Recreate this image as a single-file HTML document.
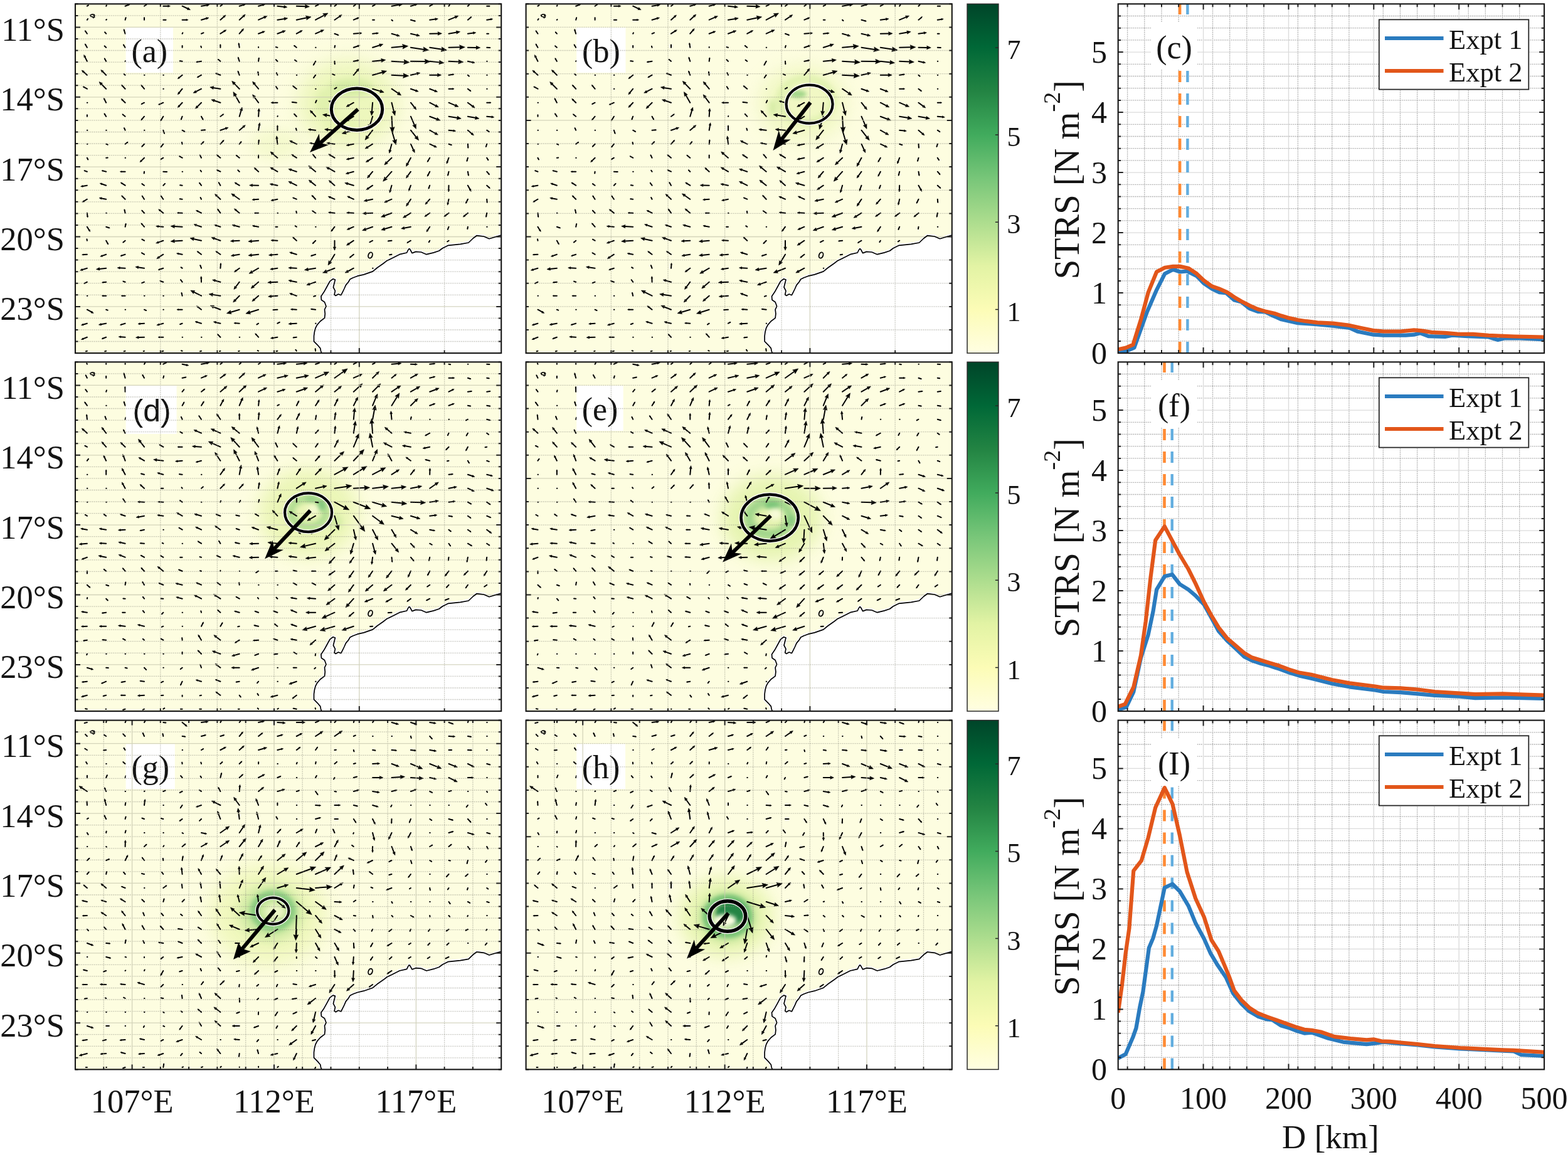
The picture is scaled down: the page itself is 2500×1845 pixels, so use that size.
<!DOCTYPE html><html><head><meta charset="utf-8"><title>STRS maps</title><style>html,body{margin:0;padding:0;background:#fff;}svg{display:block;}text{font-family:"Liberation Serif","Times New Roman",serif;fill:#141414;}</style></head><body><svg xmlns="http://www.w3.org/2000/svg" width="2500" height="1845" viewBox="0 0 2500 1845" font-family="Liberation Serif, Times New Roman, serif" fill="#000"><defs><clipPath id="clip_a"><rect x="120" y="6.3" width="679.2" height="556.8"/></clipPath><clipPath id="clip_b"><rect x="838.6" y="6.3" width="679.2" height="556.8"/></clipPath><clipPath id="clip_d"><rect x="120" y="577.3" width="679.2" height="556.8"/></clipPath><clipPath id="clip_e"><rect x="838.6" y="577.3" width="679.2" height="556.8"/></clipPath><clipPath id="clip_g"><rect x="120" y="1148.6" width="679.2" height="556.8"/></clipPath><clipPath id="clip_h"><rect x="838.6" y="1148.6" width="679.2" height="556.8"/></clipPath><linearGradient id="cbg" x1="0" y1="0" x2="0" y2="1"><stop offset="0.000" stop-color="#004529"/><stop offset="0.125" stop-color="#006837"/><stop offset="0.250" stop-color="#238443"/><stop offset="0.375" stop-color="#41ab5d"/><stop offset="0.500" stop-color="#78c679"/><stop offset="0.625" stop-color="#addd8e"/><stop offset="0.750" stop-color="#e2f3a4"/><stop offset="0.875" stop-color="#fcfcb6"/><stop offset="1.000" stop-color="#fffee2"/></linearGradient><clipPath id="pclip0"><rect x="1782.7" y="6.3" width="679.4" height="556.8"/></clipPath><clipPath id="pclip1"><rect x="1782.7" y="577.3" width="679.4" height="556.8"/></clipPath><clipPath id="pclip2"><rect x="1782.7" y="1148.6" width="679.4" height="556.8"/></clipPath><filter id="bl3" x="-60%" y="-60%" width="220%" height="220%"><feGaussianBlur stdDeviation="3"/></filter><filter id="bl4" x="-60%" y="-60%" width="220%" height="220%"><feGaussianBlur stdDeviation="4"/></filter><filter id="bl5" x="-60%" y="-60%" width="220%" height="220%"><feGaussianBlur stdDeviation="5"/></filter><filter id="bl6" x="-60%" y="-60%" width="220%" height="220%"><feGaussianBlur stdDeviation="6"/></filter><filter id="bl7" x="-60%" y="-60%" width="220%" height="220%"><feGaussianBlur stdDeviation="7"/></filter><filter id="bl9" x="-60%" y="-60%" width="220%" height="220%"><feGaussianBlur stdDeviation="9"/></filter><filter id="bl10" x="-60%" y="-60%" width="220%" height="220%"><feGaussianBlur stdDeviation="10"/></filter><filter id="bl13" x="-60%" y="-60%" width="220%" height="220%"><feGaussianBlur stdDeviation="13"/></filter><filter id="bl14" x="-60%" y="-60%" width="220%" height="220%"><feGaussianBlur stdDeviation="14"/></filter><filter id="bl15" x="-60%" y="-60%" width="220%" height="220%"><feGaussianBlur stdDeviation="15"/></filter><filter id="bl16" x="-60%" y="-60%" width="220%" height="220%"><feGaussianBlur stdDeviation="16"/></filter></defs><rect width="2500" height="1845" fill="#fff"/><g clip-path="url(#clip_a)"><rect x="120" y="6.3" width="679.2" height="556.8" fill="#fdfde0"/><ellipse cx="555" cy="165" rx="80" ry="70" fill="#e9f5b4" opacity="0.8" filter="url(#bl15)"/><ellipse cx="560" cy="140" rx="35" ry="14" fill="#cfe99e" opacity="0.8" filter="url(#bl6)"/><ellipse cx="520" cy="165" rx="18" ry="25" fill="#dcefa8" opacity="0.7" filter="url(#bl6)"/><ellipse cx="545" cy="200" rx="30" ry="10" fill="#e0f1ab" opacity="0.6" filter="url(#bl6)"/><ellipse cx="440" cy="230" rx="40" ry="25" fill="#f0f8c2" opacity="0.6" filter="url(#bl10)"/><path d="M799.2 375 L780 380.7 L771.4 377 L760 375.7 L754.3 380 L747 387 L734 389.3 L714.3 391.4 L705.7 395.7 L700 400 L691.4 402.9 L680 405.7 L671.4 402 L662.9 401.4 L657 403.6 L654 398 L652.5 396.5 L650.5 399 L648.6 403 L637 405.7 L625.7 411.4 L617 415.7 L611.4 420 L601.4 427 L594.3 432.9 L580 437.9 L570 440.2 L563.2 442.7 L558.1 445.3 L555.6 449.5 L551.4 454.6 L548.8 460.5 L546.3 465.6 L543.7 470.7 L539.5 469 L535.3 471.5 L533.1 469.8 L534.4 463.9 L531.4 458 L534.4 446.1 L531 444.8 L525.9 448.6 L520.8 458 L516.6 465.6 L511.9 472.4 L512.4 478.3 L517.5 481.7 L520 488.5 L517.5 493.6 L518.3 500.3 L517.5 507.1 L510.7 512.2 L505.6 518.1 L503 523.2 L501.4 529.2 L500.5 535.9 L500.5 544.4 L506.4 550.3 L510.7 555.4 L511.5 559.7 L512.8 563.1 L799.2 565.1 L801.2 375 Z" fill="#fff" stroke="#fff" stroke-width="5" stroke-linejoin="round"/><path d="M144 24.3 l3 -1.5 l3 0.5 l1 1.5 l-1.5 0.3 l1.2 2.2 l-1.8 1.2 l-1.5 -1.8 l-2.5 -0.4 z" fill="none" stroke="#000" stroke-width="1.6"/><path d="M138.9 9.7L140.8 8.4M169.2 9.7L169.9 8.4M199.6 9.7L205.4 7.5M230 9.7L233.2 7.5M260.3 9.7L268.2 9.7M290.6 9.7L299.8 14M321 9.7L330.2 8.2M351.4 9.7L353.9 7.8M381.7 9.7L388.4 7.9M412.1 9.7L419.4 7.9M442.4 9.7L453.4 10.9M472.8 9.7L487.4 10.3M503.1 9.7L506.9 7.8M533.5 9.7L536 7.8M563.8 9.7L566.4 7.8M594.1 9.7L597.4 7.8M624.5 9.7L636.7 7.6M654.9 9.7L662.2 7.6M685.2 9.7L689 7.5M715.5 9.7L716.8 7.8M745.9 9.7L747.8 7.8M776.2 9.7L780.1 9.7M138.9 31.7L139.9 30.2M169.2 31.7L169.9 31.1M199.6 31.7L200.5 28.5M230 31.7L230 28.5M260.3 31.7L264.1 31.7M290.6 31.7L297.4 31.7M321 31.7L329.6 29.3M351.4 31.7L357.5 26.2M381.7 31.7L388.4 25.6M412.1 31.7L421.8 27.4M442.4 31.7L454 29.9M472.8 31.7L489.2 28.3M503.1 31.7L517.2 24.1M533.5 31.7L541.8 26M563.8 31.7L570.2 29M594.1 31.7L596.7 31.7M624.5 31.7L625.8 33M654.9 31.7L660.9 33.4M685.2 31.7L694.6 30.5M715.5 31.7L726.5 27.1M745.9 31.7L750.4 27.9M776.2 31.7L783 30.7M138.9 53.7L136.3 49.9M169.2 53.7L167.3 51.5M199.6 53.7L197.9 48.2M290.6 53.7L291.3 52.4M321 53.7L324.2 52.4M351.4 53.7L358.1 49.4M381.7 53.7L386.6 48M412.1 53.7L419.4 51M442.4 53.7L451.6 50.3M472.8 53.7L479.5 50M503.1 53.7L512.6 49.4M533.5 53.7L538.6 55.6M563.8 53.7L573.2 53.1M594.1 53.7L600.9 53.1M624.5 53.7L633.7 56.4M654.9 53.7L665.1 56.1M685.2 53.7L698.9 53.5M715.5 53.7L728.4 51.5M745.9 53.7L755.1 52.5M776.2 53.7L778.8 53.7M138.9 75.7L136.3 71.2M169.2 75.7L166.8 73.5M199.6 75.7L197.3 71.9M290.6 75.7L290.6 73.1M321 75.7L320.4 73.8M351.4 75.7L351.4 71.9M381.7 75.7L380.8 70.2M412.1 75.7L412.1 75.1M442.4 75.7L440.1 75.1M472.8 75.7L469.5 73.1M503.1 75.7l0.5 0M533.5 75.7L534.1 72.9M563.8 75.7L571.1 73.3M594.1 75.7L606 72M624.5 75.7L643.1 74.1M654.9 75.7L676 78.9M685.2 75.7L705 78.8M715.5 75.7L733.9 75.3M745.9 75.7L760 75.9M776.2 75.7L780.7 76M138.9 97.7L135.2 90.4M169.2 97.7L167.1 93.9M199.6 97.7L200.2 97.1M290.6 97.7L287.1 97.3M321 97.7L314.6 98.7M351.4 97.7L348.3 95.1M381.7 97.7L380 92.6M412.1 97.7L412.7 93.2M442.4 97.7L440.1 95.4M472.8 97.7L470.2 95.8M503.1 97.7L500.3 102.8M533.5 97.7L533.7 101.8M563.8 97.7L570.2 96.5M594.1 97.7L608.8 96.2M624.5 97.7L645.2 99M654.9 97.7L678.5 98.1M685.2 97.7L701.3 99.5M715.5 97.7L732 98.6M745.9 97.7L753.8 99.4M776.2 97.7l0.5 0M138.9 119.7L132.8 114.2M169.2 119.7L163.3 113.8M199.6 119.7L197.9 118.2M230 119.7l0.5 0M260.3 119.7l0.5 0M290.6 119.7L285.4 124M321 119.7L315.9 122.6M351.4 119.7L345.5 117.5M381.7 119.7L379.8 114.6M412.1 119.7L411.4 115.2M442.4 119.7L441 116.5M472.8 119.7l0.5 0M503.1 119.7L500.4 123.5M533.5 119.7L530.5 118.4M563.8 119.7L570.2 112.1M594.1 119.7L610 115.2M624.5 119.7L644 120.7M654.9 119.7L665.5 117.3M685.2 119.7L698.3 119.7M715.5 119.7L722 118.8M745.9 119.7L747.8 121.4M776.2 119.7l0.5 0M138.9 141.7L133.8 138.9M169.2 141.7L161.3 133.8M199.6 141.7L195.1 136.8M230 141.7L226.1 136.8M260.3 141.7l0.5 0M290.6 141.7L285.4 148.2M321 141.7L311.8 146.3M351.4 141.7L339.6 139.9M381.7 141.7L373.1 132.9M412.1 141.7L405.3 133.4M442.4 141.7L440.4 138.5M472.8 141.7L468 137.9M503.1 141.7l0.5 0M533.5 141.7L536.3 139.8M594.1 141.7L607 145.6M624.5 141.7L635.3 149M654.9 141.7L663.6 144.8M685.2 141.7L694 145.1M715.5 141.7L722 141.7M745.9 141.7L749.7 144.6M776.2 141.7l0.5 0M138.9 163.7l0.5 0M169.2 163.7L166.4 158.2M199.6 163.7L195 159.2M230 163.7L226.1 165.6M260.3 163.7L254.4 166.3M290.6 163.7L285.4 169.2M321 163.7L314.3 170.4M351.4 163.7L341.1 160.3M381.7 163.7L374.7 151.5M412.1 163.7L405.3 154.5M442.4 163.7L434.9 163.7M472.8 163.7L466.7 163.1M503.1 163.7L504.5 160.5M533.5 163.7L526.4 161.9M563.8 163.7L555.5 168.3M594.1 163.7L592.9 178.4M624.5 163.7L628.2 178.4M654.9 163.7L661.2 171.6M685.2 163.7L695.2 168.8M715.5 163.7L726.5 168.3M745.9 163.7L753.8 169.6M776.2 163.7L781.4 163.7M138.9 185.7L138.9 183.4M169.2 185.7L166.8 181.9M199.6 185.7L196 182.8M230 185.7L226.1 190.4M260.3 185.7L257 191.2M290.6 185.7L289 189.9M321 185.7L323.3 189.9M351.4 185.7L355.4 182.8M381.7 185.7L384.8 175.3M412.1 185.7L412.7 176.5M442.4 185.7L442.7 185.1M472.8 185.7L469.5 182.2M503.1 185.7L496.9 178.7M533.5 185.7L520 183.6M563.8 185.7L555.2 191.2M594.1 185.7L589.6 200.4M624.5 185.7L625.5 204M654.9 185.7L661 199.8M685.2 185.7L697.1 190.2M715.5 185.7L729.6 188.1M745.9 185.7L758.7 188.1M776.2 185.7L784.4 186.6M138.9 207.7l0.5 0M169.2 207.7l0.5 0M199.6 207.7L198.2 204.5M230 207.7l0.5 0M260.3 207.7L261.8 212.2M290.6 207.7L294.1 209.6M321 207.7L326.4 207.3M351.4 207.7L360.4 204.6M381.7 207.7L388.4 202M412.1 207.7L413.5 199.1M442.4 207.7L442.4 201.7M472.8 207.7L471.9 204.9M503.1 207.7L494.7 206.7M533.5 207.7L522.1 206.7M563.8 207.7L550.6 211.4M594.1 207.7L585.6 218.7M624.5 207.7L629.4 224.2M654.9 207.7L663.9 219.1M685.2 207.7L694.6 213M715.5 207.7L723.5 208.6M745.9 207.7L752.6 213.4M776.2 207.7L779.5 209.9M138.9 229.7l0.5 0M169.2 229.7L171.6 230.7M199.6 229.7L203.1 227.1M230 229.7L226.7 233.3M260.3 229.7L257 233.8M290.6 229.7L290 227.1M321 229.7L324.2 226.5M351.4 229.7L355.7 224.8M381.7 229.7L384.3 226.5M412.1 229.7L412.7 224.3M442.4 229.7L441.4 220.5M472.8 229.7L464.8 225.8M503.1 229.7L496.3 228.5M533.5 229.7L524.5 228.5M563.8 229.7L555.5 231.3M594.1 229.7L585.6 235M624.5 229.7L621.8 240.1M654.9 229.7L659.4 239.5M685.2 229.7L693.1 233.4M715.5 229.7L719.4 231M745.9 229.7L746.3 234.8M776.2 229.7L775 233.5M138.9 251.7L140.2 254.3M169.2 251.7L171.6 251.4M199.6 251.7l0.5 0M230 251.7L225.1 256.6M260.3 251.7L257 253.6M290.6 251.7L286.7 249.5M321 251.7L319.1 247.9M351.4 251.7L346.7 247.9M381.7 251.7L377.5 248.2M412.1 251.7L412.1 247.9M442.4 251.7L434.3 244.7M472.8 251.7L467 247.8M503.1 251.7L499.4 247.2M533.5 251.7L526.6 247.4M563.8 251.7L555.5 253.5M594.1 251.7L586.5 256.6M624.5 251.7L616.2 259.6M654.9 251.7L649.6 261.5M685.2 251.7L682.3 256.8M715.5 251.7L713.1 258.4M745.9 251.7L744.6 256.2M776.2 251.7L778.2 254.9M138.9 273.7L135.1 272.4M169.2 273.7L163.9 272.4M199.6 273.7L193.5 273.7M230 273.7L229.7 276.3M260.3 273.7L265.4 274M290.6 273.7l0.5 0M321 273.7L319.7 271.8M351.4 273.7L346.7 271.5M381.7 273.7L379.5 271.5M412.1 273.7L407.2 269.2M442.4 273.7L434.1 268.8M472.8 273.7L463.6 270.6M503.1 273.7L495 267M533.5 273.7L523.7 268.2M563.8 273.7L554.9 276.1M594.1 273.7L588 281M624.5 273.7L614.7 284.7M654.9 273.7L649.6 281M685.2 273.7L682.3 279.5M715.5 273.7L714.3 278.8M745.9 273.7L746.8 278.8M776.2 273.7L779.5 277.5M138.9 295.7L131.6 296.9M169.2 295.7L162 293.3M199.6 295.7L194.1 292.1M230 295.7L226.7 293.4M260.3 295.7L262.7 293.1M290.6 295.7L287.4 295.3M321 295.7L318.4 292.1M351.4 295.7L349 291.6M381.7 295.7L376.2 292.3M412.1 295.7L401.8 295.5M442.4 295.7L433.7 294M472.8 295.7L463.6 291.2M503.1 295.7L495.4 289.6M533.5 295.7L527 290M563.8 295.7L553.8 292.8M594.1 295.7L586.9 300.6M624.5 295.7L622.2 304M654.9 295.7L652.5 302.2M685.2 295.7L683.7 299.9M715.5 295.7L715.3 303M745.9 295.7L749.7 302.5M776.2 295.7L780.1 299.3M138.9 317.7L133.4 321M169.2 317.7L161.3 316.2M199.6 317.7L195.1 313.2M230 317.7L227.1 313.2M260.3 317.7L257.2 313.2M290.6 317.7L287.1 317.3M321 317.7L319.7 315.1M351.4 317.7L345.1 311.8M381.7 317.7L372.5 311.3M412.1 317.7L404.8 318.3M442.4 317.7L434.9 319.2M472.8 317.7L468 315.7M503.1 317.7L498.5 312.8M533.5 317.7L526.1 314.5M563.8 317.7L556.6 314.3M594.1 317.7L584.3 319.8M624.5 317.7L616.1 321.4M654.9 317.7L649.7 325.6M685.2 317.7L680.1 323.6M715.5 317.7L714.1 324.4M745.9 317.7L743.5 322.8M776.2 317.7L776.6 322.2M138.9 339.7L139.5 345.1M169.2 339.7l0.5 0M199.6 339.7L198.6 335.1M230 339.7L226.7 336.1M260.3 339.7L254.9 335.4M290.6 339.7L284.5 339.4M321 339.7L314.9 336.6M351.4 339.7L347.8 334.6M381.7 339.7L375.8 334.8M412.1 339.7L407.1 339.7M442.4 339.7l0.5 0M472.8 339.7L472.4 337.1M503.1 339.7L498.9 336.8M533.5 339.7L526.4 339M563.8 339.7L555.7 339.3M594.1 339.7L582.8 340.2M624.5 339.7L612.4 344.2M654.9 339.7L646.1 345.1M685.2 339.7L679.3 343.9M715.5 339.7L710.1 343.9M745.9 339.7L740.5 344.2M776.2 339.7L775.2 344.8M138.9 361.7L142.3 367.2M169.2 361.7L173.7 363.2M199.6 361.7L200.5 357.5M230 361.7L226.1 357.2M260.3 361.7L252 361M290.6 361.7L277.5 361M321 361.7L312.4 358.9M351.4 361.7L344.5 359.5M381.7 361.7L373.4 359.5M412.1 361.7L405.1 360.4M442.4 361.7L439.7 361.7M472.8 361.7L470.8 360.4M503.1 361.7l0.5 0M533.5 361.7L529.4 367.1M563.8 361.7L556.2 365M594.1 361.7L582.4 365.9M624.5 361.7L612.6 365.2M654.9 361.7L644 363.8M685.2 361.7L681.5 367.4M715.5 361.7L714 365.5M745.9 361.7L745.4 364.8M776.2 361.7l0.5 0M138.9 383.7L138.5 381.5M169.2 383.7L171.8 388.4M199.6 383.7L196.7 386.3M230 383.7L226.7 381.8M260.3 383.7L252 386.6M290.6 383.7L277.5 384.6M321 383.7L308.2 380.9M351.4 383.7L341.1 380M381.7 383.7L371.6 384.3M412.1 383.7L400.6 384.7M442.4 383.7L434.9 383.3M472.8 383.7L468 379.2M503.1 383.7L499.4 387.5M533.5 383.7L533.5 394.7M563.8 383.7L555.7 389.1M594.1 383.7L589.9 385.9M624.5 383.7L619.5 384.3M654.9 383.7L650.2 386.5M685.2 383.7L683.9 386M715.5 383.7L713.4 385.2M138.9 405.7L132.8 406.1M169.2 405.7L162.5 408.1M199.6 405.7L193.8 407.6M230 405.7L226.4 403.5M260.3 405.7L252.8 410.6M290.6 405.7L284.2 404.5M321 405.7L315.9 401.9M351.4 405.7L346 402M381.7 405.7L372.2 407.3M412.1 405.7L400.6 406.9M442.4 405.7L432.5 406.6M472.8 405.7L464.8 403.3M503.1 405.7L497.2 407.6M533.5 405.7L526.1 417.9M563.8 405.7L558.8 409.8M624.5 405.7L621.3 406.3M138.9 427.7L131 430.1M169.2 427.7L158 428.9M199.6 427.7L190.7 427.2M230 427.7L219.9 426.2M260.3 427.7L254.2 429.7M290.6 427.7L288.7 426.4M321 427.7L319.5 423.6M351.4 427.7L351.9 421.6M381.7 427.7L375.8 432.1M412.1 427.7L401.4 433.8M442.4 427.7L434.1 428.9M472.8 427.7L463.6 427.2M503.1 427.7L490.5 429.7M533.5 427.7L520 433M563.8 427.7L554.1 433M594.1 427.7l0.5 0M138.9 449.7L135.1 451.6M169.2 449.7L164.3 450.3M199.6 449.7L196.7 448.7M230 449.7L226.4 451.2M260.3 449.7L255.9 448.2M290.6 449.7L288.3 446.5M321 449.7L320.8 443.2M351.4 449.7L342.3 447.3M381.7 449.7L375.5 458M412.1 449.7L403.6 457M442.4 449.7L431.3 450.3M472.8 449.7L463.6 447.9M503.1 449.7L493 453.1M138.9 471.7l0.5 0M169.2 471.7L164.1 471.7M199.6 471.7L194.9 471.7M230 471.7l0.5 0M260.3 471.7l0.5 0M290.6 471.7L289.6 467.5M321 471.7L308.8 465.6M351.4 471.7L338.4 469.7M381.7 471.7L374.6 479M412.1 471.7L404.8 478.1M442.4 471.7L431.9 472.6M472.8 471.7L464.8 468.9M503.1 471.7L500.4 472.6M138.9 493.7L146.2 497.7M169.2 493.7L171.6 494.6M199.6 493.7l0.5 0M230 493.7L232.8 495M260.3 493.7l0.5 0M290.6 493.7L284.1 493.7M321 493.7L315.5 489.4M351.4 493.7L339.9 489.2M381.7 493.7L367.3 498M412.1 493.7L397.8 498.2M442.4 493.7L436.5 494.1M472.8 493.7L466 493.3M503.1 493.7L497.2 493.1M138.9 515.7L132.2 517.8M169.2 515.7L160.8 517.3M199.6 515.7L193.5 517.6M230 515.7L222.9 516.3M260.3 515.7L252.8 517.8M290.6 515.7L287.4 517M321 515.7L313.9 513.6M351.4 515.7L343.5 513.9M381.7 515.7L375.2 515.3M412.1 515.7L409.6 517.4M442.4 515.7L445.5 514M472.8 515.7L463.6 516.3M503.1 515.7l0.5 0M138.9 537.7L132.2 540.4M169.2 537.7L163.9 539.7M199.6 537.7L192.1 537.2M230 537.7L220.4 538.1M260.3 537.7L254.2 537.7M290.6 537.7l0.5 0M321 537.7l0.5 0M351.4 537.7L347.8 533.9M381.7 537.7l0.5 0M412.1 537.7L408.1 533.2M442.4 537.7L434.6 538.9M472.8 537.7L468.3 538.3M138.9 559.7L137 560.3M169.2 559.7L167.3 560.3M199.6 559.7L197.7 560.3M230 559.7L228.7 560.1M260.3 559.7L258.4 560.3M290.6 559.7L289.1 559.3M321 559.7L319.1 560.3M351.4 559.7L350.1 560.1M381.7 559.7L380.2 560.1M412.1 559.7L410.8 559.1M442.4 559.7L440.5 560.1M472.8 559.7L471.5 557.8M503.1 559.7L502.7 556.5" stroke="#000" stroke-width="2" fill="none" stroke-linecap="round"/><path d="M141.5 8L140.9 8.8L140.8 8.4L140.5 8.2ZM170.1 8L170.1 8.6L169.9 8.4L169.6 8.4ZM207.3 6.8L205.4 8.6L205.4 7.5L204.6 6.7ZM234.2 6.8L233.3 8.2L233.2 7.5L232.6 7.1ZM271.5 9.7L267.7 11.3L268.2 9.7L267.7 8.1ZM303.5 15.7L298.3 15.5L299.8 14L300 11.8ZM333.9 7.6L329.8 10.2L330.2 8.2L329.2 6.5ZM354.8 7.1L354.1 8.3L353.9 7.8L353.4 7.5ZM391.2 7.1L388.3 9.3L388.4 7.9L387.6 6.6ZM422.4 7.1L419.2 9.5L419.4 7.9L418.5 6.5ZM457.9 11.4L452.4 13L453.4 10.9L452.9 8.6ZM493.4 10.6L486.2 13.2L487.4 10.3L486.5 7.3ZM508.3 7.1L507 8.5L506.9 7.8L506.4 7.2ZM536.9 7.1L536.2 8.3L536 7.8L535.5 7.5ZM567.2 7.1L566.5 8.3L566.4 7.8L565.9 7.5ZM598.4 7.1L597.5 8.4L597.4 7.8L596.8 7.4ZM641.7 6.8L636.3 10.2L636.7 7.6L635.4 5.3ZM665.2 6.8L662.1 9.2L662.2 7.6L661.2 6.3ZM690.4 6.8L689.2 8.3L689 7.5L688.4 7ZM717.3 7.1L717.1 8.1L716.8 7.8L716.4 7.7ZM748.5 7.1L748 8.2L747.8 7.8L747.4 7.6ZM781.4 9.7L779.9 10.3L780.1 9.7L779.9 9.1ZM140.3 29.6L140.1 30.4L139.9 30.2L139.6 30.1ZM170.1 30.8L170 31.2L169.9 31.1L169.7 31ZM200.8 27.4L201 28.8L200.5 28.5L199.9 28.5ZM230 27.4L230.5 28.7L230 28.5L229.4 28.7ZM265.5 31.7L263.9 32.3L264.1 31.7L263.9 31.1ZM300.1 31.7L296.9 33L297.4 31.7L296.9 30.4ZM333 28.3L329.4 31.1L329.6 29.3L328.4 27.7ZM359.9 24L358.1 27.8L357.5 26.2L355.9 25.4ZM391.2 23.1L389.2 27.4L388.4 25.6L386.7 24.7ZM425.8 25.7L422 29.7L421.8 27.4L420.3 25.8ZM458.7 29.1L453.5 32.3L454 29.9L452.8 27.7ZM496 26.9L488.8 31.8L489.2 28.3L487.4 25.2ZM522.9 21L517.7 27.5L517.2 24.1L514.6 21.8ZM545.1 23.6L542.3 28L541.8 26L540 24.7ZM572.7 27.9L570.2 30.5L570.2 29L569.2 27.9ZM597.6 31.7L596.6 32.1L596.7 31.7L596.6 31.3ZM626.2 33.4L625.5 33.1L625.8 33L625.9 32.7ZM662.9 33.9L660.2 34.3L660.9 33.4L660.8 32.2ZM698.4 30L694.2 32.5L694.6 30.5L693.7 28.7ZM731 25.2L726.7 29.6L726.5 27.1L724.8 25.2ZM751.9 26.5L750.8 28.8L750.4 27.9L749.5 27.3ZM785.7 30.3L782.7 32.1L783 30.7L782.3 29.4ZM135.5 48.5L137.1 49.7L136.3 49.9L135.8 50.5ZM166.7 50.8L167.8 51.3L167.3 51.5L167.1 52ZM197.4 46.3L199 48.2L197.9 48.2L197.1 48.8ZM291.5 52L291.5 52.6L291.3 52.4L291 52.4ZM325.3 52L324.2 53L324.2 52.4L323.8 52ZM360.8 47.7L358.4 51.1L358.1 49.4L356.7 48.4ZM388.6 45.6L387.4 49.4L386.6 48L385.1 47.4ZM422.4 49.9L419.4 52.7L419.4 51L418.3 49.7ZM455.3 48.9L451.6 52.4L451.6 50.3L450.2 48.7ZM482.2 48.5L479.7 51.6L479.5 50L478.3 48.9ZM516.5 47.7L512.8 51.6L512.6 49.4L511.1 47.8ZM540.3 56.3L537.9 56.4L538.6 55.6L538.6 54.6ZM577 52.8L572.7 55L573.2 53.1L572.4 51.2ZM603.6 52.8L600.5 54.5L600.9 53.1L600.3 51.8ZM637.4 57.5L632.5 58L633.7 56.4L633.5 54.4ZM669.3 57.1L663.9 58L665.1 56.1L664.9 53.9ZM704.5 53.4L698 56.2L698.9 53.5L697.9 50.7ZM733.6 50.6L727.9 54.2L728.4 51.5L727 49.1ZM758.8 52L754.7 54.4L755.1 52.5L754.2 50.7ZM779.7 53.7L778.7 54.1L778.8 53.7L778.7 53.3ZM135.5 69.7L137.3 71.1L136.3 71.2L135.7 71.9ZM166 72.8L167.3 73.2L166.8 73.5L166.6 74.1ZM196.5 70.5L198.1 71.7L197.3 71.9L196.8 72.5ZM290.6 72.3L291.1 73.3L290.6 73.1L290.2 73.3ZM320.1 73.1L320.7 73.8L320.4 73.8L320.1 74ZM351.4 70.5L352 72.1L351.4 71.9L350.7 72.1ZM380.5 68.3L381.8 70.4L380.8 70.2L379.9 70.7ZM412.1 74.8L412.2 75.1L412.1 75.1L411.9 75.1ZM439.3 74.8L440.3 74.7L440.1 75.1L440.1 75.5ZM468.5 72.3L470.2 72.8L469.5 73.1L469.3 73.8ZM534.3 71.9L534.5 73.2L534.1 72.9L533.6 72.9ZM574.1 72.3L571.1 74.9L571.1 73.3L570.1 72ZM610.8 70.5L605.9 74.7L606 72L604.4 69.9ZM650.6 73.5L642.1 78L643.1 74.1L641.4 70.5ZM683.6 80L674.1 82.4L676 78.9L675.2 74.9ZM712.5 80L703.1 82.3L705 78.8L704.2 74.9ZM741.3 75.2L732.6 79L733.9 75.3L732.5 71.7ZM765.7 76L758.9 78.7L760 75.9L759 73.1ZM782.3 76L780.4 76.7L780.7 76L780.5 75.2ZM133.7 87.4L137 90.2L135.2 90.4L134 91.6ZM166.3 92.5L167.9 93.7L167.1 93.9L166.6 94.5ZM200.5 96.8L200.3 97.2L200.2 97.1L200.1 97ZM285.8 97.2L287.3 96.7L287.1 97.3L287.2 97.9ZM312.4 99.1L314.8 97.6L314.6 98.7L315.2 99.7ZM347.2 94.3L348.9 94.8L348.3 95.1L348 95.8ZM379.5 90.8L381 92.6L380 92.6L379.3 93.2ZM412.9 91.7L413.4 93.6L412.7 93.2L411.9 93.4ZM439.3 94.6L440.6 95.1L440.1 95.4L439.8 95.9ZM469.3 95.1L470.7 95.5L470.2 95.8L470 96.3ZM499.3 104.6L499.6 102L500.3 102.8L501.3 103ZM533.8 103.2L533 101.6L533.7 101.8L534.4 101.5ZM572.7 96L569.9 97.8L570.2 96.5L569.5 95.3ZM614.8 95.6L608.1 99.3L608.8 96.2L607.5 93.4ZM652.9 99.4L643.6 102.6L645.2 99L644.1 95.1ZM686.1 98.2L677.1 101.8L678.5 98.1L677.2 94.3ZM707.9 100.3L699.8 102.6L701.3 99.5L700.5 96.2ZM738.8 98.9L730.7 101.8L732 98.6L731 95.2ZM757.1 100.1L752.9 100.9L753.8 99.4L753.6 97.7ZM130.3 112L134.3 113.4L132.8 114.2L132.1 115.8ZM160.8 111.4L164.9 113.1L163.3 113.8L162.5 115.5ZM197.4 117.6L198.3 118L197.9 118.2L197.8 118.5ZM283.3 125.7L284.9 122.6L285.4 124L286.6 124.7ZM314.1 123.7L315.7 121.6L315.9 122.6L316.7 123.3ZM343.4 116.8L346.2 116.7L345.5 117.5L345.4 118.7ZM379.1 112.8L380.8 114.6L379.8 114.6L379 115.2ZM411.2 113.7L412.2 115.4L411.4 115.2L410.7 115.6ZM440.5 115.4L441.6 116.5L441 116.5L440.5 116.9ZM499.5 124.9L499.9 122.9L500.4 123.5L501.2 123.8ZM529.5 118L530.9 118L530.5 118.4L530.5 119ZM572.7 109L571.2 113.9L570.2 112.1L568.2 111.4ZM616.5 113.3L609.8 118.7L610 115.2L608 112.3ZM651.7 121.1L642.5 124.4L644 120.7L642.9 116.8ZM669.8 116.3L665.2 119.6L665.5 117.3L664.2 115.3ZM703.6 119.7L697.3 122.3L698.3 119.7L697.3 117.1ZM724.1 118.5L721.7 119.9L722 118.8L721.4 117.8ZM748.5 121.9L747.4 121.6L747.8 121.4L748 120.9ZM132 137.9L134.6 138.2L133.8 138.9L133.6 139.9ZM158.1 130.5L163.5 132.7L161.3 133.8L160.3 135.9ZM193.6 135.2L196.2 136.4L195.1 136.8L194.6 137.9ZM224.8 135.2L227.2 136.5L226.1 136.8L225.5 137.8ZM283.3 150.8L284.5 146.7L285.4 148.2L287.1 148.8ZM308.1 148.2L311.6 144.2L311.8 146.3L313.4 147.9ZM334.8 139.1L340.8 137.6L339.6 139.9L340.1 142.4ZM369.7 129.3L375.5 131.8L373.1 132.9L372 135.3ZM402.6 130L407.5 132.6L405.3 133.4L404.1 135.3ZM439.6 137.4L441 138.3L440.4 138.5L439.9 139ZM466.4 136.5L468.9 137.3L468 137.9L467.6 138.9ZM537.2 139.1L536.4 140.4L536.3 139.8L535.8 139.4ZM612.2 147.2L605.3 147.9L607 145.6L606.8 142.8ZM639.6 152L633 150.7L635.3 149L636 146.3ZM667.2 146L662.4 146.3L663.6 144.8L663.6 142.8ZM697.6 146.5L692.7 146.6L694 145.1L694.1 143.1ZM724.1 141.7L721.6 142.8L722 141.7L721.6 140.6ZM751.1 145.7L749 145.1L749.7 144.6L750 143.8ZM165.5 156.3L167.5 158L166.4 158.2L165.7 159ZM193.1 157.3L196.2 158.6L195 159.2L194.4 160.4ZM224.8 166.3L226 164.9L226.1 165.6L226.7 166.2ZM252.4 167.1L254.3 165.1L254.4 166.3L255.2 167.1ZM283.3 171.4L284.7 167.7L285.4 169.2L286.9 169.9ZM311.5 173.2L313.4 168.6L314.3 170.4L316.1 171.3ZM336.9 158.9L342.5 158.5L341.1 160.3L341.1 162.6ZM371.9 146.5L377.7 151L374.7 151.5L372.8 153.8ZM402.6 150.8L407.7 153.8L405.3 154.5L404 156.5ZM431.9 163.7L435.5 162.2L434.9 163.7L435.5 165.2ZM464.7 162.8L467.2 162.1L466.7 163.1L467 164.1ZM505 159.4L505 160.9L504.5 160.5L503.9 160.5ZM523.5 161.1L527.2 160.6L526.4 161.9L526.5 163.4ZM552.1 170.2L555.2 166.3L555.5 168.3L557 169.7ZM592.4 184.3L590.1 177.1L592.9 178.4L596 177.6ZM629.7 184.3L625 178L628.2 178.4L630.8 176.6ZM663.8 174.9L659.2 172.3L661.2 171.6L662.3 169.8ZM699.3 170.9L693.5 170.5L695.2 168.8L695.5 166.5ZM731 170.2L724.8 170.2L726.5 168.3L726.7 165.8ZM757.1 172L752.1 170.7L753.8 169.6L754.5 167.5ZM783.1 163.7L781.1 164.6L781.4 163.7L781.1 162.8ZM138.9 182.6L139.3 183.5L138.9 183.4L138.5 183.5ZM166 180.5L167.6 181.7L166.8 181.9L166.3 182.5ZM194.8 181.7L196.7 182.3L196 182.8L195.7 183.5ZM224.8 192.1L225.5 189.5L226.1 190.4L227.1 190.8ZM255.8 193.1L256.2 190.3L257 191.2L258.1 191.4ZM288.4 191.4L288.4 189.4L289 189.9L289.8 190ZM324.1 191.4L322.5 190.1L323.3 189.9L323.9 189.3ZM356.9 181.7L355.7 183.6L355.4 182.8L354.7 182.2ZM386 171.1L386.6 176.7L384.8 175.3L382.4 175.4ZM412.9 172.8L414.5 177.3L412.7 176.5L410.8 177.1ZM442.7 184.8L442.7 185.1L442.7 185.1L442.5 185.1ZM468.5 181.1L470.3 181.9L469.5 182.2L469.2 183ZM494.3 175.9L498.7 178L496.9 178.7L495.9 180.5ZM514.5 182.8L521.4 181.1L520 183.6L520.6 186.5ZM551.8 193.4L554.8 189.1L555.2 191.2L557 192.5ZM587.8 206.3L587 198.4L589.6 200.4L592.9 200.2ZM625.9 211.5L621.7 202.9L625.5 204L629.1 202.5ZM663.4 205.5L657.7 200L661 199.8L663.3 197.5ZM701.9 192.1L695.3 192.3L697.1 190.2L697.1 187.5ZM735.3 189.1L728.1 190.8L729.6 188.1L729.1 185.1ZM763.9 189.1L757.3 190.5L758.7 188.1L758.3 185.4ZM787.8 186.9L783.7 188.1L784.4 186.6L784 184.8ZM197.7 203.4L198.8 204.5L198.2 204.5L197.7 204.9ZM262.4 213.7L261 212.2L261.8 212.2L262.5 211.7ZM295.3 210.3L293.6 210.1L294.1 209.6L294.2 208.9ZM328.2 207.2L326.1 208.2L326.4 207.3L326 206.4ZM364.1 203.4L360.4 206.7L360.4 204.6L359.1 203ZM391.2 199.6L389.1 203.7L388.4 202L386.8 201ZM414.1 195.7L415.1 200.1L413.5 199.1L411.7 199.5ZM442.4 199.6L443.4 202L442.4 201.7L441.4 202ZM471.5 203.9L472.4 204.9L471.9 204.9L471.4 205.2ZM491.2 206.3L495.5 205.1L494.7 206.7L495.1 208.5ZM517.5 206.3L523.1 204.5L522.1 206.7L522.7 209.1ZM545.2 212.9L550.8 208.5L550.6 211.4L552.3 213.8ZM582.1 223.2L584 216.2L585.6 218.7L588.4 219.6ZM631.4 230.9L625.7 224L629.4 224.2L632.4 222ZM667.6 223.7L661 220.1L663.9 219.1L665.5 216.4ZM698.4 215.1L692.9 214.5L694.6 213L695 210.7ZM726.7 208.9L722.8 210.1L723.5 208.6L723.1 206.9ZM755.4 215.8L751 214.4L752.6 213.4L753.3 211.7ZM780.5 210.6L778.9 210.3L779.5 209.9L779.6 209.2ZM172.3 231.1L171.2 231.1L171.6 230.7L171.6 230.3ZM204.2 226.3L203.3 227.9L203.1 227.1L202.4 226.7ZM225.7 234.5L226.3 232.5L226.7 233.3L227.5 233.6ZM255.8 235.2L256.5 233L257 233.8L257.9 234.1ZM289.8 226.3L290.5 227.2L290 227.1L289.6 227.4ZM325.3 225.4L324.5 227.2L324.2 226.5L323.5 226.2ZM357.2 223.2L356.3 225.9L355.7 224.8L354.6 224.4ZM385.1 225.4L384.6 227.1L384.3 226.5L383.6 226.3ZM412.9 222.5L413.6 224.8L412.7 224.3L411.7 224.5ZM441 216.8L443.3 221L441.4 220.5L439.7 221.4ZM461.6 224.2L466.2 224.5L464.8 225.8L464.6 227.7ZM493.5 228L497 227.2L496.3 228.5L496.5 229.9ZM520.9 228L525.4 226.8L524.5 228.5L524.9 230.4ZM552.1 231.9L555.8 229.5L555.5 231.3L556.4 232.8ZM582.1 237.1L585.2 232.9L585.6 235L587.3 236.3ZM620.7 244.3L619.9 238.8L621.8 240.1L624.1 239.9ZM661.2 243.5L657.1 239.7L659.4 239.5L661 237.9ZM696.4 234.9L691.8 234.7L693.1 233.4L693.3 231.5ZM720.7 231.4L718.9 231.6L719.4 231L719.4 230.3ZM746.4 236.6L745.4 234.6L746.3 234.8L747.1 234.4ZM774.5 234.9L774.4 233.1L775 233.5L775.7 233.5ZM140.6 255.1L139.7 254.3L140.2 254.3L140.5 253.9ZM172.3 251.4L171.5 251.8L171.6 251.4L171.4 251.1ZM223.1 258.6L224.4 255.3L225.1 256.6L226.4 257.2ZM255.8 254.3L256.8 252.9L257 253.6L257.5 254.1ZM285.3 248.8L287.3 249L286.7 249.5L286.6 250.3ZM318.4 246.5L319.8 247.8L319.1 247.9L318.5 248.4ZM345.2 246.5L347.7 247.3L346.7 247.9L346.4 248.9ZM376 247.1L378.3 247.7L377.5 248.2L377.1 249.2ZM412.1 246.5L412.7 248.1L412.1 247.9L411.4 248.1ZM431.1 241.9L436.3 243.6L434.3 244.7L433.5 246.9ZM464.7 246.2L468.2 246.9L467 247.8L466.6 249.2ZM498.1 245.7L500.4 246.9L499.4 247.2L498.9 248.1ZM523.8 245.7L528 246.4L526.6 247.4L526.2 249.1ZM552.1 254.3L555.7 251.7L555.5 253.5L556.5 255.1ZM583.3 258.6L586 254.7L586.5 256.6L588 257.8ZM612.8 262.9L615.2 257.4L616.2 259.6L618.4 260.7ZM647.5 265.5L648 259.7L649.6 261.5L651.9 261.8ZM681.2 258.6L681.6 256L682.3 256.8L683.3 257ZM712.1 261.2L711.9 257.4L713.1 258.4L714.6 258.4ZM744.2 257.7L743.9 255.7L744.6 256.2L745.5 256.1ZM778.8 256L777.5 255L778.2 254.9L778.6 254.4ZM133.7 272L135.5 271.8L135.1 272.4L135.1 273.1ZM162 272L164.4 271.6L163.9 272.4L164 273.4ZM191.3 273.7L193.8 272.7L193.5 273.7L193.8 274.7ZM229.6 277.1L229.3 276.1L229.7 276.3L230.1 276.1ZM267.2 274L265.1 274.8L265.4 274L265.2 273.1ZM319.3 271.1L320.1 271.7L319.7 271.8L319.5 272.1ZM345.2 270.8L347.4 270.9L346.7 271.5L346.7 272.4ZM378.8 270.8L380 271.3L379.5 271.5L379.3 272ZM405.2 267.3L408.4 268.5L407.2 269.2L406.6 270.5ZM430.7 266.8L435.7 267.5L434.1 268.8L433.7 270.8ZM459.9 269.4L464.9 269L463.6 270.6L463.6 272.7ZM491.8 264.2L497 265.8L495 267L494.3 269.1ZM519.7 266L525.5 266.6L523.7 268.2L523.3 270.6ZM551.3 277.1L555 274.2L554.9 276.1L556 277.8ZM585.6 284L587 279.3L588 281L590 281.7ZM610.7 289.2L613.2 281.9L614.7 284.7L617.6 285.9ZM647.5 284L648.5 279.5L649.6 281L651.4 281.6ZM681.2 281.4L681.5 278.6L682.3 279.5L683.4 279.6ZM713.8 280.6L713.5 278.3L714.3 278.8L715.2 278.7ZM747.1 280.6L745.9 278.7L746.8 278.8L747.6 278.4ZM780.5 278.9L778.6 277.9L779.5 277.5L779.9 276.8ZM128.6 297.4L131.8 295.4L131.6 296.9L132.3 298.3ZM159.1 292.3L163 292L162 293.3L162.1 294.9ZM192.2 290.9L195 291.4L194.1 292.1L193.8 293.3ZM225.7 292.6L227.3 293L226.7 293.4L226.6 294.1ZM263.6 292.3L263 293.7L262.7 293.1L262.2 292.9ZM286.4 295.2L287.7 294.8L287.4 295.3L287.6 295.9ZM317.6 290.9L319.2 291.9L318.4 292.1L318 292.8ZM348.3 290.2L349.9 291.5L349 291.6L348.5 292.2ZM374 290.9L377.3 291.4L376.2 292.3L375.9 293.6ZM397.6 295.4L402.6 293.4L401.8 295.5L402.5 297.5ZM430.2 293.3L434.7 292.4L433.7 294L434 295.9ZM459.9 289.3L465.2 289.7L463.6 291.2L463.3 293.3ZM492.3 287.1L497.2 288.5L495.4 289.6L494.7 291.6ZM524.3 287.6L528.6 289.1L527 290L526.3 291.7ZM549.7 291.6L555.1 291L553.8 292.8L553.9 295ZM584 302.6L586.5 298.8L586.9 300.6L588.4 301.7ZM621.2 307.4L620.7 302.9L622.2 304L624 303.9ZM651.6 304.8L651.4 301.2L652.5 302.2L654 302.2ZM683.1 301.4L683 299.4L683.7 299.9L684.5 299.9ZM715.2 306L713.9 302.5L715.3 303L716.8 302.6ZM751.2 305.3L748 302.8L749.7 302.5L750.8 301.3ZM781.4 300.5L779.3 299.7L780.1 299.3L780.5 298.4ZM131.2 322.3L133.1 319.7L133.4 321L134.5 321.9ZM158.1 315.6L162.2 314.7L161.3 316.2L161.6 317.9ZM193.6 311.7L196.1 312.7L195.1 313.2L194.6 314.2ZM226.2 311.7L228.1 313L227.1 313.2L226.5 314ZM256.2 311.7L258.2 313L257.2 313.2L256.7 314ZM285.8 317.2L287.3 316.7L287.1 317.3L287.2 317.9ZM319.3 314.3L320.2 315.1L319.7 315.1L319.4 315.5ZM342.6 309.4L346.7 311L345.1 311.8L344.4 313.5ZM368.8 308.8L374.5 310L372.5 311.3L371.9 313.6ZM401.9 318.6L405.2 316.8L404.8 318.3L405.5 319.7ZM431.9 319.8L435.2 317.6L434.9 319.2L435.8 320.6ZM466.4 314.9L468.6 315L468 315.7L468 316.6ZM496.9 311.2L499.6 312.3L498.5 312.8L497.9 313.9ZM523.1 313.2L527.3 313.3L526.1 314.5L526 316.2ZM553.7 312.9L557.8 313.1L556.6 314.3L556.4 316ZM580.2 320.6L584.5 317.6L584.3 319.8L585.4 321.6ZM612.6 322.9L615.9 319.4L616.1 321.4L617.4 322.8ZM647.6 328.9L648.5 324L649.7 325.6L651.7 326.1ZM678 326L679.3 322.1L680.1 323.6L681.6 324.2ZM713.5 327.2L712.8 323.6L714.1 324.4L715.5 324.2ZM742.6 324.6L742.7 322.1L743.5 322.8L744.5 322.9ZM776.8 323.7L775.9 322L776.6 322.2L777.4 321.8ZM139.8 346.9L138.6 344.9L139.5 345.1L140.4 344.6ZM198.2 333.5L199.4 335.2L198.6 335.1L197.9 335.5ZM225.7 334.9L227.5 335.8L226.7 336.1L226.3 336.9ZM252.7 333.7L256.2 334.6L254.9 335.4L254.4 336.8ZM282.4 339.4L284.9 338.4L284.5 339.4L284.8 340.5ZM312.4 335.4L315.9 335.6L314.9 336.6L314.7 338.1ZM346.5 332.8L348.8 334.3L347.8 334.6L347.1 335.5ZM373.4 332.8L377.2 334L375.8 334.8L375.3 336.3ZM405.3 339.7L407.4 338.9L407.1 339.7L407.4 340.5ZM472.2 336.3L472.8 337.2L472.4 337.1L472 337.4ZM497.4 335.7L499.6 336.2L498.9 336.8L498.6 337.6ZM523.5 338.7L527 337.6L526.4 339L526.7 340.4ZM552.5 339.2L556.4 337.7L555.7 339.3L556.2 341ZM578.2 340.4L583.5 337.9L582.8 340.2L583.7 342.4ZM607.5 346.1L612.4 341.5L612.4 344.2L614.2 346.3ZM642.5 347.3L645.6 342.9L646.1 345.1L647.8 346.5ZM676.9 345.5L678.9 342.4L679.3 343.9L680.6 344.7ZM707.8 345.5L709.6 342.5L710.1 343.9L711.3 344.7ZM738.3 346.1L740 342.8L740.5 344.2L741.8 345ZM774.9 346.6L774.4 344.3L775.2 344.8L776.2 344.7ZM143.7 369.4L141 367.5L142.3 367.2L143.2 366.1ZM175.3 363.8L173.2 363.9L173.7 363.2L173.7 362.4ZM200.8 356L201.2 357.9L200.5 357.5L199.7 357.6ZM224.8 355.7L227.1 356.8L226.1 357.2L225.6 358.1ZM248.6 360.7L252.7 359.4L252 361L252.4 362.7ZM272.1 360.7L278.5 358.4L277.5 361L278.3 363.7ZM309 357.7L313.6 357.4L312.4 358.9L312.5 360.8ZM341.7 358.6L345.4 358.3L344.5 359.5L344.6 361ZM370 358.6L374.4 358L373.4 359.5L373.5 361.3ZM402.3 359.8L405.9 359.1L405.1 360.4L405.3 361.9ZM438.8 361.7L439.9 361.2L439.7 361.7L439.9 362.2ZM470.2 360L471.2 360.2L470.8 360.4L470.7 360.8ZM527.8 369.3L528.6 365.9L529.4 367.1L530.8 367.5ZM553.1 366.3L556.1 363.2L556.2 365L557.4 366.3ZM577.6 367.5L582.4 363.2L582.4 365.9L584.1 367.9ZM607.8 366.7L612.8 362.6L612.6 365.2L614.2 367.4ZM639.6 364.6L644.3 361.4L644 363.8L645.2 365.8ZM680 369.8L680.6 366.3L681.5 367.4L683 367.8ZM713.5 366.9L713.5 365L714 365.5L714.8 365.6ZM745.2 365.8L744.9 364.5L745.4 364.8L745.9 364.7ZM138.4 380.8L138.9 381.6L138.5 381.5L138.2 381.7ZM172.7 390.1L170.9 388.6L171.8 388.4L172.5 387.7ZM195.6 387.1L196.4 385.6L196.7 386.3L197.3 386.6ZM225.7 381.1L227.3 381.4L226.7 381.8L226.6 382.4ZM248.6 387.8L252 384.8L252 386.6L253.2 388.1ZM272.1 384.9L278.2 381.8L277.5 384.6L278.6 387.1ZM303 379.7L309.7 378.5L308.2 380.9L308.5 383.7ZM336.9 378.5L342.6 378.2L341.1 380L341.1 382.4ZM367.4 384.6L372.2 382.2L371.6 384.3L372.4 386.3ZM395.9 385.1L401.2 382.3L400.6 384.7L401.6 386.9ZM431.9 383.2L435.6 381.9L434.9 383.3L435.4 384.9ZM466.4 377.7L469.1 378.7L468 379.2L467.5 380.3ZM498.1 388.9L499 386.7L499.4 387.5L500.3 387.9ZM533.5 399.2L531.2 393.9L533.5 394.7L535.7 393.9ZM552.5 391.3L555.2 387.1L555.7 389.1L557.4 390.3ZM588.5 386.6L589.8 385L589.9 385.9L590.5 386.5ZM617.8 384.6L619.7 383.5L619.5 384.3L619.9 385.1ZM648.7 387.5L650 385.6L650.2 386.5L651 387.1ZM683.5 386.8L683.6 385.6L683.9 386L684.4 386.1ZM712.6 385.8L713.2 384.8L713.4 385.2L713.8 385.5ZM130.6 406.2L133.1 405L132.8 406.1L133.2 407.1ZM159.8 409.1L162.5 406.6L162.5 408.1L163.5 409.3ZM191.9 408.3L193.9 406.5L193.8 407.6L194.5 408.5ZM225.1 402.8L226.9 403L226.4 403.5L226.2 404.3ZM249.8 412.6L252.4 408.7L252.8 410.6L254.4 411.7ZM281.5 404L284.9 403.3L284.2 404.5L284.4 405.9ZM314.1 400.5L316.8 401.2L315.9 401.9L315.5 403ZM343.8 400.5L347.1 401.2L346 402L345.6 403.4ZM368.3 407.9L372.5 405.3L372.2 407.3L373.2 409.1ZM395.9 407.4L401.1 404.5L400.6 406.9L401.6 409.1ZM428.5 406.9L433 404.5L432.5 406.6L433.4 408.5ZM461.6 402.3L465.9 401.8L464.8 403.3L464.9 405ZM495.2 408.3L497.2 406.5L497.2 407.6L497.9 408.5ZM523.1 422.9L524.2 415.6L526.1 417.9L529.1 418.5ZM557.1 411.2L558.4 408.7L558.8 409.8L559.8 410.4ZM620.2 406.6L621.4 405.8L621.3 406.3L621.6 406.8ZM127.7 431.1L131 428.4L131 430.1L132 431.6ZM153.4 429.4L158.6 426.6L158 428.9L159.1 431.1ZM187.1 427L191.4 425.5L190.7 427.2L191.2 429ZM215.9 425.6L220.9 424.3L219.9 426.2L220.4 428.4ZM252 430.5L254.2 428.6L254.2 429.7L254.9 430.7ZM288.1 426L289.1 426.2L288.7 426.4L288.6 426.8ZM318.9 422.2L320.2 423.6L319.5 423.6L318.9 424.1ZM352 419.4L352.9 422L351.9 421.6L350.8 421.8ZM373.4 433.9L375.4 430.6L375.8 432.1L377.1 433ZM397.1 436.3L401 431.2L401.4 433.8L403.4 435.5ZM430.7 429.4L434.4 427.2L434.1 428.9L434.9 430.5ZM459.9 427L464.3 425.4L463.6 427.2L464.1 429.1ZM485.4 430.5L491 427L490.5 429.7L491.8 432ZM514.5 435.1L519.9 429.9L520 433L522 435.3ZM550.2 435.1L553.8 430.6L554.1 433L555.9 434.5ZM133.7 452.3L135 450.9L135.1 451.6L135.6 452.2ZM162.5 450.6L164.4 449.5L164.3 450.3L164.7 451.1ZM195.6 448.3L197 448.2L196.7 448.7L196.7 449.2ZM225.1 451.8L226.3 450.5L226.4 451.2L226.8 451.8ZM254.5 447.6L256.5 447.5L255.9 448.2L255.9 449ZM287.6 445.4L289 446.3L288.3 446.5L287.9 447.1ZM320.7 440.6L322.1 443.6L320.8 443.2L319.5 443.7ZM338.6 446.3L343.4 445.6L342.3 447.3L342.5 449.2ZM372.9 461.4L374.2 456.2L375.5 458L377.6 458.7ZM400.2 460L402.7 454.8L403.6 457L405.7 458.2ZM426.8 450.6L432 448L431.3 450.3L432.2 452.5ZM459.9 447.1L464.6 446.2L463.6 447.9L463.9 449.8ZM488.8 454.5L493 450.8L493 453.1L494.4 454.9ZM162.4 471.7L164.4 470.8L164.1 471.7L164.4 472.6ZM193.2 471.7L195.1 470.9L194.9 471.7L195.1 472.5ZM289.3 466L290.4 467.6L289.6 467.5L289 467.9ZM303.8 463.1L310.9 463.6L308.8 465.6L308.4 468.5ZM333.1 468.9L339.7 467.3L338.4 469.7L338.9 472.5ZM371.7 482L373.6 477.1L374.6 479L376.6 479.9ZM401.9 480.6L404.1 476.2L404.8 478.1L406.6 479ZM427.6 472.9L432.5 470.4L431.9 472.6L432.8 474.6ZM461.6 467.7L465.9 467.5L464.8 468.9L464.8 470.7ZM499.5 472.9L500.4 472.1L500.4 472.6L500.7 473ZM149.2 499.4L144.9 498.9L146.2 497.7L146.5 496ZM172.3 494.9L171.3 494.9L171.6 494.6L171.6 494.2ZM233.7 495.4L232.4 495.4L232.8 495L232.8 494.4ZM281.9 493.7L284.5 492.6L284.1 493.7L284.5 494.8ZM313.3 487.7L316.8 488.6L315.5 489.4L315 490.8ZM335.2 487.3L341.6 487.2L339.9 489.2L339.8 491.8ZM361.4 499.7L367.5 494.8L367.3 498L369.2 500.6ZM391.9 500.1L397.9 495L397.8 498.2L399.7 500.8ZM434.5 494.2L436.8 493.1L436.5 494.1L436.9 495.1ZM463.3 493.2L466.6 492L466 493.3L466.4 494.7ZM495.2 492.8L497.7 492.1L497.2 493.1L497.5 494.1ZM129.4 518.6L132.2 516.3L132.2 517.8L133.1 519ZM157.4 517.9L161.1 515.5L160.8 517.3L161.7 518.9ZM191.3 518.3L193.5 516.5L193.5 517.6L194.1 518.5ZM220 516.6L223.2 514.8L222.9 516.3L223.5 517.7ZM249.8 518.6L253 516.1L252.8 517.8L253.8 519.1ZM286.4 517.4L287.4 516.4L287.4 517L287.9 517.4ZM311 512.8L314.8 512.3L313.9 513.6L314 515.2ZM340.3 513.1L344.5 512.4L343.5 513.9L343.7 515.6ZM372.9 515.2L375.6 514.2L375.2 515.3L375.5 516.4ZM408.8 517.9L409.5 516.9L409.6 517.4L410 517.7ZM446.5 513.5L445.6 514.7L445.5 514L445 513.6ZM459.9 516.6L464.1 514.4L463.6 516.3L464.4 518.1ZM129.4 541.5L132.1 538.8L132.2 540.4L133.2 541.5ZM162 540.5L163.9 538.7L163.9 539.7L164.5 540.5ZM189.1 537L192.8 535.7L192.1 537.2L192.6 538.7ZM216.5 538.2L221 536.1L220.4 538.1L221.2 540ZM252 537.7L254.5 536.7L254.2 537.7L254.5 538.7ZM346.5 532.5L348.6 533.5L347.8 533.9L347.3 534.7ZM406.7 531.7L409.1 532.8L408.1 533.2L407.6 534.2ZM431.4 539.4L434.9 537.3L434.6 538.9L435.4 540.4ZM466.7 538.6L468.4 537.5L468.3 538.3L468.6 539.1ZM136.3 560.6L137 560L137 560.3L137.2 560.6ZM166.7 560.6L167.3 560L167.3 560.3L167.6 560.6ZM197 560.6L197.7 560L197.7 560.3L197.9 560.6ZM228.2 560.2L228.7 559.8L228.7 560.1L228.8 560.3ZM257.7 560.6L258.4 560L258.4 560.3L258.6 560.6ZM288.6 559.2L289.3 559.1L289.1 559.3L289.1 559.6ZM318.4 560.6L319.1 560L319.1 560.3L319.3 560.6ZM349.6 560.2L350.1 559.8L350.1 560.1L350.2 560.3ZM379.6 560.2L380.2 559.8L380.2 560.1L380.3 560.3ZM410.3 558.8L411 558.9L410.8 559.1L410.7 559.3ZM439.8 560.2L440.5 559.7L440.5 560.1L440.7 560.4ZM471 557.1L471.9 557.7L471.5 557.8L471.2 558.1ZM502.6 555.4L503.3 556.6L502.7 556.5L502.2 556.8Z" fill="#000" stroke="#000" stroke-width="0.6" stroke-linejoin="round"/><rect x="200.6" y="44" width="75.4" height="71.9" fill="#fff"/><text x="238.3" y="98.7" font-size="52" text-anchor="middle">(a)</text><path d="M120 24.9H799.2M120 62H799.2M120 80.5H799.2M120 99.1H799.2M120 117.7H799.2M120 136.2H799.2M120 173.3H799.2M120 191.9H799.2M120 210.5H799.2M120 229H799.2M120 247.6H799.2M120 284.7H799.2M120 303.3H799.2M120 321.8H799.2M120 340.4H799.2M120 358.9H799.2M120 396.1H799.2M120 414.6H799.2M120 433.2H799.2M120 451.7H799.2M120 470.3H799.2M120 507.4H799.2M120 526H799.2M120 544.5H799.2" stroke="#8c8c80" stroke-width="1.3" stroke-dasharray="1.5 1.5" fill="none" opacity="0.55"/><path d="M255.8 6.3V563.1M346.4 6.3V563.1M437 6.3V563.1M527.5 6.3V563.1M708.6 6.3V563.1" stroke="#8c8c80" stroke-width="1.3" stroke-dasharray="1.5 1.5" fill="none" opacity="0.55"/><path d="M120 43.4H799.2M120 154.8H799.2M120 266.1H799.2M120 377.5H799.2M120 488.9H799.2M572.8 6.3V563.1" stroke="#c9c9b0" stroke-width="1.3" fill="none" opacity="0.8"/><path d="M799.2 375 L780 380.7 L771.4 377 L760 375.7 L754.3 380 L747 387 L734 389.3 L714.3 391.4 L705.7 395.7 L700 400 L691.4 402.9 L680 405.7 L671.4 402 L662.9 401.4 L657 403.6 L654 398 L652.5 396.5 L650.5 399 L648.6 403 L637 405.7 L625.7 411.4 L617 415.7 L611.4 420 L601.4 427 L594.3 432.9 L580 437.9 L570 440.2 L563.2 442.7 L558.1 445.3 L555.6 449.5 L551.4 454.6 L548.8 460.5 L546.3 465.6 L543.7 470.7 L539.5 469 L535.3 471.5 L533.1 469.8 L534.4 463.9 L531.4 458 L534.4 446.1 L531 444.8 L525.9 448.6 L520.8 458 L516.6 465.6 L511.9 472.4 L512.4 478.3 L517.5 481.7 L520 488.5 L517.5 493.6 L518.3 500.3 L517.5 507.1 L510.7 512.2 L505.6 518.1 L503 523.2 L501.4 529.2 L500.5 535.9 L500.5 544.4 L506.4 550.3 L510.7 555.4 L511.5 559.7 L512.8 563.1" fill="none" stroke="#000" stroke-width="1.7" stroke-linejoin="round"/><ellipse cx="590.5" cy="407" rx="3.2" ry="4.8" transform="rotate(20 590.5 407)" fill="none" stroke="#000" stroke-width="1.8"/><ellipse cx="569" cy="174.2" rx="40.7" ry="33.2" fill="none" stroke="#fff" stroke-width="7.4"/><ellipse cx="569" cy="174.2" rx="40.7" ry="33.2" fill="none" stroke="#000" stroke-width="5"/><path d="M570.7 174.2 L510.4 228.3" stroke="#000" stroke-width="6" fill="none"/><path d="M494 243 L508.8 213.2 L510.4 228.3 L524 231 Z" fill="#000"/></g><path d="M120 6.3h4.5M799.2 6.3h-4.5M120 24.9h4.5M799.2 24.9h-4.5M120 43.4h8M799.2 43.4h-8M120 62h4.5M799.2 62h-4.5M120 80.5h4.5M799.2 80.5h-4.5M120 99.1h4.5M799.2 99.1h-4.5M120 117.7h4.5M799.2 117.7h-4.5M120 136.2h4.5M799.2 136.2h-4.5M120 154.8h8M799.2 154.8h-8M120 173.3h4.5M799.2 173.3h-4.5M120 191.9h4.5M799.2 191.9h-4.5M120 210.5h4.5M799.2 210.5h-4.5M120 229h4.5M799.2 229h-4.5M120 247.6h4.5M799.2 247.6h-4.5M120 266.1h8M799.2 266.1h-8M120 284.7h4.5M799.2 284.7h-4.5M120 303.3h4.5M799.2 303.3h-4.5M120 321.8h4.5M799.2 321.8h-4.5M120 340.4h4.5M799.2 340.4h-4.5M120 358.9h4.5M799.2 358.9h-4.5M120 377.5h8M799.2 377.5h-8M120 396.1h4.5M799.2 396.1h-4.5M120 414.6h4.5M799.2 414.6h-4.5M120 433.2h4.5M799.2 433.2h-4.5M120 451.7h4.5M799.2 451.7h-4.5M120 470.3h4.5M799.2 470.3h-4.5M120 488.9h8M799.2 488.9h-8M120 507.4h4.5M799.2 507.4h-4.5M120 526h4.5M799.2 526h-4.5M120 544.5h4.5M799.2 544.5h-4.5M120 563.1h4.5M799.2 563.1h-4.5M255.8 563.1v-4.5M255.8 6.3v4.5M346.4 563.1v-4.5M346.4 6.3v4.5M437 563.1v-4.5M437 6.3v4.5M527.5 563.1v-4.5M527.5 6.3v4.5M708.6 563.1v-4.5M708.6 6.3v4.5M572.8 563.1v-8M572.8 6.3v8" stroke="#222" stroke-width="2" fill="none"/><rect x="120" y="6.3" width="679.2" height="556.8" fill="none" stroke="#161616" stroke-width="2.1"/><g clip-path="url(#clip_b)"><rect x="838.6" y="6.3" width="679.2" height="556.8" fill="#fdfde0"/><ellipse cx="1280" cy="165" rx="70" ry="60" fill="#eef7bd" opacity="0.8" filter="url(#bl14)"/><ellipse cx="1285" cy="160" rx="42" ry="35" fill="none" stroke="#d8eea5" stroke-width="10" opacity="0.8" filter="url(#bl5)"/><ellipse cx="1272" cy="150" rx="14" ry="6" fill="#98d182" opacity="0.9" filter="url(#bl3)"/><ellipse cx="1232" cy="172" rx="6" ry="14" fill="#cde89c" opacity="0.8" filter="url(#bl4)"/><path d="M1517.8 375 L1498.6 380.7 L1490 377 L1478.6 375.7 L1472.9 380 L1465.6 387 L1452.6 389.3 L1432.9 391.4 L1424.3 395.7 L1418.6 400 L1410 402.9 L1398.6 405.7 L1390 402 L1381.5 401.4 L1375.6 403.6 L1372.6 398 L1371.1 396.5 L1369.1 399 L1367.2 403 L1355.6 405.7 L1344.3 411.4 L1335.6 415.7 L1330 420 L1320 427 L1312.9 432.9 L1298.6 437.9 L1288.6 440.2 L1281.8 442.7 L1276.7 445.3 L1274.2 449.5 L1270 454.6 L1267.4 460.5 L1264.9 465.6 L1262.3 470.7 L1258.1 469 L1253.9 471.5 L1251.7 469.8 L1253 463.9 L1250 458 L1253 446.1 L1249.6 444.8 L1244.5 448.6 L1239.4 458 L1235.2 465.6 L1230.5 472.4 L1231 478.3 L1236.1 481.7 L1238.6 488.5 L1236.1 493.6 L1236.9 500.3 L1236.1 507.1 L1229.3 512.2 L1224.2 518.1 L1221.6 523.2 L1220 529.2 L1219.1 535.9 L1219.1 544.4 L1225 550.3 L1229.3 555.4 L1230.1 559.7 L1231.4 563.1 L1517.8 565.1 L1519.8 375 Z" fill="#fff" stroke="#fff" stroke-width="5" stroke-linejoin="round"/><path d="M862.6 24.3 l3 -1.5 l3 0.5 l1 1.5 l-1.5 0.3 l1.2 2.2 l-1.8 1.2 l-1.5 -1.8 l-2.5 -0.4 z" fill="none" stroke="#000" stroke-width="1.6"/><path d="M857.5 9.7L859.4 8.4M887.9 9.7L888.5 8.4M918.2 9.7L924 7.5M948.6 9.7L951.8 7.5M978.9 9.7L986.8 9.7M1009.2 9.7L1018.4 14M1039.6 9.7L1048.8 8.2M1070 9.7L1072.5 7.8M1100.3 9.7L1107 7.9M1130.7 9.7L1138 7.9M1161 9.7L1172 10.9M1191.3 9.7L1206 10.3M1221.7 9.7L1225.5 7.8M1252 9.7L1254.6 7.8M1282.4 9.7L1285 7.8M1312.8 9.7L1316 7.8M1343.1 9.7L1355.3 7.6M1373.5 9.7L1380.8 7.6M1403.8 9.7L1407.6 7.5M1434.2 9.7L1435.4 7.8M1464.5 9.7L1466.4 7.8M1494.8 9.7L1498.7 9.7M857.5 31.7L858.5 30.2M887.9 31.7L888.5 31.1M918.2 31.7L919.1 28.5M948.6 31.7L948.6 28.5M978.9 31.7L982.7 31.7M1009.2 31.7L1016 31.7M1039.6 31.7L1048.2 29.3M1070 31.7L1076.1 26.2M1100.3 31.7L1107 25.6M1130.7 31.7L1140.4 27.4M1161 31.7L1172.6 29.9M1191.3 31.7L1207.8 28.3M1221.7 31.7L1235.8 24.1M1252 31.7L1260.4 26M1282.4 31.7L1288.8 29M1312.8 31.7L1315.3 31.7M1343.1 31.7L1344.4 33M1373.5 31.7L1379.5 33.4M1403.8 31.7L1413.2 30.5M1434.2 31.7L1445.1 27.1M1464.5 31.7L1469 27.9M1494.8 31.7L1501.6 30.7M857.5 53.7L854.9 49.9M887.9 53.7L885.9 51.5M918.2 53.7L916.5 48.2M1009.2 53.7L1009.9 52.4M1039.6 53.7L1042.8 52.4M1070 53.7L1076.7 49.4M1100.3 53.7L1105.2 48M1130.7 53.7L1138 51M1161 53.7L1170.2 50.3M1191.3 53.7L1198.1 50M1221.7 53.7L1231.2 49.4M1252 53.7L1257.2 55.6M1282.4 53.7L1291.8 53.1M1312.8 53.7L1319.5 53.1M1343.1 53.7L1352.3 56.4M1373.5 53.7L1383.7 56.1M1403.8 53.7L1417.5 53.5M1434.2 53.7L1447 51.5M1464.5 53.7L1473.7 52.5M1494.8 53.7L1497.4 53.7M857.5 75.7L854.9 71.2M887.9 75.7L885.4 73.5M918.2 75.7L915.9 71.9M1009.2 75.7L1009.2 73.1M1039.6 75.7L1039 73.8M1070 75.7L1070 71.9M1100.3 75.7L1099.4 70.2M1130.7 75.7L1130.7 75.1M1161 75.7L1158.7 75.1M1191.3 75.7L1188.1 73.1M1221.7 75.7l0.5 0M1252 75.7L1252.7 72.9M1282.4 75.7L1289.7 73.3M1312.8 75.7L1324.6 72M1343.1 75.7L1361.7 74.1M1373.5 75.7L1394.6 78.9M1403.8 75.7L1423.6 78.8M1434.2 75.7L1452.5 75.3M1464.5 75.7L1478.6 75.9M1494.8 75.7L1499.3 76M857.5 97.7L853.8 90.4M887.9 97.7L885.7 93.9M918.2 97.7L918.8 97.1M1009.2 97.7L1005.7 97.3M1039.6 97.7L1033.2 98.7M1070 97.7L1066.9 95.1M1100.3 97.7L1098.6 92.6M1130.7 97.7L1131.3 93.2M1161 97.7L1158.7 95.4M1191.3 97.7L1188.8 95.8M1221.7 97.7L1218.9 102.8M1252 97.7L1252.3 101.8M1282.4 97.7L1288.8 96.5M1312.8 97.7L1327.4 96.2M1343.1 97.7L1363.8 99M1373.5 97.7L1397.1 98.1M1403.8 97.7L1419.9 99.5M1434.2 97.7L1450.6 98.6M1464.5 97.7L1472.4 99.4M1494.8 97.7l0.5 0M857.5 119.7L851.4 114.2M887.9 119.7L881.9 113.8M918.2 119.7L916.5 118.2M948.6 119.7l0.5 0M978.9 119.7l0.5 0M1009.2 119.7L1004 124M1039.6 119.7L1034.5 122.6M1070 119.7L1064.1 117.5M1100.3 119.7L1098.4 114.6M1130.7 119.7L1130 115.2M1161 119.7L1159.6 116.5M1191.3 119.7l0.5 0M1221.7 119.7L1219 123.5M1252 119.7L1249.1 118.4M1282.4 119.7L1288.8 112.1M1312.8 119.7L1328.6 115.2M1343.1 119.7L1362.6 120.7M1373.5 119.7L1384.1 117.3M1403.8 119.7L1416.9 119.7M1434.2 119.7L1440.6 118.8M1464.5 119.7L1466.4 121.4M1494.8 119.7l0.5 0M857.5 141.7L852.4 138.9M887.9 141.7L879.9 133.8M918.2 141.7L913.7 136.8M948.6 141.7L944.7 136.8M978.9 141.7l0.5 0M1009.2 141.7L1004 148.2M1039.6 141.7L1030.4 146.3M1070 141.7L1058.2 139.9M1100.3 141.7L1091.7 132.9M1130.7 141.7L1123.9 133.4M1161 141.7L1159 138.5M1191.3 141.7L1186.6 137.9M1221.7 141.7l0.5 0M1252 141.7L1254.9 139.8M1312.8 141.7L1325.6 145.6M1343.1 141.7L1353.9 149M1373.5 141.7L1382.2 144.8M1403.8 141.7L1412.6 145.1M1434.2 141.7L1440.6 141.7M1464.5 141.7L1468.3 144.6M1494.8 141.7l0.5 0M857.5 163.7l0.5 0M887.9 163.7L885 158.2M918.2 163.7L913.6 159.2M948.6 163.7L944.7 165.6M978.9 163.7L973 166.3M1009.2 163.7L1004 169.2M1039.6 163.7L1032.9 170.4M1070 163.7L1059.7 160.3M1100.3 163.7L1093.3 151.5M1130.7 163.7L1123.9 154.5M1161 163.7L1153.5 163.7M1191.3 163.7L1185.3 163.1M1221.7 163.7L1223.1 160.5M1252 163.7L1245 161.9M1282.4 163.7L1274.1 168.3M1312.8 163.7L1311.5 178.4M1343.1 163.7L1346.8 178.4M1373.5 163.7L1379.8 171.6M1403.8 163.7L1413.8 168.8M1434.2 163.7L1445.1 168.3M1464.5 163.7L1472.4 169.6M1494.8 163.7L1500 163.7M857.5 185.7L857.5 183.4M887.9 185.7L885.4 181.9M918.2 185.7L914.6 182.8M948.6 185.7L944.7 190.4M978.9 185.7L975.6 191.2M1009.2 185.7L1007.6 189.9M1039.6 185.7L1041.9 189.9M1070 185.7L1074 182.8M1100.3 185.7L1103.4 175.3M1130.7 185.7L1131.3 176.5M1161 185.7L1161.3 185.1M1191.3 185.7L1188.1 182.2M1221.7 185.7L1215.5 178.7M1252 185.7L1238.6 183.6M1282.4 185.7L1273.8 191.2M1312.8 185.7L1308.2 200.4M1343.1 185.7L1344.1 204M1373.5 185.7L1379.6 199.8M1403.8 185.7L1415.7 190.2M1434.2 185.7L1448.2 188.1M1464.5 185.7L1477.3 188.1M1494.8 185.7L1503 186.6M857.5 207.7l0.5 0M887.9 207.7l0.5 0M918.2 207.7L916.8 204.5M948.6 207.7l0.5 0M978.9 207.7L980.4 212.2M1009.2 207.7L1012.7 209.6M1039.6 207.7L1045 207.3M1070 207.7L1079 204.6M1100.3 207.7L1107 202M1130.7 207.7L1132.1 199.1M1161 207.7L1161 201.7M1191.3 207.7L1190.5 204.9M1221.7 207.7L1213.3 206.7M1252 207.7L1240.7 206.7M1282.4 207.7L1269.2 211.4M1312.8 207.7L1304.2 218.7M1343.1 207.7L1348 224.2M1373.5 207.7L1382.5 219.1M1403.8 207.7L1413.2 213M1434.2 207.7L1442.1 208.6M1464.5 207.7L1471.2 213.4M1494.8 207.7L1498.1 209.9M857.5 229.7l0.5 0M887.9 229.7L890.2 230.7M918.2 229.7L921.7 227.1M948.6 229.7L945.3 233.3M978.9 229.7L975.6 233.8M1009.2 229.7L1008.6 227.1M1039.6 229.7L1042.8 226.5M1070 229.7L1074.3 224.8M1100.3 229.7L1102.9 226.5M1130.7 229.7L1131.3 224.3M1161 229.7L1160 220.5M1191.3 229.7L1183.4 225.8M1221.7 229.7L1214.9 228.5M1252 229.7L1243.1 228.5M1282.4 229.7L1274.1 231.3M1312.8 229.7L1304.2 235M1343.1 229.7L1340.4 240.1M1373.5 229.7L1378 239.5M1403.8 229.7L1411.7 233.4M1434.2 229.7L1438 231M1464.5 229.7L1464.9 234.8M1494.8 229.7L1493.6 233.5M857.5 251.7L858.8 254.3M887.9 251.7L890.2 251.4M918.2 251.7l0.5 0M948.6 251.7L943.7 256.6M978.9 251.7L975.6 253.6M1009.2 251.7L1005.3 249.5M1039.6 251.7L1037.7 247.9M1070 251.7L1065.3 247.9M1100.3 251.7L1096.1 248.2M1130.7 251.7L1130.7 247.9M1161 251.7L1152.9 244.7M1191.3 251.7L1185.6 247.8M1221.7 251.7L1218 247.2M1252 251.7L1245.2 247.4M1282.4 251.7L1274.1 253.5M1312.8 251.7L1305.1 256.6M1343.1 251.7L1334.8 259.6M1373.5 251.7L1368.2 261.5M1403.8 251.7L1400.9 256.8M1434.2 251.7L1431.7 258.4M1464.5 251.7L1463.2 256.2M1494.8 251.7L1496.8 254.9M857.5 273.7L853.7 272.4M887.9 273.7L882.5 272.4M918.2 273.7L912.1 273.7M948.6 273.7L948.3 276.3M978.9 273.7L984 274M1009.2 273.7l0.5 0M1039.6 273.7L1038.3 271.8M1070 273.7L1065.3 271.5M1100.3 273.7L1098.1 271.5M1130.7 273.7L1125.8 269.2M1161 273.7L1152.7 268.8M1191.3 273.7L1182.2 270.6M1221.7 273.7L1213.6 267M1252 273.7L1242.3 268.2M1282.4 273.7L1273.5 276.1M1312.8 273.7L1306.6 281M1343.1 273.7L1333.3 284.7M1373.5 273.7L1368.2 281M1403.8 273.7L1400.9 279.5M1434.2 273.7L1432.9 278.8M1464.5 273.7L1465.4 278.8M1494.8 273.7L1498.1 277.5M857.5 295.7L850.2 296.9M887.9 295.7L880.6 293.3M918.2 295.7L912.7 292.1M948.6 295.7L945.3 293.4M978.9 295.7L981.3 293.1M1009.2 295.7L1006 295.3M1039.6 295.7L1037 292.1M1070 295.7L1067.6 291.6M1100.3 295.7L1094.8 292.3M1130.7 295.7L1120.4 295.5M1161 295.7L1152.3 294M1191.3 295.7L1182.2 291.2M1221.7 295.7L1214 289.6M1252 295.7L1245.6 290M1282.4 295.7L1272.4 292.8M1312.8 295.7L1305.5 300.6M1343.1 295.7L1340.8 304M1373.5 295.7L1371.1 302.2M1403.8 295.7L1402.3 299.9M1434.2 295.7L1433.9 303M1464.5 295.7L1468.3 302.5M1494.8 295.7L1498.7 299.3M857.5 317.7L852 321M887.9 317.7L879.9 316.2M918.2 317.7L913.7 313.2M948.6 317.7L945.7 313.2M978.9 317.7L975.8 313.2M1009.2 317.7L1005.7 317.3M1039.6 317.7L1038.3 315.1M1070 317.7L1063.7 311.8M1100.3 317.7L1091.1 311.3M1130.7 317.7L1123.4 318.3M1161 317.7L1153.5 319.2M1191.3 317.7L1186.6 315.7M1221.7 317.7L1217.1 312.8M1252 317.7L1244.7 314.5M1282.4 317.7L1275.2 314.3M1312.8 317.7L1302.9 319.8M1343.1 317.7L1334.7 321.4M1373.5 317.7L1368.3 325.6M1403.8 317.7L1398.7 323.6M1434.2 317.7L1432.7 324.4M1464.5 317.7L1462.1 322.8M1494.8 317.7L1495.2 322.2M857.5 339.7L858.1 345.1M887.9 339.7l0.5 0M918.2 339.7L917.2 335.1M948.6 339.7L945.3 336.1M978.9 339.7L973.5 335.4M1009.2 339.7L1003.1 339.4M1039.6 339.7L1033.5 336.6M1070 339.7L1066.4 334.6M1100.3 339.7L1094.4 334.8M1130.7 339.7L1125.7 339.7M1161 339.7l0.5 0M1191.3 339.7L1191 337.1M1221.7 339.7L1217.5 336.8M1252 339.7L1245 339M1282.4 339.7L1274.3 339.3M1312.8 339.7L1301.4 340.2M1343.1 339.7L1331 344.2M1373.5 339.7L1364.7 345.1M1403.8 339.7L1397.9 343.9M1434.2 339.7L1428.7 343.9M1464.5 339.7L1459.1 344.2M1494.8 339.7L1493.8 344.8M857.5 361.7L860.9 367.2M887.9 361.7L892.3 363.2M918.2 361.7L919.1 357.5M948.6 361.7L944.7 357.2M978.9 361.7L970.6 361M1009.2 361.7L996.1 361M1039.6 361.7L1031 358.9M1070 361.7L1063.1 359.5M1100.3 361.7L1092 359.5M1130.7 361.7L1123.7 360.4M1161 361.7L1158.3 361.7M1191.3 361.7L1189.4 360.4M1221.7 361.7l0.5 0M1252 361.7L1248 367.1M1282.4 361.7L1274.8 365M1312.8 361.7L1301 365.9M1343.1 361.7L1331.2 365.2M1373.5 361.7L1362.6 363.8M1403.8 361.7L1400.1 367.4M1434.2 361.7L1432.6 365.5M1464.5 361.7L1464 364.8M1494.8 361.7l0.5 0M857.5 383.7L857.1 381.5M887.9 383.7L890.4 388.4M918.2 383.7L915.3 386.3M948.6 383.7L945.3 381.8M978.9 383.7L970.6 386.6M1009.2 383.7L996.1 384.6M1039.6 383.7L1026.8 380.9M1070 383.7L1059.7 380M1100.3 383.7L1090.2 384.3M1130.7 383.7L1119.2 384.7M1161 383.7L1153.5 383.3M1191.3 383.7L1186.6 379.2M1221.7 383.7L1218 387.5M1252 383.7L1252 394.7M1282.4 383.7L1274.3 389.1M1312.8 383.7L1308.5 385.9M1343.1 383.7L1338.1 384.3M1373.5 383.7L1368.8 386.5M1403.8 383.7L1402.5 386M1434.2 383.7L1432 385.2M857.5 405.7L851.4 406.1M887.9 405.7L881.1 408.1M918.2 405.7L912.4 407.6M948.6 405.7L945 403.5M978.9 405.7L971.4 410.6M1009.2 405.7L1002.8 404.5M1039.6 405.7L1034.5 401.9M1070 405.7L1064.6 402M1100.3 405.7L1090.8 407.3M1130.7 405.7L1119.2 406.9M1161 405.7L1151.1 406.6M1191.3 405.7L1183.4 403.3M1221.7 405.7L1215.8 407.6M1252 405.7L1244.7 417.9M1282.4 405.7L1277.4 409.8M1343.1 405.7L1339.9 406.3M857.5 427.7L849.6 430.1M887.9 427.7L876.6 428.9M918.2 427.7L909.3 427.2M948.6 427.7L938.5 426.2M978.9 427.7L972.8 429.7M1009.2 427.7L1007.3 426.4M1039.6 427.7L1038.1 423.6M1070 427.7L1070.5 421.6M1100.3 427.7L1094.4 432.1M1130.7 427.7L1120 433.8M1161 427.7L1152.7 428.9M1191.3 427.7L1182.2 427.2M1221.7 427.7L1209.1 429.7M1252 427.7L1238.6 433M1282.4 427.7L1272.7 433M1312.8 427.7l0.5 0M857.5 449.7L853.7 451.6M887.9 449.7L882.9 450.3M918.2 449.7L915.3 448.7M948.6 449.7L945 451.2M978.9 449.7L974.5 448.2M1009.2 449.7L1006.9 446.5M1039.6 449.7L1039.4 443.2M1070 449.7L1060.9 447.3M1100.3 449.7L1094.1 458M1130.7 449.7L1122.2 457M1161 449.7L1149.9 450.3M1191.3 449.7L1182.2 447.9M1221.7 449.7L1211.6 453.1M857.5 471.7l0.5 0M887.9 471.7L882.7 471.7M918.2 471.7L913.5 471.7M948.6 471.7l0.5 0M978.9 471.7l0.5 0M1009.2 471.7L1008.2 467.5M1039.6 471.7L1027.4 465.6M1070 471.7L1057 469.7M1100.3 471.7L1093.2 479M1130.7 471.7L1123.4 478.1M1161 471.7L1150.5 472.6M1191.3 471.7L1183.4 468.9M1221.7 471.7L1219 472.6M857.5 493.7L864.8 497.7M887.9 493.7L890.2 494.6M918.2 493.7l0.5 0M948.6 493.7L951.4 495M978.9 493.7l0.5 0M1009.2 493.7L1002.7 493.7M1039.6 493.7L1034.1 489.4M1070 493.7L1058.5 489.2M1100.3 493.7L1085.9 498M1130.7 493.7L1116.4 498.2M1161 493.7L1155.1 494.1M1191.3 493.7L1184.6 493.3M1221.7 493.7L1215.8 493.1M857.5 515.7L850.8 517.8M887.9 515.7L879.4 517.3M918.2 515.7L912.1 517.6M948.6 515.7L941.5 516.3M978.9 515.7L971.4 517.8M1009.2 515.7L1006 517M1039.6 515.7L1032.5 513.6M1070 515.7L1062.1 513.9M1100.3 515.7L1093.8 515.3M1130.7 515.7L1128.2 517.4M1161 515.7L1164.1 514M1191.3 515.7L1182.2 516.3M1221.7 515.7l0.5 0M857.5 537.7L850.8 540.4M887.9 537.7L882.5 539.7M918.2 537.7L910.7 537.2M948.6 537.7L939 538.1M978.9 537.7L972.8 537.7M1009.2 537.7l0.5 0M1039.6 537.7l0.5 0M1070 537.7L1066.4 533.9M1100.3 537.7l0.5 0M1130.7 537.7L1126.7 533.2M1161 537.7L1153.2 538.9M1191.3 537.7L1186.9 538.3M857.5 559.7L855.6 560.3M887.9 559.7L885.9 560.3M918.2 559.7L916.3 560.3M948.6 559.7L947.3 560.1M978.9 559.7L977 560.3M1009.2 559.7L1007.7 559.3M1039.6 559.7L1037.7 560.3M1070 559.7L1068.7 560.1M1100.3 559.7L1098.8 560.1M1130.7 559.7L1129.4 559.1M1161 559.7L1159.1 560.1M1191.3 559.7L1190.1 557.8M1221.7 559.7L1221.3 556.5" stroke="#000" stroke-width="2" fill="none" stroke-linecap="round"/><path d="M860.1 8L859.5 8.8L859.4 8.4L859.1 8.2ZM888.7 8L888.7 8.6L888.5 8.4L888.2 8.4ZM925.9 6.8L924 8.6L924 7.5L923.2 6.7ZM952.8 6.8L951.9 8.2L951.8 7.5L951.2 7.1ZM990.1 9.7L986.3 11.3L986.8 9.7L986.3 8.1ZM1022.1 15.7L1016.9 15.5L1018.4 14L1018.6 11.8ZM1052.5 7.6L1048.4 10.2L1048.8 8.2L1047.8 6.5ZM1073.4 7.1L1072.7 8.3L1072.5 7.8L1072 7.5ZM1109.8 7.1L1106.9 9.3L1107 7.9L1106.2 6.6ZM1141 7.1L1137.8 9.5L1138 7.9L1137.1 6.5ZM1176.5 11.4L1171 13L1172 10.9L1171.5 8.6ZM1212 10.6L1204.8 13.2L1206 10.3L1205.1 7.3ZM1226.9 7.1L1225.6 8.5L1225.5 7.8L1225 7.2ZM1255.5 7.1L1254.8 8.3L1254.6 7.8L1254.1 7.5ZM1285.8 7.1L1285.1 8.3L1285 7.8L1284.5 7.5ZM1317 7.1L1316.1 8.4L1316 7.8L1315.4 7.4ZM1360.3 6.8L1354.9 10.2L1355.3 7.6L1354 5.3ZM1383.8 6.8L1380.7 9.2L1380.8 7.6L1379.8 6.3ZM1409 6.8L1407.8 8.3L1407.6 7.5L1407 7ZM1435.9 7.1L1435.7 8.1L1435.4 7.8L1435 7.7ZM1467.1 7.1L1466.6 8.2L1466.4 7.8L1466 7.6ZM1500 9.7L1498.5 10.3L1498.7 9.7L1498.5 9.1ZM858.9 29.6L858.7 30.4L858.5 30.2L858.2 30.1ZM888.7 30.8L888.6 31.2L888.5 31.1L888.3 31ZM919.4 27.4L919.6 28.8L919.1 28.5L918.5 28.5ZM948.6 27.4L949.1 28.7L948.6 28.5L948 28.7ZM984.1 31.7L982.5 32.3L982.7 31.7L982.5 31.1ZM1018.7 31.7L1015.5 33L1016 31.7L1015.5 30.4ZM1051.6 28.3L1048 31.1L1048.2 29.3L1047 27.7ZM1078.5 24L1076.7 27.8L1076.1 26.2L1074.5 25.4ZM1109.8 23.1L1107.8 27.4L1107 25.6L1105.3 24.7ZM1144.4 25.7L1140.6 29.7L1140.4 27.4L1138.9 25.8ZM1177.3 29.1L1172.1 32.3L1172.6 29.9L1171.4 27.7ZM1214.6 26.9L1207.4 31.8L1207.8 28.3L1206 25.2ZM1241.5 21L1236.3 27.5L1235.8 24.1L1233.2 21.8ZM1263.7 23.6L1260.9 28L1260.4 26L1258.6 24.7ZM1291.3 27.9L1288.8 30.5L1288.8 29L1287.8 27.9ZM1316.2 31.7L1315.2 32.1L1315.3 31.7L1315.2 31.3ZM1344.8 33.4L1344.1 33.1L1344.4 33L1344.5 32.7ZM1381.5 33.9L1378.8 34.3L1379.5 33.4L1379.4 32.2ZM1417 30L1412.8 32.5L1413.2 30.5L1412.3 28.7ZM1449.6 25.2L1445.3 29.6L1445.1 27.1L1443.4 25.2ZM1470.5 26.5L1469.4 28.8L1469 27.9L1468.1 27.3ZM1504.3 30.3L1501.3 32.1L1501.6 30.7L1500.9 29.4ZM854.1 48.5L855.7 49.7L854.9 49.9L854.4 50.5ZM885.3 50.8L886.4 51.3L885.9 51.5L885.7 52ZM916 46.3L917.6 48.2L916.5 48.2L915.7 48.8ZM1010.1 52L1010.1 52.6L1009.9 52.4L1009.6 52.4ZM1043.9 52L1042.8 53L1042.8 52.4L1042.4 52ZM1079.4 47.7L1077 51.1L1076.7 49.4L1075.3 48.4ZM1107.2 45.6L1106 49.4L1105.2 48L1103.7 47.4ZM1141 49.9L1138 52.7L1138 51L1136.9 49.7ZM1173.9 48.9L1170.2 52.4L1170.2 50.3L1168.8 48.7ZM1200.8 48.5L1198.3 51.6L1198.1 50L1196.9 48.9ZM1235.1 47.7L1231.4 51.6L1231.2 49.4L1229.7 47.8ZM1258.9 56.3L1256.5 56.4L1257.2 55.6L1257.2 54.6ZM1295.6 52.8L1291.3 55L1291.8 53.1L1291 51.2ZM1322.2 52.8L1319.1 54.5L1319.5 53.1L1318.9 51.8ZM1356 57.5L1351.1 58L1352.3 56.4L1352.1 54.4ZM1387.9 57.1L1382.5 58L1383.7 56.1L1383.5 53.9ZM1423.1 53.4L1416.6 56.2L1417.5 53.5L1416.5 50.7ZM1452.2 50.6L1446.5 54.2L1447 51.5L1445.6 49.1ZM1477.4 52L1473.3 54.4L1473.7 52.5L1472.8 50.7ZM1498.3 53.7L1497.3 54.1L1497.4 53.7L1497.3 53.3ZM854.1 69.7L855.9 71.1L854.9 71.2L854.3 71.9ZM884.6 72.8L885.9 73.2L885.4 73.5L885.2 74.1ZM915.1 70.5L916.7 71.7L915.9 71.9L915.4 72.5ZM1009.2 72.3L1009.7 73.3L1009.2 73.1L1008.8 73.3ZM1038.7 73.1L1039.3 73.8L1039 73.8L1038.7 74ZM1070 70.5L1070.6 72.1L1070 71.9L1069.3 72.1ZM1099.1 68.3L1100.4 70.4L1099.4 70.2L1098.5 70.7ZM1130.7 74.8L1130.8 75.1L1130.7 75.1L1130.5 75.1ZM1157.9 74.8L1158.9 74.7L1158.7 75.1L1158.7 75.5ZM1187.1 72.3L1188.8 72.8L1188.1 73.1L1187.9 73.8ZM1252.9 71.9L1253.1 73.2L1252.7 72.9L1252.2 72.9ZM1292.7 72.3L1289.7 74.9L1289.7 73.3L1288.7 72ZM1329.4 70.5L1324.5 74.7L1324.6 72L1323 69.9ZM1369.2 73.5L1360.7 78L1361.7 74.1L1360 70.5ZM1402.2 80L1392.7 82.4L1394.6 78.9L1393.8 74.9ZM1431.1 80L1421.7 82.3L1423.6 78.8L1422.8 74.9ZM1459.9 75.2L1451.2 79L1452.5 75.3L1451.1 71.7ZM1484.3 76L1477.5 78.7L1478.6 75.9L1477.6 73.1ZM1500.9 76L1499 76.7L1499.3 76L1499.1 75.2ZM852.3 87.4L855.6 90.2L853.8 90.4L852.6 91.6ZM884.9 92.5L886.5 93.7L885.7 93.9L885.2 94.5ZM919.1 96.8L918.9 97.2L918.8 97.1L918.7 97ZM1004.4 97.2L1005.9 96.7L1005.7 97.3L1005.8 97.9ZM1031 99.1L1033.4 97.6L1033.2 98.7L1033.8 99.7ZM1065.8 94.3L1067.5 94.8L1066.9 95.1L1066.6 95.8ZM1098.1 90.8L1099.6 92.6L1098.6 92.6L1097.9 93.2ZM1131.5 91.7L1132 93.6L1131.3 93.2L1130.5 93.4ZM1157.9 94.6L1159.2 95.1L1158.7 95.4L1158.4 95.9ZM1187.9 95.1L1189.3 95.5L1188.8 95.8L1188.6 96.3ZM1217.9 104.6L1218.2 102L1218.9 102.8L1219.9 103ZM1252.4 103.2L1251.6 101.6L1252.3 101.8L1253 101.5ZM1291.3 96L1288.5 97.8L1288.8 96.5L1288.1 95.3ZM1333.4 95.6L1326.7 99.3L1327.4 96.2L1326.1 93.4ZM1371.5 99.4L1362.2 102.6L1363.8 99L1362.7 95.1ZM1404.7 98.2L1395.7 101.8L1397.1 98.1L1395.8 94.3ZM1426.5 100.3L1418.4 102.6L1419.9 99.5L1419.1 96.2ZM1457.4 98.9L1449.3 101.8L1450.6 98.6L1449.6 95.2ZM1475.7 100.1L1471.5 100.9L1472.4 99.4L1472.2 97.7ZM848.9 112L852.9 113.4L851.4 114.2L850.7 115.8ZM879.4 111.4L883.5 113.1L881.9 113.8L881.1 115.5ZM916 117.6L916.9 118L916.5 118.2L916.4 118.5ZM1001.9 125.7L1003.5 122.6L1004 124L1005.2 124.7ZM1032.7 123.7L1034.3 121.6L1034.5 122.6L1035.3 123.3ZM1062 116.8L1064.8 116.7L1064.1 117.5L1064 118.7ZM1097.7 112.8L1099.4 114.6L1098.4 114.6L1097.6 115.2ZM1129.8 113.7L1130.8 115.4L1130 115.2L1129.3 115.6ZM1159.1 115.4L1160.2 116.5L1159.6 116.5L1159.1 116.9ZM1218.1 124.9L1218.5 122.9L1219 123.5L1219.8 123.8ZM1248.1 118L1249.5 118L1249.1 118.4L1249.1 119ZM1291.3 109L1289.8 113.9L1288.8 112.1L1286.8 111.4ZM1335.1 113.3L1328.4 118.7L1328.6 115.2L1326.6 112.3ZM1370.3 121.1L1361.1 124.4L1362.6 120.7L1361.5 116.8ZM1388.4 116.3L1383.8 119.6L1384.1 117.3L1382.8 115.3ZM1422.2 119.7L1415.9 122.3L1416.9 119.7L1415.9 117.1ZM1442.7 118.5L1440.3 119.9L1440.6 118.8L1440 117.8ZM1467.1 121.9L1466 121.6L1466.4 121.4L1466.6 120.9ZM850.6 137.9L853.2 138.2L852.4 138.9L852.2 139.9ZM876.7 130.5L882.1 132.7L879.9 133.8L878.9 135.9ZM912.2 135.2L914.8 136.4L913.7 136.8L913.2 137.9ZM943.4 135.2L945.8 136.5L944.7 136.8L944.1 137.8ZM1001.9 150.8L1003.1 146.7L1004 148.2L1005.7 148.8ZM1026.7 148.2L1030.2 144.2L1030.4 146.3L1032 147.9ZM1053.4 139.1L1059.4 137.6L1058.2 139.9L1058.7 142.4ZM1088.3 129.3L1094.1 131.8L1091.7 132.9L1090.6 135.3ZM1121.2 130L1126.1 132.6L1123.9 133.4L1122.7 135.3ZM1158.2 137.4L1159.6 138.3L1159 138.5L1158.5 139ZM1185 136.5L1187.5 137.3L1186.6 137.9L1186.2 138.9ZM1255.8 139.1L1255 140.4L1254.9 139.8L1254.4 139.4ZM1330.8 147.2L1323.9 147.9L1325.6 145.6L1325.4 142.8ZM1358.2 152L1351.6 150.7L1353.9 149L1354.6 146.3ZM1385.8 146L1381 146.3L1382.2 144.8L1382.2 142.8ZM1416.2 146.5L1411.3 146.6L1412.6 145.1L1412.7 143.1ZM1442.7 141.7L1440.2 142.8L1440.6 141.7L1440.2 140.6ZM1469.7 145.7L1467.6 145.1L1468.3 144.6L1468.6 143.8ZM884.1 156.3L886.1 158L885 158.2L884.3 159ZM911.7 157.3L914.8 158.6L913.6 159.2L913 160.4ZM943.4 166.3L944.6 164.9L944.7 165.6L945.3 166.2ZM971 167.1L972.9 165.1L973 166.3L973.8 167.1ZM1001.9 171.4L1003.3 167.7L1004 169.2L1005.5 169.9ZM1030.1 173.2L1032 168.6L1032.9 170.4L1034.7 171.3ZM1055.5 158.9L1061.1 158.5L1059.7 160.3L1059.7 162.6ZM1090.5 146.5L1096.3 151L1093.3 151.5L1091.4 153.8ZM1121.2 150.8L1126.3 153.8L1123.9 154.5L1122.6 156.5ZM1150.5 163.7L1154.1 162.2L1153.5 163.7L1154.1 165.2ZM1183.3 162.8L1185.8 162.1L1185.3 163.1L1185.6 164.1ZM1223.6 159.4L1223.6 160.9L1223.1 160.5L1222.5 160.5ZM1242.1 161.1L1245.8 160.6L1245 161.9L1245.1 163.4ZM1270.7 170.2L1273.8 166.3L1274.1 168.3L1275.6 169.7ZM1311 184.3L1308.7 177.1L1311.5 178.4L1314.6 177.6ZM1348.3 184.3L1343.6 178L1346.8 178.4L1349.4 176.6ZM1382.4 174.9L1377.8 172.3L1379.8 171.6L1380.9 169.8ZM1417.9 170.9L1412.1 170.5L1413.8 168.8L1414.1 166.5ZM1449.6 170.2L1443.4 170.2L1445.1 168.3L1445.3 165.8ZM1475.7 172L1470.7 170.7L1472.4 169.6L1473.1 167.5ZM1501.7 163.7L1499.7 164.6L1500 163.7L1499.7 162.8ZM857.5 182.6L857.9 183.5L857.5 183.4L857.1 183.5ZM884.6 180.5L886.2 181.7L885.4 181.9L884.9 182.5ZM913.4 181.7L915.3 182.3L914.6 182.8L914.3 183.5ZM943.4 192.1L944.1 189.5L944.7 190.4L945.7 190.8ZM974.4 193.1L974.8 190.3L975.6 191.2L976.7 191.4ZM1007 191.4L1007 189.4L1007.6 189.9L1008.4 190ZM1042.7 191.4L1041.1 190.1L1041.9 189.9L1042.5 189.3ZM1075.5 181.7L1074.3 183.6L1074 182.8L1073.3 182.2ZM1104.6 171.1L1105.2 176.7L1103.4 175.3L1101 175.4ZM1131.5 172.8L1133.1 177.3L1131.3 176.5L1129.4 177.1ZM1161.3 184.8L1161.3 185.1L1161.3 185.1L1161.1 185.1ZM1187.1 181.1L1188.9 181.9L1188.1 182.2L1187.8 183ZM1212.9 175.9L1217.3 178L1215.5 178.7L1214.5 180.5ZM1233.1 182.8L1240 181.1L1238.6 183.6L1239.2 186.5ZM1270.4 193.4L1273.4 189.1L1273.8 191.2L1275.6 192.5ZM1306.4 206.3L1305.6 198.4L1308.2 200.4L1311.5 200.2ZM1344.5 211.5L1340.3 202.9L1344.1 204L1347.7 202.5ZM1382 205.5L1376.3 200L1379.6 199.8L1381.9 197.5ZM1420.5 192.1L1413.9 192.3L1415.7 190.2L1415.7 187.5ZM1453.9 189.1L1446.7 190.8L1448.2 188.1L1447.7 185.1ZM1482.5 189.1L1475.9 190.5L1477.3 188.1L1476.9 185.4ZM1506.4 186.9L1502.3 188.1L1503 186.6L1502.6 184.8ZM916.3 203.4L917.4 204.5L916.8 204.5L916.3 204.9ZM981 213.7L979.6 212.2L980.4 212.2L981.1 211.7ZM1013.9 210.3L1012.2 210.1L1012.7 209.6L1012.8 208.9ZM1046.8 207.2L1044.7 208.2L1045 207.3L1044.6 206.4ZM1082.7 203.4L1079 206.7L1079 204.6L1077.7 203ZM1109.8 199.6L1107.7 203.7L1107 202L1105.4 201ZM1132.7 195.7L1133.7 200.1L1132.1 199.1L1130.3 199.5ZM1161 199.6L1162 202L1161 201.7L1160 202ZM1190.1 203.9L1191 204.9L1190.5 204.9L1190 205.2ZM1209.8 206.3L1214.1 205.1L1213.3 206.7L1213.7 208.5ZM1236.1 206.3L1241.7 204.5L1240.7 206.7L1241.3 209.1ZM1263.8 212.9L1269.4 208.5L1269.2 211.4L1270.9 213.8ZM1300.7 223.2L1302.6 216.2L1304.2 218.7L1307 219.6ZM1350 230.9L1344.3 224L1348 224.2L1351 222ZM1386.2 223.7L1379.6 220.1L1382.5 219.1L1384.1 216.4ZM1417 215.1L1411.5 214.5L1413.2 213L1413.6 210.7ZM1445.3 208.9L1441.4 210.1L1442.1 208.6L1441.7 206.9ZM1474 215.8L1469.6 214.4L1471.2 213.4L1471.9 211.7ZM1499.1 210.6L1497.5 210.3L1498.1 209.9L1498.2 209.2ZM890.9 231.1L889.8 231.1L890.2 230.7L890.2 230.3ZM922.8 226.3L921.9 227.9L921.7 227.1L921 226.7ZM944.3 234.5L944.9 232.5L945.3 233.3L946.1 233.6ZM974.4 235.2L975.1 233L975.6 233.8L976.5 234.1ZM1008.4 226.3L1009.1 227.2L1008.6 227.1L1008.2 227.4ZM1043.9 225.4L1043.1 227.2L1042.8 226.5L1042.1 226.2ZM1075.8 223.2L1074.9 225.9L1074.3 224.8L1073.2 224.4ZM1103.7 225.4L1103.2 227.1L1102.9 226.5L1102.2 226.3ZM1131.5 222.5L1132.2 224.8L1131.3 224.3L1130.3 224.5ZM1159.6 216.8L1161.9 221L1160 220.5L1158.3 221.4ZM1180.2 224.2L1184.8 224.5L1183.4 225.8L1183.2 227.7ZM1212.1 228L1215.6 227.2L1214.9 228.5L1215.1 229.9ZM1239.5 228L1244 226.8L1243.1 228.5L1243.5 230.4ZM1270.7 231.9L1274.4 229.5L1274.1 231.3L1275 232.8ZM1300.7 237.1L1303.8 232.9L1304.2 235L1305.9 236.3ZM1339.3 244.3L1338.5 238.8L1340.4 240.1L1342.7 239.9ZM1379.8 243.5L1375.7 239.7L1378 239.5L1379.6 237.9ZM1415 234.9L1410.4 234.7L1411.7 233.4L1411.9 231.5ZM1439.3 231.4L1437.5 231.6L1438 231L1438 230.3ZM1465 236.6L1464 234.6L1464.9 234.8L1465.7 234.4ZM1493.1 234.9L1493 233.1L1493.6 233.5L1494.3 233.5ZM859.2 255.1L858.3 254.3L858.8 254.3L859.1 253.9ZM890.9 251.4L890.1 251.8L890.2 251.4L890 251.1ZM941.7 258.6L943 255.3L943.7 256.6L945 257.2ZM974.4 254.3L975.4 252.9L975.6 253.6L976.1 254.1ZM1003.9 248.8L1005.9 249L1005.3 249.5L1005.2 250.3ZM1037 246.5L1038.4 247.8L1037.7 247.9L1037.1 248.4ZM1063.8 246.5L1066.3 247.3L1065.3 247.9L1065 248.9ZM1094.6 247.1L1096.9 247.7L1096.1 248.2L1095.7 249.2ZM1130.7 246.5L1131.3 248.1L1130.7 247.9L1130 248.1ZM1149.7 241.9L1154.9 243.6L1152.9 244.7L1152.1 246.9ZM1183.3 246.2L1186.8 246.9L1185.6 247.8L1185.2 249.2ZM1216.7 245.7L1219 246.9L1218 247.2L1217.5 248.1ZM1242.4 245.7L1246.6 246.4L1245.2 247.4L1244.8 249.1ZM1270.7 254.3L1274.3 251.7L1274.1 253.5L1275.1 255.1ZM1301.9 258.6L1304.6 254.7L1305.1 256.6L1306.6 257.8ZM1331.4 262.9L1333.8 257.4L1334.8 259.6L1337 260.7ZM1366.1 265.5L1366.6 259.7L1368.2 261.5L1370.5 261.8ZM1399.8 258.6L1400.2 256L1400.9 256.8L1401.9 257ZM1430.7 261.2L1430.5 257.4L1431.7 258.4L1433.2 258.4ZM1462.8 257.7L1462.5 255.7L1463.2 256.2L1464.1 256.1ZM1497.4 256L1496.1 255L1496.8 254.9L1497.2 254.4ZM852.3 272L854.1 271.8L853.7 272.4L853.7 273.1ZM880.6 272L883 271.6L882.5 272.4L882.6 273.4ZM909.9 273.7L912.4 272.7L912.1 273.7L912.4 274.7ZM948.2 277.1L947.9 276.1L948.3 276.3L948.7 276.1ZM985.8 274L983.7 274.8L984 274L983.8 273.1ZM1037.9 271.1L1038.7 271.7L1038.3 271.8L1038.1 272.1ZM1063.8 270.8L1066 270.9L1065.3 271.5L1065.3 272.4ZM1097.4 270.8L1098.6 271.3L1098.1 271.5L1097.9 272ZM1123.8 267.3L1127 268.5L1125.8 269.2L1125.2 270.5ZM1149.3 266.8L1154.3 267.5L1152.7 268.8L1152.3 270.8ZM1178.5 269.4L1183.5 269L1182.2 270.6L1182.2 272.7ZM1210.4 264.2L1215.6 265.8L1213.6 267L1212.9 269.1ZM1238.3 266L1244.1 266.6L1242.3 268.2L1241.9 270.6ZM1269.9 277.1L1273.6 274.2L1273.5 276.1L1274.6 277.8ZM1304.2 284L1305.6 279.3L1306.6 281L1308.6 281.7ZM1329.3 289.2L1331.8 281.9L1333.3 284.7L1336.2 285.9ZM1366.1 284L1367.1 279.5L1368.2 281L1370 281.6ZM1399.8 281.4L1400.1 278.6L1400.9 279.5L1402 279.6ZM1432.4 280.6L1432.1 278.3L1432.9 278.8L1433.8 278.7ZM1465.7 280.6L1464.5 278.7L1465.4 278.8L1466.2 278.4ZM1499.1 278.9L1497.2 277.9L1498.1 277.5L1498.5 276.8ZM847.2 297.4L850.4 295.4L850.2 296.9L850.9 298.3ZM877.7 292.3L881.6 292L880.6 293.3L880.7 294.9ZM910.8 290.9L913.6 291.4L912.7 292.1L912.4 293.3ZM944.3 292.6L945.9 293L945.3 293.4L945.2 294.1ZM982.2 292.3L981.6 293.7L981.3 293.1L980.8 292.9ZM1005 295.2L1006.3 294.8L1006 295.3L1006.2 295.9ZM1036.2 290.9L1037.8 291.9L1037 292.1L1036.6 292.8ZM1066.9 290.2L1068.5 291.5L1067.6 291.6L1067.1 292.2ZM1092.6 290.9L1095.9 291.4L1094.8 292.3L1094.5 293.6ZM1116.2 295.4L1121.2 293.4L1120.4 295.5L1121.1 297.5ZM1148.8 293.3L1153.3 292.4L1152.3 294L1152.6 295.9ZM1178.5 289.3L1183.8 289.7L1182.2 291.2L1181.9 293.3ZM1210.9 287.1L1215.8 288.5L1214 289.6L1213.3 291.6ZM1242.9 287.6L1247.2 289.1L1245.6 290L1244.9 291.7ZM1268.3 291.6L1273.7 291L1272.4 292.8L1272.5 295ZM1302.6 302.6L1305.1 298.8L1305.5 300.6L1307 301.7ZM1339.8 307.4L1339.3 302.9L1340.8 304L1342.6 303.9ZM1370.2 304.8L1370 301.2L1371.1 302.2L1372.6 302.2ZM1401.7 301.4L1401.6 299.4L1402.3 299.9L1403.1 299.9ZM1433.8 306L1432.5 302.5L1433.9 303L1435.4 302.6ZM1469.8 305.3L1466.6 302.8L1468.3 302.5L1469.4 301.3ZM1500 300.5L1497.9 299.7L1498.7 299.3L1499.1 298.4ZM849.8 322.3L851.7 319.7L852 321L853.1 321.9ZM876.7 315.6L880.8 314.7L879.9 316.2L880.2 317.9ZM912.2 311.7L914.7 312.7L913.7 313.2L913.2 314.2ZM944.8 311.7L946.7 313L945.7 313.2L945.1 314ZM974.8 311.7L976.8 313L975.8 313.2L975.3 314ZM1004.4 317.2L1005.9 316.7L1005.7 317.3L1005.8 317.9ZM1037.9 314.3L1038.8 315.1L1038.3 315.1L1038 315.5ZM1061.2 309.4L1065.3 311L1063.7 311.8L1063 313.5ZM1087.4 308.8L1093.1 310L1091.1 311.3L1090.5 313.6ZM1120.5 318.6L1123.8 316.8L1123.4 318.3L1124.1 319.7ZM1150.5 319.8L1153.8 317.6L1153.5 319.2L1154.4 320.6ZM1185 314.9L1187.2 315L1186.6 315.7L1186.6 316.6ZM1215.5 311.2L1218.2 312.3L1217.1 312.8L1216.5 313.9ZM1241.7 313.2L1245.9 313.3L1244.7 314.5L1244.6 316.2ZM1272.3 312.9L1276.4 313.1L1275.2 314.3L1275 316ZM1298.8 320.6L1303.1 317.6L1302.9 319.8L1304 321.6ZM1331.2 322.9L1334.5 319.4L1334.7 321.4L1336 322.8ZM1366.2 328.9L1367.1 324L1368.3 325.6L1370.3 326.1ZM1396.6 326L1397.9 322.1L1398.7 323.6L1400.2 324.2ZM1432.1 327.2L1431.4 323.6L1432.7 324.4L1434.1 324.2ZM1461.2 324.6L1461.3 322.1L1462.1 322.8L1463.1 322.9ZM1495.4 323.7L1494.5 322L1495.2 322.2L1496 321.8ZM858.4 346.9L857.2 344.9L858.1 345.1L859 344.6ZM916.8 333.5L918 335.2L917.2 335.1L916.5 335.5ZM944.3 334.9L946.1 335.8L945.3 336.1L944.9 336.9ZM971.3 333.7L974.8 334.6L973.5 335.4L973 336.8ZM1001 339.4L1003.5 338.4L1003.1 339.4L1003.4 340.5ZM1031 335.4L1034.5 335.6L1033.5 336.6L1033.3 338.1ZM1065.1 332.8L1067.4 334.3L1066.4 334.6L1065.7 335.5ZM1092 332.8L1095.8 334L1094.4 334.8L1093.9 336.3ZM1123.9 339.7L1126 338.9L1125.7 339.7L1126 340.5ZM1190.8 336.3L1191.4 337.2L1191 337.1L1190.6 337.4ZM1216 335.7L1218.2 336.2L1217.5 336.8L1217.2 337.6ZM1242.1 338.7L1245.6 337.6L1245 339L1245.3 340.4ZM1271.1 339.2L1275 337.7L1274.3 339.3L1274.8 341ZM1296.8 340.4L1302.1 337.9L1301.4 340.2L1302.3 342.4ZM1326.1 346.1L1331 341.5L1331 344.2L1332.8 346.3ZM1361.1 347.3L1364.2 342.9L1364.7 345.1L1366.4 346.5ZM1395.5 345.5L1397.5 342.4L1397.9 343.9L1399.2 344.7ZM1426.4 345.5L1428.2 342.5L1428.7 343.9L1429.9 344.7ZM1456.9 346.1L1458.6 342.8L1459.1 344.2L1460.4 345ZM1493.5 346.6L1493 344.3L1493.8 344.8L1494.8 344.7ZM862.3 369.4L859.6 367.5L860.9 367.2L861.8 366.1ZM893.9 363.8L891.8 363.9L892.3 363.2L892.3 362.4ZM919.4 356L919.8 357.9L919.1 357.5L918.3 357.6ZM943.4 355.7L945.7 356.8L944.7 357.2L944.2 358.1ZM967.2 360.7L971.3 359.4L970.6 361L971 362.7ZM990.7 360.7L997.1 358.4L996.1 361L996.9 363.7ZM1027.6 357.7L1032.2 357.4L1031 358.9L1031.1 360.8ZM1060.3 358.6L1064 358.3L1063.1 359.5L1063.2 361ZM1088.6 358.6L1093 358L1092 359.5L1092.1 361.3ZM1120.9 359.8L1124.5 359.1L1123.7 360.4L1123.9 361.9ZM1157.4 361.7L1158.5 361.2L1158.3 361.7L1158.5 362.2ZM1188.8 360L1189.8 360.2L1189.4 360.4L1189.3 360.8ZM1246.4 369.3L1247.2 365.9L1248 367.1L1249.4 367.5ZM1271.7 366.3L1274.7 363.2L1274.8 365L1276 366.3ZM1296.2 367.5L1301 363.2L1301 365.9L1302.7 367.9ZM1326.4 366.7L1331.4 362.6L1331.2 365.2L1332.8 367.4ZM1358.2 364.6L1362.9 361.4L1362.6 363.8L1363.8 365.8ZM1398.6 369.8L1399.2 366.3L1400.1 367.4L1401.6 367.8ZM1432.1 366.9L1432.1 365L1432.6 365.5L1433.4 365.6ZM1463.8 365.8L1463.5 364.5L1464 364.8L1464.5 364.7ZM857 380.8L857.5 381.6L857.1 381.5L856.8 381.7ZM891.3 390.1L889.5 388.6L890.4 388.4L891.1 387.7ZM914.2 387.1L915 385.6L915.3 386.3L915.9 386.6ZM944.3 381.1L945.9 381.4L945.3 381.8L945.2 382.4ZM967.2 387.8L970.6 384.8L970.6 386.6L971.8 388.1ZM990.7 384.9L996.8 381.8L996.1 384.6L997.2 387.1ZM1021.6 379.7L1028.3 378.5L1026.8 380.9L1027.1 383.7ZM1055.5 378.5L1061.2 378.2L1059.7 380L1059.7 382.4ZM1086 384.6L1090.8 382.2L1090.2 384.3L1091 386.3ZM1114.5 385.1L1119.8 382.3L1119.2 384.7L1120.2 386.9ZM1150.5 383.2L1154.2 381.9L1153.5 383.3L1154 384.9ZM1185 377.7L1187.7 378.7L1186.6 379.2L1186.1 380.3ZM1216.7 388.9L1217.6 386.7L1218 387.5L1218.9 387.9ZM1252 399.2L1249.8 393.9L1252 394.7L1254.3 393.9ZM1271.1 391.3L1273.8 387.1L1274.3 389.1L1276 390.3ZM1307.1 386.6L1308.4 385L1308.5 385.9L1309.1 386.5ZM1336.4 384.6L1338.3 383.5L1338.1 384.3L1338.5 385.1ZM1367.3 387.5L1368.6 385.6L1368.8 386.5L1369.6 387.1ZM1402.1 386.8L1402.2 385.6L1402.5 386L1403 386.1ZM1431.2 385.8L1431.8 384.8L1432 385.2L1432.4 385.5ZM849.2 406.2L851.7 405L851.4 406.1L851.8 407.1ZM878.4 409.1L881.1 406.6L881.1 408.1L882.1 409.3ZM910.5 408.3L912.5 406.5L912.4 407.6L913.1 408.5ZM943.7 402.8L945.5 403L945 403.5L944.8 404.3ZM968.4 412.6L971 408.7L971.4 410.6L973 411.7ZM1000.1 404L1003.5 403.3L1002.8 404.5L1003 405.9ZM1032.7 400.5L1035.4 401.2L1034.5 401.9L1034.1 403ZM1062.4 400.5L1065.7 401.2L1064.6 402L1064.2 403.4ZM1086.9 407.9L1091.1 405.3L1090.8 407.3L1091.8 409.1ZM1114.5 407.4L1119.7 404.5L1119.2 406.9L1120.2 409.1ZM1147.1 406.9L1151.6 404.5L1151.1 406.6L1152 408.5ZM1180.2 402.3L1184.5 401.8L1183.4 403.3L1183.5 405ZM1213.8 408.3L1215.8 406.5L1215.8 407.6L1216.5 408.5ZM1241.7 422.9L1242.8 415.6L1244.7 417.9L1247.7 418.5ZM1275.7 411.2L1277 408.7L1277.4 409.8L1278.4 410.4ZM1338.8 406.6L1340 405.8L1339.9 406.3L1340.2 406.8ZM846.3 431.1L849.6 428.4L849.6 430.1L850.6 431.6ZM872 429.4L877.2 426.6L876.6 428.9L877.7 431.1ZM905.7 427L910 425.5L909.3 427.2L909.8 429ZM934.5 425.6L939.5 424.3L938.5 426.2L939 428.4ZM970.6 430.5L972.8 428.6L972.8 429.7L973.5 430.7ZM1006.7 426L1007.7 426.2L1007.3 426.4L1007.2 426.8ZM1037.5 422.2L1038.8 423.6L1038.1 423.6L1037.5 424.1ZM1070.6 419.4L1071.5 422L1070.5 421.6L1069.4 421.8ZM1092 433.9L1094 430.6L1094.4 432.1L1095.7 433ZM1115.7 436.3L1119.6 431.2L1120 433.8L1122 435.5ZM1149.3 429.4L1153 427.2L1152.7 428.9L1153.5 430.5ZM1178.5 427L1182.9 425.4L1182.2 427.2L1182.7 429.1ZM1204 430.5L1209.6 427L1209.1 429.7L1210.4 432ZM1233.1 435.1L1238.5 429.9L1238.6 433L1240.6 435.3ZM1268.8 435.1L1272.4 430.6L1272.7 433L1274.5 434.5ZM852.3 452.3L853.6 450.9L853.7 451.6L854.2 452.2ZM881.1 450.6L883 449.5L882.9 450.3L883.3 451.1ZM914.2 448.3L915.6 448.2L915.3 448.7L915.3 449.2ZM943.7 451.8L944.9 450.5L945 451.2L945.4 451.8ZM973.1 447.6L975.1 447.5L974.5 448.2L974.5 449ZM1006.2 445.4L1007.6 446.3L1006.9 446.5L1006.5 447.1ZM1039.3 440.6L1040.7 443.6L1039.4 443.2L1038.1 443.7ZM1057.2 446.3L1062 445.6L1060.9 447.3L1061.1 449.2ZM1091.5 461.4L1092.8 456.2L1094.1 458L1096.2 458.7ZM1118.8 460L1121.3 454.8L1122.2 457L1124.3 458.2ZM1145.4 450.6L1150.6 448L1149.9 450.3L1150.8 452.5ZM1178.5 447.1L1183.2 446.2L1182.2 447.9L1182.5 449.8ZM1207.4 454.5L1211.6 450.8L1211.6 453.1L1213 454.9ZM881 471.7L883 470.8L882.7 471.7L883 472.6ZM911.8 471.7L913.7 470.9L913.5 471.7L913.7 472.5ZM1007.9 466L1009 467.6L1008.2 467.5L1007.6 467.9ZM1022.4 463.1L1029.5 463.6L1027.4 465.6L1027 468.5ZM1051.7 468.9L1058.3 467.3L1057 469.7L1057.5 472.5ZM1090.3 482L1092.2 477.1L1093.2 479L1095.2 479.9ZM1120.5 480.6L1122.7 476.2L1123.4 478.1L1125.2 479ZM1146.2 472.9L1151.1 470.4L1150.5 472.6L1151.4 474.6ZM1180.2 467.7L1184.5 467.5L1183.4 468.9L1183.4 470.7ZM1218.1 472.9L1219 472.1L1219 472.6L1219.3 473ZM867.8 499.4L863.5 498.9L864.8 497.7L865.1 496ZM890.9 494.9L889.9 494.9L890.2 494.6L890.2 494.2ZM952.3 495.4L951 495.4L951.4 495L951.4 494.4ZM1000.5 493.7L1003.1 492.6L1002.7 493.7L1003.1 494.8ZM1031.9 487.7L1035.4 488.6L1034.1 489.4L1033.6 490.8ZM1053.8 487.3L1060.2 487.2L1058.5 489.2L1058.4 491.8ZM1080 499.7L1086.1 494.8L1085.9 498L1087.8 500.6ZM1110.5 500.1L1116.5 495L1116.4 498.2L1118.3 500.8ZM1153.1 494.2L1155.4 493.1L1155.1 494.1L1155.5 495.1ZM1181.9 493.2L1185.2 492L1184.6 493.3L1185 494.7ZM1213.8 492.8L1216.3 492.1L1215.8 493.1L1216.1 494.1ZM848 518.6L850.8 516.3L850.8 517.8L851.7 519ZM876 517.9L879.7 515.5L879.4 517.3L880.3 518.9ZM909.9 518.3L912.1 516.5L912.1 517.6L912.7 518.5ZM938.6 516.6L941.8 514.8L941.5 516.3L942.1 517.7ZM968.4 518.6L971.6 516.1L971.4 517.8L972.4 519.1ZM1005 517.4L1006 516.4L1006 517L1006.5 517.4ZM1029.6 512.8L1033.4 512.3L1032.5 513.6L1032.6 515.2ZM1058.9 513.1L1063.1 512.4L1062.1 513.9L1062.3 515.6ZM1091.5 515.2L1094.2 514.2L1093.8 515.3L1094.1 516.4ZM1127.4 517.9L1128.1 516.9L1128.2 517.4L1128.6 517.7ZM1165.1 513.5L1164.2 514.7L1164.1 514L1163.6 513.6ZM1178.5 516.6L1182.7 514.4L1182.2 516.3L1183 518.1ZM848 541.5L850.7 538.8L850.8 540.4L851.8 541.5ZM880.6 540.5L882.5 538.7L882.5 539.7L883.1 540.5ZM907.7 537L911.4 535.7L910.7 537.2L911.2 538.7ZM935.1 538.2L939.6 536.1L939 538.1L939.8 540ZM970.6 537.7L973.1 536.7L972.8 537.7L973.1 538.7ZM1065.1 532.5L1067.2 533.5L1066.4 533.9L1065.9 534.7ZM1125.3 531.7L1127.7 532.8L1126.7 533.2L1126.2 534.2ZM1150 539.4L1153.5 537.3L1153.2 538.9L1154 540.4ZM1185.3 538.6L1187 537.5L1186.9 538.3L1187.2 539.1ZM854.9 560.6L855.6 560L855.6 560.3L855.8 560.6ZM885.3 560.6L885.9 560L885.9 560.3L886.2 560.6ZM915.6 560.6L916.3 560L916.3 560.3L916.5 560.6ZM946.8 560.2L947.3 559.8L947.3 560.1L947.4 560.3ZM976.3 560.6L977 560L977 560.3L977.2 560.6ZM1007.2 559.2L1007.9 559.1L1007.7 559.3L1007.7 559.6ZM1037 560.6L1037.7 560L1037.7 560.3L1037.9 560.6ZM1068.2 560.2L1068.7 559.8L1068.7 560.1L1068.8 560.3ZM1098.2 560.2L1098.8 559.8L1098.8 560.1L1098.9 560.3ZM1128.9 558.8L1129.6 558.9L1129.4 559.1L1129.3 559.3ZM1158.4 560.2L1159.1 559.7L1159.1 560.1L1159.3 560.4ZM1189.6 557.1L1190.5 557.7L1190.1 557.8L1189.8 558.1ZM1221.2 555.4L1221.9 556.6L1221.3 556.5L1220.8 556.8Z" fill="#000" stroke="#000" stroke-width="0.6" stroke-linejoin="round"/><rect x="919.2" y="44" width="78.3" height="71.9" fill="#fff"/><text x="958.4" y="98.7" font-size="52" text-anchor="middle">(b)</text><path d="M838.6 43.4H1517.8M838.6 80.5H1517.8M838.6 117.7H1517.8M838.6 154.8H1517.8M838.6 229H1517.8M838.6 266.1H1517.8M838.6 303.3H1517.8M838.6 340.4H1517.8M838.6 414.6H1517.8M838.6 451.7H1517.8M838.6 488.9H1517.8M838.6 526H1517.8" stroke="#8c8c80" stroke-width="1.3" stroke-dasharray="1.5 1.5" fill="none" opacity="0.55"/><path d="M974.4 6.3V563.1M1065 6.3V563.1M1155.6 6.3V563.1M1246.1 6.3V563.1M1427.2 6.3V563.1" stroke="#8c8c80" stroke-width="1.3" stroke-dasharray="1.5 1.5" fill="none" opacity="0.55"/><path d="M838.6 191.9H1517.8M838.6 377.5H1517.8M1291.4 6.3V563.1" stroke="#c9c9b0" stroke-width="1.3" fill="none" opacity="0.8"/><path d="M1517.8 375 L1498.6 380.7 L1490 377 L1478.6 375.7 L1472.9 380 L1465.6 387 L1452.6 389.3 L1432.9 391.4 L1424.3 395.7 L1418.6 400 L1410 402.9 L1398.6 405.7 L1390 402 L1381.5 401.4 L1375.6 403.6 L1372.6 398 L1371.1 396.5 L1369.1 399 L1367.2 403 L1355.6 405.7 L1344.3 411.4 L1335.6 415.7 L1330 420 L1320 427 L1312.9 432.9 L1298.6 437.9 L1288.6 440.2 L1281.8 442.7 L1276.7 445.3 L1274.2 449.5 L1270 454.6 L1267.4 460.5 L1264.9 465.6 L1262.3 470.7 L1258.1 469 L1253.9 471.5 L1251.7 469.8 L1253 463.9 L1250 458 L1253 446.1 L1249.6 444.8 L1244.5 448.6 L1239.4 458 L1235.2 465.6 L1230.5 472.4 L1231 478.3 L1236.1 481.7 L1238.6 488.5 L1236.1 493.6 L1236.9 500.3 L1236.1 507.1 L1229.3 512.2 L1224.2 518.1 L1221.6 523.2 L1220 529.2 L1219.1 535.9 L1219.1 544.4 L1225 550.3 L1229.3 555.4 L1230.1 559.7 L1231.4 563.1" fill="none" stroke="#000" stroke-width="1.7" stroke-linejoin="round"/><ellipse cx="1309.1" cy="407" rx="3.2" ry="4.8" transform="rotate(20 1309.1 407)" fill="none" stroke="#000" stroke-width="1.8"/><ellipse cx="1290.6" cy="166.1" rx="37" ry="30.6" fill="none" stroke="#fff" stroke-width="6.6"/><ellipse cx="1290.6" cy="166.1" rx="37" ry="30.6" fill="none" stroke="#000" stroke-width="4.2"/><path d="M1292.1 163.3 L1246 222.5" stroke="#000" stroke-width="6" fill="none"/><path d="M1232.5 239.9 L1241.7 208 L1246 222.5 L1260.8 222.4 Z" fill="#000"/></g><path d="M838.6 6.3h4.5M1517.8 6.3h-4.5M838.6 43.4h4.5M1517.8 43.4h-4.5M838.6 80.5h4.5M1517.8 80.5h-4.5M838.6 117.7h4.5M1517.8 117.7h-4.5M838.6 154.8h4.5M1517.8 154.8h-4.5M838.6 191.9h8M1517.8 191.9h-8M838.6 229h4.5M1517.8 229h-4.5M838.6 266.1h4.5M1517.8 266.1h-4.5M838.6 303.3h4.5M1517.8 303.3h-4.5M838.6 340.4h4.5M1517.8 340.4h-4.5M838.6 377.5h8M1517.8 377.5h-8M838.6 414.6h4.5M1517.8 414.6h-4.5M838.6 451.7h4.5M1517.8 451.7h-4.5M838.6 488.9h4.5M1517.8 488.9h-4.5M838.6 526h4.5M1517.8 526h-4.5M838.6 563.1h4.5M1517.8 563.1h-4.5M974.4 563.1v-4.5M974.4 6.3v4.5M1065 563.1v-4.5M1065 6.3v4.5M1155.6 563.1v-4.5M1155.6 6.3v4.5M1246.1 563.1v-4.5M1246.1 6.3v4.5M1427.2 563.1v-4.5M1427.2 6.3v4.5M1291.4 563.1v-8M1291.4 6.3v8" stroke="#222" stroke-width="2" fill="none"/><rect x="838.6" y="6.3" width="679.2" height="556.8" fill="none" stroke="#161616" stroke-width="2.1"/><g clip-path="url(#clip_d)"><rect x="120" y="577.3" width="679.2" height="556.8" fill="#fdfde0"/><ellipse cx="492" cy="818" rx="80" ry="70" fill="#e9f5b2" opacity="0.9" filter="url(#bl14)"/><ellipse cx="491.6" cy="817.2" rx="28" ry="23" fill="none" stroke="#a7d98b" stroke-width="12" opacity="0.9" filter="url(#bl4)"/><ellipse cx="512" cy="806" rx="7" ry="9" fill="#74c076" opacity="0.8" filter="url(#bl3)"/><ellipse cx="496" cy="796" rx="10" ry="5" fill="#8ccc80" opacity="0.7" filter="url(#bl3)"/><ellipse cx="499" cy="813" rx="9" ry="8" fill="#f6fbd6" opacity="0.9" filter="url(#bl4)"/><ellipse cx="534" cy="832" rx="12" ry="12" fill="#c9e79c" opacity="0.7" filter="url(#bl5)"/><path d="M799.2 946 L780 951.7 L771.4 948 L760 946.7 L754.3 951 L747 958 L734 960.3 L714.3 962.4 L705.7 966.7 L700 971 L691.4 973.9 L680 976.7 L671.4 973 L662.9 972.4 L657 974.6 L654 969 L652.5 967.5 L650.5 970 L648.6 974 L637 976.7 L625.7 982.4 L617 986.7 L611.4 991 L601.4 998 L594.3 1003.9 L580 1008.9 L570 1011.2 L563.2 1013.7 L558.1 1016.3 L555.6 1020.5 L551.4 1025.6 L548.8 1031.5 L546.3 1036.6 L543.7 1041.7 L539.5 1040 L535.3 1042.5 L533.1 1040.8 L534.4 1034.9 L531.4 1029 L534.4 1017.1 L531 1015.8 L525.9 1019.6 L520.8 1029 L516.6 1036.6 L511.9 1043.4 L512.4 1049.3 L517.5 1052.7 L520 1059.5 L517.5 1064.6 L518.3 1071.3 L517.5 1078.1 L510.7 1083.2 L505.6 1089.1 L503 1094.2 L501.4 1100.2 L500.5 1106.9 L500.5 1115.4 L506.4 1121.3 L510.7 1126.4 L511.5 1130.7 L512.8 1134.1 L799.2 1136.1 L801.2 946 Z" fill="#fff" stroke="#fff" stroke-width="5" stroke-linejoin="round"/><path d="M144 595.3 l3 -1.5 l3 0.5 l1 1.5 l-1.5 0.3 l1.2 2.2 l-1.8 1.2 l-1.5 -1.8 l-2.5 -0.4 z" fill="none" stroke="#000" stroke-width="1.6"/><path d="M138.9 580.7L138.3 579.4M169.2 580.7L169.2 579.4M199.6 580.7L199.6 579.4M230 580.7L231.2 578.8M260.3 580.7L264.7 578.4M290.6 580.7L297.9 582.2M321 580.7L330.2 578.9M351.4 580.7L353.8 578.8M381.7 580.7L383.9 578.8M412.1 580.7L414.7 578.8M442.4 580.7L452.7 579.5M472.8 580.7L485 579.5M503.1 580.7L508.2 579M533.5 580.7L536 579M563.8 580.7L567.9 578.4M594.1 580.7L597.4 579M624.5 580.7L635.5 579.7M654.9 580.7L662.4 580.9M685.2 580.7L691.9 579.9M715.5 580.7L718.1 581.2M745.9 580.7l0.5 0M776.2 580.7L780.1 581M138.9 602.7L137 598.9M169.2 602.7L169.2 600.1M199.6 602.7L197.9 596.6M230 602.7L227.6 598.5M260.3 602.7L261.1 599.8M290.6 602.7L295.6 601.7M321 602.7L327.7 599.9M351.4 602.7L357.7 598.1M381.7 602.7L388.1 596.8M412.1 602.7L420.7 598.7M442.4 602.7L454.5 599.9M472.8 602.7L486.7 599.9M503.1 602.7L518.4 595.9M533.5 602.7L548.1 592.2M563.8 602.7L573.6 598.3M594.1 602.7L601.5 595.4M624.5 602.7L630 598.3M654.9 602.7L663 598.1M685.2 602.7L691.6 601.1M715.5 602.7L722.3 602.7M745.9 602.7L749.7 604M776.2 602.7L779.5 603.3M138.9 624.7L136.6 621.5M169.2 624.7L169.9 622.5M199.6 624.7L199.5 618.3M290.6 624.7L293.1 621.5M321 624.7L325.5 621.1M351.4 624.7L358.9 618.2M381.7 624.7L389.9 617M412.1 624.7L421.7 620.1M442.4 624.7L451.4 621.9M472.8 624.7L485.5 620.2M503.1 624.7L512.5 616.8M533.5 624.7L541.4 618.2M563.8 624.7L573.8 615.5M594.1 624.7L603.3 615.5M624.5 624.7L634.9 617.7M654.9 624.7L665.5 618.6M685.2 624.7L695.8 620.7M715.5 624.7L721.7 621.6M745.9 624.7L751 624.1M776.2 624.7L780.7 624.1M138.9 646.7L135.7 642.2M169.2 646.7l0.5 0M199.6 646.7L197.9 641.6M290.6 646.7L293.1 642.2M321 646.7L324.2 641.6M351.4 646.7L355.3 639.4M381.7 646.7L385.6 637.5M412.1 646.7L412.8 640M442.4 646.7L444.8 645.4M472.8 646.7L475.8 640.8M503.1 646.7L507.4 640.1M533.5 646.7L537.4 638.6M563.8 646.7L568.7 637M594.1 646.7L599.6 633.4M624.5 646.7L633.3 632.5M654.9 646.7L663 638.6M685.2 646.7L691.6 644.4M715.5 646.7L721.9 644.4M745.9 646.7L749.7 647.5M776.2 646.7L780.7 647.5M138.9 668.7L138.3 662.7M169.2 668.7L167.7 664.6M199.6 668.7L200.5 665.9M290.6 668.7L289 665.2M321 668.7L317.8 664M351.4 668.7L347 662.3M381.7 668.7L381.7 661.7M412.1 668.7L412.8 660.5M442.4 668.7L446.8 663M472.8 668.7L476.4 661.4M503.1 668.7L504 663.3M533.5 668.7L534.7 660.5M563.8 668.7L565 655.6M594.1 668.7L597.1 652.6M624.5 668.7L623.6 659.3M654.9 668.7L655.6 665.2M685.2 668.7l0.5 0M715.5 668.7l0.5 0M745.9 668.7L743.3 670.2M776.2 668.7L780.7 670M138.9 690.7L132.8 685.2M169.2 690.7L164.1 684M199.6 690.7L197.3 686.2M290.6 690.7L287.7 688.8M321 690.7L312.4 687M351.4 690.7L340.6 685.8M381.7 690.7L372.8 683.4M412.1 690.7L410.3 683.4M442.4 690.7L444.7 682.1M472.8 690.7L474.5 683.1M503.1 690.7L506.9 686.6M533.5 690.7L534.4 682.4M563.8 690.7L565.9 677M594.1 690.7L592.8 674.2M624.5 690.7L616.6 684M654.9 690.7L647 689.2M685.2 690.7L679.4 693.9M715.5 690.7L714 693.9M745.9 690.7L743.9 694.3M776.2 690.7L778.8 692.6M138.9 712.7L135.7 711M169.2 712.7L164.1 706.8M199.6 712.7L194.1 707.4M230 712.7L223.2 703.8M260.3 712.7L255.4 709.8M290.6 712.7L284.9 712.7M321 712.7L310.6 712M351.4 712.7L337.8 706.6M381.7 712.7L371.8 701.9M412.1 712.7L404.2 701.9M442.4 712.7L439.7 707.2M472.8 712.7L468.1 708.1M503.1 712.7L506.3 708.1M533.5 712.7L537.7 704.4M563.8 712.7L570.2 697.3M594.1 712.7L591 697.1M624.5 712.7L615.1 707.8M654.9 712.7L645.2 711.1M685.2 712.7L677.3 714.4M715.5 712.7L711.8 716.5M745.9 712.7L743.5 717.4M776.2 712.7L773.7 713.2M138.9 734.7L140.8 732M169.2 734.7L166.2 728.5M199.6 734.7L196.8 727.2M230 734.7L223.6 730.9M260.3 734.7L249.2 733.4M290.6 734.7L282.7 735.4M321 734.7L314.6 736.4M351.4 734.7L345.1 725.2M381.7 734.7L375.2 722M412.1 734.7L407.9 723.9M442.4 734.7L438.2 728.1M472.8 734.7L468.1 730.7M503.1 734.7L508.4 728.5M533.5 734.7L544.2 724.2M563.8 734.7L575.7 722M594.1 734.7L599.5 721.7M624.5 734.7L620 726.6M654.9 734.7L649.2 730.5M685.2 734.7L679.4 733.3M715.5 734.7L713.1 735.2M745.9 734.7L747.7 738M776.2 734.7L779.5 735.9M138.9 756.7l0.5 0M169.2 756.7L169.2 750.8M199.6 756.7L195.8 749.5M230 756.7L225.5 755.5M260.3 756.7L253.5 754.7M290.6 756.7L286.4 756.2M321 756.7l0.5 0M351.4 756.7L356.5 749.5M381.7 756.7L383.8 745.8M412.1 756.7L410.7 747.7M442.4 756.7L445.1 749.5M472.8 756.7L477.6 749.5M503.1 756.7L510.1 749.5M533.5 756.7L548.7 748.3M563.8 756.7L578.7 747.4M594.1 756.7L608.9 748.9M624.5 756.7L633.2 751.1M654.9 756.7L659.5 750.7M685.2 756.7L685.4 749.5M715.5 756.7L720.8 756.2M745.9 756.7L753.7 759.3M776.2 756.7L783 758.4M138.9 778.7l0.5 0M169.2 778.7l0.5 0M199.6 778.7L195.8 771.7M230 778.7L225.1 774.2M260.3 778.7L257 778.7M290.6 778.7L289.6 777.4M321 778.7L323.6 776.5M351.4 778.7L356.5 773.6M381.7 778.7L386.5 773.6M412.1 778.7L413.1 771.7M442.4 778.7L444.1 771.1M472.8 778.7L483.7 771.7M503.1 778.7L515.9 776M533.5 778.7L553.4 775.7M563.8 778.7L582.1 777.8M594.1 778.7L612.1 776.6M624.5 778.7L641 777M654.9 778.7L667.6 776.3M685.2 778.7L695.2 771.7M715.5 778.7L724.7 777M745.9 778.7L753.4 782.1M776.2 778.7L784.2 781.5M138.9 800.7l0.5 0M169.2 800.7l0.5 0M199.6 800.7L196.7 796.2M230 800.7L222.4 800.3M260.3 800.7L253.8 800.3M290.6 800.7L287.4 798.4M321 800.7l0.5 0M351.4 800.7L352.1 798.8M381.7 800.7L383.2 798.4M412.1 800.7L413.2 797.1M442.4 800.7L446.6 791.2M472.8 800.7L473 794.9M503.1 800.7L506.9 801.3M533.5 800.7L549.9 809.5M563.8 800.7L583.7 808.5M594.1 800.7L610.2 805.6M624.5 800.7L641.7 802.5M654.9 800.7L671.7 801.3M685.2 800.7L695.2 799.2M715.5 800.7L723 799.7M745.9 800.7L750.5 803.3M776.2 800.7L780.7 803.9M138.9 822.7L136.1 821M169.2 822.7L166 820.4M199.6 822.7L193.5 820.7M230 822.7L220.8 824.4M260.3 822.7L253.5 821.7M290.6 822.7L284.2 819M321 822.7L313.1 820.5M351.4 822.7L345.7 820.7M381.7 822.7L376.8 821.7M412.1 822.7L407.7 820.1M442.4 822.7L436.5 816.2M472.8 822.7L464.4 817.4M503.1 822.7L493.7 828.1M533.5 822.7L538.1 838.8M563.8 822.7L577.2 841.2M594.1 822.7L607.2 832.5M624.5 822.7L637.7 826M654.9 822.7L665.6 826M685.2 822.7L693.5 821.7M715.5 822.7L720.4 823.6M745.9 822.7L749.9 825.5M776.2 822.7L781.4 824.9M138.9 844.7L131.6 843.4M169.2 844.7L161.3 843.4M199.6 844.7L191.7 845.2M230 844.7L224.6 845.9M260.3 844.7l0.5 0M290.6 844.7L286.2 842M321 844.7L314.3 841.5M351.4 844.7L345.1 840.3M381.7 844.7L377.2 843.3M412.1 844.7L404.2 841.8M442.4 844.7L430.1 841.5M472.8 844.7L477.6 849.6M503.1 844.7L498.2 849.6M533.5 844.7L521.8 856.4M563.8 844.7L566.5 856.4M594.1 844.7L600.1 856.4M624.5 844.7L629.8 853.7M654.9 844.7L662.9 849.5M685.2 844.7L691.6 845.9M715.5 844.7L718.5 847.1M745.9 844.7L749.9 847.5M776.2 844.7L781.7 848.9M138.9 866.7L129.7 867.6M169.2 866.7L161.3 866.3M199.6 866.7L191.9 865.1M230 866.7L224.6 866.3M260.3 866.7L258.9 865.9M290.6 866.7l0.5 0M321 866.7L316.5 863.8M351.4 866.7L349.3 863.1M381.7 866.7L375.9 865.4M412.1 866.7L401.8 866.9M442.4 866.7L431.4 865.5M472.8 866.7L463.6 866M503.1 866.7L485.6 870.9M533.5 866.7L522.5 875.3M563.8 866.7L560.3 878.9M594.1 866.7L597.4 879.2M624.5 866.7L632.4 876.7M654.9 866.7L659.5 871.6M685.2 866.7L688.4 868.5M715.5 866.7L717.9 870.2M745.9 866.7L751.2 869.8M776.2 866.7L779.8 869.3M138.9 888.7L132.5 891.1M169.2 888.7L160.5 886.9M199.6 888.7L192.1 885.6M230 888.7L225.5 886.1M260.3 888.7L256.7 886.5M290.6 888.7L287.4 888.7M321 888.7L318.7 888.1M351.4 888.7L346.5 886.5M381.7 888.7L374 886.9M412.1 888.7L401.4 889.1M442.4 888.7L433.1 888.1M472.8 888.7L463.6 887.5M503.1 888.7L491.7 889.9M533.5 888.7L527 896M563.8 888.7L559 895.7M594.1 888.7L593.1 896.9M624.5 888.7L625.1 894.7M654.9 888.7L658.8 893.4M685.2 888.7L684.2 893.2M715.5 888.7L714.9 892.9M745.9 888.7L744.7 894.7M776.2 888.7L775.6 893.2M138.9 910.7L138.9 914.2M169.2 910.7L166 908.1M199.6 910.7L196.4 906.9M230 910.7L226.1 906.5M260.3 910.7L253.7 905.4M290.6 910.7L285.8 908.8M321 910.7L319.1 910.2M351.4 910.7L351.4 909.7M381.7 910.7l0.5 0M412.1 910.7L408.6 912.9M442.4 910.7L439.3 910.7M472.8 910.7L468.3 909.7M503.1 910.7L497.8 910.7M533.5 910.7L526.6 915.6M563.8 910.7L558.2 918.8M594.1 910.7L589.1 918M624.5 910.7L618.1 918.8M654.9 910.7L651.7 917.8M685.2 910.7L682.4 916.2M715.5 910.7L711 916.6M745.9 910.7L741.1 915.6M776.2 910.7L772.8 916.3M138.9 932.7L142.7 936.2M169.2 932.7L172.8 934M199.6 932.7L200.2 928.9M230 932.7L227.6 928.6M260.3 932.7L254.7 930.4M290.6 932.7L283 930.9M321 932.7L314.9 930M351.4 932.7L347 929.5M381.7 932.7L381.3 929.5M412.1 932.7l0.5 0M442.4 932.7l0.5 0M472.8 932.7L468.5 930.1M503.1 932.7L498.5 930.1M533.5 932.7L525.8 939.4M563.8 932.7L557.8 941M594.1 932.7L585.7 940M624.5 932.7L615.1 939.8M654.9 932.7L648.9 938.8M685.2 932.7L681.6 935.3M715.5 932.7L712.3 936.3M745.9 932.7L743.1 936.8M776.2 932.7L772.7 935.3M138.9 954.7L139.2 953.2M169.2 954.7L171.6 957.3M199.6 954.7L196.7 954.4M230 954.7L228 952.1M260.3 954.7L257 954.4M290.6 954.7L283.6 952.9M321 954.7L312.7 950.4M351.4 954.7L343.5 949.6M381.7 954.7L377.2 952.1M412.1 954.7L410.9 953.2M442.4 954.7L440.6 952.8M472.8 954.7L465.8 953.5M503.1 954.7L493.4 954.1M533.5 954.7L523.9 961.8M563.8 954.7L554.8 964.7M594.1 954.7L584.9 958.4M624.5 954.7L617.5 958.6M654.9 954.7L650.2 958.3M685.2 954.7L680.7 957M715.5 954.7L710.6 956.6M138.9 976.7L132.2 975.7M169.2 976.7L163.9 977.5M199.6 976.7L195.6 976.7M230 976.7L228 974.1M260.3 976.7L258.3 979M290.6 976.7l0.5 0M321 976.7L320.4 974.5M351.4 976.7L347.8 973.5M381.7 976.7L375.6 975M412.1 976.7L407.3 975M442.4 976.7L437.1 974.7M472.8 976.7L465.8 973.6M503.1 976.7L492 976.7M533.5 976.7L518.8 983.4M563.8 976.7L558.2 981.6M624.5 976.7L619.5 977.1M138.9 998.7L132.2 998.9M169.2 998.7L161.3 998.7M199.6 998.7L191.7 997.8M230 998.7L222.4 996.9M260.3 998.7L258 999.7M290.6 998.7l0.5 0M321 998.7L323.6 993.6M351.4 998.7L354.2 994M381.7 998.7L379.4 999.3M412.1 998.7L406.4 997.4M442.4 998.7L438.4 995.5M472.8 998.7L466 996.3M503.1 998.7L488.1 1003M533.5 998.7L516.8 1003.6M563.8 998.7L550.5 1003.2M594.1 998.7L590.4 999M138.9 1020.7L134 1021.6M169.2 1020.7L164.3 1020.3M199.6 1020.7L196.4 1018.8M230 1020.7L228 1019M260.3 1020.7L257 1018.8M290.6 1020.7L290.3 1017.5M321 1020.7L317.3 1014.6M351.4 1020.7L343.9 1015M381.7 1020.7L376.2 1024.2M412.1 1020.7L405.5 1021.2M442.4 1020.7L437.1 1019M472.8 1020.7L465.8 1019.5M503.1 1020.7L496.6 1026.4M138.9 1042.7L138.3 1044.2M169.2 1042.7l0.5 0M199.6 1042.7l0.5 0M230 1042.7l0.5 0M260.3 1042.7l0.5 0M290.6 1042.7L290.6 1040.1M321 1042.7L316.5 1038.2M351.4 1042.7L342.1 1039.4M381.7 1042.7L373 1045.1M412.1 1042.7L407.1 1044.6M442.4 1042.7L437.5 1043.3M472.8 1042.7L468.9 1040.5M503.1 1042.7L502.7 1045.3M138.9 1064.7L146 1066.9M169.2 1064.7L172.5 1065.1M199.6 1064.7L202.4 1065.5M230 1064.7L232.8 1067.6M260.3 1064.7l0.5 0M290.6 1064.7L288 1066.7M321 1064.7L319.5 1060.3M351.4 1064.7L345.5 1060.2M381.7 1064.7L372.5 1064.7M412.1 1064.7L403.9 1067.5M442.4 1064.7l0.5 0M472.8 1064.7L468.3 1064.7M503.1 1064.7L501.4 1066.4M138.9 1086.7L132.5 1087.5M169.2 1086.7L163.2 1089.3M199.6 1086.7L194.3 1087.7M230 1086.7L224.6 1086.1M260.3 1086.7L257.2 1088.2M290.6 1086.7L288.3 1091.6M321 1086.7L314.6 1084.9M351.4 1086.7L345.2 1084.4M381.7 1086.7L377.2 1087.5M412.1 1086.7L410.3 1089M442.4 1086.7l0.5 0M472.8 1086.7L464.2 1089.8M503.1 1086.7l0.5 0M138.9 1108.7L132.2 1110.5M169.2 1108.7L165.2 1109.7M199.6 1108.7L193.8 1108.7M230 1108.7L222.4 1109.2M260.3 1108.7L257.2 1109M290.6 1108.7L290.6 1110.6M321 1108.7L318.7 1109.3M351.4 1108.7L346 1104.7M381.7 1108.7L383.6 1111.3M412.1 1108.7L410.6 1106.4M442.4 1108.7L434.3 1110.8M472.8 1108.7L467.6 1112.8M138.9 1130.7L136.3 1130.3M169.2 1130.7L168.6 1130.7M199.6 1130.7L196.4 1131.7M230 1130.7L228 1131.7M260.3 1130.7L262.2 1129.4M290.6 1130.7L288.1 1130.7M321 1130.7L318.4 1130.7M351.4 1130.7L352 1130.7M381.7 1130.7L379.8 1130.7M412.1 1130.7L410.8 1129.4M442.4 1130.7L443.7 1129.7M472.8 1130.7L468.3 1129.8M503.1 1130.7L502.7 1129.2" stroke="#000" stroke-width="2" fill="none" stroke-linecap="round"/><path d="M138 579L138.5 579.4L138.3 579.4L138.1 579.6ZM169.2 579L169.5 579.5L169.2 579.4L169 579.5ZM199.6 579L199.8 579.5L199.6 579.4L199.4 579.5ZM231.7 578.1L231.5 579.1L231.2 578.8L230.8 578.7ZM266.1 577.6L264.8 579.3L264.7 578.4L264 577.8ZM300.8 582.8L297 583.5L297.9 582.2L297.6 580.6ZM333.9 578.1L329.9 580.8L330.2 578.9L329.1 577.2ZM354.6 578.1L354 579.3L353.8 578.8L353.3 578.5ZM384.6 578.1L384.1 579.3L383.9 578.8L383.4 578.5ZM415.7 578.1L414.9 579.4L414.7 578.8L414.3 578.4ZM456.8 579L452.2 581.6L452.7 579.5L451.7 577.5ZM489.9 579L484.3 582L485 579.5L483.8 577.1ZM510 578.5L508.2 580L508.2 579L507.6 578.3ZM536.9 578.5L536.1 579.6L536 579L535.6 578.7ZM569.3 577.6L568 579.2L567.9 578.4L567.3 577.8ZM598.4 578.5L597.4 579.7L597.4 579L596.9 578.6ZM640 579.3L634.9 582L635.5 579.7L634.5 577.6ZM665.5 581L661.8 582.4L662.4 580.9L661.9 579.4ZM694.1 579.7L691.6 581.1L691.9 579.9L691.3 578.9ZM719 581.4L717.9 581.6L718.1 581.2L718 580.7ZM781.4 581L779.8 581.6L780.1 581L779.9 580.3ZM136.3 597.5L137.7 598.8L137 598.9L136.4 599.4ZM169.2 599.3L169.7 600.3L169.2 600.1L168.8 600.3ZM197.4 594.4L199.1 596.6L197.9 596.6L197 597.2ZM226.9 597L228.5 598.3L227.6 598.5L227.1 599.1ZM261.3 598.7L261.5 600.1L261.1 599.8L260.5 599.8ZM297.4 601.3L295.5 602.6L295.6 601.7L295.2 600.9ZM330.5 598.7L327.8 601.4L327.7 599.9L326.7 598.7ZM360.3 596.2L358.2 599.7L357.7 598.1L356.3 597.1ZM390.6 594.4L388.8 598.5L388.1 596.8L386.4 596ZM424.3 597L420.9 600.7L420.7 598.7L419.3 597.2ZM459.4 598.7L454.2 602.5L454.5 599.9L453.1 597.7ZM492.3 598.7L486.2 602.9L486.7 599.9L485.1 597.3ZM524.6 593.1L518.7 599.4L518.4 595.9L515.9 593.3ZM554.1 587.9L549.2 595.9L548.1 592.2L545 590ZM577.6 596.5L573.8 600.6L573.6 598.3L572 596.7ZM604.5 592.4L602.4 597.4L601.5 595.4L599.5 594.4ZM632.2 596.5L630.5 599.7L630 598.3L628.7 597.5ZM666.4 596.2L663.4 600L663 598.1L661.5 596.7ZM694.1 600.5L691.4 602.5L691.6 601.1L690.8 599.9ZM725 602.7L721.8 604L722.3 602.7L721.8 601.4ZM751.1 604.4L749.3 604.6L749.7 604L749.7 603.3ZM780.5 603.6L779.1 603.8L779.5 603.3L779.4 602.8ZM135.8 620.4L137.3 621.3L136.6 621.5L136.2 622.1ZM170.1 621.8L170.2 622.8L169.9 622.5L169.5 622.5ZM199.4 616.1L200.6 618.7L199.5 618.3L198.4 618.7ZM293.9 620.4L293.5 622.1L293.1 621.5L292.4 621.3ZM327 619.9L325.8 622.1L325.5 621.1L324.6 620.6ZM362 615.6L359.7 620.2L358.9 618.2L357.1 617.2ZM393.2 613.9L390.8 619.2L389.9 617L387.8 615.9ZM425.6 618.2L421.9 622.3L421.7 620.1L420.1 618.5ZM455.1 620.7L451.4 623.9L451.4 621.9L450.2 620.3ZM490.6 618.3L485.5 623.1L485.5 620.2L483.6 618ZM516.3 613.5L513.4 619.2L512.5 616.8L510.2 615.4ZM544.6 615.6L542.1 620.3L541.4 618.2L539.5 617.1ZM577.9 611.8L574.9 618.2L573.8 615.5L571.3 614.2ZM607 611.8L604.5 618L603.3 615.5L600.8 614.4ZM639.1 614.9L635.5 620.3L634.9 617.7L632.7 616.1ZM669.8 616.1L665.9 621.2L665.5 618.6L663.5 616.9ZM700.2 619L695.9 623.1L695.8 620.7L694.3 618.8ZM724.1 620.4L721.8 623.1L721.7 621.6L720.6 620.6ZM752.8 623.8L750.8 625L751 624.1L750.6 623.2ZM782.3 623.8L780.6 624.9L780.7 624.1L780.4 623.3ZM134.6 640.7L136.7 641.9L135.7 642.2L135.1 643ZM197.4 639.8L198.9 641.6L197.9 641.6L197.2 642.2ZM293.9 640.7L293.7 642.9L293.1 642.2L292.2 642.1ZM325.3 639.8L324.9 642.4L324.2 641.6L323.1 641.3ZM356.9 636.4L356.5 640.7L355.3 639.4L353.5 639.1ZM387.2 633.8L387.2 639L385.6 637.5L383.5 637.4ZM413.1 637.2L414.1 640.6L412.8 640L411.4 640.3ZM445.7 645L444.9 645.9L444.8 645.4L444.5 645.1ZM476.9 638.8L476.6 641.7L475.8 640.8L474.6 640.6ZM509.1 637.4L508.4 641.4L507.4 640.1L505.7 639.7ZM539 635.4L538.7 640L537.4 638.6L535.5 638.4ZM570.7 633.1L570.3 638.7L568.7 637L566.4 636.8ZM601.9 628L601.9 635.4L599.6 633.4L596.6 633.2ZM636.9 626.8L635.5 635.3L633.3 632.5L629.8 631.8ZM666.4 635.4L664.1 640.9L663 638.6L660.8 637.6ZM694.1 643.4L691.6 645.8L691.6 644.4L690.6 643.3ZM724.5 643.4L721.9 645.8L721.9 644.4L721 643.3ZM751.1 647.7L749.4 648.1L749.7 647.5L749.6 646.8ZM782.3 647.7L780.3 648.2L780.7 647.5L780.6 646.7ZM138 660.6L139.3 662.9L138.3 662.7L137.3 663.2ZM167.2 663.2L168.5 664.6L167.7 664.6L167.1 665.1ZM200.8 664.9L200.9 666.2L200.5 665.9L200 665.9ZM288.4 664.1L289.7 665.2L289 665.2L288.5 665.7ZM316.7 662.3L318.8 663.7L317.8 664L317.2 664.8ZM345.2 659.8L348.5 661.9L347 662.3L346 663.7ZM381.7 658.9L383.1 662.2L381.7 661.7L380.3 662.2ZM413.1 657.2L414.4 661.2L412.8 660.5L411.1 661ZM448.6 660.6L447.6 664.3L446.8 663L445.3 662.5ZM477.9 658.4L477.6 662.6L476.4 661.4L474.7 661.2ZM504.3 661.5L504.9 663.8L504 663.3L503 663.5ZM535.2 657.2L536.2 661.3L534.7 660.5L532.9 660.9ZM565.5 650.3L567.6 656.8L565 655.6L562.3 656.3ZM598.3 646L600.1 654.3L597.1 652.6L593.6 653.1ZM623.3 655.5L625.6 659.8L623.6 659.3L621.8 660.1ZM655.9 664.1L656.2 665.6L655.6 665.2L655 665.3ZM742.5 670.8L743.2 669.7L743.3 670.2L743.8 670.6ZM782.3 670.4L780.2 670.7L780.7 670L780.7 669.1ZM130.3 683L134.3 684.4L132.8 685.2L132.1 686.8ZM162 681.2L165.8 683.4L164.1 684L163.1 685.5ZM196.5 684.7L198.2 686.1L197.3 686.2L196.7 686.9ZM286.7 688.1L288.2 688.4L287.7 688.8L287.6 689.4ZM309 685.5L313.8 685.6L312.4 687L312.3 689ZM336.2 683.8L342.3 684L340.6 685.8L340.4 688.3ZM369.2 680.4L374.9 682.1L372.8 683.4L371.9 685.7ZM409.6 680.4L411.9 683.5L410.3 683.4L409 684.2ZM445.7 678.7L446.3 683.2L444.7 682.1L442.8 682.3ZM475.2 680L475.9 684L474.5 683.1L472.8 683.3ZM508.3 685.2L507.4 687.5L506.9 686.6L506 686.2ZM534.8 679L536 683.2L534.4 682.4L532.7 682.8ZM566.7 671.4L568.5 678.4L565.9 677L563 677.6ZM592.3 667.5L596.2 675.1L592.8 674.2L589.6 675.7ZM613.3 681.2L618.5 682.9L616.6 684L615.8 686.1ZM643.8 688.6L647.9 687.8L647 689.2L647.3 690.9ZM677.5 695L679.2 692.7L679.4 693.9L680.3 694.7ZM713.5 695L713.6 693.4L714 693.9L714.6 694ZM743.1 695.5L743.4 693.7L743.9 694.3L744.6 694.4ZM779.7 693.3L778.3 692.9L778.8 692.6L779 692.1ZM134.6 710.5L136.2 710.6L135.7 711L135.6 711.7ZM162 704.4L165.7 706.2L164.1 706.8L163.3 708.3ZM191.9 705.3L195.6 706.7L194.1 707.4L193.4 708.9ZM220.5 700.2L225.5 703.1L223.2 703.8L221.9 705.8ZM253.8 708.7L256.2 709.1L255.4 709.8L255.2 710.8ZM282.9 712.7L285.2 711.7L284.9 712.7L285.2 713.7ZM306.4 711.7L311.5 709.9L310.6 712L311.2 714.1ZM332.3 704.1L340 704.3L337.8 706.6L337.5 709.8ZM367.8 697.6L374.7 700.7L371.8 701.9L370.4 704.7ZM401 697.6L406.9 701.1L404.2 701.9L402.6 704.3ZM438.8 705.3L440.8 707.1L439.7 707.2L438.9 708ZM466.6 706.5L469.2 707.6L468.1 708.1L467.6 709.1ZM507.4 706.5L506.9 708.9L506.3 708.1L505.3 707.8ZM539.5 701L539.1 705.8L537.7 704.4L535.8 704.1ZM572.7 691L572.8 699.7L570.2 697.3L566.6 697.1ZM589.7 690.7L594.3 697.5L591 697.1L588.1 698.8ZM611.3 705.8L616.7 706.3L615.1 707.8L614.8 710.1ZM641.3 710.5L646.2 709.3L645.2 711.1L645.6 713.2ZM674 715.1L677.5 712.7L677.3 714.4L678.2 715.9ZM710.6 717.9L711.4 715.7L711.8 716.5L712.7 716.9ZM742.6 719.1L742.8 716.7L743.5 717.4L744.4 717.6ZM772.8 713.4L773.8 712.7L773.7 713.2L773.9 713.6ZM141.5 731.1L141.2 732.5L140.8 732L140.2 731.8ZM165 725.9L167.7 728.3L166.2 728.5L165.2 729.5ZM195.6 724.2L198.5 727.2L196.8 727.2L195.5 728.3ZM221 729.4L224.8 729.9L223.6 730.9L223.3 732.5ZM244.7 732.8L250.2 731.2L249.2 733.4L249.7 735.7ZM279.5 735.7L283.1 733.8L282.7 735.4L283.4 737ZM312.1 737.1L314.8 735L314.6 736.4L315.4 737.6ZM342.6 721.3L347.5 724.6L345.1 725.2L343.7 727.1ZM372.6 716.8L378.2 721.6L375.2 722L373.1 724.2ZM406.2 719.6L410.4 723.9L407.9 723.9L406 725.6ZM436.6 725.4L439.9 727.7L438.2 728.1L437.2 729.4ZM466.6 729.4L469.1 730.2L468.1 730.7L467.7 731.7ZM510.5 725.9L509.2 730L508.4 728.5L506.7 727.9ZM548.6 719.9L545.5 727.1L544.2 724.2L541.3 722.8ZM580.5 716.8L577.4 725.3L575.7 722L572.3 720.5ZM601.7 716.5L601.7 723.8L599.5 721.7L596.5 721.6ZM618.1 723.4L621.9 726.3L620 726.6L618.7 728.1ZM646.9 728.9L650.5 729.7L649.2 730.5L648.8 732ZM677.5 732.8L680 732.4L679.4 733.3L679.5 734.4ZM712.3 735.4L713.2 734.8L713.1 735.2L713.4 735.6ZM748.3 739.2L747 738.1L747.7 738L748.1 737.5ZM780.5 736.2L779.1 736.3L779.5 735.9L779.5 735.2ZM169.2 748.8L170.2 751.2L169.2 750.8L168.3 751.2ZM194.3 746.6L197.5 749.2L195.8 749.5L194.6 750.8ZM223.9 755.2L225.9 754.9L225.5 755.5L225.5 756.4ZM250.7 753.9L254.3 753.5L253.5 754.7L253.6 756.3ZM285 756L286.8 755.5L286.4 756.2L286.6 756.9ZM358.6 746.6L357.6 751L356.5 749.5L354.7 749ZM384.6 741.4L385.8 747L383.8 745.8L381.4 746.2ZM410.2 744L412.6 748L410.7 747.7L409 748.6ZM446.2 746.6L446.3 750.5L445.1 749.5L443.4 749.5ZM479.6 746.6L478.7 751L477.6 749.5L475.8 749ZM512.9 746.6L511 751.4L510.1 749.5L508.1 748.6ZM554.9 744.8L549.3 751.9L548.7 748.3L545.9 745.8ZM584.8 743.6L579.5 751.1L578.7 747.4L575.8 745.1ZM614.9 745.7L609.4 752.4L608.9 748.9L606.3 746.5ZM636.7 748.8L633.7 753.2L633.2 751.1L631.4 749.7ZM661.4 748.3L660.4 752.1L659.5 750.7L658 750.2ZM685.5 746.6L686.9 750.1L685.4 749.5L684 750ZM722.6 756L720.6 757.1L720.8 756.2L720.4 755.3ZM756.9 760.3L752.6 760.7L753.7 759.3L753.7 757.5ZM785.7 759.1L782.1 759.6L783 758.4L782.8 756.9ZM194.3 768.9L197.5 771.5L195.8 771.7L194.7 773ZM223.1 772.3L226.3 773.5L225.1 774.2L224.5 775.5ZM255.8 778.7L257.2 778.1L257 778.7L257.2 779.3ZM289.3 777L289.9 777.3L289.6 777.4L289.5 777.7ZM324.4 775.8L323.8 777.1L323.6 776.5L323 776.2ZM358.6 771.5L357.1 775L356.5 773.6L355.1 772.9ZM388.4 771.5L387.2 774.9L386.5 773.6L385.1 773ZM413.6 768.9L414.5 772.5L413.1 771.7L411.7 772ZM444.8 768L445.5 772L444.1 771.1L442.5 771.3ZM488.2 768.9L484.4 774.4L483.7 771.7L481.6 770ZM521.1 774.9L515.6 778.8L515.9 776L514.5 773.6ZM561 774.6L552.6 779.6L553.4 775.7L551.5 772.2ZM589.6 777.5L581 781.6L582.1 777.8L580.6 774.2ZM619.4 775.8L611.2 780.4L612.1 776.6L610.4 773.2ZM647.7 776.3L640.2 780.4L641 777L639.5 773.8ZM672.7 775.3L667.1 779L667.6 776.3L666.2 773.9ZM699.3 768.9L695.9 774.2L695.2 771.7L693.1 770.2ZM728.4 776.3L724.4 779L724.7 777L723.7 775.3ZM756.4 783.5L752.1 783.4L753.4 782.1L753.5 780.4ZM787.4 782.7L783.1 782.9L784.2 781.5L784.2 779.7ZM195.6 794.7L197.6 796L196.7 796.2L196.1 797ZM219.3 800.2L223 798.8L222.4 800.3L222.8 801.9ZM251.5 800.2L254.2 799.2L253.8 800.3L254.1 801.4ZM286.4 797.6L288 798L287.4 798.4L287.3 799.1ZM352.4 798.1L352.4 799L352.1 798.8L351.7 798.8ZM383.8 797.6L383.5 798.8L383.2 798.4L382.8 798.3ZM413.6 795.9L413.7 797.5L413.2 797.1L412.5 797.1ZM448.2 787.3L448.2 792.7L446.6 791.2L444.3 791ZM473.1 793L474 795.3L473 794.9L472 795.2ZM508.3 801.6L506.6 802L506.9 801.3L506.8 800.7ZM556.7 813.1L547 812.2L549.9 809.5L550.5 805.6ZM590.8 811.4L581 811.6L583.7 808.5L583.8 804.5ZM616.7 807.6L608 808.5L610.2 805.6L610 802ZM648.7 803.3L640.1 805.9L641.7 802.5L640.9 798.9ZM678.6 801.6L670.4 804.7L671.7 801.3L670.6 797.9ZM699.3 798.6L694.8 801.4L695.2 799.2L694.2 797.3ZM726 799.3L722.7 801.3L723 799.7L722.3 798.3ZM752.1 804.1L749.8 803.9L750.5 803.3L750.7 802.3ZM782.3 805L779.9 804.5L780.7 803.9L781 802.9ZM135.1 820.5L136.5 820.7L136.1 821L136 821.6ZM165 819.6L166.6 820L166 820.4L165.9 821.1ZM191.3 819.9L194.2 819.7L193.5 820.7L193.5 821.8ZM217.1 825.1L221.1 822.4L220.8 824.4L221.8 826.1ZM250.7 821.3L254.1 820.4L253.5 821.7L253.8 823.2ZM281.5 817.5L285.4 818L284.2 819L283.9 820.6ZM309.8 819.6L314.1 819.1L313.1 820.5L313.2 822.3ZM343.8 819.9L346.4 819.8L345.7 820.7L345.7 821.7ZM375.2 821.3L377.3 820.9L376.8 821.7L377 822.6ZM406.2 819.3L408.4 819.6L407.7 820.1L407.5 821ZM434.1 813.6L438.3 815.5L436.5 816.2L435.7 817.9ZM461.1 815.3L466.1 816.2L464.4 817.4L464 819.5ZM489.9 830.3L493.3 825.8L493.7 828.1L495.4 829.6ZM540 845.4L534.5 838.6L538.1 838.8L541 836.7ZM581.7 847.5L573.3 842.4L577.2 841.2L579.5 837.9ZM612.5 836.5L604.3 834.4L607.2 832.5L608.3 829.1ZM643.1 827.3L636.1 828.4L637.7 826L637.4 823.1ZM670 827.3L664.2 827.9L665.6 826L665.5 823.6ZM696.9 821.3L693.1 823.5L693.5 821.7L692.7 820.1ZM722.1 823.9L720 824.4L720.4 823.6L720.3 822.7ZM751.2 826.5L749.2 826L749.9 825.5L750.1 824.7ZM783.1 825.6L780.7 825.6L781.4 824.9L781.4 823.9ZM128.6 842.8L132.4 842L131.6 843.4L131.8 844.9ZM158.1 842.8L162.1 841.9L161.3 843.4L161.6 845ZM188.4 845.4L192.1 843.6L191.7 845.2L192.3 846.7ZM222.7 846.2L224.7 844.9L224.6 845.9L225.1 846.7ZM284.6 841.1L286.9 841.4L286.2 842L286 842.9ZM311.5 840.2L315.4 840.4L314.3 841.5L314.1 843.1ZM342.6 838.5L346.4 839.4L345.1 840.3L344.7 841.9ZM375.7 842.8L377.7 842.6L377.2 843.3L377.3 844.1ZM401 840.6L405.4 840.4L404.2 841.8L404.2 843.5ZM425 840.2L431.6 839.3L430.1 841.5L430.3 844.2ZM479.6 851.6L476.3 850.2L477.6 849.6L478.3 848.3ZM496.2 851.6L497.6 848.3L498.2 849.6L499.5 850.2ZM517.1 861.2L520.3 853.3L521.8 856.4L525 857.9ZM567.6 861.2L563.9 856.1L566.5 856.4L568.7 855.1ZM602.6 861.2L597.4 856.8L600.1 856.4L602.1 854.4ZM631.9 857.4L627.6 854.2L629.8 853.7L631.2 852ZM666.2 851.4L661.4 850.7L662.9 849.5L663.3 847.5ZM693.8 846.2L691 846.9L691.6 845.9L691.4 844.7ZM719.5 848L717.9 847.5L718.5 847.1L718.7 846.5ZM751.2 848.5L749.2 848L749.9 847.5L750.1 846.7ZM784 850.5L780.5 849.7L781.7 848.9L782.2 847.5ZM126 867.9L130.2 865.7L129.7 867.6L130.6 869.3ZM158.1 866.2L161.9 864.8L161.3 866.3L161.8 868ZM188.8 864.5L192.8 863.7L191.9 865.1L192.1 866.8ZM222.7 866.2L225 865.4L224.6 866.3L224.8 867.2ZM258.4 865.7L259.1 865.7L258.9 865.9L258.8 866.2ZM315 862.7L317.3 863.2L316.5 863.8L316.3 864.7ZM348.6 861.9L350 863L349.3 863.1L348.8 863.7ZM374 865L376.5 864.5L375.9 865.4L376.1 866.5ZM397.6 867L402.5 864.9L401.8 866.9L402.6 869ZM426.9 865L432.4 863.4L431.4 865.5L431.9 867.8ZM459.9 865.7L464.4 864.2L463.6 866L464.1 867.9ZM478.5 872.5L486 867L485.6 870.9L487.7 874.1ZM518 878.7L521.5 872.4L522.5 875.3L525 876.8ZM558.8 883.9L558.1 877.3L560.3 878.9L563 878.8ZM598.8 884.2L594.7 878.9L597.4 879.2L599.7 877.6ZM635.7 880.8L629.9 877.6L632.4 876.7L633.9 874.4ZM661.4 873.6L658.2 872.2L659.5 871.6L660.1 870.3ZM689.5 869.1L687.9 868.9L688.4 868.5L688.5 867.8ZM718.6 871.3L717.1 870.3L717.9 870.2L718.3 869.6ZM752.9 870.8L750.3 870.5L751.2 869.8L751.4 868.7ZM781.1 870.1L779.2 869.7L779.8 869.3L780.1 868.5ZM130 892.1L132.5 889.7L132.5 891.1L133.5 892.2ZM156.9 886.1L161.5 885.2L160.5 886.9L160.7 888.8ZM189.1 884.4L193.3 884.4L192.1 885.6L192.1 887.4ZM223.9 885.3L226.2 885.5L225.5 886.1L225.3 887.1ZM255.5 885.8L257.3 886L256.7 886.5L256.6 887.3ZM286.4 888.7L287.6 888.2L287.4 888.7L287.6 889.2ZM317.9 887.8L318.9 887.7L318.7 888.1L318.7 888.5ZM344.8 885.8L347.1 885.8L346.5 886.5L346.4 887.5ZM370.9 886.1L374.9 885.5L374 886.9L374.2 888.5ZM397.1 889.2L402.1 886.9L401.4 889.1L402.3 891.2ZM429.3 887.8L433.9 886.3L433.1 888.1L433.7 890ZM459.9 887L464.5 885.7L463.6 887.5L464 889.4ZM487.1 890.4L492.3 887.6L491.7 889.9L492.8 892.1ZM524.3 899L526 894.2L527 896L528.9 896.8ZM557.1 898.5L558 894.2L559 895.7L560.8 896.1ZM592.6 900.2L591.5 896.1L593.1 896.9L594.8 896.5ZM625.4 896.8L624.1 894.5L625.1 894.7L626.1 894.2ZM660.2 895.1L657.8 893.8L658.8 893.4L659.4 892.5ZM683.8 894.7L683.5 892.7L684.2 893.2L685 893.1ZM714.7 894.4L714.2 892.6L714.9 892.9L715.7 892.8ZM744.4 896.8L743.8 894.2L744.7 894.7L745.8 894.5ZM775.4 894.7L774.9 892.8L775.6 893.2L776.4 893ZM138.9 915.3L138.3 913.9L138.9 914.2L139.5 913.9ZM165 907.3L166.7 907.8L166 908.1L165.8 908.8ZM195.3 905.5L197.2 906.5L196.4 906.9L195.9 907.6ZM224.8 905L227.1 906.1L226.1 906.5L225.6 907.4ZM251 903.3L255.2 904.5L253.7 905.4L253.1 907.1ZM284.1 908.1L286.4 908.1L285.8 908.8L285.8 909.7ZM318.4 910L319.3 909.9L319.1 910.2L319.1 910.5ZM351.4 909.3L351.5 909.7L351.4 909.7L351.2 909.7ZM407.4 913.6L408.4 912.2L408.6 912.9L409.2 913.3ZM438.3 910.7L439.5 910.2L439.3 910.7L439.5 911.2ZM466.7 909.3L468.7 909L468.3 909.7L468.4 910.5ZM496.1 910.7L498.2 909.8L497.8 910.7L498.2 911.6ZM523.8 917.6L526.1 913.9L526.6 915.6L528.1 916.6ZM555.9 922L557 917.1L558.2 918.8L560.2 919.3ZM587.1 921L588 916.5L589.1 918L591 918.5ZM615.6 922L617 916.9L618.1 918.8L620.2 919.5ZM650.4 920.7L650.5 916.6L651.7 917.8L653.3 917.9ZM681.4 918.1L681.6 915.4L682.4 916.2L683.5 916.4ZM709.2 919L710.2 915.2L711 916.6L712.5 917.1ZM739.2 917.6L740.5 914.3L741.1 915.6L742.5 916.2ZM771.4 918.6L771.9 915.2L772.8 916.3L774.2 916.6ZM144.1 937.3L141.9 936.6L142.7 936.2L143.1 935.3ZM174.1 934.4L172.4 934.5L172.8 934L172.8 933.3ZM200.5 927.5L200.9 929.2L200.2 928.9L199.6 929ZM226.9 927.2L228.5 928.5L227.6 928.6L227.1 929.2ZM252.7 929.6L255.4 929.6L254.7 930.4L254.6 931.5ZM279.8 930.1L283.9 929.5L283 930.9L283.1 932.5ZM312.4 928.9L315.9 929L314.9 930L314.8 931.4ZM345.5 928.4L347.8 929L347 929.5L346.7 930.4ZM381.2 928.4L381.9 929.6L381.3 929.5L380.8 929.8ZM467.1 929.3L469.2 929.6L468.5 930.1L468.3 931ZM496.9 929.3L499.2 929.5L498.5 930.1L498.3 931.1ZM522.6 942.2L525 937.4L525.8 939.4L527.7 940.5ZM555.4 944.4L556.6 939.2L557.8 941L559.9 941.6ZM582.3 943L584.8 937.8L585.7 940L587.8 941.2ZM611.3 942.7L614.3 937.4L615.1 939.8L617.2 941.2ZM646.4 941.3L648.1 937.2L648.9 938.8L650.5 939.6ZM680.4 936.1L681.4 934.5L681.6 935.3L682.3 935.7ZM711.3 937.5L711.9 935.5L712.3 936.3L713.1 936.6ZM742.1 938.2L742.6 936.1L743.1 936.8L743.9 937ZM771.4 936.1L772.4 934.5L772.7 935.3L773.3 935.7ZM139.2 952.6L139.4 953.3L139.2 953.2L138.9 953.2ZM172.3 958.1L171 957.5L171.6 957.3L171.8 956.7ZM195.6 954.4L196.9 954L196.7 954.4L196.8 955ZM227.4 951.3L228.6 952L228 952.1L227.7 952.6ZM255.8 954.4L257.2 953.9L257 954.4L257.1 955ZM280.7 952.1L284.4 951.6L283.6 952.9L283.7 954.4ZM309.3 948.7L314.1 949.1L312.7 950.4L312.4 952.4ZM340.3 947.5L345.1 948.4L343.5 949.6L343.1 951.5ZM375.7 951.3L377.9 951.5L377.2 952.1L377.1 953.1ZM410.5 952.6L411.2 953.1L410.9 953.2L410.7 953.5ZM440 952.1L441 952.6L440.6 952.8L440.4 953.2ZM463 953L466.5 952.2L465.8 953.5L466 955ZM489.5 953.8L494.3 952.2L493.4 954.1L494 956.1ZM520 964.7L523.2 959.4L523.9 961.8L526 963.2ZM551.1 968.8L553.4 962.2L554.8 964.7L557.4 965.8ZM581.1 959.9L584.8 956.2L584.9 958.4L586.3 960ZM614.7 960.2L617.2 956.9L617.5 958.6L618.8 959.7ZM648.7 959.5L649.9 957.3L650.2 958.3L651.1 958.8ZM679.2 957.8L680.6 956.1L680.7 957L681.4 957.6ZM708.8 957.3L710.5 955.7L710.6 956.6L711.2 957.3ZM129.4 975.3L132.9 974.4L132.2 975.7L132.5 977.1ZM162 977.7L164.1 976.5L163.9 977.5L164.3 978.3ZM194.3 976.7L195.9 976L195.6 976.7L195.9 977.4ZM227.4 973.3L228.6 974L228 974.1L227.7 974.6ZM257.5 979.8L258 978.5L258.3 979L258.8 979.2ZM320.1 973.8L320.8 974.5L320.4 974.5L320 974.8ZM346.5 972.4L348.5 973.1L347.8 973.5L347.4 974.3ZM373.4 974.5L376.2 974.1L375.6 975L375.6 976.2ZM405.7 974.5L407.9 974.3L407.3 975L407.3 975.9ZM435.4 973.9L437.8 973.9L437.1 974.7L437.1 975.7ZM463 972.4L466.9 972.5L465.8 973.6L465.7 975.3ZM487.5 976.7L492.8 974.5L492 976.7L492.8 978.9ZM512.8 986.2L518.5 980L518.8 983.4L521.2 985.9ZM555.9 983.6L557.6 980.1L558.2 981.6L559.6 982.4ZM617.8 977.2L619.7 976.2L619.5 977.1L619.9 977.9ZM129.4 999L132.6 997.6L132.2 998.9L132.7 1000.3ZM158.1 998.7L161.9 997.1L161.3 998.7L161.9 1000.3ZM188.4 997.5L192.4 996.3L191.7 997.8L192.1 999.5ZM219.3 996.1L223.3 995.5L222.4 996.9L222.5 998.5ZM257.2 1000.1L258 999.3L258 999.7L258.3 1000.1ZM324.4 991.8L324.3 994.3L323.6 993.6L322.5 993.5ZM355.1 992.3L354.8 994.7L354.2 994L353.2 993.8ZM378.6 999.6L379.4 998.9L379.4 999.3L379.6 999.7ZM404.5 997L407 996.5L406.4 997.4L406.5 998.4ZM437.1 994.4L439.2 995L438.4 995.5L438.1 996.4ZM463.3 995.3L467 995.1L466 996.3L466 997.8ZM482 1004.7L488.3 999.7L488.1 1003L490 1005.7ZM510.1 1005.6L517 999.9L516.8 1003.6L519 1006.6ZM545.1 1005.1L550.5 1000.2L550.5 1003.2L552.3 1005.6ZM589.2 999L590.6 998.3L590.4 999L590.7 999.6ZM132.4 1021.9L134.2 1020.7L134 1021.6L134.5 1022.4ZM162.5 1020.2L164.6 1019.5L164.3 1020.3L164.5 1021.2ZM195.3 1018.1L196.9 1018.4L196.4 1018.8L196.3 1019.4ZM227.4 1018.5L228.4 1018.8L228 1019L227.9 1019.5ZM255.8 1018.1L257.5 1018.3L257 1018.8L256.8 1019.5ZM290.1 1016.4L290.8 1017.6L290.3 1017.5L289.7 1017.8ZM315.8 1012.1L318.8 1014.3L317.3 1014.6L316.4 1015.8ZM340.9 1012.6L345.6 1013.9L343.9 1015L343.3 1016.9ZM374.3 1025.3L375.9 1023L376.2 1024.2L377.1 1024.9ZM403.3 1021.4L405.8 1020.1L405.5 1021.2L406 1022.3ZM435.4 1018.5L437.7 1018.2L437.1 1019L437.2 1020ZM463 1019L466.5 1018.2L465.8 1019.5L466 1021ZM494 1028.8L495.9 1024.7L496.6 1026.4L498.2 1027.3ZM138 1044.8L138 1044L138.3 1044.2L138.6 1044.3ZM290.6 1039.3L291.1 1040.3L290.6 1040.1L290.2 1040.3ZM315 1036.7L317.5 1037.7L316.5 1038.2L316 1039.2ZM338.3 1038.1L343.4 1037.8L342.1 1039.4L342.1 1041.5ZM369.5 1046.1L373.2 1043.2L373 1045.1L374.1 1046.7ZM405.3 1045.3L407 1043.7L407.1 1044.6L407.7 1045.3ZM435.9 1043.6L437.7 1042.5L437.5 1043.3L437.9 1044.1ZM467.6 1039.8L469.5 1040L468.9 1040.5L468.8 1041.3ZM502.6 1046.1L502.3 1045L502.7 1045.3L503.2 1045.2ZM148.9 1067.8L145 1068.2L146 1066.9L145.9 1065.3ZM173.5 1065.2L172.2 1065.6L172.5 1065.1L172.3 1064.5ZM203.4 1065.7L202.1 1065.9L202.4 1065.5L202.4 1064.9ZM233.7 1068.7L232.1 1067.9L232.8 1067.6L233.1 1067ZM287 1067.5L287.8 1066.2L288 1066.7L288.5 1067.1ZM318.9 1058.9L320.3 1060.3L319.5 1060.3L318.8 1060.9ZM343.1 1058.3L346.8 1059.3L345.5 1060.2L345 1061.7ZM368.8 1064.7L373.2 1062.9L372.5 1064.7L373.2 1066.5ZM400.5 1068.7L403.9 1065.7L403.9 1067.5L405 1069ZM466.7 1064.7L468.5 1063.9L468.3 1064.7L468.5 1065.5ZM500.9 1066.9L501.3 1066L501.4 1066.4L501.8 1066.5ZM130.3 1087.7L132.8 1086.3L132.5 1087.5L133 1088.5ZM161.2 1090.1L163.2 1088.1L163.2 1089.3L164 1090.1ZM192.6 1088.1L194.5 1086.8L194.3 1087.7L194.8 1088.6ZM222.7 1085.8L225 1085.2L224.6 1086.1L224.8 1087ZM256.2 1088.8L257.2 1087.6L257.2 1088.2L257.7 1088.7ZM287.6 1093.2L287.7 1090.9L288.3 1091.6L289.3 1091.7ZM312.1 1084.1L315.5 1083.7L314.6 1084.9L314.7 1086.3ZM343.1 1083.6L346 1083.5L345.2 1084.4L345.2 1085.6ZM375.7 1087.7L377.4 1086.7L377.2 1087.5L377.6 1088.2ZM409.6 1089.8L410 1088.6L410.3 1089L410.8 1089.2ZM460.7 1091L464.2 1087.8L464.2 1089.8L465.4 1091.3ZM129.4 1111.3L132.3 1109.1L132.2 1110.5L133 1111.8ZM163.7 1110.1L165.2 1109L165.2 1109.7L165.6 1110.4ZM191.9 1108.7L194.2 1107.7L193.8 1108.7L194.2 1109.7ZM219.3 1109.4L222.8 1107.6L222.4 1109.2L223 1110.7ZM256.2 1109L257.4 1108.4L257.2 1109L257.5 1109.5ZM290.6 1111.3L290.3 1110.5L290.6 1110.6L291 1110.5ZM317.9 1109.6L318.7 1108.9L318.7 1109.3L318.9 1109.7ZM343.8 1103L347.2 1103.9L346 1104.7L345.5 1106ZM384.3 1112.1L383.1 1111.4L383.6 1111.3L383.9 1110.8ZM410.2 1105.6L411.1 1106.3L410.6 1106.4L410.3 1106.8ZM431.1 1111.6L434.5 1109L434.3 1110.8L435.3 1112.2ZM465.9 1114.2L467.2 1111.7L467.6 1112.8L468.6 1113.4ZM135.5 1130.2L136.6 1129.9L136.3 1130.3L136.4 1130.8ZM168.4 1130.7L168.6 1130.6L168.6 1130.7L168.6 1130.8ZM195.3 1132.1L196.4 1131.1L196.4 1131.7L196.8 1132.2ZM227.4 1132.1L228 1131.3L228 1131.7L228.3 1132ZM262.9 1129L262.3 1129.8L262.2 1129.4L261.9 1129.2ZM287.2 1130.7L288.2 1130.3L288.1 1130.7L288.2 1131.1ZM317.6 1130.7L318.6 1130.3L318.4 1130.7L318.6 1131.1ZM352.2 1130.7L352 1130.8L352 1130.7L352 1130.6ZM379.1 1130.7L379.9 1130.4L379.8 1130.7L379.9 1131ZM410.3 1129L411.1 1129.3L410.8 1129.4L410.6 1129.7ZM444.1 1129.3L443.8 1130L443.7 1129.7L443.4 1129.5ZM466.7 1129.5L468.7 1129.1L468.3 1129.8L468.4 1130.6ZM502.6 1128.6L503 1129.2L502.7 1129.2L502.5 1129.3Z" fill="#000" stroke="#000" stroke-width="0.6" stroke-linejoin="round"/><rect x="200.6" y="615" width="81" height="76.9" fill="#fff"/><text x="242.1" y="671.7" font-size="50" text-anchor="middle" style="font-family:&quot;Liberation Sans&quot;,Arial,sans-serif">(d)</text><path d="M120 595.9H799.2M120 633H799.2M120 651.5H799.2M120 670.1H799.2M120 688.7H799.2M120 707.2H799.2M120 744.3H799.2M120 762.9H799.2M120 781.5H799.2M120 800H799.2M120 818.6H799.2M120 855.7H799.2M120 874.3H799.2M120 892.8H799.2M120 911.4H799.2M120 929.9H799.2M120 967.1H799.2M120 985.6H799.2M120 1004.2H799.2M120 1022.7H799.2M120 1041.3H799.2M120 1078.4H799.2M120 1097H799.2M120 1115.5H799.2" stroke="#8c8c80" stroke-width="1.3" stroke-dasharray="1.5 1.5" fill="none" opacity="0.55"/><path d="M255.8 577.3V1134.1M346.4 577.3V1134.1M437 577.3V1134.1M527.5 577.3V1134.1M708.6 577.3V1134.1" stroke="#8c8c80" stroke-width="1.3" stroke-dasharray="1.5 1.5" fill="none" opacity="0.55"/><path d="M120 614.4H799.2M120 725.8H799.2M120 837.1H799.2M120 948.5H799.2M120 1059.9H799.2M572.8 577.3V1134.1" stroke="#c9c9b0" stroke-width="1.3" fill="none" opacity="0.8"/><path d="M799.2 946 L780 951.7 L771.4 948 L760 946.7 L754.3 951 L747 958 L734 960.3 L714.3 962.4 L705.7 966.7 L700 971 L691.4 973.9 L680 976.7 L671.4 973 L662.9 972.4 L657 974.6 L654 969 L652.5 967.5 L650.5 970 L648.6 974 L637 976.7 L625.7 982.4 L617 986.7 L611.4 991 L601.4 998 L594.3 1003.9 L580 1008.9 L570 1011.2 L563.2 1013.7 L558.1 1016.3 L555.6 1020.5 L551.4 1025.6 L548.8 1031.5 L546.3 1036.6 L543.7 1041.7 L539.5 1040 L535.3 1042.5 L533.1 1040.8 L534.4 1034.9 L531.4 1029 L534.4 1017.1 L531 1015.8 L525.9 1019.6 L520.8 1029 L516.6 1036.6 L511.9 1043.4 L512.4 1049.3 L517.5 1052.7 L520 1059.5 L517.5 1064.6 L518.3 1071.3 L517.5 1078.1 L510.7 1083.2 L505.6 1089.1 L503 1094.2 L501.4 1100.2 L500.5 1106.9 L500.5 1115.4 L506.4 1121.3 L510.7 1126.4 L511.5 1130.7 L512.8 1134.1" fill="none" stroke="#000" stroke-width="1.7" stroke-linejoin="round"/><ellipse cx="590.5" cy="978" rx="3.2" ry="4.8" transform="rotate(20 590.5 978)" fill="none" stroke="#000" stroke-width="1.8"/><ellipse cx="491.6" cy="817.2" rx="37.5" ry="30.9" fill="none" stroke="#fff" stroke-width="6.6"/><ellipse cx="491.6" cy="817.2" rx="37.5" ry="30.9" fill="none" stroke="#000" stroke-width="4.2"/><path d="M494.7 814.1 L437.2 875.2" stroke="#000" stroke-width="6" fill="none"/><path d="M422.1 891.2 L434.5 861.4 L437.2 875.2 L452 876.8 Z" fill="#000"/></g><path d="M120 577.3h4.5M799.2 577.3h-4.5M120 595.9h4.5M799.2 595.9h-4.5M120 614.4h8M799.2 614.4h-8M120 633h4.5M799.2 633h-4.5M120 651.5h4.5M799.2 651.5h-4.5M120 670.1h4.5M799.2 670.1h-4.5M120 688.7h4.5M799.2 688.7h-4.5M120 707.2h4.5M799.2 707.2h-4.5M120 725.8h8M799.2 725.8h-8M120 744.3h4.5M799.2 744.3h-4.5M120 762.9h4.5M799.2 762.9h-4.5M120 781.5h4.5M799.2 781.5h-4.5M120 800h4.5M799.2 800h-4.5M120 818.6h4.5M799.2 818.6h-4.5M120 837.1h8M799.2 837.1h-8M120 855.7h4.5M799.2 855.7h-4.5M120 874.3h4.5M799.2 874.3h-4.5M120 892.8h4.5M799.2 892.8h-4.5M120 911.4h4.5M799.2 911.4h-4.5M120 929.9h4.5M799.2 929.9h-4.5M120 948.5h8M799.2 948.5h-8M120 967.1h4.5M799.2 967.1h-4.5M120 985.6h4.5M799.2 985.6h-4.5M120 1004.2h4.5M799.2 1004.2h-4.5M120 1022.7h4.5M799.2 1022.7h-4.5M120 1041.3h4.5M799.2 1041.3h-4.5M120 1059.9h8M799.2 1059.9h-8M120 1078.4h4.5M799.2 1078.4h-4.5M120 1097h4.5M799.2 1097h-4.5M120 1115.5h4.5M799.2 1115.5h-4.5M120 1134.1h4.5M799.2 1134.1h-4.5M255.8 1134.1v-4.5M255.8 577.3v4.5M346.4 1134.1v-4.5M346.4 577.3v4.5M437 1134.1v-4.5M437 577.3v4.5M527.5 1134.1v-4.5M527.5 577.3v4.5M708.6 1134.1v-4.5M708.6 577.3v4.5M572.8 1134.1v-8M572.8 577.3v8" stroke="#222" stroke-width="2" fill="none"/><rect x="120" y="577.3" width="679.2" height="556.8" fill="none" stroke="#161616" stroke-width="2.1"/><g clip-path="url(#clip_e)"><rect x="838.6" y="577.3" width="679.2" height="556.8" fill="#fdfde0"/><ellipse cx="1230" cy="826" rx="80" ry="68" fill="#e3f3ab" opacity="0.9" filter="url(#bl14)"/><ellipse cx="1227" cy="826" rx="33" ry="26" fill="none" stroke="#98d186" stroke-width="16" opacity="0.9" filter="url(#bl5)"/><ellipse cx="1231" cy="806" rx="12" ry="6" fill="#6bbd70" opacity="0.8" filter="url(#bl3)"/><ellipse cx="1262" cy="830" rx="6" ry="9" fill="#82c87b" opacity="0.8" filter="url(#bl3)"/><ellipse cx="1236" cy="820" rx="11" ry="9" fill="#f8fcdc" opacity="0.95" filter="url(#bl4)"/><path d="M1517.8 946 L1498.6 951.7 L1490 948 L1478.6 946.7 L1472.9 951 L1465.6 958 L1452.6 960.3 L1432.9 962.4 L1424.3 966.7 L1418.6 971 L1410 973.9 L1398.6 976.7 L1390 973 L1381.5 972.4 L1375.6 974.6 L1372.6 969 L1371.1 967.5 L1369.1 970 L1367.2 974 L1355.6 976.7 L1344.3 982.4 L1335.6 986.7 L1330 991 L1320 998 L1312.9 1003.9 L1298.6 1008.9 L1288.6 1011.2 L1281.8 1013.7 L1276.7 1016.3 L1274.2 1020.5 L1270 1025.6 L1267.4 1031.5 L1264.9 1036.6 L1262.3 1041.7 L1258.1 1040 L1253.9 1042.5 L1251.7 1040.8 L1253 1034.9 L1250 1029 L1253 1017.1 L1249.6 1015.8 L1244.5 1019.6 L1239.4 1029 L1235.2 1036.6 L1230.5 1043.4 L1231 1049.3 L1236.1 1052.7 L1238.6 1059.5 L1236.1 1064.6 L1236.9 1071.3 L1236.1 1078.1 L1229.3 1083.2 L1224.2 1089.1 L1221.6 1094.2 L1220 1100.2 L1219.1 1106.9 L1219.1 1115.4 L1225 1121.3 L1229.3 1126.4 L1230.1 1130.7 L1231.4 1134.1 L1517.8 1136.1 L1519.8 946 Z" fill="#fff" stroke="#fff" stroke-width="5" stroke-linejoin="round"/><path d="M862.6 595.3 l3 -1.5 l3 0.5 l1 1.5 l-1.5 0.3 l1.2 2.2 l-1.8 1.2 l-1.5 -1.8 l-2.5 -0.4 z" fill="none" stroke="#000" stroke-width="1.6"/><path d="M857.5 580.7L856.9 579.4M887.9 580.7L887.9 579.4M918.2 580.7L918.2 579.4M948.6 580.7L949.8 578.8M978.9 580.7L983.3 578.4M1009.2 580.7L1016.5 582.2M1039.6 580.7L1048.8 578.9M1070 580.7L1072.4 578.8M1100.3 580.7L1102.5 578.8M1130.7 580.7L1133.3 578.8M1161 580.7L1171.3 579.5M1191.3 580.7L1203.6 579.5M1221.7 580.7L1226.8 579M1252 580.7L1254.6 579M1282.4 580.7L1286.5 578.4M1312.8 580.7L1316 579M1343.1 580.7L1354.1 579.7M1373.5 580.7L1381 580.9M1403.8 580.7L1410.5 579.9M1434.2 580.7L1436.7 581.2M1464.5 580.7l0.5 0M1494.8 580.7L1498.7 581M857.5 602.7L855.6 598.9M887.9 602.7L887.9 600.1M918.2 602.7L916.5 596.6M948.6 602.7L946.2 598.5M978.9 602.7L979.7 599.8M1009.2 602.7L1014.2 601.7M1039.6 602.7L1046.3 599.9M1070 602.7L1076.3 598.1M1100.3 602.7L1106.7 596.8M1130.7 602.7L1139.3 598.7M1161 602.7L1173.1 599.9M1191.3 602.7L1205.3 599.9M1221.7 602.7L1237 595.9M1252 602.7L1266.7 592.2M1282.4 602.7L1292.2 598.3M1312.8 602.7L1320.1 595.4M1343.1 602.7L1348.6 598.3M1373.5 602.7L1381.6 598.1M1403.8 602.7L1410.2 601.1M1434.2 602.7L1440.9 602.7M1464.5 602.7L1468.3 604M1494.8 602.7L1498.1 603.3M857.5 624.7L855.2 621.5M887.9 624.7L888.5 622.5M918.2 624.7L918.1 618.3M1009.2 624.7L1011.7 621.5M1039.6 624.7L1044.1 621.1M1070 624.7L1077.5 618.2M1100.3 624.7L1108.5 617M1130.7 624.7L1140.3 620.1M1161 624.7L1170 621.9M1191.3 624.7L1204.1 620.2M1221.7 624.7L1231.1 616.8M1252 624.7L1260 618.2M1282.4 624.7L1292.4 615.5M1312.8 624.7L1321.9 615.5M1343.1 624.7L1353.5 617.7M1373.5 624.7L1384.1 618.6M1403.8 624.7L1414.4 620.7M1434.2 624.7L1440.3 621.6M1464.5 624.7L1469.6 624.1M1494.8 624.7L1499.3 624.1M857.5 646.7L854.3 642.2M887.9 646.7l0.5 0M918.2 646.7L916.5 641.6M1009.2 646.7L1011.7 642.2M1039.6 646.7L1042.8 641.6M1070 646.7L1073.9 639.4M1100.3 646.7L1104.2 637.5M1130.7 646.7L1131.4 640M1161 646.7L1163.4 645.4M1191.3 646.7L1194.4 640.8M1221.7 646.7L1226 640.1M1252 646.7L1256 638.6M1282.4 646.7L1287.3 637M1312.8 646.7L1318.2 633.4M1343.1 646.7L1351.9 632.5M1373.5 646.7L1381.6 638.6M1403.8 646.7L1410.2 644.4M1434.2 646.7L1440.5 644.4M1464.5 646.7L1468.3 647.5M1494.8 646.7L1499.3 647.5M857.5 668.7L856.9 662.7M887.9 668.7L886.3 664.6M918.2 668.7L919.1 665.9M1009.2 668.7L1007.6 665.2M1039.6 668.7L1036.4 664M1070 668.7L1065.6 662.3M1100.3 668.7L1100.3 661.7M1130.7 668.7L1131.4 660.5M1161 668.7L1165.4 663M1191.3 668.7L1195 661.4M1221.7 668.7L1222.6 663.3M1252 668.7L1253.3 660.5M1282.4 668.7L1283.6 655.6M1312.8 668.7L1315.7 652.6M1343.1 668.7L1342.2 659.3M1373.5 668.7L1374.2 665.2M1403.8 668.7l0.5 0M1434.2 668.7l0.5 0M1464.5 668.7L1461.9 670.2M1494.8 668.7L1499.3 670M857.5 690.7L851.4 685.2M887.9 690.7L882.7 684M918.2 690.7L915.9 686.2M1009.2 690.7L1006.3 688.8M1039.6 690.7L1031 687M1070 690.7L1059.2 685.8M1100.3 690.7L1091.4 683.4M1130.7 690.7L1128.9 683.4M1161 690.7L1163.3 682.1M1191.3 690.7L1193.1 683.1M1221.7 690.7L1225.5 686.6M1252 690.7L1253 682.4M1282.4 690.7L1284.5 677M1312.8 690.7L1311.4 674.2M1343.1 690.7L1335.2 684M1373.5 690.7L1365.6 689.2M1403.8 690.7L1398 693.9M1434.2 690.7L1432.6 693.9M1464.5 690.7L1462.5 694.3M1494.8 690.7L1497.4 692.6M857.5 712.7L854.3 711M887.9 712.7L882.7 706.8M918.2 712.7L912.7 707.4M948.6 712.7L941.8 703.8M978.9 712.7L974 709.8M1009.2 712.7L1003.5 712.7M1039.6 712.7L1029.2 712M1070 712.7L1056.4 706.6M1100.3 712.7L1090.4 701.9M1130.7 712.7L1122.8 701.9M1161 712.7L1158.3 707.2M1191.3 712.7L1186.7 708.1M1221.7 712.7L1224.9 708.1M1252 712.7L1256.3 704.4M1282.4 712.7L1288.8 697.3M1312.8 712.7L1309.6 697.1M1343.1 712.7L1333.7 707.8M1373.5 712.7L1363.8 711.1M1403.8 712.7L1395.9 714.4M1434.2 712.7L1430.4 716.5M1464.5 712.7L1462.1 717.4M1494.8 712.7L1492.3 713.2M857.5 734.7L859.4 732M887.9 734.7L884.8 728.5M918.2 734.7L915.4 727.2M948.6 734.7L942.2 730.9M978.9 734.7L967.8 733.4M1009.2 734.7L1001.3 735.4M1039.6 734.7L1033.2 736.4M1070 734.7L1064.5 727.1M1100.3 734.7L1094.8 725.2M1130.7 734.7L1125.9 725.2M1161 734.7L1154.7 728.3M1191.3 734.7L1186.3 730.2M1221.7 734.7L1225.5 729.4M1252 734.7L1263.4 726.1M1282.4 734.7L1292.7 725.2M1312.8 734.7L1318.6 725.2M1343.1 734.7L1340.2 728M1373.5 734.7L1367.8 730.5M1403.8 734.7L1398 733.3M1434.2 734.7L1431.7 735.2M1464.5 734.7L1466.3 738M1494.8 734.7L1498.1 735.9M857.5 756.7l0.5 0M887.9 756.7L887.9 750.8M918.2 756.7L914.4 749.5M948.6 756.7L944.1 755.5M978.9 756.7L972.1 754.7M1009.2 756.7L1005 756.2M1039.6 756.7l0.5 0M1070 756.7L1074.3 750.5M1100.3 756.7L1101.3 746.7M1130.7 756.7L1128.7 748.1M1161 756.7L1161.1 749.6M1191.3 756.7L1194.2 750.8M1221.7 756.7L1227.2 751.5M1252 756.7L1267 749.8M1282.4 756.7L1297.7 750M1312.8 756.7L1326.2 751.2M1343.1 756.7L1351.6 751.7M1373.5 756.7L1378.1 750.7M1403.8 756.7L1404 749.5M1434.2 756.7L1439.4 756.2M1464.5 756.7L1472.3 759.3M1494.8 756.7L1501.6 758.4M857.5 778.7l0.5 0M887.9 778.7l0.5 0M918.2 778.7L914.4 771.7M948.6 778.7L943.7 774.2M978.9 778.7L975.6 778.7M1009.2 778.7L1008.2 777.4M1039.6 778.7L1042.2 776.5M1070 778.7L1074.2 774.4M1100.3 778.7L1104.5 773.9M1130.7 778.7L1130.4 772M1161 778.7L1159.5 771.3M1191.3 778.7L1196.1 771.1M1221.7 778.7L1230.7 773.9M1252 778.7L1273.1 775.7M1282.4 778.7L1300.8 778.7M1312.8 778.7L1328.1 778.4M1343.1 778.7L1351.6 778.1M1373.5 778.7L1386.2 776.3M1403.8 778.7L1413.8 771.7M1434.2 778.7L1443.3 777M1464.5 778.7L1472 782.1M1494.8 778.7L1502.8 781.5M857.5 800.7l0.5 0M887.9 800.7l0.5 0M918.2 800.7L915.3 796.2M948.6 800.7L941 800.3M978.9 800.7L972.4 800.3M1009.2 800.7L1006 798.4M1039.6 800.7l0.5 0M1070 800.7l0.5 0M1100.3 800.7l0.5 0M1130.7 800.7L1129.2 797.7M1161 800.7L1157.1 794M1191.3 800.7L1189.2 792.9M1221.7 800.7L1225.6 793.4M1252 800.7L1266.7 807.7M1282.4 800.7L1301.5 810.9M1312.8 800.7L1326.2 806.2M1343.1 800.7L1351.6 802.4M1373.5 800.7L1390.3 801.3M1403.8 800.7L1413.8 799.2M1434.2 800.7L1441.6 799.7M1464.5 800.7L1469.1 803.3M1494.8 800.7L1499.3 803.9M857.5 822.7L854.7 821M887.9 822.7L884.6 820.4M918.2 822.7L912.1 820.7M948.6 822.7L939.4 824.4M978.9 822.7L972.1 821.7M1009.2 822.7L1002.8 819M1039.6 822.7L1031.7 820.5M1070 822.7L1063.8 821.2M1100.3 822.7L1095.5 822.5M1130.7 822.7L1124.7 820.2M1161 822.7L1153.5 818M1191.3 822.7L1186.3 815.8M1221.7 822.7L1209.1 820.6M1252 822.7L1253.9 834.9M1282.4 822.7L1291.6 842.7M1312.8 822.7L1323 833.3M1343.1 822.7L1351.6 827M1373.5 822.7L1384.2 826M1403.8 822.7L1412.1 821.7M1434.2 822.7L1439 823.6M1464.5 822.7L1468.5 825.5M1494.8 822.7L1500 824.9M857.5 844.7L850.2 843.4M887.9 844.7L879.9 843.4M918.2 844.7L910.3 845.2M948.6 844.7L943.2 845.9M978.9 844.7l0.5 0M1009.2 844.7L1004.8 842M1039.6 844.7L1032.9 841.5M1070 844.7L1063.3 841.6M1100.3 844.7L1095 844.7M1130.7 844.7L1121.1 842.9M1161 844.7L1150.4 842.9M1191.3 844.7L1180.1 841.3M1221.7 844.7L1201.9 841.7M1252 844.7L1234.4 855.4M1282.4 844.7L1281.5 859.8M1312.8 844.7L1316.7 857.5M1343.1 844.7L1347.4 853.7M1373.5 844.7L1381.5 849.5M1403.8 844.7L1410.2 845.9M1434.2 844.7L1437.1 847.1M1464.5 844.7L1468.5 847.5M1494.8 844.7L1500.3 848.9M857.5 866.7L848.3 867.6M887.9 866.7L879.9 866.3M918.2 866.7L910.5 865.1M948.6 866.7L943.2 866.3M978.9 866.7L977.5 865.9M1009.2 866.7l0.5 0M1039.6 866.7L1035.1 863.8M1070 866.7L1066.8 863.7M1100.3 866.7L1093.7 866.7M1130.7 866.7L1119.9 868.3M1161 866.7L1150.9 866.2M1191.3 866.7L1177.3 866.2M1221.7 866.7L1208 868.1M1252 866.7L1240.7 871.5M1282.4 866.7L1276.2 876.7M1312.8 866.7L1314.1 878.1M1343.1 866.7L1347.9 875.9M1373.5 866.7L1378.1 871.6M1403.8 866.7L1407 868.5M1434.2 866.7L1436.5 870.2M1464.5 866.7L1469.8 869.8M1494.8 866.7L1498.4 869.3M857.5 888.7L851.1 891.1M887.9 888.7L879.1 886.9M918.2 888.7L910.7 885.6M948.6 888.7L944.1 886.1M978.9 888.7L975.3 886.5M1009.2 888.7L1006 888.7M1039.6 888.7L1037.3 888.1M1070 888.7L1065 887.3M1100.3 888.7L1093.7 888.3M1130.7 888.7L1121.6 891.2M1161 888.7L1149.5 889.3M1191.3 888.7L1181.5 889M1221.7 888.7L1210.8 887.8M1252 888.7L1244.8 893.7M1282.4 888.7L1276.8 894.3M1312.8 888.7L1310 895.5M1343.1 888.7L1342.9 892.8M1373.5 888.7L1377.4 893.4M1403.8 888.7L1402.8 893.2M1434.2 888.7L1433.5 892.9M1464.5 888.7L1463.3 894.7M1494.8 888.7L1494.2 893.2M857.5 910.7L857.5 914.2M887.9 910.7L884.6 908.1M918.2 910.7L915 906.9M948.6 910.7L944.7 906.5M978.9 910.7L972.3 905.4M1009.2 910.7L1004.4 908.8M1039.6 910.7L1037.7 910.2M1070 910.7l0.5 0M1100.3 910.7l0.5 0M1130.7 910.7L1127.7 913.9M1161 910.7L1157.7 912.4M1191.3 910.7L1186.8 909.6M1221.7 910.7L1215.3 910.7M1252 910.7L1246 913.3M1282.4 910.7L1276.2 915.7M1312.8 910.7L1307.4 915.2M1343.1 910.7L1336.4 917.1M1373.5 910.7L1370.3 917.8M1403.8 910.7L1401 916.2M1434.2 910.7L1429.6 916.6M1464.5 910.7L1459.7 915.6M1494.8 910.7L1491.4 916.3M857.5 932.7L861.3 936.2M887.9 932.7L891.4 934M918.2 932.7L918.8 928.9M948.6 932.7L946.2 928.6M978.9 932.7L973.3 930.4M1009.2 932.7L1001.6 930.9M1039.6 932.7L1033.5 930M1070 932.7L1066 930M1100.3 932.7L1100 930.7M1130.7 932.7l0.5 0M1161 932.7L1163.7 934.5M1191.3 932.7L1187.1 931.2M1221.7 932.7L1217.3 930.5M1252 932.7L1244.8 937.7M1282.4 932.7L1277 937.9M1312.8 932.7L1305.7 937.9M1343.1 932.7L1336.4 937.9M1373.5 932.7L1367.5 938.8M1403.8 932.7L1400.2 935.3M1434.2 932.7L1430.9 936.3M1464.5 932.7L1461.7 936.8M1494.8 932.7L1491.3 935.3M857.5 954.7L857.8 953.2M887.9 954.7L890.2 957.3M918.2 954.7L915.3 954.4M948.6 954.7L946.6 952.1M978.9 954.7L975.6 954.4M1009.2 954.7L1002.2 952.9M1039.6 954.7L1031.3 950.4M1070 954.7L1062.1 949.6M1100.3 954.7L1095.8 952.1M1130.7 954.7L1129.5 953.2M1161 954.7L1159.2 952.8M1191.3 954.7L1184.4 953.5M1221.7 954.7L1212 954.1M1252 954.7L1242.5 961.8M1282.4 954.7L1273.4 964.7M1312.8 954.7L1303.5 958.4M1343.1 954.7L1336.1 958.6M1373.5 954.7L1368.8 958.3M1403.8 954.7L1399.3 957M1434.2 954.7L1429.2 956.6M857.5 976.7L850.8 975.7M887.9 976.7L882.5 977.5M918.2 976.7L914.2 976.7M948.6 976.7L946.6 974.1M978.9 976.7L976.9 979M1009.2 976.7l0.5 0M1039.6 976.7L1039 974.5M1070 976.7L1066.4 973.5M1100.3 976.7L1094.2 975M1130.7 976.7L1125.9 975M1161 976.7L1155.7 974.7M1191.3 976.7L1184.4 973.6M1221.7 976.7L1210.6 976.7M1252 976.7L1237.4 983.4M1282.4 976.7L1276.8 981.6M1343.1 976.7L1338.1 977.1M857.5 998.7L850.8 998.9M887.9 998.7L879.9 998.7M918.2 998.7L910.3 997.8M948.6 998.7L941 996.9M978.9 998.7L976.6 999.7M1009.2 998.7l0.5 0M1039.6 998.7L1042.2 993.6M1070 998.7L1072.8 994M1100.3 998.7L1098 999.3M1130.7 998.7L1125 997.4M1161 998.7L1157 995.5M1191.3 998.7L1184.6 996.3M1221.7 998.7L1206.7 1003M1252 998.7L1235.4 1003.6M1282.4 998.7L1269.1 1003.2M1312.8 998.7L1309 999M857.5 1020.7L852.6 1021.6M887.9 1020.7L882.9 1020.3M918.2 1020.7L915 1018.8M948.6 1020.7L946.6 1019M978.9 1020.7L975.6 1018.8M1009.2 1020.7L1008.9 1017.5M1039.6 1020.7L1035.9 1014.6M1070 1020.7L1062.5 1015M1100.3 1020.7L1094.8 1024.2M1130.7 1020.7L1124.1 1021.2M1161 1020.7L1155.7 1019M1191.3 1020.7L1184.4 1019.5M1221.7 1020.7L1215.2 1026.4M857.5 1042.7L856.9 1044.2M887.9 1042.7l0.5 0M918.2 1042.7l0.5 0M948.6 1042.7l0.5 0M978.9 1042.7l0.5 0M1009.2 1042.7L1009.2 1040.1M1039.6 1042.7L1035.1 1038.2M1070 1042.7L1060.7 1039.4M1100.3 1042.7L1091.6 1045.1M1130.7 1042.7L1125.7 1044.6M1161 1042.7L1156.1 1043.3M1191.3 1042.7L1187.5 1040.5M1221.7 1042.7L1221.3 1045.3M857.5 1064.7L864.6 1066.9M887.9 1064.7L891.1 1065.1M918.2 1064.7L921 1065.5M948.6 1064.7L951.4 1067.6M978.9 1064.7l0.5 0M1009.2 1064.7L1006.6 1066.7M1039.6 1064.7L1038.1 1060.3M1070 1064.7L1064.1 1060.2M1100.3 1064.7L1091.1 1064.7M1130.7 1064.7L1122.5 1067.5M1161 1064.7l0.5 0M1191.3 1064.7L1186.9 1064.7M1221.7 1064.7L1220 1066.4M857.5 1086.7L851.1 1087.5M887.9 1086.7L881.8 1089.3M918.2 1086.7L912.9 1087.7M948.6 1086.7L943.2 1086.1M978.9 1086.7L975.8 1088.2M1009.2 1086.7L1006.9 1091.6M1039.6 1086.7L1033.2 1084.9M1070 1086.7L1063.8 1084.4M1100.3 1086.7L1095.8 1087.5M1130.7 1086.7L1128.9 1089M1161 1086.7l0.5 0M1191.3 1086.7L1182.8 1089.8M1221.7 1086.7l0.5 0M857.5 1108.7L850.8 1110.5M887.9 1108.7L883.8 1109.7M918.2 1108.7L912.4 1108.7M948.6 1108.7L941 1109.2M978.9 1108.7L975.8 1109M1009.2 1108.7L1009.2 1110.6M1039.6 1108.7L1037.3 1109.3M1070 1108.7L1064.6 1104.7M1100.3 1108.7L1102.2 1111.3M1130.7 1108.7L1129.2 1106.4M1161 1108.7L1152.9 1110.8M1191.3 1108.7L1186.2 1112.8M857.5 1130.7L854.9 1130.3M887.9 1130.7L887.2 1130.7M918.2 1130.7L915 1131.7M948.6 1130.7L946.6 1131.7M978.9 1130.7L980.8 1129.4M1009.2 1130.7L1006.7 1130.7M1039.6 1130.7L1037 1130.7M1070 1130.7L1070.6 1130.7M1100.3 1130.7L1098.4 1130.7M1130.7 1130.7L1129.4 1129.4M1161 1130.7L1162.3 1129.7M1191.3 1130.7L1186.9 1129.8M1221.7 1130.7L1221.3 1129.2" stroke="#000" stroke-width="2" fill="none" stroke-linecap="round"/><path d="M856.6 579L857.1 579.4L856.9 579.4L856.7 579.6ZM887.9 579L888.1 579.5L887.9 579.4L887.6 579.5ZM918.2 579L918.4 579.5L918.2 579.4L918 579.5ZM950.3 578.1L950.1 579.1L949.8 578.8L949.4 578.7ZM984.7 577.6L983.4 579.3L983.3 578.4L982.6 577.8ZM1019.4 582.8L1015.6 583.5L1016.5 582.2L1016.2 580.6ZM1052.5 578.1L1048.5 580.8L1048.8 578.9L1047.7 577.2ZM1073.2 578.1L1072.6 579.3L1072.4 578.8L1071.9 578.5ZM1103.2 578.1L1102.7 579.3L1102.5 578.8L1102 578.5ZM1134.3 578.1L1133.5 579.4L1133.3 578.8L1132.9 578.4ZM1175.4 579L1170.8 581.6L1171.3 579.5L1170.3 577.5ZM1208.5 579L1202.9 582L1203.6 579.5L1202.4 577.1ZM1228.6 578.5L1226.8 580L1226.8 579L1226.2 578.3ZM1255.5 578.5L1254.7 579.6L1254.6 579L1254.2 578.7ZM1287.9 577.6L1286.6 579.2L1286.5 578.4L1285.9 577.8ZM1317 578.5L1316 579.7L1316 579L1315.5 578.6ZM1358.6 579.3L1353.5 582L1354.1 579.7L1353.1 577.6ZM1384.1 581L1380.4 582.4L1381 580.9L1380.5 579.4ZM1412.7 579.7L1410.2 581.1L1410.5 579.9L1409.9 578.9ZM1437.6 581.4L1436.5 581.6L1436.7 581.2L1436.6 580.7ZM1500 581L1498.4 581.6L1498.7 581L1498.5 580.3ZM854.9 597.5L856.3 598.8L855.6 598.9L855 599.4ZM887.9 599.3L888.3 600.3L887.9 600.1L887.4 600.3ZM916 594.4L917.7 596.6L916.5 596.6L915.6 597.2ZM945.5 597L947.1 598.3L946.2 598.5L945.7 599.1ZM979.9 598.7L980.1 600.1L979.7 599.8L979.1 599.8ZM1016 601.3L1014.1 602.6L1014.2 601.7L1013.8 600.9ZM1049.1 598.7L1046.4 601.4L1046.3 599.9L1045.3 598.7ZM1078.9 596.2L1076.8 599.7L1076.3 598.1L1074.9 597.1ZM1109.2 594.4L1107.4 598.5L1106.7 596.8L1105 596ZM1142.9 597L1139.5 600.7L1139.3 598.7L1137.9 597.2ZM1178 598.7L1172.8 602.5L1173.1 599.9L1171.7 597.7ZM1210.9 598.7L1204.8 602.9L1205.3 599.9L1203.7 597.3ZM1243.2 593.1L1237.3 599.4L1237 595.9L1234.5 593.3ZM1272.7 587.9L1267.8 595.9L1266.7 592.2L1263.6 590ZM1296.2 596.5L1292.4 600.6L1292.2 598.3L1290.6 596.7ZM1323.1 592.4L1321 597.4L1320.1 595.4L1318.1 594.4ZM1350.8 596.5L1349.1 599.7L1348.6 598.3L1347.3 597.5ZM1385 596.2L1382 600L1381.6 598.1L1380.1 596.7ZM1412.7 600.5L1410 602.5L1410.2 601.1L1409.4 599.9ZM1443.6 602.7L1440.4 604L1440.9 602.7L1440.4 601.4ZM1469.7 604.4L1467.9 604.6L1468.3 604L1468.3 603.3ZM1499.1 603.6L1497.7 603.8L1498.1 603.3L1498 602.8ZM854.4 620.4L855.9 621.3L855.2 621.5L854.8 622.1ZM888.7 621.8L888.8 622.8L888.5 622.5L888.1 622.5ZM918 616.1L919.2 618.7L918.1 618.3L917 618.7ZM1012.5 620.4L1012.1 622.1L1011.7 621.5L1011 621.3ZM1045.6 619.9L1044.4 622.1L1044.1 621.1L1043.2 620.6ZM1080.6 615.6L1078.3 620.2L1077.5 618.2L1075.7 617.2ZM1111.8 613.9L1109.4 619.2L1108.5 617L1106.4 615.9ZM1144.2 618.2L1140.5 622.3L1140.3 620.1L1138.7 618.5ZM1173.7 620.7L1170 623.9L1170 621.9L1168.8 620.3ZM1209.2 618.3L1204.1 623.1L1204.1 620.2L1202.2 618ZM1234.9 613.5L1232 619.2L1231.1 616.8L1228.8 615.4ZM1263.2 615.6L1260.7 620.3L1260 618.2L1258.1 617.1ZM1296.5 611.8L1293.5 618.2L1292.4 615.5L1289.9 614.2ZM1325.6 611.8L1323.1 618L1321.9 615.5L1319.4 614.4ZM1357.7 614.9L1354.1 620.3L1353.5 617.7L1351.3 616.1ZM1388.4 616.1L1384.5 621.2L1384.1 618.6L1382.1 616.9ZM1418.8 619L1414.5 623.1L1414.4 620.7L1412.9 618.8ZM1442.7 620.4L1440.4 623.1L1440.3 621.6L1439.2 620.6ZM1471.4 623.8L1469.4 625L1469.6 624.1L1469.2 623.2ZM1500.9 623.8L1499.2 624.9L1499.3 624.1L1499 623.3ZM853.2 640.7L855.3 641.9L854.3 642.2L853.7 643ZM916 639.8L917.5 641.6L916.5 641.6L915.8 642.2ZM1012.5 640.7L1012.3 642.9L1011.7 642.2L1010.8 642.1ZM1043.9 639.8L1043.5 642.4L1042.8 641.6L1041.7 641.3ZM1075.5 636.4L1075.1 640.7L1073.9 639.4L1072.1 639.1ZM1105.8 633.8L1105.8 639L1104.2 637.5L1102.1 637.4ZM1131.7 637.2L1132.7 640.6L1131.4 640L1130 640.3ZM1164.3 645L1163.5 645.9L1163.4 645.4L1163.1 645.1ZM1195.5 638.8L1195.2 641.7L1194.4 640.8L1193.2 640.6ZM1227.7 637.4L1227 641.4L1226 640.1L1224.3 639.7ZM1257.6 635.4L1257.3 640L1256 638.6L1254.1 638.4ZM1289.3 633.1L1288.9 638.7L1287.3 637L1285 636.8ZM1320.5 628L1320.5 635.4L1318.2 633.4L1315.2 633.2ZM1355.5 626.8L1354.1 635.3L1351.9 632.5L1348.4 631.8ZM1385 635.4L1382.7 640.9L1381.6 638.6L1379.4 637.6ZM1412.7 643.4L1410.2 645.8L1410.2 644.4L1409.2 643.3ZM1443.1 643.4L1440.5 645.8L1440.5 644.4L1439.6 643.3ZM1469.7 647.7L1468 648.1L1468.3 647.5L1468.2 646.8ZM1500.9 647.7L1498.9 648.2L1499.3 647.5L1499.2 646.7ZM856.6 660.6L857.9 662.9L856.9 662.7L855.9 663.2ZM885.8 663.2L887.1 664.6L886.3 664.6L885.7 665.1ZM919.4 664.9L919.5 666.2L919.1 665.9L918.6 665.9ZM1007 664.1L1008.3 665.2L1007.6 665.2L1007.1 665.7ZM1035.3 662.3L1037.4 663.7L1036.4 664L1035.8 664.8ZM1063.8 659.8L1067.1 661.9L1065.6 662.3L1064.6 663.7ZM1100.3 658.9L1101.7 662.2L1100.3 661.7L1098.9 662.2ZM1131.7 657.2L1133 661.2L1131.4 660.5L1129.7 661ZM1167.2 660.6L1166.2 664.3L1165.4 663L1163.9 662.5ZM1196.5 658.4L1196.2 662.6L1195 661.4L1193.3 661.2ZM1222.9 661.5L1223.5 663.8L1222.6 663.3L1221.6 663.5ZM1253.8 657.2L1254.8 661.3L1253.3 660.5L1251.5 660.9ZM1284.1 650.3L1286.2 656.8L1283.6 655.6L1280.9 656.3ZM1316.9 646L1318.7 654.3L1315.7 652.6L1312.2 653.1ZM1341.9 655.5L1344.2 659.8L1342.2 659.3L1340.4 660.1ZM1374.5 664.1L1374.8 665.6L1374.2 665.2L1373.6 665.3ZM1461.1 670.8L1461.8 669.7L1461.9 670.2L1462.4 670.6ZM1500.9 670.4L1498.8 670.7L1499.3 670L1499.3 669.1ZM848.9 683L852.9 684.4L851.4 685.2L850.7 686.8ZM880.6 681.2L884.4 683.4L882.7 684L881.7 685.5ZM915.1 684.7L916.8 686.1L915.9 686.2L915.3 686.9ZM1005.3 688.1L1006.8 688.4L1006.3 688.8L1006.2 689.4ZM1027.6 685.5L1032.4 685.6L1031 687L1030.9 689ZM1054.8 683.8L1060.9 684L1059.2 685.8L1059 688.3ZM1087.8 680.4L1093.5 682.1L1091.4 683.4L1090.5 685.7ZM1128.2 680.4L1130.5 683.5L1128.9 683.4L1127.6 684.2ZM1164.3 678.7L1164.9 683.2L1163.3 682.1L1161.4 682.3ZM1193.8 680L1194.5 684L1193.1 683.1L1191.4 683.3ZM1226.9 685.2L1226 687.5L1225.5 686.6L1224.6 686.2ZM1253.4 679L1254.6 683.2L1253 682.4L1251.3 682.8ZM1285.3 671.4L1287.1 678.4L1284.5 677L1281.6 677.6ZM1310.9 667.5L1314.8 675.1L1311.4 674.2L1308.2 675.7ZM1331.9 681.2L1337.1 682.9L1335.2 684L1334.4 686.1ZM1362.4 688.6L1366.5 687.8L1365.6 689.2L1365.9 690.9ZM1396.1 695L1397.8 692.7L1398 693.9L1398.9 694.7ZM1432.1 695L1432.2 693.4L1432.6 693.9L1433.2 694ZM1461.7 695.5L1462 693.7L1462.5 694.3L1463.2 694.4ZM1498.3 693.3L1496.9 692.9L1497.4 692.6L1497.6 692.1ZM853.2 710.5L854.8 710.6L854.3 711L854.2 711.7ZM880.6 704.4L884.3 706.2L882.7 706.8L881.9 708.3ZM910.5 705.3L914.2 706.7L912.7 707.4L912 708.9ZM939.1 700.2L944.1 703.1L941.8 703.8L940.5 705.8ZM972.4 708.7L974.8 709.1L974 709.8L973.8 710.8ZM1001.5 712.7L1003.8 711.7L1003.5 712.7L1003.8 713.7ZM1025 711.7L1030.1 709.9L1029.2 712L1029.8 714.1ZM1050.9 704.1L1058.6 704.3L1056.4 706.6L1056.1 709.8ZM1086.4 697.6L1093.3 700.7L1090.4 701.9L1089 704.7ZM1119.6 697.6L1125.5 701.1L1122.8 701.9L1121.2 704.3ZM1157.4 705.3L1159.4 707.1L1158.3 707.2L1157.5 708ZM1185.2 706.5L1187.8 707.6L1186.7 708.1L1186.2 709.1ZM1226 706.5L1225.5 708.9L1224.9 708.1L1223.9 707.8ZM1258.1 701L1257.7 705.8L1256.3 704.4L1254.4 704.1ZM1291.3 691L1291.4 699.7L1288.8 697.3L1285.2 697.1ZM1308.3 690.7L1312.9 697.5L1309.6 697.1L1306.7 698.8ZM1329.9 705.8L1335.3 706.3L1333.7 707.8L1333.4 710.1ZM1359.9 710.5L1364.8 709.3L1363.8 711.1L1364.2 713.2ZM1392.6 715.1L1396.1 712.7L1395.9 714.4L1396.8 715.9ZM1429.2 717.9L1430 715.7L1430.4 716.5L1431.3 716.9ZM1461.2 719.1L1461.4 716.7L1462.1 717.4L1463 717.6ZM1491.4 713.4L1492.4 712.7L1492.3 713.2L1492.5 713.6ZM860.1 731.1L859.8 732.5L859.4 732L858.8 731.8ZM883.6 725.9L886.3 728.3L884.8 728.5L883.8 729.5ZM914.2 724.2L917.1 727.2L915.4 727.2L914.1 728.3ZM939.6 729.4L943.4 729.9L942.2 730.9L941.9 732.5ZM963.3 732.8L968.8 731.2L967.8 733.4L968.3 735.7ZM998.1 735.7L1001.7 733.8L1001.3 735.4L1002 737ZM1030.7 737.1L1033.4 735L1033.2 736.4L1034 737.6ZM1062.3 724L1066.4 726.5L1064.5 727.1L1063.4 728.7ZM1092.5 721.3L1097.1 724.7L1094.8 725.2L1093.3 727ZM1124 721.3L1128.1 724.9L1125.9 725.2L1124.3 726.8ZM1152.2 725.7L1156.4 727.5L1154.7 728.3L1153.9 730ZM1184.2 728.4L1187.6 729.5L1186.3 730.2L1185.8 731.6ZM1226.8 727.6L1226.2 730.4L1225.5 729.4L1224.4 729.1ZM1268 722.6L1264.3 729L1263.4 726.1L1260.9 724.5ZM1296.9 721.3L1293.9 727.9L1292.7 725.2L1290 723.8ZM1320.9 721.3L1320.1 727L1318.6 725.2L1316.2 724.7ZM1339.1 725.3L1341.8 727.9L1340.2 728L1339.1 729.1ZM1365.5 728.9L1369.1 729.7L1367.8 730.5L1367.4 732ZM1396.1 732.8L1398.6 732.4L1398 733.3L1398.1 734.4ZM1430.9 735.4L1431.8 734.8L1431.7 735.2L1432 735.6ZM1466.9 739.2L1465.6 738.1L1466.3 738L1466.7 737.5ZM1499.1 736.2L1497.7 736.3L1498.1 735.9L1498.1 735.2ZM887.9 748.8L888.8 751.2L887.9 750.8L886.9 751.2ZM912.9 746.6L916.1 749.2L914.4 749.5L913.2 750.8ZM942.5 755.2L944.5 754.9L944.1 755.5L944.1 756.4ZM969.3 753.9L972.9 753.5L972.1 754.7L972.2 756.3ZM1003.6 756L1005.4 755.5L1005 756.2L1005.2 756.9ZM1076.1 748L1075.3 751.8L1074.3 750.5L1072.8 750.1ZM1101.6 742.6L1103.2 747.6L1101.3 746.7L1099.2 747.2ZM1128 744.6L1130.6 748.4L1128.7 748.1L1127.2 749.1ZM1161.1 746.7L1162.5 750.1L1161.1 749.6L1159.7 750ZM1195.4 748.4L1195.2 751.8L1194.2 750.8L1192.8 750.6ZM1229.5 749.3L1227.9 752.9L1227.2 751.5L1225.8 750.7ZM1273.1 747.1L1267.3 753.3L1267 749.8L1264.6 747.3ZM1304 747.3L1298 753.6L1297.7 750L1295.3 747.4ZM1331.6 748.9L1326.3 754.3L1326.2 751.2L1324.1 748.9ZM1355 749.7L1352 753.8L1351.6 751.7L1350 750.4ZM1380 748.3L1379 752.1L1378.1 750.7L1376.6 750.2ZM1404.1 746.6L1405.5 750.1L1404 749.5L1402.6 750ZM1441.2 756L1439.2 757.1L1439.4 756.2L1439 755.3ZM1475.5 760.3L1471.2 760.7L1472.3 759.3L1472.3 757.5ZM1504.3 759.1L1500.7 759.6L1501.6 758.4L1501.4 756.9ZM912.9 768.9L916.1 771.5L914.4 771.7L913.3 773ZM941.7 772.3L944.9 773.5L943.7 774.2L943.1 775.5ZM974.4 778.7L975.8 778.1L975.6 778.7L975.8 779.3ZM1007.9 777L1008.5 777.3L1008.2 777.4L1008.1 777.7ZM1043 775.8L1042.4 777.1L1042.2 776.5L1041.6 776.2ZM1075.7 772.9L1074.7 775.4L1074.2 774.4L1073.3 773.9ZM1105.9 772.3L1105 774.9L1104.5 773.9L1103.4 773.5ZM1130.2 769.3L1131.7 772.5L1130.4 772L1129 772.6ZM1158.9 768.2L1161.1 771.5L1159.5 771.3L1158.1 772.1ZM1198 768L1197.3 772.6L1196.1 771.1L1194.2 770.7ZM1234.3 772L1231 776.1L1230.7 773.9L1229.1 772.5ZM1280.7 774.7L1272.3 779.7L1273.1 775.7L1271.3 772.2ZM1308.3 778.7L1299.5 782.4L1300.8 778.7L1299.5 775ZM1334.3 778.3L1327 781.5L1328.1 778.4L1326.9 775.4ZM1355 777.9L1351.1 779.9L1351.6 778.1L1350.9 776.5ZM1391.3 775.3L1385.7 779L1386.2 776.3L1384.8 773.9ZM1417.9 768.9L1414.5 774.2L1413.8 771.7L1411.7 770.2ZM1447 776.3L1443 779L1443.3 777L1442.3 775.3ZM1475 783.5L1470.7 783.4L1472 782.1L1472.1 780.4ZM1506 782.7L1501.7 782.9L1502.8 781.5L1502.8 779.7ZM914.2 794.7L916.2 796L915.3 796.2L914.7 797ZM937.9 800.2L941.6 798.8L941 800.3L941.4 801.9ZM970.1 800.2L972.8 799.2L972.4 800.3L972.7 801.4ZM1005 797.6L1006.6 798L1006 798.4L1005.9 799.1ZM1128.6 796.7L1129.7 797.6L1129.2 797.7L1128.7 798.1ZM1155.5 791.3L1158.7 793.7L1157.1 794L1156 795.3ZM1188.3 789.7L1190.9 793L1189.2 792.9L1187.7 793.9ZM1227.2 790.4L1226.8 794.7L1225.6 793.4L1223.9 793.1ZM1272.7 810.5L1264.3 810.1L1266.7 807.7L1267.1 804.2ZM1308.3 814.5L1298.5 813.6L1301.5 810.9L1302.1 806.9ZM1331.6 808.5L1324.1 808.5L1326.2 806.2L1326.3 803.1ZM1355 803.1L1350.6 804L1351.6 802.4L1351.3 800.6ZM1397.2 801.6L1389 804.7L1390.3 801.3L1389.2 797.9ZM1417.9 798.6L1413.4 801.4L1413.8 799.2L1412.8 797.3ZM1444.6 799.3L1441.3 801.3L1441.6 799.7L1440.9 798.3ZM1470.7 804.1L1468.4 803.9L1469.1 803.3L1469.3 802.3ZM1500.9 805L1498.5 804.5L1499.3 803.9L1499.6 802.9ZM853.7 820.5L855.1 820.7L854.7 821L854.6 821.6ZM883.6 819.6L885.2 820L884.6 820.4L884.5 821.1ZM909.9 819.9L912.8 819.7L912.1 820.7L912.1 821.8ZM935.7 825.1L939.7 822.4L939.4 824.4L940.4 826.1ZM969.3 821.3L972.7 820.4L972.1 821.7L972.4 823.2ZM1000.1 817.5L1004 818L1002.8 819L1002.5 820.6ZM1028.4 819.6L1032.7 819.1L1031.7 820.5L1031.8 822.3ZM1061.6 820.7L1064.4 820.2L1063.8 821.2L1063.9 822.3ZM1093.9 822.4L1095.8 821.7L1095.5 822.5L1095.8 823.3ZM1122.6 819.4L1125.4 819.3L1124.7 820.2L1124.6 821.4ZM1150.4 816.1L1155 816.9L1153.5 818L1153.1 819.9ZM1184.2 813.1L1188 815.3L1186.3 815.8L1185.3 817.3ZM1204 819.8L1210.4 818.2L1209.1 820.6L1209.6 823.3ZM1254.6 839.9L1251.3 834.4L1253.9 834.9L1256.2 833.7ZM1294.9 849.6L1287.7 843.1L1291.6 842.7L1294.5 839.9ZM1327.2 837.6L1320.2 834.6L1323 833.3L1324.4 830.4ZM1355 828.7L1350.1 828.4L1351.6 827L1351.8 825ZM1388.6 827.3L1382.8 827.9L1384.2 826L1384.1 823.6ZM1415.5 821.3L1411.7 823.5L1412.1 821.7L1411.3 820.1ZM1440.7 823.9L1438.6 824.4L1439 823.6L1438.9 822.7ZM1469.8 826.5L1467.8 826L1468.5 825.5L1468.7 824.7ZM1501.7 825.6L1499.3 825.6L1500 824.9L1500 823.9ZM847.2 842.8L851 842L850.2 843.4L850.4 844.9ZM876.7 842.8L880.7 841.9L879.9 843.4L880.2 845ZM907 845.4L910.7 843.6L910.3 845.2L910.9 846.7ZM941.3 846.2L943.3 844.9L943.2 845.9L943.7 846.7ZM1003.2 841.1L1005.5 841.4L1004.8 842L1004.6 842.9ZM1030.1 840.2L1034 840.4L1032.9 841.5L1032.7 843.1ZM1060.6 840.3L1064.4 840.4L1063.3 841.6L1063.1 843.1ZM1093.2 844.7L1095.3 843.8L1095 844.7L1095.3 845.6ZM1117.3 842.2L1122.2 841.1L1121.1 842.9L1121.4 844.9ZM1146.1 842.2L1151.5 840.9L1150.4 842.9L1150.8 845.1ZM1175.5 839.9L1181.6 839.3L1180.1 841.3L1180.2 843.8ZM1194.4 840.5L1203.8 838.2L1201.9 841.7L1202.7 845.6ZM1227.8 859.3L1233.6 851.4L1234.4 855.4L1237.5 857.9ZM1281.2 866L1278.6 858.6L1281.5 859.8L1284.6 858.9ZM1318.2 862.7L1313.8 857.3L1316.7 857.5L1318.9 855.8ZM1349.1 857.3L1345.3 853.9L1347.4 853.7L1348.9 852.2ZM1384.8 851.4L1380 850.7L1381.5 849.5L1381.9 847.5ZM1412.4 846.2L1409.6 846.9L1410.2 845.9L1410 844.7ZM1438.1 848L1436.5 847.5L1437.1 847.1L1437.3 846.5ZM1469.8 848.5L1467.8 848L1468.5 847.5L1468.7 846.7ZM1502.6 850.5L1499.1 849.7L1500.3 848.9L1500.8 847.5ZM844.6 867.9L848.8 865.7L848.3 867.6L849.2 869.3ZM876.7 866.2L880.5 864.8L879.9 866.3L880.4 868ZM907.4 864.5L911.4 863.7L910.5 865.1L910.7 866.8ZM941.3 866.2L943.6 865.4L943.2 866.3L943.4 867.2ZM977 865.7L977.7 865.7L977.5 865.9L977.4 866.2ZM1033.6 862.7L1035.9 863.2L1035.1 863.8L1034.9 864.7ZM1065.7 862.7L1067.5 863.3L1066.8 863.7L1066.4 864.4ZM1091.5 866.7L1094.1 865.6L1093.7 866.7L1094.1 867.8ZM1115.5 869L1120.3 866L1119.9 868.3L1121 870.4ZM1146.8 866L1151.7 864.2L1150.9 866.2L1151.5 868.3ZM1171.5 866L1178.4 863.4L1177.3 866.2L1178.2 869.1ZM1202.4 868.7L1208.7 865.3L1208 868.1L1209.3 870.8ZM1236.1 873.4L1240.6 868.8L1240.7 871.5L1242.5 873.4ZM1273.7 880.8L1274.6 874.7L1276.2 876.7L1278.7 877.2ZM1314.6 882.8L1311.7 877.6L1314.1 878.1L1316.3 877ZM1349.8 879.7L1345.7 876.2L1347.9 875.9L1349.4 874.3ZM1380 873.6L1376.8 872.2L1378.1 871.6L1378.7 870.3ZM1408.1 869.1L1406.5 868.9L1407 868.5L1407.1 867.8ZM1437.2 871.3L1435.7 870.3L1436.5 870.2L1436.9 869.6ZM1471.5 870.8L1468.9 870.5L1469.8 869.8L1470 868.7ZM1499.7 870.1L1497.8 869.7L1498.4 869.3L1498.7 868.5ZM848.6 892.1L851.1 889.7L851.1 891.1L852.1 892.2ZM875.5 886.1L880.1 885.2L879.1 886.9L879.3 888.8ZM907.7 884.4L911.9 884.4L910.7 885.6L910.7 887.4ZM942.5 885.3L944.8 885.5L944.1 886.1L943.9 887.1ZM974.1 885.8L975.9 886L975.3 886.5L975.2 887.3ZM1005 888.7L1006.2 888.2L1006 888.7L1006.2 889.2ZM1036.5 887.8L1037.5 887.7L1037.3 888.1L1037.3 888.5ZM1063.3 886.8L1065.5 886.5L1065 887.3L1065 888.2ZM1091.5 888.2L1094.2 887.2L1093.7 888.3L1094 889.4ZM1117.9 892.2L1121.8 889.2L1121.6 891.2L1122.7 892.8ZM1144.8 889.5L1150.2 886.9L1149.5 889.3L1150.4 891.5ZM1177.5 889.1L1182.2 887L1181.5 889L1182.3 890.9ZM1206.4 887.5L1211.8 885.7L1210.8 887.8L1211.4 890.1ZM1241.9 895.8L1244.3 891.9L1244.8 893.7L1246.3 894.8ZM1274.5 896.6L1276.1 892.8L1276.8 894.3L1278.3 895ZM1308.9 898.2L1308.8 894.4L1310 895.5L1311.5 895.5ZM1342.8 894.2L1342.2 892.5L1342.9 892.8L1343.6 892.6ZM1378.8 895.1L1376.4 893.8L1377.4 893.4L1378 892.5ZM1402.4 894.7L1402.1 892.7L1402.8 893.2L1403.6 893.1ZM1433.3 894.4L1432.8 892.6L1433.5 892.9L1434.3 892.8ZM1463 896.8L1462.4 894.2L1463.3 894.7L1464.4 894.5ZM1494 894.7L1493.5 892.8L1494.2 893.2L1495 893ZM857.5 915.3L856.9 913.9L857.5 914.2L858.1 913.9ZM883.6 907.3L885.3 907.8L884.6 908.1L884.4 908.8ZM913.9 905.5L915.8 906.5L915 906.9L914.5 907.6ZM943.4 905L945.7 906.1L944.7 906.5L944.2 907.4ZM969.6 903.3L973.8 904.5L972.3 905.4L971.7 907.1ZM1002.7 908.1L1005 908.1L1004.4 908.8L1004.4 909.7ZM1037 910L1037.9 909.9L1037.7 910.2L1037.7 910.5ZM1126.6 915L1127.3 913.2L1127.7 913.9L1128.4 914.2ZM1156.6 913L1157.6 911.7L1157.7 912.4L1158.2 912.9ZM1185.2 909.2L1187.2 908.9L1186.8 909.6L1186.8 910.4ZM1213.1 910.7L1215.7 909.6L1215.3 910.7L1215.7 911.8ZM1243.6 914.3L1246 911.9L1246 913.3L1247 914.3ZM1273.7 917.7L1275.7 914.1L1276.2 915.7L1277.6 916.5ZM1305.2 917L1306.9 913.8L1307.4 915.2L1308.7 915.9ZM1333.7 919.7L1335.6 915.3L1336.4 917.1L1338.2 918ZM1369 920.7L1369.1 916.6L1370.3 917.8L1371.9 917.9ZM1400 918.1L1400.2 915.4L1401 916.2L1402.1 916.4ZM1427.8 919L1428.8 915.2L1429.6 916.6L1431.1 917.1ZM1457.8 917.6L1459.1 914.3L1459.7 915.6L1461.1 916.2ZM1490 918.6L1490.5 915.2L1491.4 916.3L1492.8 916.6ZM862.7 937.3L860.5 936.6L861.3 936.2L861.7 935.3ZM892.7 934.4L891 934.5L891.4 934L891.4 933.3ZM919.1 927.5L919.5 929.2L918.8 928.9L918.2 929ZM945.5 927.2L947.1 928.5L946.2 928.6L945.7 929.2ZM971.3 929.6L974 929.6L973.3 930.4L973.2 931.5ZM998.4 930.1L1002.5 929.5L1001.6 930.9L1001.7 932.5ZM1031 928.9L1034.5 929L1033.5 930L1033.4 931.4ZM1064.6 929.1L1066.7 929.5L1066 930L1065.7 930.8ZM1099.9 930L1100.4 930.8L1100 930.7L1099.7 930.9ZM1164.6 935.1L1163.2 934.8L1163.7 934.5L1163.8 933.9ZM1185.6 930.7L1187.6 930.6L1187.1 931.2L1187.1 932ZM1215.8 929.8L1217.9 929.9L1217.3 930.5L1217.2 931.4ZM1241.9 939.8L1244.3 935.9L1244.8 937.7L1246.3 938.8ZM1274.8 940.1L1276.3 936.5L1277 937.9L1278.4 938.7ZM1302.8 940.1L1305.2 936.1L1305.7 937.9L1307.3 939ZM1333.7 940.1L1335.9 936.2L1336.4 937.9L1338 938.9ZM1365 941.3L1366.7 937.2L1367.5 938.8L1369.1 939.6ZM1399 936.1L1400 934.5L1400.2 935.3L1400.9 935.7ZM1429.9 937.5L1430.5 935.5L1430.9 936.3L1431.7 936.6ZM1460.7 938.2L1461.2 936.1L1461.7 936.8L1462.5 937ZM1490 936.1L1491 934.5L1491.3 935.3L1491.9 935.7ZM857.8 952.6L858 953.3L857.8 953.2L857.5 953.2ZM890.9 958.1L889.6 957.5L890.2 957.3L890.4 956.7ZM914.2 954.4L915.5 954L915.3 954.4L915.4 955ZM946 951.3L947.2 952L946.6 952.1L946.3 952.6ZM974.4 954.4L975.8 953.9L975.6 954.4L975.7 955ZM999.3 952.1L1003 951.6L1002.2 952.9L1002.3 954.4ZM1027.9 948.7L1032.7 949.1L1031.3 950.4L1031 952.4ZM1058.9 947.5L1063.7 948.4L1062.1 949.6L1061.7 951.5ZM1094.3 951.3L1096.5 951.5L1095.8 952.1L1095.7 953.1ZM1129.1 952.6L1129.8 953.1L1129.5 953.2L1129.3 953.5ZM1158.6 952.1L1159.6 952.6L1159.2 952.8L1159 953.2ZM1181.6 953L1185.1 952.2L1184.4 953.5L1184.6 955ZM1208.1 953.8L1212.9 952.2L1212 954.1L1212.6 956.1ZM1238.6 964.7L1241.8 959.4L1242.5 961.8L1244.6 963.2ZM1269.7 968.8L1272 962.2L1273.4 964.7L1276 965.8ZM1299.7 959.9L1303.4 956.2L1303.5 958.4L1304.9 960ZM1333.3 960.2L1335.8 956.9L1336.1 958.6L1337.4 959.7ZM1367.3 959.5L1368.5 957.3L1368.8 958.3L1369.7 958.8ZM1397.8 957.8L1399.2 956.1L1399.3 957L1400 957.6ZM1427.4 957.3L1429.1 955.7L1429.2 956.6L1429.8 957.3ZM848 975.3L851.5 974.4L850.8 975.7L851.1 977.1ZM880.6 977.7L882.7 976.5L882.5 977.5L882.9 978.3ZM912.9 976.7L914.5 976L914.2 976.7L914.5 977.4ZM946 973.3L947.2 974L946.6 974.1L946.3 974.6ZM976.1 979.8L976.6 978.5L976.9 979L977.4 979.2ZM1038.7 973.8L1039.4 974.5L1039 974.5L1038.6 974.8ZM1065.1 972.4L1067.1 973.1L1066.4 973.5L1066 974.3ZM1092 974.5L1094.8 974.1L1094.2 975L1094.2 976.2ZM1124.3 974.5L1126.5 974.3L1125.9 975L1125.9 975.9ZM1154 973.9L1156.4 973.9L1155.7 974.7L1155.7 975.7ZM1181.6 972.4L1185.5 972.5L1184.4 973.6L1184.3 975.3ZM1206.1 976.7L1211.4 974.5L1210.6 976.7L1211.4 978.9ZM1231.4 986.2L1237.1 980L1237.4 983.4L1239.8 985.9ZM1274.5 983.6L1276.2 980.1L1276.8 981.6L1278.2 982.4ZM1336.4 977.2L1338.3 976.2L1338.1 977.1L1338.5 977.9ZM848 999L851.2 997.6L850.8 998.9L851.3 1000.3ZM876.7 998.7L880.5 997.1L879.9 998.7L880.5 1000.3ZM907 997.5L911 996.3L910.3 997.8L910.7 999.5ZM937.9 996.1L941.9 995.5L941 996.9L941.1 998.5ZM975.8 1000.1L976.6 999.3L976.6 999.7L976.9 1000.1ZM1043 991.8L1042.9 994.3L1042.2 993.6L1041.1 993.5ZM1073.7 992.3L1073.4 994.7L1072.8 994L1071.8 993.8ZM1097.2 999.6L1098 998.9L1098 999.3L1098.2 999.7ZM1123.1 997L1125.6 996.5L1125 997.4L1125.1 998.4ZM1155.7 994.4L1157.8 995L1157 995.5L1156.7 996.4ZM1181.9 995.3L1185.6 995.1L1184.6 996.3L1184.6 997.8ZM1200.6 1004.7L1206.9 999.7L1206.7 1003L1208.6 1005.7ZM1228.7 1005.6L1235.6 999.9L1235.4 1003.6L1237.6 1006.6ZM1263.7 1005.1L1269.1 1000.2L1269.1 1003.2L1270.9 1005.6ZM1307.8 999L1309.2 998.3L1309 999L1309.3 999.6ZM851 1021.9L852.8 1020.7L852.6 1021.6L853.1 1022.4ZM881.1 1020.2L883.2 1019.5L882.9 1020.3L883.1 1021.2ZM913.9 1018.1L915.5 1018.4L915 1018.8L914.9 1019.4ZM946 1018.5L947 1018.8L946.6 1019L946.5 1019.5ZM974.4 1018.1L976.1 1018.3L975.6 1018.8L975.4 1019.5ZM1008.7 1016.4L1009.4 1017.6L1008.9 1017.5L1008.3 1017.8ZM1034.4 1012.1L1037.4 1014.3L1035.9 1014.6L1035 1015.8ZM1059.5 1012.6L1064.2 1013.9L1062.5 1015L1061.9 1016.9ZM1092.9 1025.3L1094.5 1023L1094.8 1024.2L1095.7 1024.9ZM1121.9 1021.4L1124.4 1020.1L1124.1 1021.2L1124.6 1022.3ZM1154 1018.5L1156.3 1018.2L1155.7 1019L1155.8 1020ZM1181.6 1019L1185.1 1018.2L1184.4 1019.5L1184.6 1021ZM1212.6 1028.8L1214.5 1024.7L1215.2 1026.4L1216.8 1027.3ZM856.6 1044.8L856.6 1044L856.9 1044.2L857.2 1044.3ZM1009.2 1039.3L1009.7 1040.3L1009.2 1040.1L1008.8 1040.3ZM1033.6 1036.7L1036.1 1037.7L1035.1 1038.2L1034.6 1039.2ZM1056.9 1038.1L1062 1037.8L1060.7 1039.4L1060.7 1041.5ZM1088.1 1046.1L1091.8 1043.2L1091.6 1045.1L1092.7 1046.7ZM1123.9 1045.3L1125.6 1043.7L1125.7 1044.6L1126.3 1045.3ZM1154.5 1043.6L1156.3 1042.5L1156.1 1043.3L1156.5 1044.1ZM1186.2 1039.8L1188.1 1040L1187.5 1040.5L1187.4 1041.3ZM1221.2 1046.1L1220.9 1045L1221.3 1045.3L1221.8 1045.2ZM867.5 1067.8L863.6 1068.2L864.6 1066.9L864.5 1065.3ZM892.1 1065.2L890.8 1065.6L891.1 1065.1L890.9 1064.5ZM922 1065.7L920.7 1065.9L921 1065.5L921 1064.9ZM952.3 1068.7L950.7 1067.9L951.4 1067.6L951.7 1067ZM1005.6 1067.5L1006.4 1066.2L1006.6 1066.7L1007.1 1067.1ZM1037.5 1058.9L1038.9 1060.3L1038.1 1060.3L1037.4 1060.9ZM1061.7 1058.3L1065.4 1059.3L1064.1 1060.2L1063.6 1061.7ZM1087.4 1064.7L1091.8 1062.9L1091.1 1064.7L1091.8 1066.5ZM1119.1 1068.7L1122.5 1065.7L1122.5 1067.5L1123.6 1069ZM1185.3 1064.7L1187.1 1063.9L1186.9 1064.7L1187.1 1065.5ZM1219.5 1066.9L1219.9 1066L1220 1066.4L1220.4 1066.5ZM848.9 1087.7L851.4 1086.3L851.1 1087.5L851.6 1088.5ZM879.8 1090.1L881.8 1088.1L881.8 1089.3L882.6 1090.1ZM911.2 1088.1L913.1 1086.8L912.9 1087.7L913.4 1088.6ZM941.3 1085.8L943.6 1085.2L943.2 1086.1L943.4 1087ZM974.8 1088.8L975.8 1087.6L975.8 1088.2L976.3 1088.7ZM1006.2 1093.2L1006.3 1090.9L1006.9 1091.6L1007.9 1091.7ZM1030.7 1084.1L1034.1 1083.7L1033.2 1084.9L1033.3 1086.3ZM1061.7 1083.6L1064.6 1083.5L1063.8 1084.4L1063.8 1085.6ZM1094.3 1087.7L1096 1086.7L1095.8 1087.5L1096.2 1088.2ZM1128.2 1089.8L1128.6 1088.6L1128.9 1089L1129.4 1089.2ZM1179.3 1091L1182.8 1087.8L1182.8 1089.8L1184 1091.3ZM848 1111.3L850.9 1109.1L850.8 1110.5L851.6 1111.8ZM882.3 1110.1L883.8 1109L883.8 1109.7L884.2 1110.4ZM910.5 1108.7L912.8 1107.7L912.4 1108.7L912.8 1109.7ZM937.9 1109.4L941.4 1107.6L941 1109.2L941.6 1110.7ZM974.8 1109L976 1108.4L975.8 1109L976.1 1109.5ZM1009.2 1111.3L1008.9 1110.5L1009.2 1110.6L1009.6 1110.5ZM1036.5 1109.6L1037.3 1108.9L1037.3 1109.3L1037.5 1109.7ZM1062.4 1103L1065.8 1103.9L1064.6 1104.7L1064.1 1106ZM1102.9 1112.1L1101.7 1111.4L1102.2 1111.3L1102.5 1110.8ZM1128.8 1105.6L1129.7 1106.3L1129.2 1106.4L1128.9 1106.8ZM1149.7 1111.6L1153.1 1109L1152.9 1110.8L1153.9 1112.2ZM1184.5 1114.2L1185.8 1111.7L1186.2 1112.8L1187.2 1113.4ZM854.1 1130.2L855.2 1129.9L854.9 1130.3L855 1130.8ZM887 1130.7L887.2 1130.6L887.2 1130.7L887.2 1130.8ZM913.9 1132.1L915 1131.1L915 1131.7L915.4 1132.2ZM946 1132.1L946.6 1131.3L946.6 1131.7L946.9 1132ZM981.5 1129L980.9 1129.8L980.8 1129.4L980.5 1129.2ZM1005.8 1130.7L1006.8 1130.3L1006.7 1130.7L1006.8 1131.1ZM1036.2 1130.7L1037.2 1130.3L1037 1130.7L1037.2 1131.1ZM1070.8 1130.7L1070.6 1130.8L1070.6 1130.7L1070.6 1130.6ZM1097.7 1130.7L1098.5 1130.4L1098.4 1130.7L1098.5 1131ZM1128.9 1129L1129.7 1129.3L1129.4 1129.4L1129.2 1129.7ZM1162.7 1129.3L1162.4 1130L1162.3 1129.7L1162 1129.5ZM1185.3 1129.5L1187.3 1129.1L1186.9 1129.8L1187 1130.6ZM1221.2 1128.6L1221.6 1129.2L1221.3 1129.2L1221.1 1129.3Z" fill="#000" stroke="#000" stroke-width="0.6" stroke-linejoin="round"/><rect x="919.2" y="615" width="74.5" height="71.9" fill="#fff"/><text x="956.5" y="669.7" font-size="52" text-anchor="middle">(e)</text><path d="M838.6 614.4H1517.8M838.6 651.5H1517.8M838.6 688.7H1517.8M838.6 725.8H1517.8M838.6 800H1517.8M838.6 837.1H1517.8M838.6 874.3H1517.8M838.6 911.4H1517.8M838.6 985.6H1517.8M838.6 1022.7H1517.8M838.6 1059.9H1517.8M838.6 1097H1517.8" stroke="#8c8c80" stroke-width="1.3" stroke-dasharray="1.5 1.5" fill="none" opacity="0.55"/><path d="M974.4 577.3V1134.1M1065 577.3V1134.1M1155.6 577.3V1134.1M1246.1 577.3V1134.1M1427.2 577.3V1134.1" stroke="#8c8c80" stroke-width="1.3" stroke-dasharray="1.5 1.5" fill="none" opacity="0.55"/><path d="M838.6 762.9H1517.8M838.6 948.5H1517.8M1291.4 577.3V1134.1" stroke="#c9c9b0" stroke-width="1.3" fill="none" opacity="0.8"/><path d="M1517.8 946 L1498.6 951.7 L1490 948 L1478.6 946.7 L1472.9 951 L1465.6 958 L1452.6 960.3 L1432.9 962.4 L1424.3 966.7 L1418.6 971 L1410 973.9 L1398.6 976.7 L1390 973 L1381.5 972.4 L1375.6 974.6 L1372.6 969 L1371.1 967.5 L1369.1 970 L1367.2 974 L1355.6 976.7 L1344.3 982.4 L1335.6 986.7 L1330 991 L1320 998 L1312.9 1003.9 L1298.6 1008.9 L1288.6 1011.2 L1281.8 1013.7 L1276.7 1016.3 L1274.2 1020.5 L1270 1025.6 L1267.4 1031.5 L1264.9 1036.6 L1262.3 1041.7 L1258.1 1040 L1253.9 1042.5 L1251.7 1040.8 L1253 1034.9 L1250 1029 L1253 1017.1 L1249.6 1015.8 L1244.5 1019.6 L1239.4 1029 L1235.2 1036.6 L1230.5 1043.4 L1231 1049.3 L1236.1 1052.7 L1238.6 1059.5 L1236.1 1064.6 L1236.9 1071.3 L1236.1 1078.1 L1229.3 1083.2 L1224.2 1089.1 L1221.6 1094.2 L1220 1100.2 L1219.1 1106.9 L1219.1 1115.4 L1225 1121.3 L1229.3 1126.4 L1230.1 1130.7 L1231.4 1134.1" fill="none" stroke="#000" stroke-width="1.7" stroke-linejoin="round"/><ellipse cx="1309.1" cy="978" rx="3.2" ry="4.8" transform="rotate(20 1309.1 978)" fill="none" stroke="#000" stroke-width="1.8"/><ellipse cx="1227.2" cy="825.6" rx="45.6" ry="37.1" fill="none" stroke="#fff" stroke-width="7"/><ellipse cx="1227.2" cy="825.6" rx="45.6" ry="37.1" fill="none" stroke="#000" stroke-width="4.6"/><path d="M1228.8 822.3 L1167.9 881.1" stroke="#000" stroke-width="6" fill="none"/><path d="M1152.1 896.4 L1166 866.5 L1167.9 881.1 L1182.5 883 Z" fill="#000"/></g><path d="M838.6 577.3h4.5M1517.8 577.3h-4.5M838.6 614.4h4.5M1517.8 614.4h-4.5M838.6 651.5h4.5M1517.8 651.5h-4.5M838.6 688.7h4.5M1517.8 688.7h-4.5M838.6 725.8h4.5M1517.8 725.8h-4.5M838.6 762.9h8M1517.8 762.9h-8M838.6 800h4.5M1517.8 800h-4.5M838.6 837.1h4.5M1517.8 837.1h-4.5M838.6 874.3h4.5M1517.8 874.3h-4.5M838.6 911.4h4.5M1517.8 911.4h-4.5M838.6 948.5h8M1517.8 948.5h-8M838.6 985.6h4.5M1517.8 985.6h-4.5M838.6 1022.7h4.5M1517.8 1022.7h-4.5M838.6 1059.9h4.5M1517.8 1059.9h-4.5M838.6 1097h4.5M1517.8 1097h-4.5M838.6 1134.1h4.5M1517.8 1134.1h-4.5M974.4 1134.1v-4.5M974.4 577.3v4.5M1065 1134.1v-4.5M1065 577.3v4.5M1155.6 1134.1v-4.5M1155.6 577.3v4.5M1246.1 1134.1v-4.5M1246.1 577.3v4.5M1427.2 1134.1v-4.5M1427.2 577.3v4.5M1291.4 1134.1v-8M1291.4 577.3v8" stroke="#222" stroke-width="2" fill="none"/><rect x="838.6" y="577.3" width="679.2" height="556.8" fill="none" stroke="#161616" stroke-width="2.1"/><g clip-path="url(#clip_g)"><rect x="120" y="1148.6" width="679.2" height="556.8" fill="#fdfde0"/><ellipse cx="428" cy="1458" rx="92" ry="80" fill="#eef7b8" opacity="0.9" filter="url(#bl16)"/><ellipse cx="432" cy="1455" rx="50" ry="44" fill="#c4e69c" opacity="0.85" filter="url(#bl9)"/><ellipse cx="435.2" cy="1452.6" rx="31" ry="27" fill="none" stroke="#6fbf72" stroke-width="9" opacity="0.9" filter="url(#bl4)"/><ellipse cx="438" cy="1454" rx="15" ry="12" fill="#f1f8cc" opacity="0.9" filter="url(#bl4)"/><path d="M799.2 1517.3 L780 1523 L771.4 1519.3 L760 1518 L754.3 1522.3 L747 1529.3 L734 1531.6 L714.3 1533.7 L705.7 1538 L700 1542.3 L691.4 1545.2 L680 1548 L671.4 1544.3 L662.9 1543.7 L657 1545.9 L654 1540.3 L652.5 1538.8 L650.5 1541.3 L648.6 1545.3 L637 1548 L625.7 1553.7 L617 1558 L611.4 1562.3 L601.4 1569.3 L594.3 1575.2 L580 1580.2 L570 1582.5 L563.2 1585 L558.1 1587.6 L555.6 1591.8 L551.4 1596.9 L548.8 1602.8 L546.3 1607.9 L543.7 1613 L539.5 1611.3 L535.3 1613.8 L533.1 1612.1 L534.4 1606.2 L531.4 1600.3 L534.4 1588.4 L531 1587.1 L525.9 1590.9 L520.8 1600.3 L516.6 1607.9 L511.9 1614.7 L512.4 1620.6 L517.5 1624 L520 1630.8 L517.5 1635.9 L518.3 1642.6 L517.5 1649.4 L510.7 1654.5 L505.6 1660.4 L503 1665.5 L501.4 1671.5 L500.5 1678.2 L500.5 1686.7 L506.4 1692.6 L510.7 1697.7 L511.5 1702 L512.8 1705.4 L799.2 1707.4 L801.2 1517.3 Z" fill="#fff" stroke="#fff" stroke-width="5" stroke-linejoin="round"/><path d="M144 1166.6 l3 -1.5 l3 0.5 l1 1.5 l-1.5 0.3 l1.2 2.2 l-1.8 1.2 l-1.5 -1.8 l-2.5 -0.4 z" fill="none" stroke="#000" stroke-width="1.6"/><path d="M138.9 1152L135.1 1152.9M169.2 1152L169.6 1150.1M199.6 1152L200.5 1150.1M230 1152L231.2 1150.1M260.3 1152L264 1152.4M290.6 1152L296.1 1156.6M321 1152L328.9 1151.1M351.4 1152L352.5 1150.1M381.7 1152L383.2 1150.1M412.1 1152L418.9 1150.5M442.4 1152L451.4 1152.6M472.8 1152L482.5 1152M503.1 1152L507.6 1150.1M533.5 1152L535.4 1150.1M563.8 1152L564.4 1150.1M594.1 1152L595.4 1150.1M624.5 1152L632.4 1154.2M654.9 1152L661.8 1154.2M685.2 1152L692.4 1153M715.5 1152L721.3 1154M745.9 1152L746.5 1150.1M776.2 1152l0.5 0M138.9 1174L136.3 1171.4M169.2 1174L166.4 1172.1M199.6 1174L196.7 1170.8M230 1174L228 1169.5M260.3 1174L259.5 1170.4M290.6 1174L294.7 1174.6M321 1174L326.8 1172.5M351.4 1174L356.3 1172.5M381.7 1174L386 1168.9M412.1 1174L417.3 1169.9M442.4 1174L448.8 1172.2M472.8 1174L479.3 1170.7M503.1 1174L511.7 1168.3M533.5 1174L542.2 1167.9M563.8 1174L566.6 1172.7M594.1 1174l0.5 0M624.5 1174l0.5 0M654.9 1174L655.6 1176.8M685.2 1174L688.4 1177.6M715.5 1174L722.9 1174.4M745.9 1174L750.4 1174.8M776.2 1174l0.5 0M138.9 1196L135.7 1194M169.2 1196L165.5 1196.4M199.6 1196L197.7 1193.1M290.6 1196l0.5 0M321 1196L323.8 1194.3M351.4 1196L357.9 1192.6M381.7 1196L387.2 1191.1M412.1 1196L421.7 1193.2M442.4 1196L449 1194.4M472.8 1196L477.5 1192.4M503.1 1196L505.7 1192.2M533.5 1196L535.8 1195.7M563.8 1196L564.4 1198.3M594.1 1196L598 1196.6M624.5 1196L630.6 1196.6M654.9 1196L661.4 1196.7M685.2 1196L692.8 1197.2M715.5 1196L719.6 1196M745.9 1196L751 1196.3M776.2 1196l0.5 0M138.9 1218L137.4 1215.4M169.2 1218l0.5 0M199.6 1218L196.7 1215.4M290.6 1218L290.3 1215.8M321 1218L320.4 1215.8M351.4 1218L354.2 1215.4M381.7 1218L384.9 1214.8M412.1 1218L412.2 1215.4M442.4 1218l0.5 0M472.8 1218L473.6 1216.1M503.1 1218L503.6 1215.2M533.5 1218L536.7 1215.2M563.8 1218L566.6 1217.2M594.1 1218L602.3 1217.6M624.5 1218L633.1 1221.3M654.9 1218L668.3 1223.7M685.2 1218L698.5 1223.4M715.5 1218L725.3 1221.9M745.9 1218L753.2 1221.7M776.2 1218L780.7 1219.3M138.9 1240L138.9 1236.9M169.2 1240L170.7 1236.5M199.6 1240L200.5 1237.2M290.6 1240L288.3 1237.4M321 1240L319.7 1237.8M351.4 1240L352.9 1234M381.7 1240L386.2 1235.9M412.1 1240L419.3 1236.3M442.4 1240L446.8 1238.2M472.8 1240l0.5 0M503.1 1240L504.6 1237.2M533.5 1240L532.2 1242.3M563.8 1240L568.5 1238.7M594.1 1240L606 1240M624.5 1240L639.4 1239M654.9 1240L669.1 1240.9M685.2 1240L692.8 1241.7M715.5 1240L725.3 1244.9M745.9 1240L752.6 1240M776.2 1240l0.5 0M138.9 1262L129.7 1255.9M169.2 1262L167.3 1257.3M199.6 1262l0.5 0M230 1262L230.6 1261.5M260.3 1262L263.4 1260.7M290.6 1262L287.1 1263.7M321 1262L318.4 1260.1M351.4 1262L348.7 1256.9M381.7 1262L382.3 1254.4M412.1 1262L418.3 1257.1M442.4 1262L450.8 1259.6M472.8 1262L476.6 1260.7M503.1 1262L506.2 1266.5M533.5 1262L536 1262.4M563.8 1262L570.2 1260.2M594.1 1262L602.1 1263.2M624.5 1262L630.9 1260.3M654.9 1262L661.8 1259.6M685.2 1262L688.7 1263.7M715.5 1262L719.1 1261.1M745.9 1262l0.5 0M776.2 1262L776.9 1263.3M138.9 1284L138.6 1278.9M169.2 1284L167.4 1276.7M199.6 1284L200.2 1280.4M230 1284L230.9 1277.3M260.3 1284l0.5 0M290.6 1284L288.1 1287.8M321 1284L314.9 1286.1M351.4 1284L341.5 1279.1M381.7 1284L375.2 1275M412.1 1284L409.1 1276.4M442.4 1284L442.4 1280.8M472.8 1284l0.5 0M503.1 1284L509.5 1284.4M533.5 1284L540.2 1284M563.8 1284L569.1 1285.3M594.1 1284L600.7 1286M624.5 1284L623.3 1286.3M654.9 1284l0.5 0M685.2 1284l0.5 0M715.5 1284l0.5 0M745.9 1284L743.9 1286.6M776.2 1284L774.3 1281.4M138.9 1306L140.8 1304.7M169.2 1306L166.8 1301.3M199.6 1306L200.5 1302.8M230 1306L226.7 1304.7M260.3 1306L257.2 1305.1M290.6 1306L287.1 1308.6M321 1306L318.4 1308.6M351.4 1306L347.9 1296.8M381.7 1306L380.1 1293.8M412.1 1306L410 1297.7M442.4 1306L440.6 1302.8M472.8 1306l0.5 0M503.1 1306L509.5 1304.3M533.5 1306L538.3 1306M563.8 1306L566.9 1310.7M594.1 1306L597.1 1312.1M624.5 1306L624.2 1311.6M654.9 1306L653.1 1310.7M685.2 1306L688 1307.8M715.5 1306L721.1 1307.5M745.9 1306L749.9 1310.4M776.2 1306l0.5 0M138.9 1328L140.4 1330.6M169.2 1328L169.6 1325.7M199.6 1328L200.5 1324.8M230 1328l0.5 0M260.3 1328l0.5 0M290.6 1328L291.9 1329M321 1328L327.4 1329.2M351.4 1328L361.6 1320.7M381.7 1328L388.1 1318.5M412.1 1328L414.4 1318.7M442.4 1328L446.8 1323.4M472.8 1328L480.3 1323.6M503.1 1328L504.9 1323.1M533.5 1328L531.4 1323.1M563.8 1328L563.3 1329.5M594.1 1328L596.2 1336.8M624.5 1328L621 1335.6M654.9 1328L651.7 1334.1M685.2 1328l0.5 0M715.5 1328L721.3 1326.3M745.9 1328L753.4 1330.1M776.2 1328L780.7 1329.3M138.9 1350l0.5 0M169.2 1350L169.9 1350.6M199.6 1350L199.8 1342.7M230 1350L233.2 1347.1M260.3 1350L261.3 1348.5M290.6 1350L294.7 1346.5M321 1350L328.1 1346M351.4 1350L361.6 1343M381.7 1350L389.3 1340.6M412.1 1350L417.1 1341.4M442.4 1350L445.6 1342.7M472.8 1350L476.4 1344.5M503.1 1350L512.1 1345.5M533.5 1350L537.6 1342.3M563.8 1350L561.4 1348.1M594.1 1350L594 1356.7M624.5 1350L628.3 1359.8M654.9 1350L656.6 1355.1M685.2 1350L688.8 1347.8M715.5 1350L719.1 1347.1M745.9 1350L748.6 1353.8M776.2 1350L777.8 1353.2M138.9 1372L142.1 1369.1M169.2 1372L173.5 1370.3M199.6 1372L202.7 1365.9M230 1372L227.1 1368.2M260.3 1372L259.8 1369.1M290.6 1372L291.5 1366.5M321 1372L323.4 1365.3M351.4 1372L353.7 1365.9M381.7 1372L386 1364.1M412.1 1372L416.1 1366.3M442.4 1372L451.4 1364.7M472.8 1372L484.2 1362.6M503.1 1372L513 1362.2M533.5 1372L536.1 1365.3M563.8 1372L557.4 1369.2M594.1 1372L587.7 1375.1M624.5 1372L620.8 1373.9M654.9 1372L656.3 1376.5M685.2 1372L687.8 1373.7M715.5 1372L717.9 1372.4M745.9 1372L744.7 1376.5M776.2 1372L774.3 1374.6M138.9 1394L141.5 1390.8M169.2 1394L169.9 1390.5M199.6 1394L197.3 1391.2M230 1394L226.4 1393.1M260.3 1394L258.3 1391.2M290.6 1394L289.7 1386.2M321 1394L317.3 1387.4M351.4 1394L346.3 1387.9M381.7 1394L381.3 1385M412.1 1394L418 1384.6M442.4 1394L454.9 1386.7M472.8 1394L496.5 1385.2M503.1 1394L520.9 1386.1M533.5 1394L544.1 1384M563.8 1394L563 1388M594.1 1394L589.5 1390.5M624.5 1394L620.8 1395M654.9 1394L651.8 1398.2M685.2 1394l0.5 0M715.5 1394L712.3 1397.6M745.9 1394L742.6 1396.9M776.2 1394l0.5 0M138.9 1416L134.4 1412.2M169.2 1416L163.3 1411.1M199.6 1416L194.7 1414.1M230 1416l0.5 0M260.3 1416L264.7 1412.8M290.6 1416L290 1410.9M321 1416L319.8 1409.3M351.4 1416L350.6 1408.1M381.7 1416L385.6 1406.5M412.1 1416L420.5 1404M442.4 1416L454.9 1412.3M472.8 1416L494.7 1418.6M503.1 1416L521.9 1414.5M533.5 1416L543.2 1409.9M563.8 1416L564.6 1411.9M594.1 1416L591.7 1415M624.5 1416L618.1 1418.4M654.9 1416L653.1 1417.3M685.2 1416L685.8 1419.2M715.5 1416L714 1418.3M745.9 1416L745.1 1418.6M776.2 1416L778.2 1417.5M138.9 1438L132.5 1436.5M169.2 1438L163 1436.1M199.6 1438L193.7 1434.3M230 1438L226.7 1434.8M260.3 1438L261.5 1433.9M290.6 1438L293.5 1434.8M321 1438L319.8 1431.6M351.4 1438L350 1429.4M381.7 1438L379.5 1429.4M412.1 1438L411 1429.4M442.4 1438L451.4 1445.3M472.8 1438L491.3 1453.7M503.1 1438L515.3 1446.9M533.5 1438L541.8 1438.4M563.8 1438L566.9 1435.8M594.1 1438l0.5 0M624.5 1438L625.5 1440M654.9 1438l0.5 0M685.2 1438l0.5 0M715.5 1438L717.5 1440.9M745.9 1438L749 1439.7M776.2 1438L779.5 1439M138.9 1460L133.1 1460.3M169.2 1460L163.3 1456.1M199.6 1460L195.3 1454.5M230 1460L228.4 1455.9M260.3 1460L257.6 1456.8M290.6 1460L288.3 1458.1M321 1460L317.1 1454.5M351.4 1460L346 1452.1M381.7 1460L371.6 1450.8M412.1 1460L388.8 1456.4M442.4 1460L435.1 1471M472.8 1460L471.8 1491.9M503.1 1460L510.6 1468.9M533.5 1460L542.6 1464.9M563.8 1460L566.9 1460.4M594.1 1460L594.7 1463.5M624.5 1460L626.2 1461.7M654.9 1460L658.8 1462.2M685.2 1460L685.5 1461.7M715.5 1460L717 1461.7M745.9 1460L745.4 1461.3M776.2 1460l0.5 0M138.9 1482L140.8 1483.9M169.2 1482L166.4 1478.8M199.6 1482L196.2 1475.3M230 1482L227.1 1476.9M260.3 1482L256.3 1477.5M290.6 1482L284.9 1481.2M321 1482L316.5 1479.1M351.4 1482L347.2 1475.2M381.7 1482L370.1 1477.1M412.1 1482L396.5 1483.2M442.4 1482L428.2 1491M472.8 1482L472.3 1493M503.1 1482L509.3 1492M533.5 1482L541 1485.9M563.8 1482L566.1 1484.6M594.1 1482L592.7 1484.6M624.5 1482L620.8 1484.8M654.9 1482L653.7 1484.6M685.2 1482L683.3 1484.6M715.5 1482L712.1 1484.3M745.9 1482L742.8 1483.5M776.2 1482L775.2 1483.5M138.9 1504L146.2 1506.7M169.2 1504L174.4 1504.5M199.6 1504L200.5 1499.5M230 1504L228.4 1500.5M260.3 1504L254.4 1503.1M290.6 1504L285.1 1501.8M321 1504L316.5 1499.5M351.4 1504L348.7 1500.2M381.7 1504L375.9 1504M412.1 1504L402.4 1508.5M442.4 1504L437.8 1511.3M472.8 1504L472.3 1515M503.1 1504L508.1 1513M533.5 1504L538.6 1512.8M563.8 1504L564.3 1510.7M594.1 1504L591.5 1508.7M624.5 1504L619 1507.3M654.9 1504L652 1505.8M685.2 1504L682.6 1506.8M715.5 1504L712.7 1506.6M745.9 1504l0.5 0M776.2 1504L773.9 1506.6M138.9 1526l0.5 0M169.2 1526L175 1527.5M199.6 1526L201.1 1526.4M230 1526L230 1527M260.3 1526L257 1528.6M290.6 1526L284.1 1527.3M321 1526L314.3 1522.3M351.4 1526L347.2 1519.5M381.7 1526L379.1 1524.7M412.1 1526L405.8 1532.4M442.4 1526L437.8 1531.7M472.8 1526L472.8 1527.9M503.1 1526L505.3 1527.9M533.5 1526L537.6 1535.4M563.8 1526L563.1 1535M594.1 1526L591.2 1530.4M624.5 1526L621.3 1529.1M654.9 1526L651.8 1527.8M685.2 1526L682 1528.2M715.5 1526L711.1 1528.2M138.9 1548L133.8 1546.7M169.2 1548L165.5 1549.3M199.6 1548L200.2 1547.5M230 1548L230.6 1546.5M260.3 1548L257.1 1553.7M290.6 1548L286.7 1549.3M321 1548L319.7 1544.9M351.4 1548L348.3 1544.2M381.7 1548L377.5 1549M412.1 1548L407.3 1552.4M442.4 1548L438.4 1550M472.8 1548l0.5 0M503.1 1548l0.5 0M533.5 1548L533.7 1556.1M563.8 1548L563.1 1560.6M624.5 1548L619 1551.7M138.9 1570L132.8 1570M169.2 1570L162 1569.8M199.6 1570L193.5 1569.4M230 1570L222 1567.6M260.3 1570L257 1573.2M290.6 1570l0.5 0M321 1570L323.8 1566.2M351.4 1570L356.1 1565.4M381.7 1570L381.3 1573.2M412.1 1570L409.6 1572.2M442.4 1570L441 1572.9M472.8 1570L468 1569.2M503.1 1570L495.4 1572.4M533.5 1570L527.3 1579.5M563.8 1570L555.7 1577.3M594.1 1570L589.5 1573.2M138.9 1592L135.3 1592.6M169.2 1592L168 1591.4M199.6 1592L197.3 1590.7M230 1592l0.5 0M260.3 1592L257 1591.4M290.6 1592L290 1587.5M321 1592L318.3 1585.9M351.4 1592L344.8 1585.9M381.7 1592L382 1597.1M412.1 1592L410.3 1593.7M442.4 1592L437.8 1594M472.8 1592L466.7 1593M503.1 1592L493.8 1599.1M138.9 1614l0.5 0M169.2 1614l0.5 0M199.6 1614l0.5 0M230 1614l0.5 0M260.3 1614L261.6 1614.8M290.6 1614L288.7 1612.5M321 1614L316.5 1610.2M351.4 1614L343.9 1608.3M381.7 1614L377.7 1615.5M412.1 1614L411.9 1617.5M442.4 1614L439.3 1618.7M472.8 1614L468 1616.3M503.1 1614L500.3 1626.2M138.9 1636L146.2 1638.4M169.2 1636L173.5 1636M199.6 1636l0.5 0M230 1636L228.9 1637.9M260.3 1636L262.2 1636.8M290.6 1636L287.1 1640.7M321 1636L318.2 1631.3M351.4 1636L344.8 1629.9M381.7 1636L373.4 1636M412.1 1636L406 1638.2M442.4 1636L440.6 1639.2M472.8 1636L467 1641.7M503.1 1636L497.8 1645.8M138.9 1658L132.8 1658.9M169.2 1658L164.5 1659.3M199.6 1658L193.1 1658.6M230 1658L224.2 1656.7M260.3 1658L257 1659.7M290.6 1658L283.6 1660.4M321 1658L314.3 1654M351.4 1658l0.5 0M381.7 1658L375.2 1657.4M412.1 1658L409.9 1660.6M442.4 1658l0.5 0M472.8 1658L464.2 1664.1M503.1 1658L498.5 1659.3M138.9 1680L129.7 1682.4M169.2 1680L162.5 1680.6M199.6 1680L193.8 1678.5M230 1680L223.2 1680.6M260.3 1680L253.7 1682.2M290.6 1680L288.3 1682.8M321 1680L318.7 1678.1M351.4 1680L347.2 1674.5M381.7 1680L381.1 1684.2M412.1 1680L410.6 1674.9M442.4 1680L434.3 1681.8M472.8 1680L469.1 1687.7M138.9 1702L137 1702M169.2 1702L169.9 1702M199.6 1702L196.4 1703.3M230 1702L228 1702M260.3 1702L261.1 1697.3M290.6 1702L291.9 1701.4M321 1702L322.9 1701.4M351.4 1702L352.6 1700.7M381.7 1702L381.7 1701.4M412.1 1702L412.1 1700.7M442.4 1702L443.7 1700.7M472.8 1702L472.4 1703.3M503.1 1702L502.3 1703.5" stroke="#000" stroke-width="2" fill="none" stroke-linecap="round"/><path d="M133.7 1153.2L135.1 1152.2L135.1 1152.9L135.4 1153.5ZM169.8 1149.4L169.9 1150.3L169.6 1150.1L169.3 1150.1ZM200.8 1149.4L200.8 1150.3L200.5 1150.1L200.1 1150ZM231.7 1149.4L231.5 1150.4L231.2 1150.1L230.8 1150ZM265.3 1152.5L263.7 1153L264 1152.4L263.9 1151.7ZM298.4 1158.5L294.8 1157.4L296.1 1156.6L296.7 1155.2ZM332.2 1150.8L328.5 1152.8L328.9 1151.1L328.2 1149.6ZM352.9 1149.4L352.8 1150.4L352.5 1150.1L352.1 1150ZM383.8 1149.4L383.5 1150.5L383.2 1150.1L382.8 1149.9ZM421.7 1149.9L418.7 1152L418.9 1150.5L418.1 1149.3ZM455.1 1152.9L450.7 1154.4L451.4 1152.6L450.9 1150.8ZM486.5 1152L481.8 1154L482.5 1152L481.8 1150ZM509.1 1149.4L507.6 1151L507.6 1150.1L507 1149.4ZM536 1149.4L535.6 1150.5L535.4 1150.1L534.9 1149.9ZM564.7 1149.4L564.7 1150.3L564.4 1150.1L564.1 1150.1ZM595.9 1149.4L595.7 1150.4L595.4 1150.1L595 1150ZM635.7 1155.1L631.4 1155.6L632.4 1154.2L632.3 1152.4ZM664.6 1155.1L660.9 1155.4L661.8 1154.2L661.8 1152.6ZM695.3 1153.4L691.7 1154.4L692.4 1153L692.1 1151.5ZM723.3 1154.8L720.6 1154.9L721.3 1154L721.3 1153ZM746.8 1149.4L746.8 1150.3L746.5 1150.1L746.2 1150.1ZM135.5 1170.6L136.9 1171.2L136.3 1171.4L136.1 1172ZM165.5 1171.4L166.9 1171.7L166.4 1172.1L166.3 1172.7ZM195.6 1169.7L197.4 1170.5L196.7 1170.8L196.3 1171.5ZM227.4 1168L228.9 1169.5L228 1169.5L227.4 1170.1ZM259.3 1169.2L260.2 1170.5L259.5 1170.4L259 1170.8ZM296.2 1174.9L294.4 1175.3L294.7 1174.6L294.6 1173.9ZM328.7 1171.9L326.7 1173.5L326.8 1172.5L326.2 1171.6ZM358.1 1171.9L356.3 1173.4L356.3 1172.5L355.8 1171.7ZM387.7 1166.8L386.7 1170.1L386 1168.9L384.6 1168.4ZM419.1 1168.5L417.7 1171L417.3 1169.9L416.3 1169.3ZM451.3 1171.4L448.7 1173.6L448.8 1172.2L447.9 1171ZM482 1169.4L479.5 1172.3L479.3 1170.7L478.2 1169.6ZM515.1 1165.9L512.2 1170.4L511.7 1168.3L509.9 1167ZM545.8 1165.4L542.8 1170.1L542.2 1167.9L540.4 1166.6ZM567.6 1172.3L566.7 1173.3L566.6 1172.7L566.2 1172.3ZM655.9 1177.8L655.1 1176.8L655.6 1176.8L656 1176.5ZM689.5 1178.8L687.6 1177.9L688.4 1177.6L688.8 1176.8ZM725.9 1174.5L722.3 1175.8L722.9 1174.4L722.4 1172.9ZM751.9 1175L750 1175.5L750.4 1174.8L750.2 1174ZM134.6 1193.2L136.2 1193.5L135.7 1194L135.5 1194.6ZM164.3 1196.5L165.7 1195.7L165.5 1196.4L165.8 1197ZM197 1192L198.3 1192.9L197.7 1193.1L197.3 1193.6ZM324.8 1193.8L323.9 1194.9L323.8 1194.3L323.4 1194ZM360.6 1191.2L358.2 1194.1L357.9 1192.6L356.8 1191.5ZM389.4 1189.1L387.8 1192.6L387.2 1191.1L385.8 1190.4ZM425.6 1192L421.6 1195.3L421.7 1193.2L420.4 1191.5ZM451.7 1193.8L448.8 1195.9L449 1194.4L448.2 1193.2ZM479.1 1191.2L477.8 1193.4L477.5 1192.4L476.6 1191.8ZM506.5 1190.8L506.2 1192.8L505.7 1192.2L504.9 1192ZM536.5 1195.7L535.7 1196.1L535.8 1195.7L535.6 1195.4ZM564.7 1199.1L564 1198.3L564.4 1198.3L564.8 1198.1ZM599.3 1196.9L597.7 1197.3L598 1196.6L597.9 1196ZM632.8 1196.9L630.2 1197.6L630.6 1196.6L630.4 1195.6ZM664.1 1197L660.8 1198L661.4 1196.7L661.1 1195.4ZM695.9 1197.7L692 1198.7L692.8 1197.2L692.5 1195.6ZM721.1 1196L719.4 1196.7L719.6 1196L719.4 1195.3ZM752.8 1196.3L750.7 1197.1L751 1196.3L750.8 1195.4ZM136.8 1214.6L137.9 1215.3L137.4 1215.4L137 1215.9ZM195.6 1214.6L197.3 1215.1L196.7 1215.4L196.4 1216.1ZM290.1 1215.1L290.7 1215.9L290.3 1215.8L289.9 1216ZM320.1 1215.1L320.8 1215.8L320.4 1215.8L320 1216.1ZM355.1 1214.6L354.4 1216.1L354.2 1215.4L353.6 1215.1ZM386 1213.7L385.2 1215.5L384.9 1214.8L384.2 1214.5ZM412.2 1214.6L412.6 1215.6L412.2 1215.4L411.7 1215.6ZM474 1215.4L473.9 1216.3L473.6 1216.1L473.3 1216ZM503.8 1214.2L504.1 1215.4L503.6 1215.2L503.1 1215.3ZM537.7 1214.2L536.9 1215.9L536.7 1215.2L536 1214.8ZM567.6 1217L566.6 1217.8L566.6 1217.2L566.3 1216.8ZM605.7 1217.5L601.8 1219.3L602.3 1217.6L601.7 1216ZM636.5 1222.6L631.8 1222.8L633.1 1221.3L633.1 1219.3ZM673.8 1226.1L666.2 1226L668.3 1223.7L668.5 1220.6ZM703.9 1225.6L696.5 1225.7L698.5 1223.4L698.6 1220.3ZM729.3 1223.5L723.8 1223.6L725.3 1221.9L725.4 1219.7ZM756.2 1223.2L752 1222.9L753.2 1221.7L753.4 1219.9ZM782.3 1219.7L780.2 1220L780.7 1219.3L780.7 1218.4ZM138.9 1235.9L139.4 1237.1L138.9 1236.9L138.4 1237.1ZM171.1 1235.4L171.2 1237L170.7 1236.5L170 1236.5ZM200.8 1236.2L200.9 1237.5L200.5 1237.2L200 1237.2ZM287.6 1236.6L288.9 1237.2L288.3 1237.4L288.1 1238ZM319.3 1237.1L320.2 1237.7L319.7 1237.8L319.4 1238.2ZM353.4 1231.9L353.8 1234.6L352.9 1234L351.8 1234.1ZM387.7 1234.5L386.6 1236.9L386.2 1235.9L385.2 1235.4ZM422.2 1234.8L419.5 1238L419.3 1236.3L418 1235.1ZM448.2 1237.6L446.8 1239.1L446.8 1238.2L446.2 1237.6ZM505.2 1236.2L505 1237.6L504.6 1237.2L504.1 1237.1ZM531.7 1243.1L531.9 1241.9L532.2 1242.3L532.6 1242.4ZM570.2 1238.3L568.5 1239.6L568.5 1238.7L568 1238ZM610.8 1240L605.2 1242.4L606 1240L605.2 1237.6ZM645.5 1238.6L638.5 1242.1L639.4 1239L638.1 1236.1ZM675 1241.2L668 1243.7L669.1 1240.9L668.3 1237.9ZM695.9 1242.4L691.9 1243.1L692.8 1241.7L692.6 1240.1ZM729.3 1246.9L723.6 1246.5L725.3 1244.9L725.6 1242.6ZM755.4 1240L752.1 1241.3L752.6 1240L752.1 1238.7ZM126 1253.4L131.6 1254.5L129.7 1255.9L129.2 1258.2ZM166.7 1255.6L168.2 1257.2L167.3 1257.3L166.6 1257.9ZM230.8 1261.3L230.6 1261.6L230.6 1261.5L230.5 1261.4ZM264.4 1260.3L263.4 1261.3L263.4 1260.7L263 1260.3ZM285.8 1264.2L287 1263L287.1 1263.7L287.6 1264.2ZM317.6 1259.4L318.9 1259.8L318.4 1260.1L318.3 1260.6ZM347.7 1255.1L349.7 1256.7L348.7 1256.9L348 1257.6ZM382.6 1251.3L383.8 1255.1L382.3 1254.4L380.7 1254.8ZM420.8 1255.1L418.8 1258.7L418.3 1257.1L416.9 1256.2ZM454.3 1258.6L450.7 1261.4L450.8 1259.6L449.7 1258ZM477.9 1260.3L476.6 1261.4L476.6 1260.7L476.1 1260.1ZM507.2 1268L505.2 1266.7L506.2 1266.5L506.7 1265.7ZM536.9 1262.5L535.8 1262.8L536 1262.4L535.9 1261.9ZM572.7 1259.4L570.1 1261.6L570.2 1260.2L569.3 1259ZM605.3 1263.7L601.3 1264.7L602.1 1263.2L601.8 1261.5ZM633.1 1259.8L630.8 1261.5L630.9 1260.3L630.2 1259.4ZM664.6 1258.6L661.8 1261.1L661.8 1259.6L660.8 1258.3ZM689.8 1264.2L688.2 1264.1L688.7 1263.7L688.7 1263ZM720.4 1260.8L719.1 1261.8L719.1 1261.1L718.8 1260.6ZM777.1 1263.7L776.6 1263.3L776.9 1263.3L777.1 1263.1ZM138.6 1277.1L139.5 1279.1L138.6 1278.9L137.8 1279.2ZM166.7 1273.7L169 1276.8L167.4 1276.7L166.1 1277.6ZM200.5 1279.2L200.8 1280.7L200.2 1280.4L199.6 1280.5ZM231.3 1274.5L232.2 1278L230.9 1277.3L229.5 1277.6ZM287.2 1289.2L287.6 1287.2L288.1 1287.8L288.9 1288ZM312.4 1286.9L314.9 1284.7L314.9 1286.1L315.7 1287.2ZM337.4 1277.1L343.1 1277.5L341.5 1279.1L341.2 1281.5ZM372.6 1271.3L377.5 1274.3L375.2 1275L373.9 1276.9ZM407.9 1273.3L410.8 1276.4L409.1 1276.4L407.8 1277.6ZM442.4 1279.7L442.9 1281L442.4 1280.8L441.9 1281ZM511.7 1284.5L509.1 1285.4L509.5 1284.4L509.2 1283.3ZM542.9 1284L539.7 1285.3L540.2 1284L539.7 1282.7ZM570.8 1285.7L568.5 1286.1L569.1 1285.3L568.9 1284.3ZM603.4 1286.8L599.9 1287.1L600.7 1286L600.7 1284.5ZM623 1287.1L623 1286L623.3 1286.3L623.8 1286.4ZM743.1 1287.4L743.5 1286.1L743.9 1286.6L744.4 1286.8ZM773.7 1280.6L774.9 1281.3L774.3 1281.4L774 1281.9ZM141.5 1304.3L140.9 1305.1L140.8 1304.7L140.5 1304.5ZM166 1299.6L167.8 1301.1L166.8 1301.3L166.2 1302ZM200.8 1301.7L201 1303.1L200.5 1302.8L199.9 1302.8ZM225.7 1304.3L227.2 1304.3L226.7 1304.7L226.7 1305.3ZM256.2 1304.8L257.6 1304.6L257.2 1305.1L257.3 1305.7ZM285.8 1309.4L286.8 1307.8L287.1 1308.6L287.7 1309ZM317.6 1309.4L318.2 1308L318.4 1308.6L319 1308.8ZM346.5 1293.1L350 1296.8L347.9 1296.8L346.3 1298.2ZM379.5 1288.8L382.7 1294.3L380.1 1293.8L377.8 1295ZM409.1 1294.3L411.8 1297.9L410 1297.7L408.5 1298.7ZM440 1301.7L441.3 1302.7L440.6 1302.8L440.2 1303.3ZM511.7 1303.8L509.4 1305.5L509.5 1304.3L508.8 1303.4ZM540 1306L538 1306.8L538.3 1306L538 1305.2ZM567.9 1312.4L565.9 1311L566.9 1310.7L567.5 1309.9ZM598.3 1314.6L595.6 1312.3L597.1 1312.1L598.1 1311.1ZM624.2 1313.6L623.3 1311.3L624.2 1311.6L625.2 1311.3ZM652.4 1312.4L652.4 1310.1L653.1 1310.7L654 1310.8ZM689 1308.4L687.5 1308.2L688 1307.8L688.2 1307.2ZM722.9 1308.1L720.5 1308.4L721.1 1307.5L721 1306.5ZM751.2 1311.8L748.9 1310.8L749.9 1310.4L750.4 1309.4ZM141 1331.4L139.9 1330.7L140.4 1330.6L140.8 1330.1ZM169.8 1324.9L170 1325.9L169.6 1325.7L169.2 1325.8ZM200.8 1323.7L201 1325.1L200.5 1324.8L199.9 1324.8ZM292.4 1329.4L291.7 1329.2L291.9 1329L292 1328.7ZM329.9 1329.7L326.7 1330.4L327.4 1329.2L327.1 1327.9ZM365.8 1317.7L362.4 1323.3L361.6 1320.7L359.4 1319.1ZM390.6 1314.6L389.5 1320.4L388.1 1318.5L385.7 1317.9ZM415.3 1314.9L416.1 1319.8L414.4 1318.7L412.3 1318.9ZM448.2 1321.8L447.3 1324.4L446.8 1323.4L445.7 1322.9ZM483.4 1321.8L480.7 1325.4L480.3 1323.6L478.9 1322.4ZM505.5 1321.5L505.6 1323.7L504.9 1323.1L504 1323.1ZM530.7 1321.5L532.3 1323.1L531.4 1323.1L530.7 1323.8ZM563.1 1330.1L563.1 1329.4L563.3 1329.5L563.6 1329.5ZM597.1 1340.4L594.3 1336.6L596.2 1336.8L597.8 1335.8ZM619.5 1338.7L619.7 1334.3L621 1335.6L622.7 1335.7ZM650.4 1336.6L650.7 1333L651.7 1334.1L653.1 1334.3ZM723.3 1325.8L721.2 1327.4L721.3 1326.3L720.7 1325.5ZM756.4 1330.9L752.4 1331.4L753.4 1330.1L753.2 1328.4ZM782.3 1329.7L780.2 1330L780.7 1329.3L780.7 1328.4ZM170.1 1350.9L169.7 1350.7L169.9 1350.6L170 1350.5ZM199.9 1339.7L201.3 1343.2L199.8 1342.7L198.4 1343.1ZM234.2 1346L233.5 1347.8L233.2 1347.1L232.5 1346.7ZM261.7 1347.9L261.5 1348.7L261.3 1348.5L261 1348.4ZM296.2 1345.4L295.1 1347.4L294.7 1346.5L293.9 1346.1ZM331 1344.3L328.4 1347.7L328.1 1346L326.8 1344.8ZM365.8 1340.2L362.3 1345.6L361.6 1343L359.5 1341.5ZM392.4 1336.8L390.6 1342.8L389.3 1340.6L386.8 1339.7ZM419.1 1338L418.4 1343.1L417.1 1341.4L415 1341.1ZM446.9 1339.7L446.8 1343.8L445.6 1342.7L443.9 1342.6ZM477.9 1342.3L477.3 1345.6L476.4 1344.5L475 1344.2ZM515.8 1343.6L512.4 1347.6L512.1 1345.5L510.6 1344ZM539.3 1339.2L538.9 1343.7L537.6 1342.3L535.8 1342ZM560.5 1347.4L561.8 1347.8L561.4 1348.1L561.2 1348.6ZM594 1359.5L592.7 1356.2L594 1356.7L595.4 1356.3ZM629.8 1363.8L626.1 1359.8L628.3 1359.8L630 1358.3ZM657.3 1356.9L655.7 1355.1L656.6 1355.1L657.4 1354.5ZM690 1347.1L688.9 1348.6L688.8 1347.8L688.2 1347.3ZM720.4 1346L719.4 1347.8L719.1 1347.1L718.4 1346.6ZM749.5 1355.2L747.8 1354.1L748.6 1353.8L749.1 1353.2ZM778.3 1354.3L777.2 1353.3L777.8 1353.2L778.2 1352.7ZM143.2 1368L142.4 1369.8L142.1 1369.1L141.4 1368.7ZM174.9 1369.8L173.5 1371.2L173.5 1370.3L172.9 1369.7ZM203.9 1363.4L203.7 1366.9L202.7 1365.9L201.2 1365.7ZM226.2 1366.8L228 1367.9L227.1 1368.2L226.7 1368.9ZM259.6 1368L260.3 1369.1L259.8 1369.1L259.3 1369.3ZM291.9 1364.6L292.4 1367L291.5 1366.5L290.6 1366.7ZM324.4 1362.5L324.6 1366.3L323.4 1365.3L321.9 1365.3ZM354.6 1363.4L354.7 1366.8L353.7 1365.9L352.3 1365.9ZM387.7 1360.8L387.3 1365.5L386 1364.1L384.1 1363.8ZM417.7 1363.9L416.9 1367.5L416.1 1366.3L414.6 1365.9ZM455.1 1361.7L452.3 1367L451.4 1364.7L449.3 1363.4ZM488.9 1358.8L485.3 1365.6L484.2 1362.6L481.5 1361ZM517 1358.2L514.3 1364.9L513 1362.2L510.3 1360.9ZM537.2 1362.5L537.3 1366.3L536.1 1365.3L534.6 1365.2ZM554.9 1368L558.5 1368.1L557.4 1369.2L557.3 1370.7ZM585 1376.3L587.5 1373.5L587.7 1375.1L588.8 1376.1ZM619.5 1374.6L620.7 1373.2L620.8 1373.9L621.3 1374.4ZM656.7 1378L655.4 1376.4L656.3 1376.5L656.9 1376ZM688.6 1374.2L687.3 1374L687.8 1373.7L687.9 1373.1ZM718.6 1372.5L717.7 1372.8L717.9 1372.4L717.8 1372ZM744.4 1378L744.1 1376L744.7 1376.5L745.6 1376.4ZM773.7 1375.4L774 1374.1L774.3 1374.6L774.9 1374.7ZM142.3 1389.7L141.8 1391.4L141.5 1390.8L140.8 1390.6ZM170.1 1389.4L170.4 1390.9L169.9 1390.5L169.3 1390.6ZM196.5 1390.2L197.9 1391L197.3 1391.2L197 1391.7ZM225.1 1392.8L226.7 1392.6L226.4 1393.1L226.4 1393.8ZM257.5 1390.2L258.9 1391L258.3 1391.2L257.9 1391.7ZM289.3 1383L291.3 1386.5L289.7 1386.2L288.2 1386.9ZM315.8 1384.7L318.9 1387.1L317.3 1387.4L316.3 1388.6ZM344.3 1385.4L347.9 1387.3L346.3 1387.9L345.5 1389.3ZM381.2 1381.3L383.2 1385.5L381.3 1385L379.5 1385.7ZM420.5 1380.8L419.5 1386.5L418 1384.6L415.7 1384.1ZM459.9 1383.7L455.4 1389.7L454.9 1386.7L452.5 1384.7ZM503.7 1382.5L496.6 1389.2L496.5 1385.2L493.9 1382.1ZM527.9 1383L521.2 1390.1L520.9 1386.1L518.1 1383.2ZM548.4 1379.9L545.3 1386.8L544.1 1384L541.3 1382.6ZM562.8 1385.9L564.1 1388.2L563 1388L562.1 1388.5ZM588 1389.4L590.4 1390L589.5 1390.5L589.2 1391.5ZM619.5 1395.4L620.8 1394.3L620.8 1395L621.2 1395.6ZM650.7 1399.7L651.2 1397.5L651.8 1398.2L652.7 1398.5ZM711.3 1398.8L711.9 1396.8L712.3 1397.6L713.1 1397.9ZM741.4 1398L742.3 1396.2L742.6 1396.9L743.3 1397.3ZM132.9 1410.8L135.3 1411.6L134.4 1412.2L134 1413.1ZM160.8 1409.1L164.7 1410.3L163.3 1411.1L162.7 1412.7ZM193.1 1413.4L195.4 1413.4L194.7 1414.1L194.7 1415ZM266.1 1411.7L264.9 1413.7L264.7 1412.8L263.8 1412.3ZM289.8 1409.1L290.9 1411.1L290 1410.9L289.2 1411.3ZM319.3 1406.5L321.2 1409.5L319.8 1409.3L318.5 1410ZM350.3 1404.8L352.3 1408.5L350.6 1408.1L349.1 1408.8ZM387.2 1402.6L387.2 1407.9L385.6 1406.5L383.4 1406.4ZM423.9 1399.2L422.3 1406.6L420.5 1404L417.5 1403.2ZM459.9 1410.8L454.7 1415.1L454.9 1412.3L453.2 1410.1ZM502.3 1419.4L492.9 1422.2L494.7 1418.6L493.8 1414.6ZM529.6 1413.9L520.9 1418.4L521.9 1414.5L520.3 1410.9ZM547.2 1407.4L543.8 1412.3L543.2 1409.9L541.3 1408.4ZM564.8 1410.5L565.2 1412.3L564.6 1411.9L563.8 1412ZM590.9 1414.6L592 1414.6L591.7 1415L591.7 1415.4ZM615.6 1419.4L618.1 1417L618.1 1418.4L619.1 1419.5ZM652.4 1417.7L652.9 1416.9L653.1 1417.3L653.4 1417.5ZM686.1 1420.3L685.3 1419.1L685.8 1419.2L686.3 1418.9ZM713.5 1419.1L713.7 1417.9L714 1418.3L714.5 1418.4ZM744.9 1419.4L744.7 1418.3L745.1 1418.6L745.6 1418.5ZM778.8 1418.1L777.8 1417.8L778.2 1417.5L778.3 1417.1ZM130.3 1435.9L133.1 1435.5L132.5 1436.5L132.6 1437.6ZM160.8 1435.4L163.7 1435.1L163 1436.1L163 1437.3ZM191.3 1432.8L194.9 1433.4L193.7 1434.3L193.4 1435.8ZM225.7 1433.7L227.5 1434.5L226.7 1434.8L226.4 1435.5ZM261.8 1432.5L262.1 1434.3L261.5 1433.9L260.7 1434ZM294.4 1433.7L293.8 1435.5L293.5 1434.8L292.8 1434.5ZM319.3 1429.1L321.1 1431.9L319.8 1431.6L318.6 1432.3ZM349.5 1426L351.8 1429.8L350 1429.4L348.4 1430.3ZM378.6 1426L381.4 1429.6L379.5 1429.4L377.9 1430.5ZM410.5 1426L412.7 1429.8L411 1429.4L409.3 1430.3ZM455.1 1448.3L449.3 1446.6L451.4 1445.3L452.3 1443ZM497.2 1458.6L487.8 1455.7L491.3 1453.7L492.7 1449.9ZM520.3 1450.5L512.7 1448.7L515.3 1446.9L516.2 1443.8ZM545.1 1438.5L541.1 1440L541.8 1438.4L541.2 1436.7ZM567.9 1435.1L567.1 1436.5L566.9 1435.8L566.3 1435.4ZM625.9 1440.8L625.1 1440.1L625.5 1440L625.8 1439.8ZM718.1 1442L716.9 1441.1L717.5 1440.9L717.9 1440.4ZM750 1440.2L748.5 1440.1L749 1439.7L749.1 1439ZM780.5 1439.4L779.1 1439.5L779.5 1439L779.4 1438.4ZM131.2 1460.3L133.4 1459.3L133.1 1460.3L133.5 1461.2ZM160.8 1454.5L164.5 1455.2L163.3 1456.1L162.9 1457.6ZM193.6 1452.3L196.7 1454L195.3 1454.5L194.5 1455.8ZM227.9 1454.5L229.2 1455.9L228.4 1455.9L227.8 1456.4ZM256.7 1455.7L258.3 1456.5L257.6 1456.8L257.2 1457.4ZM287.6 1457.4L288.8 1457.8L288.3 1458.1L288.2 1458.6ZM315.5 1452.3L318.5 1454.1L317.1 1454.5L316.3 1455.7ZM343.8 1448.8L348 1451.5L346 1452.1L344.8 1453.7ZM367.4 1447.1L374.1 1449.5L371.6 1450.8L370.4 1453.5ZM381.3 1455.2L390.8 1452.8L388.8 1456.4L389.6 1460.3ZM432.1 1475.5L433.4 1468.7L435.1 1471L437.8 1471.7ZM471.5 1499.5L468 1490.4L471.8 1491.9L475.6 1490.7ZM513.6 1472.5L508.2 1469.8L510.6 1468.9L511.8 1466.8ZM546.3 1466.9L541 1466.4L542.6 1464.9L542.9 1462.7ZM567.9 1460.5L566.6 1460.9L566.9 1460.4L566.8 1459.8ZM594.8 1464.6L594 1463.3L594.7 1463.5L595.2 1463.2ZM626.7 1462.2L625.8 1461.8L626.2 1461.7L626.3 1461.3ZM660.2 1462.9L658.2 1462.7L658.8 1462.2L658.9 1461.4ZM685.5 1462.2L685.2 1461.6L685.5 1461.7L685.7 1461.5ZM717.4 1462.2L716.6 1461.8L717 1461.7L717.2 1461.3ZM745.2 1461.7L745.2 1461.1L745.4 1461.3L745.6 1461.3ZM141.5 1484.6L140.4 1484.1L140.8 1483.9L141 1483.5ZM165.5 1477.7L167.1 1478.5L166.4 1478.8L166.1 1479.5ZM194.8 1472.5L197.8 1475.1L196.2 1475.3L195.1 1476.4ZM226.2 1475.1L228.2 1476.7L227.1 1476.9L226.4 1477.7ZM255 1476L257.3 1477.1L256.3 1477.5L255.8 1478.5ZM282.9 1481L285.4 1480.3L284.9 1481.2L285.1 1482.3ZM315 1478L317.3 1478.5L316.5 1479.1L316.3 1480ZM345.5 1472.4L348.9 1474.8L347.2 1475.2L346.1 1476.5ZM365.4 1475.1L371.9 1475.1L370.1 1477.1L369.9 1479.8ZM390.2 1483.7L397.4 1480L396.5 1483.2L397.9 1486.3ZM422.5 1494.7L427.4 1487.5L428.2 1491L431.1 1493.2ZM472.1 1497.5L470.1 1492.1L472.3 1493L474.5 1492.3ZM511.9 1496.1L506.9 1492.6L509.3 1492L510.9 1490.1ZM544.1 1487.5L539.7 1487.2L541 1485.9L541.3 1484.1ZM566.9 1485.4L565.5 1484.8L566.1 1484.6L566.4 1484ZM592.3 1485.4L592.4 1484.2L592.7 1484.6L593.3 1484.6ZM619.5 1485.8L620.5 1484L620.8 1484.8L621.5 1485.3ZM653.3 1485.4L653.3 1484.2L653.7 1484.6L654.2 1484.6ZM682.6 1485.4L683 1484.1L683.3 1484.6L683.8 1484.7ZM710.9 1485.1L711.9 1483.6L712.1 1484.3L712.7 1484.8ZM741.8 1484.1L742.8 1482.9L742.8 1483.5L743.3 1484ZM774.9 1484.1L775 1483.3L775.2 1483.5L775.5 1483.6ZM149.2 1507.8L145.2 1508L146.2 1506.7L146.2 1505ZM176.1 1504.7L174 1505.3L174.4 1504.5L174.1 1503.6ZM200.8 1498L201.2 1499.9L200.5 1499.5L199.7 1499.6ZM227.9 1499.4L229.1 1500.5L228.4 1500.5L227.9 1501ZM252.4 1502.8L254.9 1502.2L254.4 1503.1L254.6 1504.2ZM283.3 1501.1L285.8 1501L285.1 1501.8L285.1 1502.9ZM315 1498L317.5 1499L316.5 1499.5L316 1500.5ZM347.7 1498.8L349.5 1499.9L348.7 1500.2L348.2 1500.8ZM374 1504L376.3 1503L375.9 1504L376.3 1505ZM398.5 1510.4L402.2 1506.3L402.4 1508.5L404 1510.1ZM435.9 1514.3L436.6 1509.9L437.8 1511.3L439.6 1511.7ZM472.1 1519.5L470.1 1514.1L472.3 1515L474.5 1514.3ZM510.1 1516.7L505.9 1513.4L508.1 1513L509.6 1511.4ZM540.7 1516.4L536.4 1513.2L538.6 1512.8L540 1511.1ZM564.5 1512.9L563.2 1510.3L564.3 1510.7L565.4 1510.2ZM590.5 1510.4L590.8 1508L591.5 1508.7L592.4 1508.9ZM616.8 1508.6L618.7 1506L619 1507.3L620.1 1508.2ZM651.1 1506.4L651.9 1505.2L652 1505.8L652.5 1506.2ZM681.8 1507.8L682.3 1506.2L682.6 1506.8L683.3 1507.1ZM711.8 1507.4L712.5 1505.9L712.7 1506.6L713.3 1506.9ZM773.2 1507.4L773.7 1506L773.9 1506.6L774.5 1506.8ZM177 1528.1L174.4 1528.4L175 1527.5L174.9 1526.5ZM201.7 1526.5L201 1526.6L201.1 1526.4L201.1 1526.1ZM230 1527.4L229.8 1527L230 1527L230.1 1527ZM255.8 1529.4L256.7 1527.8L257 1528.6L257.6 1529ZM281.9 1527.7L284.3 1526.1L284.1 1527.3L284.7 1528.3ZM311.5 1520.8L315.5 1521.2L314.3 1522.3L314 1523.9ZM345.5 1516.9L348.8 1519.2L347.2 1519.5L346.2 1520.8ZM378.3 1524.3L379.5 1524.4L379.1 1524.7L379.1 1525.2ZM403.3 1534.9L405 1530.6L405.8 1532.4L407.5 1533.2ZM435.9 1534.1L436.9 1530.4L437.8 1531.7L439.2 1532.3ZM472.8 1528.6L472.4 1527.8L472.8 1527.9L473.1 1527.8ZM506 1528.6L504.8 1528.2L505.3 1527.9L505.5 1527.4ZM539.3 1539.2L535.4 1535.6L537.6 1535.4L539.2 1533.9ZM562.8 1538.7L561.3 1534.2L563.1 1535L564.9 1534.5ZM590.2 1531.8L590.6 1529.6L591.2 1530.4L592.1 1530.6ZM620.2 1530.1L621 1528.3L621.3 1529.1L622 1529.4ZM650.7 1528.4L651.7 1527.2L651.8 1527.8L652.3 1528.2ZM680.9 1528.9L681.8 1527.5L682 1528.2L682.6 1528.6ZM709.5 1528.9L711 1527.3L711.1 1528.2L711.7 1528.8ZM132 1546.3L134.3 1545.9L133.8 1546.7L133.9 1547.7ZM164.3 1549.7L165.5 1548.6L165.5 1549.3L166 1549.8ZM200.5 1547.3L200.3 1547.6L200.2 1547.5L200.1 1547.4ZM230.8 1545.9L230.8 1546.7L230.6 1546.5L230.3 1546.4ZM255.8 1556.1L256.2 1552.7L257.1 1553.7L258.5 1554ZM285.3 1549.7L286.7 1548.5L286.7 1549.3L287.1 1549.9ZM319.3 1543.9L320.3 1544.9L319.7 1544.9L319.3 1545.3ZM347.2 1542.8L349.1 1543.9L348.3 1544.2L347.8 1544.9ZM376 1549.4L377.6 1548.2L377.5 1549L377.9 1549.7ZM405.3 1554.2L406.7 1551.1L407.3 1552.4L408.5 1553ZM437.1 1550.8L438.3 1549.3L438.4 1550L439 1550.6ZM533.8 1559.3L532.1 1555.5L533.7 1556.1L535.3 1555.4ZM562.8 1565.7L560.6 1559.5L563.1 1560.6L565.6 1559.8ZM616.8 1553.2L618.7 1550.3L619 1551.7L620.1 1552.5ZM130.6 1570L133.1 1569L132.8 1570L133.1 1571ZM159.1 1569.7L162.6 1568.3L162 1569.8L162.5 1571.2ZM191.3 1569.1L193.9 1568.4L193.5 1569.4L193.7 1570.4ZM218.8 1566.6L223.1 1566.1L222 1567.6L222.1 1569.3ZM255.8 1574.3L256.6 1572.4L257 1573.2L257.7 1573.6ZM324.8 1564.8L324.3 1566.9L323.8 1566.2L323 1565.9ZM358.1 1563.5L356.7 1566.6L356.1 1565.4L354.8 1564.7ZM381.2 1574.3L380.8 1572.9L381.3 1573.2L381.9 1573.1ZM408.8 1572.9L409.4 1571.6L409.6 1572.2L410.1 1572.5ZM440.5 1574L440.6 1572.5L441 1572.9L441.6 1573ZM466.4 1569L468.4 1568.5L468 1569.2L468.2 1570.1ZM492.3 1573.4L495.5 1570.7L495.4 1572.4L496.4 1573.8ZM524.9 1583.4L525.9 1577.6L527.3 1579.5L529.7 1580.1ZM552.5 1580.3L554.8 1575.2L555.7 1577.3L557.8 1578.4ZM588 1574.3L589.3 1572.2L589.5 1573.2L590.4 1573.8ZM134.1 1592.9L135.4 1592L135.3 1592.6L135.6 1593.2ZM167.5 1591.1L168.2 1591.2L168 1591.4L167.9 1591.6ZM196.5 1590.3L197.7 1590.4L197.3 1590.7L197.2 1591.2ZM255.8 1591.1L257.3 1590.8L257 1591.4L257.1 1592ZM289.8 1586L290.8 1587.7L290 1587.5L289.3 1587.9ZM317.2 1583.4L319.7 1585.8L318.3 1585.9L317.3 1586.9ZM342.1 1583.4L346.5 1585L344.8 1585.9L344 1587.7ZM382 1598.9L381.1 1596.9L382 1597.1L382.8 1596.8ZM409.6 1594.2L410.1 1593.3L410.3 1593.7L410.6 1593.9ZM436.2 1594.8L437.7 1593.1L437.8 1594L438.4 1594.7ZM464.7 1593.4L466.9 1591.9L466.7 1593L467.3 1594ZM490 1602L493.1 1596.7L493.8 1599.1L495.9 1600.4ZM262 1615L261.4 1614.9L261.6 1614.8L261.6 1614.5ZM288.1 1611.9L289.1 1612.2L288.7 1612.5L288.6 1612.9ZM315 1608.8L317.4 1609.6L316.5 1610.2L316.1 1611.1ZM340.9 1605.9L345.6 1607.2L343.9 1608.3L343.3 1610.2ZM376.4 1616.1L377.7 1614.8L377.7 1615.5L378.2 1616.1ZM411.9 1618.6L411.3 1617.2L411.9 1617.5L412.5 1617.3ZM438.3 1620.4L438.7 1617.9L439.3 1618.7L440.3 1619ZM466.4 1617.1L467.9 1615.4L468 1616.3L468.7 1617ZM499.1 1631.2L498 1624.8L500.3 1626.2L502.9 1625.9ZM149.2 1639.4L145.2 1639.7L146.2 1638.4L146.2 1636.8ZM174.9 1636L173.2 1636.7L173.5 1636L173.2 1635.3ZM228.6 1638.6L228.7 1637.6L228.9 1637.9L229.3 1638ZM262.9 1637L262 1637L262.2 1636.8L262.2 1636.4ZM285.8 1642.4L286.5 1639.8L287.1 1640.7L288.1 1641.1ZM317.2 1629.6L319.2 1631.1L318.2 1631.3L317.6 1632ZM342.1 1627.4L346.5 1629L344.8 1629.9L344 1631.7ZM370 1636L374 1634.3L373.4 1636L374 1637.7ZM404 1638.9L406 1637L406 1638.2L406.8 1639.1ZM440 1640.3L440.2 1638.7L440.6 1639.2L441.3 1639.3ZM464.7 1644.1L466.3 1640.2L467 1641.7L468.6 1642.5ZM495.7 1649.8L496.3 1644L497.8 1645.8L500.2 1646.1ZM130.6 1659.2L133 1657.8L132.8 1658.9L133.3 1659.9ZM162.9 1659.7L164.6 1658.4L164.5 1659.3L165 1660ZM190.8 1658.9L193.4 1657.5L193.1 1658.6L193.6 1659.7ZM222.2 1656.3L224.8 1655.8L224.2 1656.7L224.3 1657.8ZM255.8 1660.2L256.9 1659L257 1659.7L257.5 1660.1ZM280.7 1661.4L283.6 1658.8L283.6 1660.4L284.6 1661.7ZM311.5 1652.3L315.6 1652.9L314.3 1654L314 1655.6ZM372.6 1657.1L375.8 1656.1L375.2 1657.4L375.6 1658.7ZM409.1 1661.4L409.6 1660L409.9 1660.6L410.4 1660.8ZM460.7 1666.6L463.6 1662L464.2 1664.1L466 1665.4ZM496.9 1659.7L498.6 1658.4L498.5 1659.3L499 1660ZM126 1683.4L129.9 1680.4L129.7 1682.4L130.9 1684.1ZM159.8 1680.9L162.9 1679.2L162.5 1680.6L163.1 1681.9ZM191.9 1677.9L194.4 1677.6L193.8 1678.5L193.9 1679.5ZM220.5 1680.9L223.6 1679.2L223.2 1680.6L223.8 1681.9ZM251 1683.1L253.7 1680.7L253.7 1682.2L254.6 1683.4ZM287.6 1683.8L288 1682.3L288.3 1682.8L289 1683ZM317.9 1677.4L319.2 1677.8L318.7 1678.1L318.5 1678.6ZM345.5 1672.3L348.6 1674.1L347.2 1674.5L346.4 1675.7ZM380.8 1685.7L380.4 1683.9L381.1 1684.2L381.8 1684.1ZM410.2 1673.1L411.6 1674.9L410.6 1674.9L409.9 1675.4ZM431.1 1682.6L434.5 1680.1L434.3 1681.8L435.3 1683.3ZM467.6 1690.8L467.8 1686.4L469.1 1687.7L470.9 1687.9ZM136.3 1702L137.1 1701.7L137 1702L137.1 1702.3ZM170.1 1702L169.9 1702.1L169.9 1702L169.9 1701.9ZM195.3 1703.7L196.4 1702.7L196.4 1703.3L196.8 1703.7ZM227.4 1702L228.1 1701.7L228 1702L228.1 1702.3ZM261.3 1695.6L261.8 1697.7L261.1 1697.3L260.2 1697.4ZM292.4 1701.1L292 1701.6L291.9 1701.4L291.7 1701.2ZM323.6 1701.1L322.9 1701.7L322.9 1701.4L322.7 1701.1ZM353.1 1700.3L352.8 1701L352.6 1700.7L352.3 1700.6ZM381.7 1701.1L381.8 1701.4L381.7 1701.4L381.6 1701.4ZM412.1 1700.3L412.3 1700.8L412.1 1700.7L411.8 1700.8ZM444.1 1700.3L443.8 1701L443.7 1700.7L443.4 1700.6ZM472.2 1703.7L472.2 1703.1L472.4 1703.3L472.6 1703.3ZM502.1 1704.1L502.1 1703.3L502.3 1703.5L502.6 1703.6Z" fill="#000" stroke="#000" stroke-width="0.6" stroke-linejoin="round"/><rect x="200.6" y="1186.3" width="78.2" height="71.9" fill="#fff"/><text x="239.7" y="1241" font-size="52" text-anchor="middle">(g)</text><path d="M120 1167.2H799.2M120 1204.3H799.2M120 1222.8H799.2M120 1241.4H799.2M120 1260H799.2M120 1278.5H799.2M120 1315.6H799.2M120 1334.2H799.2M120 1352.8H799.2M120 1371.3H799.2M120 1389.9H799.2M120 1427H799.2M120 1445.6H799.2M120 1464.1H799.2M120 1482.7H799.2M120 1501.2H799.2M120 1538.4H799.2M120 1556.9H799.2M120 1575.5H799.2M120 1594H799.2M120 1612.6H799.2M120 1649.7H799.2M120 1668.3H799.2M120 1686.8H799.2" stroke="#8c8c80" stroke-width="1.3" stroke-dasharray="1.5 1.5" fill="none" opacity="0.55"/><path d="M165.3 1148.6V1705.4M255.8 1148.6V1705.4M301.1 1148.6V1705.4M346.4 1148.6V1705.4M391.7 1148.6V1705.4M482.2 1148.6V1705.4M527.5 1148.6V1705.4M572.8 1148.6V1705.4M618.1 1148.6V1705.4M708.6 1148.6V1705.4M753.9 1148.6V1705.4" stroke="#8c8c80" stroke-width="1.3" stroke-dasharray="1.5 1.5" fill="none" opacity="0.55"/><path d="M120 1185.7H799.2M120 1297.1H799.2M120 1408.4H799.2M120 1519.8H799.2M120 1631.2H799.2M210.6 1148.6V1705.4M437 1148.6V1705.4M663.4 1148.6V1705.4" stroke="#c9c9b0" stroke-width="1.3" fill="none" opacity="0.8"/><path d="M799.2 1517.3 L780 1523 L771.4 1519.3 L760 1518 L754.3 1522.3 L747 1529.3 L734 1531.6 L714.3 1533.7 L705.7 1538 L700 1542.3 L691.4 1545.2 L680 1548 L671.4 1544.3 L662.9 1543.7 L657 1545.9 L654 1540.3 L652.5 1538.8 L650.5 1541.3 L648.6 1545.3 L637 1548 L625.7 1553.7 L617 1558 L611.4 1562.3 L601.4 1569.3 L594.3 1575.2 L580 1580.2 L570 1582.5 L563.2 1585 L558.1 1587.6 L555.6 1591.8 L551.4 1596.9 L548.8 1602.8 L546.3 1607.9 L543.7 1613 L539.5 1611.3 L535.3 1613.8 L533.1 1612.1 L534.4 1606.2 L531.4 1600.3 L534.4 1588.4 L531 1587.1 L525.9 1590.9 L520.8 1600.3 L516.6 1607.9 L511.9 1614.7 L512.4 1620.6 L517.5 1624 L520 1630.8 L517.5 1635.9 L518.3 1642.6 L517.5 1649.4 L510.7 1654.5 L505.6 1660.4 L503 1665.5 L501.4 1671.5 L500.5 1678.2 L500.5 1686.7 L506.4 1692.6 L510.7 1697.7 L511.5 1702 L512.8 1705.4" fill="none" stroke="#000" stroke-width="1.7" stroke-linejoin="round"/><ellipse cx="590.5" cy="1549.3" rx="3.2" ry="4.8" transform="rotate(20 590.5 1549.3)" fill="none" stroke="#000" stroke-width="1.8"/><ellipse cx="435.2" cy="1452.6" rx="25.2" ry="21.1" fill="none" stroke="#fff" stroke-width="6.5"/><ellipse cx="435.2" cy="1452.6" rx="25.2" ry="21.1" fill="none" stroke="#000" stroke-width="4.1"/><path d="M438.3 1451 L386.1 1513.1" stroke="#000" stroke-width="6" fill="none"/><path d="M372 1530 L380.1 1503 L386.1 1513.1 L399.7 1516.9 Z" fill="#000"/></g><path d="M120 1148.6h4.5M799.2 1148.6h-4.5M120 1167.2h4.5M799.2 1167.2h-4.5M120 1185.7h8M799.2 1185.7h-8M120 1204.3h4.5M799.2 1204.3h-4.5M120 1222.8h4.5M799.2 1222.8h-4.5M120 1241.4h4.5M799.2 1241.4h-4.5M120 1260h4.5M799.2 1260h-4.5M120 1278.5h4.5M799.2 1278.5h-4.5M120 1297.1h8M799.2 1297.1h-8M120 1315.6h4.5M799.2 1315.6h-4.5M120 1334.2h4.5M799.2 1334.2h-4.5M120 1352.8h4.5M799.2 1352.8h-4.5M120 1371.3h4.5M799.2 1371.3h-4.5M120 1389.9h4.5M799.2 1389.9h-4.5M120 1408.4h8M799.2 1408.4h-8M120 1427h4.5M799.2 1427h-4.5M120 1445.6h4.5M799.2 1445.6h-4.5M120 1464.1h4.5M799.2 1464.1h-4.5M120 1482.7h4.5M799.2 1482.7h-4.5M120 1501.2h4.5M799.2 1501.2h-4.5M120 1519.8h8M799.2 1519.8h-8M120 1538.4h4.5M799.2 1538.4h-4.5M120 1556.9h4.5M799.2 1556.9h-4.5M120 1575.5h4.5M799.2 1575.5h-4.5M120 1594h4.5M799.2 1594h-4.5M120 1612.6h4.5M799.2 1612.6h-4.5M120 1631.2h8M799.2 1631.2h-8M120 1649.7h4.5M799.2 1649.7h-4.5M120 1668.3h4.5M799.2 1668.3h-4.5M120 1686.8h4.5M799.2 1686.8h-4.5M120 1705.4h4.5M799.2 1705.4h-4.5M165.3 1705.4v-4.5M165.3 1148.6v4.5M210.6 1705.4v-8M210.6 1148.6v8M255.8 1705.4v-4.5M255.8 1148.6v4.5M301.1 1705.4v-4.5M301.1 1148.6v4.5M346.4 1705.4v-4.5M346.4 1148.6v4.5M391.7 1705.4v-4.5M391.7 1148.6v4.5M437 1705.4v-8M437 1148.6v8M482.2 1705.4v-4.5M482.2 1148.6v4.5M527.5 1705.4v-4.5M527.5 1148.6v4.5M572.8 1705.4v-4.5M572.8 1148.6v4.5M618.1 1705.4v-4.5M618.1 1148.6v4.5M663.4 1705.4v-8M663.4 1148.6v8M708.6 1705.4v-4.5M708.6 1148.6v4.5M753.9 1705.4v-4.5M753.9 1148.6v4.5" stroke="#222" stroke-width="2" fill="none"/><rect x="120" y="1148.6" width="679.2" height="556.8" fill="none" stroke="#161616" stroke-width="2.1"/><g clip-path="url(#clip_h)"><rect x="838.6" y="1148.6" width="679.2" height="556.8" fill="#fdfde0"/><ellipse cx="1158" cy="1462" rx="75" ry="64" fill="#e6f4ae" opacity="0.9" filter="url(#bl13)"/><ellipse cx="1160" cy="1462" rx="46" ry="40" fill="#b6df93" opacity="0.85" filter="url(#bl7)"/><ellipse cx="1160" cy="1461" rx="35" ry="30" fill="none" stroke="#6cbd70" stroke-width="9" opacity="0.9" filter="url(#bl3)"/><ellipse cx="1165" cy="1456" rx="24" ry="19" fill="#1f7f40" opacity="0.95" filter="url(#bl3)"/><ellipse cx="1156" cy="1468" rx="18" ry="10" fill="#fbfde0" opacity="1" filter="url(#bl3)"/><path d="M1517.8 1517.3 L1498.6 1523 L1490 1519.3 L1478.6 1518 L1472.9 1522.3 L1465.6 1529.3 L1452.6 1531.6 L1432.9 1533.7 L1424.3 1538 L1418.6 1542.3 L1410 1545.2 L1398.6 1548 L1390 1544.3 L1381.5 1543.7 L1375.6 1545.9 L1372.6 1540.3 L1371.1 1538.8 L1369.1 1541.3 L1367.2 1545.3 L1355.6 1548 L1344.3 1553.7 L1335.6 1558 L1330 1562.3 L1320 1569.3 L1312.9 1575.2 L1298.6 1580.2 L1288.6 1582.5 L1281.8 1585 L1276.7 1587.6 L1274.2 1591.8 L1270 1596.9 L1267.4 1602.8 L1264.9 1607.9 L1262.3 1613 L1258.1 1611.3 L1253.9 1613.8 L1251.7 1612.1 L1253 1606.2 L1250 1600.3 L1253 1588.4 L1249.6 1587.1 L1244.5 1590.9 L1239.4 1600.3 L1235.2 1607.9 L1230.5 1614.7 L1231 1620.6 L1236.1 1624 L1238.6 1630.8 L1236.1 1635.9 L1236.9 1642.6 L1236.1 1649.4 L1229.3 1654.5 L1224.2 1660.4 L1221.6 1665.5 L1220 1671.5 L1219.1 1678.2 L1219.1 1686.7 L1225 1692.6 L1229.3 1697.7 L1230.1 1702 L1231.4 1705.4 L1517.8 1707.4 L1519.8 1517.3 Z" fill="#fff" stroke="#fff" stroke-width="5" stroke-linejoin="round"/><path d="M862.6 1166.6 l3 -1.5 l3 0.5 l1 1.5 l-1.5 0.3 l1.2 2.2 l-1.8 1.2 l-1.5 -1.8 l-2.5 -0.4 z" fill="none" stroke="#000" stroke-width="1.6"/><path d="M857.5 1152L853.7 1152.9M887.9 1152L888.2 1150.1M918.2 1152L919.1 1150.1M948.6 1152L949.8 1150.1M978.9 1152L982.6 1152.4M1009.2 1152L1014.7 1156.6M1039.6 1152L1047.5 1151.1M1070 1152L1071.1 1150.1M1100.3 1152L1101.8 1150.1M1130.7 1152L1137.5 1150.5M1161 1152L1170 1152.6M1191.3 1152L1201.1 1152M1221.7 1152L1226.2 1150.1M1252 1152L1254 1150.1M1282.4 1152L1283 1150.1M1312.8 1152L1314 1150.1M1343.1 1152L1351 1154.2M1373.5 1152L1380.4 1154.2M1403.8 1152L1411 1153M1434.2 1152L1439.9 1154M1464.5 1152L1465.1 1150.1M1494.8 1152l0.5 0M857.5 1174L854.9 1171.4M887.9 1174L885 1172.1M918.2 1174L915.3 1170.8M948.6 1174L946.6 1169.5M978.9 1174L978.1 1170.4M1009.2 1174L1013.3 1174.6M1039.6 1174L1045.4 1172.5M1070 1174L1074.9 1172.5M1100.3 1174L1104.6 1168.9M1130.7 1174L1135.9 1169.9M1161 1174L1167.4 1172.2M1191.3 1174L1197.9 1170.7M1221.7 1174L1230.3 1168.3M1252 1174L1260.8 1167.9M1282.4 1174L1285.2 1172.7M1312.8 1174l0.5 0M1343.1 1174l0.5 0M1373.5 1174L1374.2 1176.8M1403.8 1174L1407 1177.6M1434.2 1174L1441.5 1174.4M1464.5 1174L1469 1174.8M1494.8 1174l0.5 0M857.5 1196L854.3 1194M887.9 1196L884.1 1196.4M918.2 1196L916.3 1193.1M1009.2 1196l0.5 0M1039.6 1196L1042.4 1194.3M1070 1196L1076.5 1192.6M1100.3 1196L1105.8 1191.1M1130.7 1196L1140.3 1193.2M1161 1196L1167.6 1194.4M1191.3 1196L1196.1 1192.4M1221.7 1196L1224.3 1192.2M1252 1196L1254.4 1195.7M1282.4 1196L1283 1198.3M1312.8 1196L1316.6 1196.6M1343.1 1196L1349.2 1196.6M1373.5 1196L1380 1196.7M1403.8 1196L1411.4 1197.2M1434.2 1196L1438.2 1196M1464.5 1196L1469.6 1196.3M1494.8 1196l0.5 0M857.5 1218L856 1215.4M887.9 1218l0.5 0M918.2 1218L915.3 1215.4M1009.2 1218L1008.9 1215.8M1039.6 1218L1039 1215.8M1070 1218L1072.8 1215.4M1100.3 1218L1103.5 1214.8M1130.7 1218L1130.8 1215.4M1161 1218l0.5 0M1191.3 1218L1192.2 1216.1M1221.7 1218L1222.2 1215.2M1252 1218L1255.3 1215.2M1282.4 1218L1285.2 1217.2M1312.8 1218L1320.9 1217.6M1343.1 1218L1351.7 1221.3M1373.5 1218L1386.9 1223.7M1403.8 1218L1417.1 1223.4M1434.2 1218L1443.9 1221.9M1464.5 1218L1471.8 1221.7M1494.8 1218L1499.3 1219.3M857.5 1240L857.5 1236.9M887.9 1240L889.3 1236.5M918.2 1240L919.1 1237.2M1009.2 1240L1006.9 1237.4M1039.6 1240L1038.3 1237.8M1070 1240L1071.5 1234M1100.3 1240L1104.8 1235.9M1130.7 1240L1137.9 1236.3M1161 1240L1165.4 1238.2M1191.3 1240l0.5 0M1221.7 1240L1223.2 1237.2M1252 1240L1250.8 1242.3M1282.4 1240L1287.1 1238.7M1312.8 1240L1324.6 1240M1343.1 1240L1358 1239M1373.5 1240L1387.7 1240.9M1403.8 1240L1411.4 1241.7M1434.2 1240L1443.9 1244.9M1464.5 1240L1471.2 1240M1494.8 1240l0.5 0M857.5 1262L848.3 1255.9M887.9 1262L885.9 1257.3M918.2 1262l0.5 0M948.6 1262L949.2 1261.5M978.9 1262L982 1260.7M1009.2 1262L1005.7 1263.7M1039.6 1262L1037 1260.1M1070 1262L1067.3 1256.9M1100.3 1262L1100.9 1254.4M1130.7 1262L1136.9 1257.1M1161 1262L1169.4 1259.6M1191.3 1262L1195.2 1260.7M1221.7 1262L1224.8 1266.5M1252 1262L1254.6 1262.4M1282.4 1262L1288.8 1260.2M1312.8 1262L1320.7 1263.2M1343.1 1262L1349.5 1260.3M1373.5 1262L1380.4 1259.6M1403.8 1262L1407.3 1263.7M1434.2 1262L1437.7 1261.1M1464.5 1262l0.5 0M1494.8 1262L1495.5 1263.3M857.5 1284L857.2 1278.9M887.9 1284L886 1276.7M918.2 1284L918.8 1280.4M948.6 1284L949.5 1277.3M978.9 1284l0.5 0M1009.2 1284L1006.7 1287.8M1039.6 1284L1033.5 1286.1M1070 1284L1060.1 1279.1M1100.3 1284L1093.8 1275M1130.7 1284L1127.7 1276.4M1161 1284L1161 1280.8M1191.3 1284l0.5 0M1221.7 1284L1228.1 1284.4M1252 1284L1258.8 1284M1282.4 1284L1287.7 1285.3M1312.8 1284L1319.3 1286M1343.1 1284L1341.9 1286.3M1373.5 1284l0.5 0M1403.8 1284l0.5 0M1434.2 1284l0.5 0M1464.5 1284L1462.5 1286.6M1494.8 1284L1492.9 1281.4M857.5 1306L859.4 1304.7M887.9 1306L885.4 1301.3M918.2 1306L919.1 1302.8M948.6 1306L945.3 1304.7M978.9 1306L975.8 1305.1M1009.2 1306L1005.7 1308.6M1039.6 1306L1037 1308.6M1070 1306L1066.5 1296.8M1100.3 1306L1098.7 1293.8M1130.7 1306L1128.6 1297.7M1161 1306L1159.2 1302.8M1191.3 1306l0.5 0M1221.7 1306L1228.1 1304.3M1252 1306L1256.9 1306M1282.4 1306L1285.5 1310.7M1312.8 1306L1315.7 1312.1M1343.1 1306L1342.8 1311.6M1373.5 1306L1371.7 1310.7M1403.8 1306L1406.6 1307.8M1434.2 1306L1439.7 1307.5M1464.5 1306L1468.5 1310.4M1494.8 1306l0.5 0M857.5 1328L859 1330.6M887.9 1328L888.2 1325.7M918.2 1328L919.1 1324.8M948.6 1328l0.5 0M978.9 1328l0.5 0M1009.2 1328L1010.5 1329M1039.6 1328L1045.1 1329.5M1070 1328L1079.2 1322.1M1100.3 1328L1105.3 1320.7M1130.7 1328L1134.2 1321.4M1161 1328L1168.1 1325.3M1191.3 1328L1197.9 1327.3M1221.7 1328L1224.4 1325.1M1252 1328L1249.2 1324.1M1282.4 1328L1280.4 1331.5M1312.8 1328L1312.9 1336.9M1343.1 1328L1339.6 1335.6M1373.5 1328L1370.3 1334.1M1403.8 1328l0.5 0M1434.2 1328L1439.9 1326.3M1464.5 1328L1472 1330.1M1494.8 1328L1499.3 1329.3M857.5 1350l0.5 0M887.9 1350L888.5 1350.6M918.2 1350L918.4 1342.7M948.6 1350L951.8 1347.1M978.9 1350L979.9 1348.5M1009.2 1350L1013.3 1346.5M1039.6 1350L1045.9 1347.1M1070 1350L1079.8 1344.3M1100.3 1350L1107.9 1341.7M1130.7 1350L1137 1342.7M1161 1350L1168 1342.7M1191.3 1350L1197.2 1344.8M1221.7 1350L1230 1346.2M1252 1350L1253.1 1344M1282.4 1350L1276.1 1351.3M1312.8 1350L1310.3 1356.2M1343.1 1350L1346.9 1359.8M1373.5 1350L1375.2 1355.1M1403.8 1350L1407.4 1347.8M1434.2 1350L1437.7 1347.1M1464.5 1350L1467.2 1353.8M1494.8 1350L1496.4 1353.2M857.5 1372L860.7 1369.1M887.9 1372L892.1 1370.3M918.2 1372L921.3 1365.9M948.6 1372L945.7 1368.2M978.9 1372L978.4 1369.1M1009.2 1372L1010.1 1366.5M1039.6 1372L1042.5 1366M1070 1372L1073.5 1366.6M1100.3 1372L1104.4 1365.3M1130.7 1372L1135.6 1365M1161 1372L1167.2 1363.7M1191.3 1372L1195.8 1365M1221.7 1372L1231.4 1363.4M1252 1372L1256 1366.3M1282.4 1372L1276.5 1370M1312.8 1372L1305.8 1374.2M1343.1 1372L1339.4 1373.9M1373.5 1372L1374.9 1376.5M1403.8 1372L1406.4 1373.7M1434.2 1372L1436.5 1372.4M1464.5 1372L1463.3 1376.5M1494.8 1372L1492.9 1374.6M857.5 1394L860.1 1390.8M887.9 1394L888.5 1390.5M918.2 1394L915.9 1391.2M948.6 1394L945 1393.1M978.9 1394L976.9 1391.2M1009.2 1394L1008.3 1386.2M1039.6 1394L1037 1387.8M1070 1394L1065.9 1388.3M1100.3 1394L1097.7 1384.5M1130.7 1394L1133.2 1385.4M1161 1394L1168.3 1384.3M1191.3 1394L1207.9 1385.9M1221.7 1394L1236.2 1384.9M1252 1394L1258.1 1386.4M1282.4 1394L1279.3 1390.5M1312.8 1394L1308.2 1389.2M1343.1 1394L1339.4 1395M1373.5 1394L1370.4 1398.2M1403.8 1394l0.5 0M1434.2 1394L1430.9 1397.6M1464.5 1394L1461.2 1396.9M1494.8 1394l0.5 0M857.5 1416L853 1412.2M887.9 1416L881.9 1411.1M918.2 1416L913.3 1414.1M948.6 1416l0.5 0M978.9 1416L983.3 1412.8M1009.2 1416L1008.6 1410.9M1039.6 1416L1039.5 1409.6M1070 1416L1070 1408.5M1100.3 1416L1099.2 1407.8M1130.7 1416L1132.3 1404.7M1161 1416L1174.3 1406.9M1191.3 1416L1216.9 1412M1221.7 1416L1240.1 1410.8M1252 1416L1258.1 1409.7M1282.4 1416L1281.5 1411.1M1312.8 1416L1310.5 1411.8M1343.1 1416L1336.7 1418.4M1373.5 1416L1371.7 1417.3M1403.8 1416L1404.4 1419.2M1434.2 1416L1432.6 1418.3M1464.5 1416L1463.7 1418.6M1494.8 1416L1496.8 1417.5M857.5 1438L851.1 1436.5M887.9 1438L881.6 1436.1M918.2 1438L912.3 1434.3M948.6 1438L945.3 1434.8M978.9 1438L980.1 1433.9M1009.2 1438L1012.1 1434.8M1039.6 1438L1038.3 1431.5M1070 1438L1068 1429.6M1100.3 1438L1094.9 1429.6M1130.7 1438L1131.3 1428.2M1161 1438L1168.6 1438.5M1191.3 1438L1213.4 1444.7M1221.7 1438L1235.7 1442.5M1252 1438L1259.5 1436.3M1282.4 1438L1287.1 1435M1312.8 1438L1314.2 1437.5M1343.1 1438L1344.1 1440M1373.5 1438l0.5 0M1403.8 1438l0.5 0M1434.2 1438L1436.1 1440.9M1464.5 1438L1467.6 1439.7M1494.8 1438L1498.1 1439M857.5 1460L851.7 1460.3M887.9 1460L881.9 1456.1M918.2 1460L913.9 1454.5M948.6 1460L947 1455.9M978.9 1460L976.2 1456.8M1009.2 1460L1006.9 1458.1M1039.6 1460L1036.5 1454.6M1070 1460L1063.8 1453M1100.3 1460L1094.2 1451M1130.7 1460L1121.5 1451.7M1161 1460L1155.3 1471.7M1191.3 1460L1197.7 1480.6M1221.7 1460L1230 1468.6M1252 1460L1262.6 1461.2M1282.4 1460L1287.8 1459.6M1312.8 1460L1314.9 1461.8M1343.1 1460L1344.8 1461.7M1373.5 1460L1377.4 1462.2M1403.8 1460L1404.1 1461.7M1434.2 1460L1435.6 1461.7M1464.5 1460L1464 1461.3M1494.8 1460l0.5 0M857.5 1482L859.4 1483.9M887.9 1482L885 1478.8M918.2 1482L914.8 1475.3M948.6 1482L945.7 1476.9M978.9 1482L974.9 1477.5M1009.2 1482L1003.5 1481.2M1039.6 1482L1035.2 1479.2M1070 1482L1065.7 1477.2M1100.3 1482L1093 1475.9M1130.7 1482L1113.2 1476.9M1161 1482L1139.7 1492.3M1191.3 1482L1188.4 1498.6M1221.7 1482L1230.9 1493.8M1252 1482L1263.1 1488.6M1282.4 1482L1287.1 1485.2M1312.8 1482L1313.9 1484.9M1343.1 1482L1339.4 1484.8M1373.5 1482L1372.3 1484.6M1403.8 1482L1401.9 1484.6M1434.2 1482L1430.7 1484.3M1464.5 1482L1461.4 1483.5M1494.8 1482L1493.8 1483.5M857.5 1504L864.8 1506.7M887.9 1504L893 1504.5M918.2 1504L919.1 1499.5M948.6 1504L947 1500.5M978.9 1504L973 1503.1M1009.2 1504L1003.7 1501.8M1039.6 1504L1034.5 1500.2M1070 1504L1066.3 1500.2M1100.3 1504L1094.1 1503M1130.7 1504L1124.2 1504.8M1161 1504L1151.5 1509.7M1191.3 1504L1187.9 1514.5M1221.7 1504L1225.2 1514M1252 1504L1257.2 1512.8M1282.4 1504L1284.4 1510.5M1312.8 1504L1310.8 1509M1343.1 1504L1337.6 1507.3M1373.5 1504L1370.6 1505.8M1403.8 1504L1401.2 1506.8M1434.2 1504L1431.3 1506.6M1464.5 1504l0.5 0M1494.8 1504L1492.5 1506.6M857.5 1526l0.5 0M887.9 1526L893.6 1527.5M918.2 1526L919.7 1526.4M948.6 1526L948.6 1527M978.9 1526L975.6 1528.6M1009.2 1526L1002.7 1527.3M1039.6 1526L1032.8 1522.7M1070 1526L1065.2 1521.7M1100.3 1526L1097.7 1524.7M1130.7 1526L1123.4 1530.3M1161 1526L1153.9 1530.8M1191.3 1526L1187.8 1529M1221.7 1526L1222.2 1524M1252 1526L1253.8 1532.2M1282.4 1526L1282.1 1532.5M1312.8 1526L1310 1530.5M1343.1 1526L1339.9 1529.1M1373.5 1526L1370.4 1527.8M1403.8 1526L1400.6 1528.2M1434.2 1526L1429.7 1528.2M857.5 1548L852.4 1546.7M887.9 1548L884.1 1549.3M918.2 1548L918.8 1547.5M948.6 1548L949.2 1546.5M978.9 1548L975.7 1553.7M1009.2 1548L1005.3 1549.3M1039.6 1548L1038.3 1544.9M1070 1548L1066.9 1544.2M1100.3 1548L1096.1 1549M1130.7 1548L1125.9 1552.4M1161 1548L1157 1550M1191.3 1548l0.5 0M1221.7 1548l0.5 0M1252 1548L1252.3 1556.1M1282.4 1548L1281.7 1560.6M1343.1 1548L1337.6 1551.7M857.5 1570L851.4 1570M887.9 1570L880.6 1569.8M918.2 1570L912.1 1569.4M948.6 1570L940.6 1567.6M978.9 1570L975.6 1573.2M1009.2 1570l0.5 0M1039.6 1570L1042.4 1566.2M1070 1570L1074.7 1565.4M1100.3 1570L1099.9 1573.2M1130.7 1570L1128.2 1572.2M1161 1570L1159.6 1572.9M1191.3 1570L1186.6 1569.2M1221.7 1570L1214 1572.4M1252 1570L1245.9 1579.5M1282.4 1570L1274.3 1577.3M1312.8 1570L1308.1 1573.2M857.5 1592L853.9 1592.6M887.9 1592L886.6 1591.4M918.2 1592L915.9 1590.7M948.6 1592l0.5 0M978.9 1592L975.6 1591.4M1009.2 1592L1008.6 1587.5M1039.6 1592L1036.9 1585.9M1070 1592L1063.4 1585.9M1100.3 1592L1100.6 1597.1M1130.7 1592L1128.9 1593.7M1161 1592L1156.4 1594M1191.3 1592L1185.3 1593M1221.7 1592L1212.4 1599.1M857.5 1614l0.5 0M887.9 1614l0.5 0M918.2 1614l0.5 0M948.6 1614l0.5 0M978.9 1614L980.2 1614.8M1009.2 1614L1007.3 1612.5M1039.6 1614L1035.1 1610.2M1070 1614L1062.5 1608.3M1100.3 1614L1096.3 1615.5M1130.7 1614L1130.5 1617.5M1161 1614L1157.9 1618.7M1191.3 1614L1186.6 1616.3M1221.7 1614L1218.9 1626.2M857.5 1636L864.8 1638.4M887.9 1636L892.1 1636M918.2 1636l0.5 0M948.6 1636L947.5 1637.9M978.9 1636L980.8 1636.8M1009.2 1636L1005.7 1640.7M1039.6 1636L1036.8 1631.3M1070 1636L1063.4 1629.9M1100.3 1636L1092 1636M1130.7 1636L1124.6 1638.2M1161 1636L1159.2 1639.2M1191.3 1636L1185.6 1641.7M1221.7 1636L1216.4 1645.8M857.5 1658L851.4 1658.9M887.9 1658L883.1 1659.3M918.2 1658L911.7 1658.6M948.6 1658L942.8 1656.7M978.9 1658L975.6 1659.7M1009.2 1658L1002.2 1660.4M1039.6 1658L1032.9 1654M1070 1658l0.5 0M1100.3 1658L1093.8 1657.4M1130.7 1658L1128.5 1660.6M1161 1658l0.5 0M1191.3 1658L1182.8 1664.1M1221.7 1658L1217.1 1659.3M857.5 1680L848.3 1682.4M887.9 1680L881.1 1680.6M918.2 1680L912.4 1678.5M948.6 1680L941.8 1680.6M978.9 1680L972.3 1682.2M1009.2 1680L1006.9 1682.8M1039.6 1680L1037.3 1678.1M1070 1680L1065.8 1674.5M1100.3 1680L1099.7 1684.2M1130.7 1680L1129.2 1674.9M1161 1680L1152.9 1681.8M1191.3 1680L1187.7 1687.7M857.5 1702L855.6 1702M887.9 1702L888.5 1702M918.2 1702L915 1703.3M948.6 1702L946.6 1702M978.9 1702L979.7 1697.3M1009.2 1702L1010.5 1701.4M1039.6 1702L1041.5 1701.4M1070 1702L1071.2 1700.7M1100.3 1702L1100.3 1701.4M1130.7 1702L1130.7 1700.7M1161 1702L1162.3 1700.7M1191.3 1702L1191 1703.3M1221.7 1702L1220.9 1703.5" stroke="#000" stroke-width="2" fill="none" stroke-linecap="round"/><path d="M852.3 1153.2L853.7 1152.2L853.7 1152.9L854 1153.5ZM888.4 1149.4L888.5 1150.3L888.2 1150.1L887.9 1150.1ZM919.4 1149.4L919.4 1150.3L919.1 1150.1L918.7 1150ZM950.3 1149.4L950.1 1150.4L949.8 1150.1L949.4 1150ZM983.9 1152.5L982.3 1153L982.6 1152.4L982.5 1151.7ZM1017 1158.5L1013.4 1157.4L1014.7 1156.6L1015.3 1155.2ZM1050.8 1150.8L1047.1 1152.8L1047.5 1151.1L1046.8 1149.6ZM1071.5 1149.4L1071.4 1150.4L1071.1 1150.1L1070.7 1150ZM1102.4 1149.4L1102.1 1150.5L1101.8 1150.1L1101.4 1149.9ZM1140.3 1149.9L1137.3 1152L1137.5 1150.5L1136.7 1149.3ZM1173.7 1152.9L1169.3 1154.4L1170 1152.6L1169.5 1150.8ZM1205.1 1152L1200.4 1154L1201.1 1152L1200.4 1150ZM1227.7 1149.4L1226.2 1151L1226.2 1150.1L1225.6 1149.4ZM1254.6 1149.4L1254.2 1150.5L1254 1150.1L1253.5 1149.9ZM1283.3 1149.4L1283.3 1150.3L1283 1150.1L1282.7 1150.1ZM1314.5 1149.4L1314.3 1150.4L1314 1150.1L1313.6 1150ZM1354.3 1155.1L1350 1155.6L1351 1154.2L1350.9 1152.4ZM1383.2 1155.1L1379.5 1155.4L1380.4 1154.2L1380.4 1152.6ZM1413.9 1153.4L1410.3 1154.4L1411 1153L1410.7 1151.5ZM1441.9 1154.8L1439.2 1154.9L1439.9 1154L1439.9 1153ZM1465.4 1149.4L1465.4 1150.3L1465.1 1150.1L1464.8 1150.1ZM854.1 1170.6L855.5 1171.2L854.9 1171.4L854.7 1172ZM884.1 1171.4L885.5 1171.7L885 1172.1L884.9 1172.7ZM914.2 1169.7L916 1170.5L915.3 1170.8L914.9 1171.5ZM946 1168L947.5 1169.5L946.6 1169.5L946 1170.1ZM977.9 1169.2L978.8 1170.5L978.1 1170.4L977.6 1170.8ZM1014.8 1174.9L1013 1175.3L1013.3 1174.6L1013.2 1173.9ZM1047.3 1171.9L1045.3 1173.5L1045.4 1172.5L1044.8 1171.6ZM1076.7 1171.9L1074.9 1173.4L1074.9 1172.5L1074.4 1171.7ZM1106.3 1166.8L1105.3 1170.1L1104.6 1168.9L1103.2 1168.4ZM1137.7 1168.5L1136.3 1171L1135.9 1169.9L1134.9 1169.3ZM1169.9 1171.4L1167.3 1173.6L1167.4 1172.2L1166.5 1171ZM1200.6 1169.4L1198.1 1172.3L1197.9 1170.7L1196.8 1169.6ZM1233.7 1165.9L1230.8 1170.4L1230.3 1168.3L1228.5 1167ZM1264.4 1165.4L1261.4 1170.1L1260.8 1167.9L1259 1166.6ZM1286.2 1172.3L1285.3 1173.3L1285.2 1172.7L1284.8 1172.3ZM1374.5 1177.8L1373.7 1176.8L1374.2 1176.8L1374.6 1176.5ZM1408.1 1178.8L1406.2 1177.9L1407 1177.6L1407.4 1176.8ZM1444.5 1174.5L1440.9 1175.8L1441.5 1174.4L1441 1172.9ZM1470.5 1175L1468.6 1175.5L1469 1174.8L1468.8 1174ZM853.2 1193.2L854.8 1193.5L854.3 1194L854.1 1194.6ZM882.9 1196.5L884.3 1195.7L884.1 1196.4L884.4 1197ZM915.6 1192L916.9 1192.9L916.3 1193.1L915.9 1193.6ZM1043.4 1193.8L1042.5 1194.9L1042.4 1194.3L1042 1194ZM1079.2 1191.2L1076.8 1194.1L1076.5 1192.6L1075.4 1191.5ZM1108 1189.1L1106.4 1192.6L1105.8 1191.1L1104.4 1190.4ZM1144.2 1192L1140.2 1195.3L1140.3 1193.2L1139 1191.5ZM1170.3 1193.8L1167.4 1195.9L1167.6 1194.4L1166.8 1193.2ZM1197.7 1191.2L1196.4 1193.4L1196.1 1192.4L1195.2 1191.8ZM1225.1 1190.8L1224.8 1192.8L1224.3 1192.2L1223.5 1192ZM1255.1 1195.7L1254.3 1196.1L1254.4 1195.7L1254.2 1195.4ZM1283.3 1199.1L1282.6 1198.3L1283 1198.3L1283.4 1198.1ZM1317.9 1196.9L1316.3 1197.3L1316.6 1196.6L1316.5 1196ZM1351.4 1196.9L1348.8 1197.6L1349.2 1196.6L1349 1195.6ZM1382.7 1197L1379.4 1198L1380 1196.7L1379.7 1195.4ZM1414.5 1197.7L1410.6 1198.7L1411.4 1197.2L1411.1 1195.6ZM1439.7 1196L1438 1196.7L1438.2 1196L1438 1195.3ZM1471.4 1196.3L1469.3 1197.1L1469.6 1196.3L1469.4 1195.4ZM855.4 1214.6L856.5 1215.3L856 1215.4L855.6 1215.9ZM914.2 1214.6L915.9 1215.1L915.3 1215.4L915 1216.1ZM1008.7 1215.1L1009.3 1215.9L1008.9 1215.8L1008.5 1216ZM1038.7 1215.1L1039.4 1215.8L1039 1215.8L1038.6 1216.1ZM1073.7 1214.6L1073 1216.1L1072.8 1215.4L1072.2 1215.1ZM1104.6 1213.7L1103.8 1215.5L1103.5 1214.8L1102.8 1214.5ZM1130.8 1214.6L1131.2 1215.6L1130.8 1215.4L1130.3 1215.6ZM1192.6 1215.4L1192.5 1216.3L1192.2 1216.1L1191.9 1216ZM1222.4 1214.2L1222.7 1215.4L1222.2 1215.2L1221.7 1215.3ZM1256.3 1214.2L1255.5 1215.9L1255.3 1215.2L1254.6 1214.8ZM1286.2 1217L1285.2 1217.8L1285.2 1217.2L1284.9 1216.8ZM1324.3 1217.5L1320.4 1219.3L1320.9 1217.6L1320.3 1216ZM1355.1 1222.6L1350.4 1222.8L1351.7 1221.3L1351.7 1219.3ZM1392.4 1226.1L1384.8 1226L1386.9 1223.7L1387.1 1220.6ZM1422.5 1225.6L1415.1 1225.7L1417.1 1223.4L1417.2 1220.3ZM1447.9 1223.5L1442.4 1223.6L1443.9 1221.9L1444 1219.7ZM1474.8 1223.2L1470.6 1222.9L1471.8 1221.7L1472 1219.9ZM1500.9 1219.7L1498.8 1220L1499.3 1219.3L1499.3 1218.4ZM857.5 1235.9L858 1237.1L857.5 1236.9L857 1237.1ZM889.7 1235.4L889.8 1237L889.3 1236.5L888.6 1236.5ZM919.4 1236.2L919.5 1237.5L919.1 1237.2L918.6 1237.2ZM1006.2 1236.6L1007.5 1237.2L1006.9 1237.4L1006.7 1238ZM1037.9 1237.1L1038.8 1237.7L1038.3 1237.8L1038 1238.2ZM1072 1231.9L1072.4 1234.6L1071.5 1234L1070.4 1234.1ZM1106.3 1234.5L1105.2 1236.9L1104.8 1235.9L1103.8 1235.4ZM1140.8 1234.8L1138.1 1238L1137.9 1236.3L1136.6 1235.1ZM1166.8 1237.6L1165.4 1239.1L1165.4 1238.2L1164.8 1237.6ZM1223.8 1236.2L1223.6 1237.6L1223.2 1237.2L1222.7 1237.1ZM1250.3 1243.1L1250.5 1241.9L1250.8 1242.3L1251.2 1242.4ZM1288.8 1238.3L1287.1 1239.6L1287.1 1238.7L1286.6 1238ZM1329.4 1240L1323.8 1242.4L1324.6 1240L1323.8 1237.6ZM1364.1 1238.6L1357.1 1242.1L1358 1239L1356.7 1236.1ZM1393.6 1241.2L1386.6 1243.7L1387.7 1240.9L1386.9 1237.9ZM1414.5 1242.4L1410.5 1243.1L1411.4 1241.7L1411.2 1240.1ZM1447.9 1246.9L1442.2 1246.5L1443.9 1244.9L1444.2 1242.6ZM1474 1240L1470.7 1241.3L1471.2 1240L1470.7 1238.7ZM844.6 1253.4L850.2 1254.5L848.3 1255.9L847.8 1258.2ZM885.3 1255.6L886.8 1257.2L885.9 1257.3L885.2 1257.9ZM949.4 1261.3L949.2 1261.6L949.2 1261.5L949.1 1261.4ZM983 1260.3L982 1261.3L982 1260.7L981.6 1260.3ZM1004.4 1264.2L1005.6 1263L1005.7 1263.7L1006.2 1264.2ZM1036.2 1259.4L1037.5 1259.8L1037 1260.1L1036.9 1260.6ZM1066.3 1255.1L1068.3 1256.7L1067.3 1256.9L1066.6 1257.6ZM1101.2 1251.3L1102.4 1255.1L1100.9 1254.4L1099.3 1254.8ZM1139.4 1255.1L1137.4 1258.7L1136.9 1257.1L1135.5 1256.2ZM1172.9 1258.6L1169.3 1261.4L1169.4 1259.6L1168.3 1258ZM1196.5 1260.3L1195.2 1261.4L1195.2 1260.7L1194.7 1260.1ZM1225.8 1268L1223.8 1266.7L1224.8 1266.5L1225.3 1265.7ZM1255.5 1262.5L1254.4 1262.8L1254.6 1262.4L1254.5 1261.9ZM1291.3 1259.4L1288.7 1261.6L1288.8 1260.2L1287.9 1259ZM1323.9 1263.7L1319.9 1264.7L1320.7 1263.2L1320.4 1261.5ZM1351.7 1259.8L1349.4 1261.5L1349.5 1260.3L1348.8 1259.4ZM1383.2 1258.6L1380.4 1261.1L1380.4 1259.6L1379.4 1258.3ZM1408.4 1264.2L1406.8 1264.1L1407.3 1263.7L1407.3 1263ZM1439 1260.8L1437.7 1261.8L1437.7 1261.1L1437.4 1260.6ZM1495.7 1263.7L1495.2 1263.3L1495.5 1263.3L1495.7 1263.1ZM857.2 1277.1L858.1 1279.1L857.2 1278.9L856.4 1279.2ZM885.3 1273.7L887.6 1276.8L886 1276.7L884.7 1277.6ZM919.1 1279.2L919.4 1280.7L918.8 1280.4L918.2 1280.5ZM949.9 1274.5L950.8 1278L949.5 1277.3L948.1 1277.6ZM1005.8 1289.2L1006.2 1287.2L1006.7 1287.8L1007.5 1288ZM1031 1286.9L1033.5 1284.7L1033.5 1286.1L1034.3 1287.2ZM1056 1277.1L1061.7 1277.5L1060.1 1279.1L1059.8 1281.5ZM1091.2 1271.3L1096.1 1274.3L1093.8 1275L1092.5 1276.9ZM1126.5 1273.3L1129.4 1276.4L1127.7 1276.4L1126.4 1277.6ZM1161 1279.7L1161.5 1281L1161 1280.8L1160.5 1281ZM1230.3 1284.5L1227.7 1285.4L1228.1 1284.4L1227.8 1283.3ZM1261.5 1284L1258.3 1285.3L1258.8 1284L1258.3 1282.7ZM1289.4 1285.7L1287.1 1286.1L1287.7 1285.3L1287.5 1284.3ZM1322 1286.8L1318.5 1287.1L1319.3 1286L1319.3 1284.5ZM1341.6 1287.1L1341.6 1286L1341.9 1286.3L1342.4 1286.4ZM1461.7 1287.4L1462.1 1286.1L1462.5 1286.6L1463 1286.8ZM1492.3 1280.6L1493.5 1281.3L1492.9 1281.4L1492.6 1281.9ZM860.1 1304.3L859.5 1305.1L859.4 1304.7L859.1 1304.5ZM884.6 1299.6L886.4 1301.1L885.4 1301.3L884.8 1302ZM919.4 1301.7L919.6 1303.1L919.1 1302.8L918.5 1302.8ZM944.3 1304.3L945.8 1304.3L945.3 1304.7L945.3 1305.3ZM974.8 1304.8L976.2 1304.6L975.8 1305.1L975.9 1305.7ZM1004.4 1309.4L1005.4 1307.8L1005.7 1308.6L1006.3 1309ZM1036.2 1309.4L1036.8 1308L1037 1308.6L1037.6 1308.8ZM1065.1 1293.1L1068.6 1296.8L1066.5 1296.8L1064.9 1298.2ZM1098.1 1288.8L1101.3 1294.3L1098.7 1293.8L1096.4 1295ZM1127.7 1294.3L1130.4 1297.9L1128.6 1297.7L1127.1 1298.7ZM1158.6 1301.7L1159.9 1302.7L1159.2 1302.8L1158.8 1303.3ZM1230.3 1303.8L1228 1305.5L1228.1 1304.3L1227.4 1303.4ZM1258.6 1306L1256.6 1306.8L1256.9 1306L1256.6 1305.2ZM1286.5 1312.4L1284.5 1311L1285.5 1310.7L1286.1 1309.9ZM1316.9 1314.6L1314.2 1312.3L1315.7 1312.1L1316.7 1311.1ZM1342.8 1313.6L1341.9 1311.3L1342.8 1311.6L1343.8 1311.3ZM1371 1312.4L1371 1310.1L1371.7 1310.7L1372.6 1310.8ZM1407.6 1308.4L1406.1 1308.2L1406.6 1307.8L1406.8 1307.2ZM1441.5 1308.1L1439.1 1308.4L1439.7 1307.5L1439.6 1306.5ZM1469.8 1311.8L1467.5 1310.8L1468.5 1310.4L1469 1309.4ZM859.6 1331.4L858.5 1330.7L859 1330.6L859.4 1330.1ZM888.4 1324.9L888.6 1325.9L888.2 1325.7L887.8 1325.8ZM919.4 1323.7L919.6 1325.1L919.1 1324.8L918.5 1324.8ZM1011 1329.4L1010.3 1329.2L1010.5 1329L1010.6 1328.7ZM1047 1330L1044.5 1330.3L1045.1 1329.5L1045 1328.5ZM1082.9 1319.7L1079.7 1324.4L1079.2 1322.1L1077.3 1320.7ZM1107.4 1317.7L1106.5 1322.2L1105.3 1320.7L1103.5 1320.2ZM1135.6 1318.8L1135.2 1322.6L1134.2 1321.4L1132.6 1321.2ZM1171 1324.2L1168.2 1327L1168.1 1325.3L1167.1 1324.1ZM1200.6 1327.1L1197.6 1328.7L1197.9 1327.3L1197.3 1326.1ZM1225.3 1324.1L1224.7 1325.7L1224.4 1325.1L1223.7 1324.8ZM1248.2 1322.8L1250 1323.9L1249.2 1324.1L1248.7 1324.8ZM1279.7 1332.7L1279.9 1330.9L1280.4 1331.5L1281.1 1331.6ZM1313 1340.5L1311.1 1336.3L1312.9 1336.9L1314.7 1336.2ZM1338.1 1338.7L1338.3 1334.3L1339.6 1335.6L1341.3 1335.7ZM1369 1336.6L1369.3 1333L1370.3 1334.1L1371.7 1334.3ZM1441.9 1325.8L1439.8 1327.4L1439.9 1326.3L1439.3 1325.5ZM1475 1330.9L1471 1331.4L1472 1330.1L1471.8 1328.4ZM1500.9 1329.7L1498.8 1330L1499.3 1329.3L1499.3 1328.4ZM888.7 1350.9L888.3 1350.7L888.5 1350.6L888.6 1350.5ZM918.5 1339.7L919.9 1343.2L918.4 1342.7L917 1343.1ZM952.8 1346L952.1 1347.8L951.8 1347.1L951.1 1346.7ZM980.3 1347.9L980.1 1348.7L979.9 1348.5L979.6 1348.4ZM1014.8 1345.4L1013.7 1347.4L1013.3 1346.5L1012.5 1346.1ZM1048.4 1346L1046 1348.6L1045.9 1347.1L1044.9 1346.1ZM1083.8 1342L1080.2 1346.7L1079.8 1344.3L1077.9 1342.7ZM1111 1338.3L1109 1343.8L1107.9 1341.7L1105.7 1340.8ZM1139.6 1339.7L1138 1344.5L1137 1342.7L1135.1 1341.9ZM1170.8 1339.7L1168.9 1344.6L1168 1342.7L1166 1341.8ZM1199.5 1342.6L1197.8 1346.3L1197.2 1344.8L1195.7 1344ZM1233.4 1344.6L1230.2 1348.1L1230 1346.2L1228.6 1344.8ZM1253.5 1342L1254.1 1344.6L1253.1 1344L1252.1 1344.2ZM1274 1351.7L1276.3 1350.2L1276.1 1351.3L1276.7 1352.3ZM1309.3 1358.7L1309.2 1355.3L1310.3 1356.2L1311.7 1356.2ZM1348.4 1363.8L1344.7 1359.8L1346.9 1359.8L1348.6 1358.3ZM1375.9 1356.9L1374.3 1355.1L1375.2 1355.1L1376 1354.5ZM1408.6 1347.1L1407.5 1348.6L1407.4 1347.8L1406.8 1347.3ZM1439 1346L1438 1347.8L1437.7 1347.1L1437 1346.6ZM1468.1 1355.2L1466.4 1354.1L1467.2 1353.8L1467.7 1353.2ZM1496.9 1354.3L1495.8 1353.3L1496.4 1353.2L1496.8 1352.7ZM861.8 1368L861 1369.8L860.7 1369.1L860 1368.7ZM893.5 1369.8L892.1 1371.2L892.1 1370.3L891.5 1369.7ZM922.5 1363.4L922.3 1366.9L921.3 1365.9L919.8 1365.7ZM944.8 1366.8L946.6 1367.9L945.7 1368.2L945.3 1368.9ZM978.2 1368L978.9 1369.1L978.4 1369.1L977.9 1369.3ZM1010.5 1364.6L1011 1367L1010.1 1366.5L1009.2 1366.7ZM1043.5 1364L1043.3 1366.9L1042.5 1366L1041.3 1365.9ZM1074.9 1364.4L1074.3 1367.7L1073.5 1366.6L1072.1 1366.3ZM1106.1 1362.6L1105.4 1366.6L1104.4 1365.3L1102.8 1365ZM1137.6 1362.2L1136.6 1366.5L1135.6 1365L1133.9 1364.5ZM1169.7 1360.3L1168.4 1365.5L1167.2 1363.7L1165.1 1363.1ZM1197.6 1362.2L1196.9 1366.4L1195.8 1365L1194.1 1364.6ZM1235.4 1359.9L1232.4 1366L1231.4 1363.4L1229 1362.1ZM1257.5 1364L1256.8 1367.5L1256 1366.3L1254.5 1365.9ZM1274.5 1369.3L1277.2 1369.1L1276.5 1370L1276.5 1371.1ZM1303 1375.1L1305.9 1372.6L1305.8 1374.2L1306.7 1375.4ZM1338.1 1374.6L1339.3 1373.2L1339.4 1373.9L1339.9 1374.4ZM1375.3 1378L1374 1376.4L1374.9 1376.5L1375.5 1376ZM1407.2 1374.2L1405.9 1374L1406.4 1373.7L1406.5 1373.1ZM1437.2 1372.5L1436.3 1372.8L1436.5 1372.4L1436.4 1372ZM1463 1378L1462.7 1376L1463.3 1376.5L1464.2 1376.4ZM1492.3 1375.4L1492.6 1374.1L1492.9 1374.6L1493.5 1374.7ZM860.9 1389.7L860.4 1391.4L860.1 1390.8L859.4 1390.6ZM888.7 1389.4L889 1390.9L888.5 1390.5L887.9 1390.6ZM915.1 1390.2L916.5 1391L915.9 1391.2L915.6 1391.7ZM943.7 1392.8L945.3 1392.6L945 1393.1L945 1393.8ZM976.1 1390.2L977.5 1391L976.9 1391.2L976.5 1391.7ZM1007.9 1383L1009.9 1386.5L1008.3 1386.2L1006.8 1386.9ZM1036 1385.3L1038.5 1387.7L1037 1387.8L1036 1388.8ZM1064.2 1386L1067.3 1387.9L1065.9 1388.3L1065 1389.5ZM1096.7 1380.6L1099.8 1384.6L1097.7 1384.5L1096 1385.7ZM1134.3 1381.9L1134.8 1386.6L1133.2 1385.4L1131.3 1385.5ZM1171.3 1380.3L1169.8 1386.5L1168.3 1384.3L1165.9 1383.5ZM1214.7 1382.6L1208.4 1389.8L1207.9 1385.9L1205.1 1383.2ZM1242.1 1381.3L1237 1388.5L1236.2 1384.9L1233.3 1382.7ZM1260.6 1383.3L1259.2 1388.1L1258.1 1386.4L1256.2 1385.7ZM1278.2 1389.3L1280.1 1390.2L1279.3 1390.5L1278.9 1391.2ZM1306.3 1387.3L1309.5 1388.7L1308.2 1389.2L1307.5 1390.5ZM1338.1 1395.4L1339.4 1394.3L1339.4 1395L1339.8 1395.6ZM1369.3 1399.7L1369.8 1397.5L1370.4 1398.2L1371.3 1398.5ZM1429.9 1398.8L1430.5 1396.8L1430.9 1397.6L1431.7 1397.9ZM1460 1398L1460.9 1396.2L1461.2 1396.9L1461.9 1397.3ZM851.5 1410.8L853.9 1411.6L853 1412.2L852.6 1413.1ZM879.4 1409.1L883.3 1410.3L881.9 1411.1L881.3 1412.7ZM911.7 1413.4L914 1413.4L913.3 1414.1L913.3 1415ZM984.7 1411.7L983.5 1413.7L983.3 1412.8L982.4 1412.3ZM1008.4 1409.1L1009.5 1411.1L1008.6 1410.9L1007.8 1411.3ZM1039.5 1407.4L1040.6 1410L1039.5 1409.6L1038.4 1410ZM1070 1405.4L1071.5 1409L1070 1408.5L1068.4 1409ZM1098.7 1404.5L1100.9 1408.2L1099.2 1407.8L1097.6 1408.6ZM1132.9 1400.1L1134.4 1405.8L1132.3 1404.7L1129.9 1405.2ZM1179.8 1403.1L1175.2 1410.2L1174.3 1406.9L1171.5 1404.8ZM1224.4 1410.8L1216.1 1415.9L1216.9 1412L1215 1408.4ZM1247.4 1408.8L1239.8 1414.8L1240.1 1410.8L1237.7 1407.6ZM1260.6 1407.2L1259 1411.4L1258.1 1409.7L1256.4 1408.9ZM1281.2 1409.4L1282.4 1411.3L1281.5 1411.1L1280.7 1411.6ZM1309.7 1410.4L1311.3 1411.7L1310.5 1411.8L1309.9 1412.4ZM1334.2 1419.4L1336.7 1417L1336.7 1418.4L1337.7 1419.5ZM1371 1417.7L1371.5 1416.9L1371.7 1417.3L1372 1417.5ZM1404.7 1420.3L1403.9 1419.1L1404.4 1419.2L1404.9 1418.9ZM1432.1 1419.1L1432.3 1417.9L1432.6 1418.3L1433.1 1418.4ZM1463.5 1419.4L1463.3 1418.3L1463.7 1418.6L1464.2 1418.5ZM1497.4 1418.1L1496.4 1417.8L1496.8 1417.5L1496.9 1417.1ZM848.9 1435.9L851.7 1435.5L851.1 1436.5L851.2 1437.6ZM879.4 1435.4L882.3 1435.1L881.6 1436.1L881.6 1437.3ZM909.9 1432.8L913.5 1433.4L912.3 1434.3L912 1435.8ZM944.3 1433.7L946.1 1434.5L945.3 1434.8L945 1435.5ZM980.4 1432.5L980.7 1434.3L980.1 1433.9L979.3 1434ZM1013 1433.7L1012.4 1435.5L1012.1 1434.8L1011.4 1434.5ZM1037.7 1428.9L1039.7 1431.7L1038.3 1431.5L1037.1 1432.3ZM1067.3 1426.2L1069.9 1429.8L1068 1429.6L1066.5 1430.6ZM1092.7 1426.2L1096.9 1429.1L1094.9 1429.6L1093.6 1431.3ZM1131.6 1424.2L1133.2 1429L1131.3 1428.2L1129.3 1428.8ZM1171.7 1438.7L1168 1440L1168.6 1438.5L1168.2 1436.9ZM1220.7 1447L1211 1448L1213.4 1444.7L1213.2 1440.7ZM1241.4 1444.3L1233.8 1445L1235.7 1442.5L1235.6 1439.3ZM1262.5 1435.6L1259.3 1437.9L1259.5 1436.3L1258.6 1434.9ZM1288.7 1434L1287.3 1436L1287.1 1435L1286.3 1434.4ZM1314.8 1437.3L1314.2 1437.8L1314.2 1437.5L1314.1 1437.3ZM1344.5 1440.8L1343.7 1440.1L1344.1 1440L1344.4 1439.8ZM1436.7 1442L1435.5 1441.1L1436.1 1440.9L1436.5 1440.4ZM1468.6 1440.2L1467.1 1440.1L1467.6 1439.7L1467.7 1439ZM1499.1 1439.4L1497.7 1439.5L1498.1 1439L1498 1438.4ZM849.8 1460.3L852 1459.3L851.7 1460.3L852.1 1461.2ZM879.4 1454.5L883.1 1455.2L881.9 1456.1L881.5 1457.6ZM912.2 1452.3L915.3 1454L913.9 1454.5L913.1 1455.8ZM946.5 1454.5L947.8 1455.9L947 1455.9L946.4 1456.4ZM975.3 1455.7L976.9 1456.5L976.2 1456.8L975.8 1457.4ZM1006.2 1457.4L1007.4 1457.8L1006.9 1458.1L1006.8 1458.6ZM1035.4 1452.8L1037.6 1454.4L1036.5 1454.6L1035.8 1455.5ZM1061.2 1450.1L1065.6 1452.2L1063.8 1453L1062.8 1454.7ZM1091.7 1447.4L1096.4 1450.5L1094.2 1451L1092.8 1452.9ZM1117.8 1448.3L1123.8 1450.5L1121.5 1451.7L1120.5 1454.1ZM1153 1476.5L1153.3 1469.7L1155.3 1471.7L1158 1472ZM1199.9 1487.9L1193.7 1480.4L1197.7 1480.6L1200.9 1478.2ZM1233.4 1472.1L1227.7 1469.6L1230 1468.6L1231.1 1466.3ZM1266.9 1461.7L1261.6 1463.3L1262.6 1461.2L1262.1 1459ZM1289.6 1459.5L1287.5 1460.5L1287.8 1459.6L1287.4 1458.7ZM1315.7 1462.4L1314.5 1462.1L1314.9 1461.8L1315.1 1461.3ZM1345.3 1462.2L1344.4 1461.8L1344.8 1461.7L1344.9 1461.3ZM1378.8 1462.9L1376.8 1462.7L1377.4 1462.2L1377.5 1461.4ZM1404.1 1462.2L1403.8 1461.6L1404.1 1461.7L1404.3 1461.5ZM1436 1462.2L1435.2 1461.8L1435.6 1461.7L1435.8 1461.3ZM1463.8 1461.7L1463.8 1461.1L1464 1461.3L1464.2 1461.3ZM860.1 1484.6L859 1484.1L859.4 1483.9L859.6 1483.5ZM884.1 1477.7L885.7 1478.5L885 1478.8L884.7 1479.5ZM913.4 1472.5L916.4 1475.1L914.8 1475.3L913.7 1476.4ZM944.8 1475.1L946.8 1476.7L945.7 1476.9L945 1477.7ZM973.6 1476L975.9 1477.1L974.9 1477.5L974.4 1478.5ZM1001.5 1481L1004 1480.3L1003.5 1481.2L1003.7 1482.3ZM1033.7 1478.2L1035.9 1478.6L1035.2 1479.2L1035 1480.1ZM1064.2 1475.6L1066.7 1476.8L1065.7 1477.2L1065.1 1478.2ZM1090 1473.4L1094.7 1474.9L1093 1475.9L1092.3 1477.8ZM1106.1 1474.8L1115.5 1473.7L1113.2 1476.9L1113.4 1480.7ZM1132.9 1495.7L1139.3 1488.3L1139.7 1492.3L1142.6 1495.1ZM1187.2 1505.3L1185.3 1496.8L1188.4 1498.6L1191.9 1498ZM1234.7 1498.6L1227.9 1494.8L1230.9 1493.8L1232.7 1491.1ZM1267.6 1491.2L1261 1490.3L1263.1 1488.6L1263.6 1485.9ZM1288.7 1486.3L1286.3 1485.8L1287.1 1485.2L1287.3 1484.2ZM1314.4 1485.9L1313.4 1484.9L1313.9 1484.9L1314.4 1484.5ZM1338.1 1485.8L1339.1 1484L1339.4 1484.8L1340.1 1485.3ZM1371.9 1485.4L1371.9 1484.2L1372.3 1484.6L1372.8 1484.6ZM1401.2 1485.4L1401.6 1484.1L1401.9 1484.6L1402.4 1484.7ZM1429.5 1485.1L1430.5 1483.6L1430.7 1484.3L1431.3 1484.8ZM1460.4 1484.1L1461.4 1482.9L1461.4 1483.5L1461.9 1484ZM1493.5 1484.1L1493.6 1483.3L1493.8 1483.5L1494.1 1483.6ZM867.8 1507.8L863.8 1508L864.8 1506.7L864.8 1505ZM894.7 1504.7L892.6 1505.3L893 1504.5L892.7 1503.6ZM919.4 1498L919.8 1499.9L919.1 1499.5L918.3 1499.6ZM946.5 1499.4L947.7 1500.5L947 1500.5L946.5 1501ZM971 1502.8L973.5 1502.2L973 1503.1L973.2 1504.2ZM1001.9 1501.1L1004.4 1501L1003.7 1501.8L1003.7 1502.9ZM1032.8 1498.9L1035.5 1499.6L1034.5 1500.2L1034.2 1501.3ZM1065 1498.9L1067.1 1499.8L1066.3 1500.2L1065.8 1501.1ZM1092 1502.7L1094.7 1502L1094.1 1503L1094.3 1504.1ZM1121.5 1505.1L1124.5 1503.4L1124.2 1504.8L1124.8 1506ZM1147.6 1512L1151 1507.4L1151.5 1509.7L1153.3 1511.2ZM1186.5 1518.7L1186.1 1513L1187.9 1514.5L1190.3 1514.4ZM1226.7 1518.1L1223 1514L1225.2 1514L1227 1512.6ZM1259.3 1516.3L1255.1 1513.2L1257.2 1512.8L1258.6 1511.1ZM1285.2 1513.1L1283 1510.4L1284.4 1510.5L1285.6 1509.6ZM1310.1 1510.7L1310 1508.4L1310.8 1509L1311.7 1509ZM1335.4 1508.6L1337.3 1506L1337.6 1507.3L1338.7 1508.2ZM1369.7 1506.4L1370.5 1505.2L1370.6 1505.8L1371.1 1506.2ZM1400.4 1507.8L1400.9 1506.2L1401.2 1506.8L1401.9 1507.1ZM1430.4 1507.4L1431.1 1505.9L1431.3 1506.6L1431.9 1506.9ZM1491.8 1507.4L1492.3 1506L1492.5 1506.6L1493.1 1506.8ZM895.6 1528.1L893 1528.4L893.6 1527.5L893.5 1526.5ZM920.3 1526.5L919.6 1526.6L919.7 1526.4L919.7 1526.1ZM948.6 1527.4L948.4 1527L948.6 1527L948.7 1527ZM974.4 1529.4L975.3 1527.8L975.6 1528.6L976.2 1529ZM1000.5 1527.7L1002.9 1526.1L1002.7 1527.3L1003.3 1528.3ZM1030.1 1521.3L1034 1521.5L1032.8 1522.7L1032.7 1524.3ZM1063.3 1520L1066.4 1521.1L1065.2 1521.7L1064.7 1523ZM1096.9 1524.3L1098.1 1524.4L1097.7 1524.7L1097.7 1525.2ZM1120.5 1532L1123.1 1528.5L1123.4 1530.3L1124.8 1531.4ZM1151 1532.7L1153.4 1529L1153.9 1530.8L1155.3 1531.9ZM1186.5 1530L1187.5 1528.2L1187.8 1529L1188.5 1529.4ZM1222.4 1523.3L1222.5 1524.2L1222.2 1524L1221.8 1524ZM1254.5 1534.7L1252.4 1532.1L1253.8 1532.2L1254.9 1531.4ZM1282 1534.7L1281 1532L1282.1 1532.5L1283.2 1532.1ZM1309 1532L1309.4 1529.7L1310 1530.5L1310.9 1530.7ZM1338.8 1530.1L1339.6 1528.3L1339.9 1529.1L1340.6 1529.4ZM1369.3 1528.4L1370.3 1527.2L1370.4 1527.8L1370.9 1528.2ZM1399.5 1528.9L1400.4 1527.5L1400.6 1528.2L1401.2 1528.6ZM1428.1 1528.9L1429.6 1527.3L1429.7 1528.2L1430.3 1528.8ZM850.6 1546.3L852.9 1545.9L852.4 1546.7L852.5 1547.7ZM882.9 1549.7L884.1 1548.6L884.1 1549.3L884.6 1549.8ZM919.1 1547.3L918.9 1547.6L918.8 1547.5L918.7 1547.4ZM949.4 1545.9L949.4 1546.7L949.2 1546.5L948.9 1546.4ZM974.4 1556.1L974.8 1552.7L975.7 1553.7L977.1 1554ZM1003.9 1549.7L1005.3 1548.5L1005.3 1549.3L1005.7 1549.9ZM1037.9 1543.9L1038.9 1544.9L1038.3 1544.9L1037.9 1545.3ZM1065.8 1542.8L1067.7 1543.9L1066.9 1544.2L1066.4 1544.9ZM1094.6 1549.4L1096.2 1548.2L1096.1 1549L1096.5 1549.7ZM1123.9 1554.2L1125.3 1551.1L1125.9 1552.4L1127.1 1553ZM1155.7 1550.8L1156.9 1549.3L1157 1550L1157.6 1550.6ZM1252.4 1559.3L1250.7 1555.5L1252.3 1556.1L1253.9 1555.4ZM1281.4 1565.7L1279.2 1559.5L1281.7 1560.6L1284.2 1559.8ZM1335.4 1553.2L1337.3 1550.3L1337.6 1551.7L1338.7 1552.5ZM849.2 1570L851.7 1569L851.4 1570L851.7 1571ZM877.7 1569.7L881.2 1568.3L880.6 1569.8L881.1 1571.2ZM909.9 1569.1L912.5 1568.4L912.1 1569.4L912.3 1570.4ZM937.4 1566.6L941.7 1566.1L940.6 1567.6L940.7 1569.3ZM974.4 1574.3L975.2 1572.4L975.6 1573.2L976.3 1573.6ZM1043.4 1564.8L1042.9 1566.9L1042.4 1566.2L1041.6 1565.9ZM1076.7 1563.5L1075.3 1566.6L1074.7 1565.4L1073.4 1564.7ZM1099.8 1574.3L1099.4 1572.9L1099.9 1573.2L1100.5 1573.1ZM1127.4 1572.9L1128 1571.6L1128.2 1572.2L1128.7 1572.5ZM1159.1 1574L1159.2 1572.5L1159.6 1572.9L1160.2 1573ZM1185 1569L1187 1568.5L1186.6 1569.2L1186.8 1570.1ZM1210.9 1573.4L1214.1 1570.7L1214 1572.4L1215 1573.8ZM1243.5 1583.4L1244.5 1577.6L1245.9 1579.5L1248.3 1580.1ZM1271.1 1580.3L1273.4 1575.2L1274.3 1577.3L1276.4 1578.4ZM1306.6 1574.3L1307.9 1572.2L1308.1 1573.2L1309 1573.8ZM852.7 1592.9L854 1592L853.9 1592.6L854.2 1593.2ZM886.1 1591.1L886.8 1591.2L886.6 1591.4L886.5 1591.6ZM915.1 1590.3L916.3 1590.4L915.9 1590.7L915.8 1591.2ZM974.4 1591.1L975.9 1590.8L975.6 1591.4L975.7 1592ZM1008.4 1586L1009.4 1587.7L1008.6 1587.5L1007.9 1587.9ZM1035.8 1583.4L1038.3 1585.8L1036.9 1585.9L1035.9 1586.9ZM1060.7 1583.4L1065.1 1585L1063.4 1585.9L1062.6 1587.7ZM1100.6 1598.9L1099.7 1596.9L1100.6 1597.1L1101.4 1596.8ZM1128.2 1594.2L1128.7 1593.3L1128.9 1593.7L1129.2 1593.9ZM1154.8 1594.8L1156.3 1593.1L1156.4 1594L1157 1594.7ZM1183.3 1593.4L1185.5 1591.9L1185.3 1593L1185.9 1594ZM1208.6 1602L1211.7 1596.7L1212.4 1599.1L1214.5 1600.4ZM980.6 1615L980 1614.9L980.2 1614.8L980.2 1614.5ZM1006.7 1611.9L1007.7 1612.2L1007.3 1612.5L1007.2 1612.9ZM1033.6 1608.8L1036 1609.6L1035.1 1610.2L1034.7 1611.1ZM1059.5 1605.9L1064.2 1607.2L1062.5 1608.3L1061.9 1610.2ZM1095 1616.1L1096.3 1614.8L1096.3 1615.5L1096.8 1616.1ZM1130.5 1618.6L1129.9 1617.2L1130.5 1617.5L1131.1 1617.3ZM1156.9 1620.4L1157.3 1617.9L1157.9 1618.7L1158.9 1619ZM1185 1617.1L1186.5 1615.4L1186.6 1616.3L1187.3 1617ZM1217.7 1631.2L1216.6 1624.8L1218.9 1626.2L1221.5 1625.9ZM867.8 1639.4L863.8 1639.7L864.8 1638.4L864.8 1636.8ZM893.5 1636L891.8 1636.7L892.1 1636L891.8 1635.3ZM947.2 1638.6L947.3 1637.6L947.5 1637.9L947.9 1638ZM981.5 1637L980.6 1637L980.8 1636.8L980.8 1636.4ZM1004.4 1642.4L1005.1 1639.8L1005.7 1640.7L1006.7 1641.1ZM1035.8 1629.6L1037.8 1631.1L1036.8 1631.3L1036.2 1632ZM1060.7 1627.4L1065.1 1629L1063.4 1629.9L1062.6 1631.7ZM1088.6 1636L1092.6 1634.3L1092 1636L1092.6 1637.7ZM1122.6 1638.9L1124.6 1637L1124.6 1638.2L1125.4 1639.1ZM1158.6 1640.3L1158.8 1638.7L1159.2 1639.2L1159.9 1639.3ZM1183.3 1644.1L1184.9 1640.2L1185.6 1641.7L1187.2 1642.5ZM1214.3 1649.8L1214.9 1644L1216.4 1645.8L1218.8 1646.1ZM849.2 1659.2L851.6 1657.8L851.4 1658.9L851.9 1659.9ZM881.5 1659.7L883.2 1658.4L883.1 1659.3L883.6 1660ZM909.4 1658.9L912 1657.5L911.7 1658.6L912.2 1659.7ZM940.8 1656.3L943.4 1655.8L942.8 1656.7L942.9 1657.8ZM974.4 1660.2L975.5 1659L975.6 1659.7L976.1 1660.1ZM999.3 1661.4L1002.2 1658.8L1002.2 1660.4L1003.2 1661.7ZM1030.1 1652.3L1034.2 1652.9L1032.9 1654L1032.6 1655.6ZM1091.2 1657.1L1094.4 1656.1L1093.8 1657.4L1094.2 1658.7ZM1127.7 1661.4L1128.2 1660L1128.5 1660.6L1129 1660.8ZM1179.3 1666.6L1182.2 1662L1182.8 1664.1L1184.6 1665.4ZM1215.5 1659.7L1217.2 1658.4L1217.1 1659.3L1217.6 1660ZM844.6 1683.4L848.5 1680.4L848.3 1682.4L849.5 1684.1ZM878.4 1680.9L881.5 1679.2L881.1 1680.6L881.7 1681.9ZM910.5 1677.9L913 1677.6L912.4 1678.5L912.5 1679.5ZM939.1 1680.9L942.2 1679.2L941.8 1680.6L942.4 1681.9ZM969.6 1683.1L972.3 1680.7L972.3 1682.2L973.2 1683.4ZM1006.2 1683.8L1006.6 1682.3L1006.9 1682.8L1007.6 1683ZM1036.5 1677.4L1037.8 1677.8L1037.3 1678.1L1037.1 1678.6ZM1064.1 1672.3L1067.2 1674.1L1065.8 1674.5L1065 1675.7ZM1099.4 1685.7L1099 1683.9L1099.7 1684.2L1100.4 1684.1ZM1128.8 1673.1L1130.2 1674.9L1129.2 1674.9L1128.5 1675.4ZM1149.7 1682.6L1153.1 1680.1L1152.9 1681.8L1153.9 1683.3ZM1186.2 1690.8L1186.4 1686.4L1187.7 1687.7L1189.5 1687.9ZM854.9 1702L855.7 1701.7L855.6 1702L855.7 1702.3ZM888.7 1702L888.5 1702.1L888.5 1702L888.5 1701.9ZM913.9 1703.7L915 1702.7L915 1703.3L915.4 1703.7ZM946 1702L946.7 1701.7L946.6 1702L946.7 1702.3ZM979.9 1695.6L980.4 1697.7L979.7 1697.3L978.8 1697.4ZM1011 1701.1L1010.6 1701.6L1010.5 1701.4L1010.3 1701.2ZM1042.2 1701.1L1041.5 1701.7L1041.5 1701.4L1041.3 1701.1ZM1071.7 1700.3L1071.4 1701L1071.2 1700.7L1070.9 1700.6ZM1100.3 1701.1L1100.4 1701.4L1100.3 1701.4L1100.2 1701.4ZM1130.7 1700.3L1130.9 1700.8L1130.7 1700.7L1130.4 1700.8ZM1162.7 1700.3L1162.4 1701L1162.3 1700.7L1162 1700.6ZM1190.8 1703.7L1190.8 1703.1L1191 1703.3L1191.2 1703.3ZM1220.7 1704.1L1220.7 1703.3L1220.9 1703.5L1221.2 1703.6Z" fill="#000" stroke="#000" stroke-width="0.6" stroke-linejoin="round"/><rect x="919.2" y="1186.3" width="77.8" height="71.9" fill="#fff"/><text x="958.1" y="1241" font-size="52" text-anchor="middle">(h)</text><path d="M838.6 1185.7H1517.8M838.6 1222.8H1517.8M838.6 1260H1517.8M838.6 1297.1H1517.8M838.6 1371.3H1517.8M838.6 1408.4H1517.8M838.6 1445.6H1517.8M838.6 1482.7H1517.8M838.6 1556.9H1517.8M838.6 1594H1517.8M838.6 1631.2H1517.8M838.6 1668.3H1517.8" stroke="#8c8c80" stroke-width="1.3" stroke-dasharray="1.5 1.5" fill="none" opacity="0.55"/><path d="M883.9 1148.6V1705.4M974.4 1148.6V1705.4M1019.7 1148.6V1705.4M1065 1148.6V1705.4M1110.3 1148.6V1705.4M1200.8 1148.6V1705.4M1246.1 1148.6V1705.4M1291.4 1148.6V1705.4M1336.7 1148.6V1705.4M1427.2 1148.6V1705.4M1472.5 1148.6V1705.4" stroke="#8c8c80" stroke-width="1.3" stroke-dasharray="1.5 1.5" fill="none" opacity="0.55"/><path d="M838.6 1334.2H1517.8M838.6 1519.8H1517.8M929.2 1148.6V1705.4M1155.6 1148.6V1705.4M1382 1148.6V1705.4" stroke="#c9c9b0" stroke-width="1.3" fill="none" opacity="0.8"/><path d="M1517.8 1517.3 L1498.6 1523 L1490 1519.3 L1478.6 1518 L1472.9 1522.3 L1465.6 1529.3 L1452.6 1531.6 L1432.9 1533.7 L1424.3 1538 L1418.6 1542.3 L1410 1545.2 L1398.6 1548 L1390 1544.3 L1381.5 1543.7 L1375.6 1545.9 L1372.6 1540.3 L1371.1 1538.8 L1369.1 1541.3 L1367.2 1545.3 L1355.6 1548 L1344.3 1553.7 L1335.6 1558 L1330 1562.3 L1320 1569.3 L1312.9 1575.2 L1298.6 1580.2 L1288.6 1582.5 L1281.8 1585 L1276.7 1587.6 L1274.2 1591.8 L1270 1596.9 L1267.4 1602.8 L1264.9 1607.9 L1262.3 1613 L1258.1 1611.3 L1253.9 1613.8 L1251.7 1612.1 L1253 1606.2 L1250 1600.3 L1253 1588.4 L1249.6 1587.1 L1244.5 1590.9 L1239.4 1600.3 L1235.2 1607.9 L1230.5 1614.7 L1231 1620.6 L1236.1 1624 L1238.6 1630.8 L1236.1 1635.9 L1236.9 1642.6 L1236.1 1649.4 L1229.3 1654.5 L1224.2 1660.4 L1221.6 1665.5 L1220 1671.5 L1219.1 1678.2 L1219.1 1686.7 L1225 1692.6 L1229.3 1697.7 L1230.1 1702 L1231.4 1705.4" fill="none" stroke="#000" stroke-width="1.7" stroke-linejoin="round"/><ellipse cx="1309.1" cy="1549.3" rx="3.2" ry="4.8" transform="rotate(20 1309.1 1549.3)" fill="none" stroke="#000" stroke-width="1.8"/><ellipse cx="1160" cy="1461.1" rx="28.8" ry="24.2" fill="none" stroke="#fff" stroke-width="8"/><ellipse cx="1160" cy="1461.1" rx="28.8" ry="24.2" fill="none" stroke="#000" stroke-width="5.6"/><path d="M1161.3 1456.2 L1109.8 1512.5" stroke="#000" stroke-width="6" fill="none"/><path d="M1095 1528.7 L1106.8 1498.4 L1109.8 1512.5 L1124.3 1513.8 Z" fill="#000"/></g><path d="M838.6 1148.6h4.5M1517.8 1148.6h-4.5M838.6 1185.7h4.5M1517.8 1185.7h-4.5M838.6 1222.8h4.5M1517.8 1222.8h-4.5M838.6 1260h4.5M1517.8 1260h-4.5M838.6 1297.1h4.5M1517.8 1297.1h-4.5M838.6 1334.2h8M1517.8 1334.2h-8M838.6 1371.3h4.5M1517.8 1371.3h-4.5M838.6 1408.4h4.5M1517.8 1408.4h-4.5M838.6 1445.6h4.5M1517.8 1445.6h-4.5M838.6 1482.7h4.5M1517.8 1482.7h-4.5M838.6 1519.8h8M1517.8 1519.8h-8M838.6 1556.9h4.5M1517.8 1556.9h-4.5M838.6 1594h4.5M1517.8 1594h-4.5M838.6 1631.2h4.5M1517.8 1631.2h-4.5M838.6 1668.3h4.5M1517.8 1668.3h-4.5M838.6 1705.4h4.5M1517.8 1705.4h-4.5M883.9 1705.4v-4.5M883.9 1148.6v4.5M929.2 1705.4v-8M929.2 1148.6v8M974.4 1705.4v-4.5M974.4 1148.6v4.5M1019.7 1705.4v-4.5M1019.7 1148.6v4.5M1065 1705.4v-4.5M1065 1148.6v4.5M1110.3 1705.4v-4.5M1110.3 1148.6v4.5M1155.6 1705.4v-8M1155.6 1148.6v8M1200.8 1705.4v-4.5M1200.8 1148.6v4.5M1246.1 1705.4v-4.5M1246.1 1148.6v4.5M1291.4 1705.4v-4.5M1291.4 1148.6v4.5M1336.7 1705.4v-4.5M1336.7 1148.6v4.5M1382 1705.4v-8M1382 1148.6v8M1427.2 1705.4v-4.5M1427.2 1148.6v4.5M1472.5 1705.4v-4.5M1472.5 1148.6v4.5" stroke="#222" stroke-width="2" fill="none"/><rect x="838.6" y="1148.6" width="679.2" height="556.8" fill="none" stroke="#161616" stroke-width="2.1"/><rect x="1542.1" y="6.3" width="49.8" height="556.8" fill="url(#cbg)" stroke="#2a2a2a" stroke-width="1.5"/><text x="1605.5" y="511.5" font-size="44">1</text><text x="1605.5" y="372.3" font-size="44">3</text><text x="1605.5" y="233.1" font-size="44">5</text><text x="1605.5" y="93.9" font-size="44">7</text><path d="M1591.9 493.5h-5M1591.9 354.3h-5M1591.9 215.1h-5M1591.9 75.9h-5" stroke="#262626" stroke-width="1.5"/><rect x="1542.1" y="577.3" width="49.8" height="556.8" fill="url(#cbg)" stroke="#2a2a2a" stroke-width="1.5"/><text x="1605.5" y="1082.5" font-size="44">1</text><text x="1605.5" y="943.3" font-size="44">3</text><text x="1605.5" y="804.1" font-size="44">5</text><text x="1605.5" y="664.9" font-size="44">7</text><path d="M1591.9 1064.5h-5M1591.9 925.3h-5M1591.9 786.1h-5M1591.9 646.9h-5" stroke="#262626" stroke-width="1.5"/><rect x="1542.1" y="1148.6" width="49.8" height="556.8" fill="url(#cbg)" stroke="#2a2a2a" stroke-width="1.5"/><text x="1605.5" y="1653.8" font-size="44">1</text><text x="1605.5" y="1514.6" font-size="44">3</text><text x="1605.5" y="1375.4" font-size="44">5</text><text x="1605.5" y="1236.2" font-size="44">7</text><path d="M1591.9 1635.8h-5M1591.9 1496.6h-5M1591.9 1357.4h-5M1591.9 1218.2h-5" stroke="#262626" stroke-width="1.5"/><path d="M1782.7 543.9H2462.1M1782.7 524.7H2462.1M1782.7 505.5H2462.1M1782.7 486.3H2462.1M1782.7 447.9H2462.1M1782.7 428.7H2462.1M1782.7 409.5H2462.1M1782.7 390.3H2462.1M1782.7 351.9H2462.1M1782.7 332.7H2462.1M1782.7 313.5H2462.1M1782.7 294.3H2462.1M1782.7 255.9H2462.1M1782.7 236.7H2462.1M1782.7 217.5H2462.1M1782.7 198.3H2462.1M1782.7 159.9H2462.1M1782.7 140.7H2462.1M1782.7 121.5H2462.1M1782.7 102.3H2462.1M1782.7 63.9H2462.1M1782.7 44.7H2462.1M1782.7 25.5H2462.1M1797.6 6.3V563.1M1824.8 6.3V563.1M1852 6.3V563.1M1879.2 6.3V563.1M1933.5 6.3V563.1M1960.7 6.3V563.1M1987.9 6.3V563.1M2015.1 6.3V563.1M2069.4 6.3V563.1M2096.6 6.3V563.1M2123.8 6.3V563.1M2150.9 6.3V563.1M2205.3 6.3V563.1M2232.5 6.3V563.1M2259.6 6.3V563.1M2286.8 6.3V563.1M2341.2 6.3V563.1M2368.3 6.3V563.1M2395.5 6.3V563.1M2422.7 6.3V563.1" stroke="#7a7a7a" stroke-width="1.3" stroke-dasharray="1.5 1.5" fill="none" opacity="0.7"/><path d="M1782.7 467.1H2462.1M1782.7 371.1H2462.1M1782.7 275.1H2462.1M1782.7 179.1H2462.1M1782.7 83.1H2462.1M1918.6 6.3V563.1M2054.5 6.3V563.1M2190.3 6.3V563.1M2326.2 6.3V563.1" stroke="#dcdcdc" stroke-width="1.4" fill="none"/><path d="M1881.1 563.1V6.3" stroke="#ff8a33" stroke-width="4.6" stroke-dasharray="18 18" fill="none"/><path d="M1893.4 563.1V6.3" stroke="#62addf" stroke-width="4.4" stroke-dasharray="18 18" fill="none"/><rect x="1835" y="36" width="74" height="75" fill="#fff"/><text x="1872" y="93" font-size="52" text-anchor="middle">(c)</text><path d="M1782.7 563.1 L1795.2 560.2 L1808.4 554.5 L1829 496.9 L1844.1 462.3 L1857.2 436.4 L1870.3 429.7 L1881.6 433.5 L1892.8 432.5 L1908 440.2 L1919.1 451.7 L1932.2 460.4 L1943.6 466.1 L1954.9 467.1 L1968 478.6 L1979.2 481.5 L1992.4 492.1 L2005.5 496.9 L2016.8 497.3 L2030 503.6 L2043 509.3 L2056.2 512.2 L2069.4 515.1 L2095.6 517 L2125.4 519.7 L2151.8 523 L2165.1 528.8 L2189.8 533.7 L2206.4 534.6 L2241.2 534.6 L2254.3 533.7 L2264.3 531.2 L2277.4 536.2 L2303.9 537 L2315.5 534.6 L2340.4 536.2 L2373.5 537.5 L2388.3 542 L2398.2 539.5 L2423.1 539.5 L2444.6 540.3 L2462.1 541.5" stroke="#2a7bbf" stroke-width="6.2" fill="none" stroke-linejoin="round" clip-path="url(#pclip0)"/><path d="M1782.7 557.3 L1795.2 554.5 L1806.5 549.7 L1819.7 507.4 L1830.8 466.1 L1844.1 433.5 L1857.2 426.8 L1870.3 424.9 L1881.6 424.9 L1894.7 427.7 L1908 436.4 L1919.1 446.9 L1932.2 456.5 L1943.6 460.4 L1956.6 466.1 L1968 473.8 L1979.2 480.5 L1992.4 487.3 L2005.5 493 L2018.6 496.9 L2031.8 499.7 L2043 503.6 L2056.2 507.4 L2069.4 510.3 L2082.5 512.2 L2100.5 514.4 L2125.4 515.6 L2151.8 518.9 L2170 523 L2189.8 527.1 L2206.4 528.5 L2232.9 528.5 L2254.3 526.3 L2264.3 527.1 L2282.5 529.9 L2303.9 530.9 L2323.8 532.6 L2348.6 532.9 L2373.5 534.9 L2390.1 535.5 L2414.8 536.5 L2439.7 537 L2462.1 537.5" stroke="#e2561a" stroke-width="6.2" fill="none" stroke-linejoin="round" clip-path="url(#pclip0)"/><rect x="2198.8" y="31.3" width="238.5" height="111.3" fill="#fff" stroke="#262626" stroke-width="1.8"/><path d="M2208 61.1H2301.5" stroke="#2a7bbf" stroke-width="6"/><path d="M2208 112.9H2301.5" stroke="#e2561a" stroke-width="6"/><text x="2310" y="78.3" font-size="44.5">Expt 1</text><text x="2310" y="130.1" font-size="44.5">Expt 2</text><path d="M1782.7 543.9h4.5M2462.1 543.9h-4.5M1782.7 524.7h4.5M2462.1 524.7h-4.5M1782.7 505.5h4.5M2462.1 505.5h-4.5M1782.7 486.3h4.5M2462.1 486.3h-4.5M1782.7 467.1h8M2462.1 467.1h-8M1782.7 447.9h4.5M2462.1 447.9h-4.5M1782.7 428.7h4.5M2462.1 428.7h-4.5M1782.7 409.5h4.5M2462.1 409.5h-4.5M1782.7 390.3h4.5M2462.1 390.3h-4.5M1782.7 371.1h8M2462.1 371.1h-8M1782.7 351.9h4.5M2462.1 351.9h-4.5M1782.7 332.7h4.5M2462.1 332.7h-4.5M1782.7 313.5h4.5M2462.1 313.5h-4.5M1782.7 294.3h4.5M2462.1 294.3h-4.5M1782.7 275.1h8M2462.1 275.1h-8M1782.7 255.9h4.5M2462.1 255.9h-4.5M1782.7 236.7h4.5M2462.1 236.7h-4.5M1782.7 217.5h4.5M2462.1 217.5h-4.5M1782.7 198.3h4.5M2462.1 198.3h-4.5M1782.7 179.1h8M2462.1 179.1h-8M1782.7 159.9h4.5M2462.1 159.9h-4.5M1782.7 140.7h4.5M2462.1 140.7h-4.5M1782.7 121.5h4.5M2462.1 121.5h-4.5M1782.7 102.3h4.5M2462.1 102.3h-4.5M1782.7 83.1h8M2462.1 83.1h-8M1782.7 63.9h4.5M2462.1 63.9h-4.5M1782.7 44.7h4.5M2462.1 44.7h-4.5M1782.7 25.5h4.5M2462.1 25.5h-4.5M1797.6 563.1v-5M1797.6 6.3v5M1824.8 563.1v-5M1824.8 6.3v5M1852 563.1v-5M1852 6.3v5M1879.2 563.1v-5M1879.2 6.3v5M1933.5 563.1v-5M1933.5 6.3v5M1960.7 563.1v-5M1960.7 6.3v5M1987.9 563.1v-5M1987.9 6.3v5M2015.1 563.1v-5M2015.1 6.3v5M2069.4 563.1v-5M2069.4 6.3v5M2096.6 563.1v-5M2096.6 6.3v5M2123.8 563.1v-5M2123.8 6.3v5M2150.9 563.1v-5M2150.9 6.3v5M2205.3 563.1v-5M2205.3 6.3v5M2232.5 563.1v-5M2232.5 6.3v5M2259.6 563.1v-5M2259.6 6.3v5M2286.8 563.1v-5M2286.8 6.3v5M2341.2 563.1v-5M2341.2 6.3v5M2368.3 563.1v-5M2368.3 6.3v5M2395.5 563.1v-5M2395.5 6.3v5M2422.7 563.1v-5M2422.7 6.3v5M1918.6 563.1v-9M1918.6 6.3v9M2054.5 563.1v-9M2054.5 6.3v9M2190.3 563.1v-9M2190.3 6.3v9M2326.2 563.1v-9M2326.2 6.3v9" stroke="#222" stroke-width="2" fill="none"/><rect x="1782.7" y="6.3" width="679.4" height="556.8" fill="none" stroke="#161616" stroke-width="2.1"/><text x="1765" y="580.1" font-size="50" text-anchor="end">0</text><text x="1765" y="484.1" font-size="50" text-anchor="end">1</text><text x="1765" y="388.1" font-size="50" text-anchor="end">2</text><text x="1765" y="292.1" font-size="50" text-anchor="end">3</text><text x="1765" y="196.1" font-size="50" text-anchor="end">4</text><text x="1765" y="100.1" font-size="50" text-anchor="end">5</text><text transform="translate(1719.9 286.7) rotate(-90)" font-size="56.5" text-anchor="middle">STRS [N m<tspan font-size="38" dy="-30">-2</tspan><tspan dy="30">]</tspan></text><path d="M1782.7 1114.9H2462.1M1782.7 1095.7H2462.1M1782.7 1076.5H2462.1M1782.7 1057.3H2462.1M1782.7 1018.9H2462.1M1782.7 999.7H2462.1M1782.7 980.5H2462.1M1782.7 961.3H2462.1M1782.7 922.9H2462.1M1782.7 903.7H2462.1M1782.7 884.5H2462.1M1782.7 865.3H2462.1M1782.7 826.9H2462.1M1782.7 807.7H2462.1M1782.7 788.5H2462.1M1782.7 769.3H2462.1M1782.7 730.9H2462.1M1782.7 711.7H2462.1M1782.7 692.5H2462.1M1782.7 673.3H2462.1M1782.7 634.9H2462.1M1782.7 615.7H2462.1M1782.7 596.5H2462.1M1797.6 577.3V1134.1M1824.8 577.3V1134.1M1852 577.3V1134.1M1879.2 577.3V1134.1M1933.5 577.3V1134.1M1960.7 577.3V1134.1M1987.9 577.3V1134.1M2015.1 577.3V1134.1M2069.4 577.3V1134.1M2096.6 577.3V1134.1M2123.8 577.3V1134.1M2150.9 577.3V1134.1M2205.3 577.3V1134.1M2232.5 577.3V1134.1M2259.6 577.3V1134.1M2286.8 577.3V1134.1M2341.2 577.3V1134.1M2368.3 577.3V1134.1M2395.5 577.3V1134.1M2422.7 577.3V1134.1" stroke="#7a7a7a" stroke-width="1.3" stroke-dasharray="1.5 1.5" fill="none" opacity="0.7"/><path d="M1782.7 1038.1H2462.1M1782.7 942.1H2462.1M1782.7 846.1H2462.1M1782.7 750.1H2462.1M1782.7 654.1H2462.1M1918.6 577.3V1134.1M2054.5 577.3V1134.1M2190.3 577.3V1134.1M2326.2 577.3V1134.1" stroke="#dcdcdc" stroke-width="1.4" fill="none"/><path d="M1856.5 1134.1V577.3" stroke="#ff8a33" stroke-width="4.6" stroke-dasharray="18 18" fill="none"/><path d="M1868.7 1134.1V577.3" stroke="#62addf" stroke-width="4.4" stroke-dasharray="18 18" fill="none"/><rect x="1835" y="607" width="74" height="75" fill="#fff"/><text x="1872" y="664" font-size="52" text-anchor="middle">(f)</text><path d="M1782.7 1131.6 L1795.7 1127.7 L1807.3 1103.4 L1819 1049.1 L1830.7 1012.2 L1838.4 975.7 L1844.1 940.2 L1856.8 919.1 L1869 916.2 L1880.9 931.5 L1894.7 940.2 L1906.2 949.8 L1919.8 964.2 L1931.5 985.3 L1943 1006.4 L1956.6 1021.8 L1970.2 1034.3 L1983.8 1047.2 L1995.4 1053 L2011 1058.3 L2024.6 1061.8 L2040.1 1066.9 L2055.5 1072.5 L2071 1077.4 L2090.5 1081.8 L2124.4 1090.2 L2151.6 1095.3 L2192.4 1100.5 L2206 1103 L2233.1 1104.1 L2260.3 1106.4 L2287.6 1108.9 L2328.3 1110.7 L2352 1113.2 L2396.3 1112.3 L2430.2 1113.2 L2462.1 1113.9" stroke="#2a7bbf" stroke-width="6.2" fill="none" stroke-linejoin="round" clip-path="url(#pclip1)"/><path d="M1782.7 1126.7 L1793.8 1122.9 L1807.3 1095.7 L1819 1045.3 L1826.7 991.1 L1834.5 921 L1842.2 861.5 L1856.8 839.4 L1867.5 859.5 L1880.9 884.5 L1894.7 907.5 L1906.2 930.6 L1919.8 960.3 L1931.5 981.5 L1943 1000.7 L1956.6 1017.9 L1970.2 1029.5 L1983.8 1041.4 L1995.4 1048.2 L2011 1053 L2024.6 1057.3 L2040.1 1061.8 L2055.5 1067.7 L2071 1072.5 L2090.5 1075.8 L2124.4 1084.3 L2151.6 1089.4 L2192.4 1094.5 L2206 1096.7 L2233.1 1097.3 L2260.3 1099.5 L2287.6 1103 L2328.3 1105.6 L2352 1107.2 L2396.3 1106.4 L2430.2 1107.6 L2462.1 1108.6" stroke="#e2561a" stroke-width="6.2" fill="none" stroke-linejoin="round" clip-path="url(#pclip1)"/><rect x="2198.8" y="602.3" width="238.5" height="111.3" fill="#fff" stroke="#262626" stroke-width="1.8"/><path d="M2208 632.1H2301.5" stroke="#2a7bbf" stroke-width="6"/><path d="M2208 683.9H2301.5" stroke="#e2561a" stroke-width="6"/><text x="2310" y="649.3" font-size="44.5">Expt 1</text><text x="2310" y="701.1" font-size="44.5">Expt 2</text><path d="M1782.7 1114.9h4.5M2462.1 1114.9h-4.5M1782.7 1095.7h4.5M2462.1 1095.7h-4.5M1782.7 1076.5h4.5M2462.1 1076.5h-4.5M1782.7 1057.3h4.5M2462.1 1057.3h-4.5M1782.7 1038.1h8M2462.1 1038.1h-8M1782.7 1018.9h4.5M2462.1 1018.9h-4.5M1782.7 999.7h4.5M2462.1 999.7h-4.5M1782.7 980.5h4.5M2462.1 980.5h-4.5M1782.7 961.3h4.5M2462.1 961.3h-4.5M1782.7 942.1h8M2462.1 942.1h-8M1782.7 922.9h4.5M2462.1 922.9h-4.5M1782.7 903.7h4.5M2462.1 903.7h-4.5M1782.7 884.5h4.5M2462.1 884.5h-4.5M1782.7 865.3h4.5M2462.1 865.3h-4.5M1782.7 846.1h8M2462.1 846.1h-8M1782.7 826.9h4.5M2462.1 826.9h-4.5M1782.7 807.7h4.5M2462.1 807.7h-4.5M1782.7 788.5h4.5M2462.1 788.5h-4.5M1782.7 769.3h4.5M2462.1 769.3h-4.5M1782.7 750.1h8M2462.1 750.1h-8M1782.7 730.9h4.5M2462.1 730.9h-4.5M1782.7 711.7h4.5M2462.1 711.7h-4.5M1782.7 692.5h4.5M2462.1 692.5h-4.5M1782.7 673.3h4.5M2462.1 673.3h-4.5M1782.7 654.1h8M2462.1 654.1h-8M1782.7 634.9h4.5M2462.1 634.9h-4.5M1782.7 615.7h4.5M2462.1 615.7h-4.5M1782.7 596.5h4.5M2462.1 596.5h-4.5M1797.6 1134.1v-5M1797.6 577.3v5M1824.8 1134.1v-5M1824.8 577.3v5M1852 1134.1v-5M1852 577.3v5M1879.2 1134.1v-5M1879.2 577.3v5M1933.5 1134.1v-5M1933.5 577.3v5M1960.7 1134.1v-5M1960.7 577.3v5M1987.9 1134.1v-5M1987.9 577.3v5M2015.1 1134.1v-5M2015.1 577.3v5M2069.4 1134.1v-5M2069.4 577.3v5M2096.6 1134.1v-5M2096.6 577.3v5M2123.8 1134.1v-5M2123.8 577.3v5M2150.9 1134.1v-5M2150.9 577.3v5M2205.3 1134.1v-5M2205.3 577.3v5M2232.5 1134.1v-5M2232.5 577.3v5M2259.6 1134.1v-5M2259.6 577.3v5M2286.8 1134.1v-5M2286.8 577.3v5M2341.2 1134.1v-5M2341.2 577.3v5M2368.3 1134.1v-5M2368.3 577.3v5M2395.5 1134.1v-5M2395.5 577.3v5M2422.7 1134.1v-5M2422.7 577.3v5M1918.6 1134.1v-9M1918.6 577.3v9M2054.5 1134.1v-9M2054.5 577.3v9M2190.3 1134.1v-9M2190.3 577.3v9M2326.2 1134.1v-9M2326.2 577.3v9" stroke="#222" stroke-width="2" fill="none"/><rect x="1782.7" y="577.3" width="679.4" height="556.8" fill="none" stroke="#161616" stroke-width="2.1"/><text x="1765" y="1151.1" font-size="50" text-anchor="end">0</text><text x="1765" y="1055.1" font-size="50" text-anchor="end">1</text><text x="1765" y="959.1" font-size="50" text-anchor="end">2</text><text x="1765" y="863.1" font-size="50" text-anchor="end">3</text><text x="1765" y="767.1" font-size="50" text-anchor="end">4</text><text x="1765" y="671.1" font-size="50" text-anchor="end">5</text><text transform="translate(1719.9 857.7) rotate(-90)" font-size="56.5" text-anchor="middle">STRS [N m<tspan font-size="38" dy="-30">-2</tspan><tspan dy="30">]</tspan></text><path d="M1782.7 1686.2H2462.1M1782.7 1667H2462.1M1782.7 1647.8H2462.1M1782.7 1628.6H2462.1M1782.7 1590.2H2462.1M1782.7 1571H2462.1M1782.7 1551.8H2462.1M1782.7 1532.6H2462.1M1782.7 1494.2H2462.1M1782.7 1475H2462.1M1782.7 1455.8H2462.1M1782.7 1436.6H2462.1M1782.7 1398.2H2462.1M1782.7 1379H2462.1M1782.7 1359.8H2462.1M1782.7 1340.6H2462.1M1782.7 1302.2H2462.1M1782.7 1283H2462.1M1782.7 1263.8H2462.1M1782.7 1244.6H2462.1M1782.7 1206.2H2462.1M1782.7 1187H2462.1M1782.7 1167.8H2462.1M1797.6 1148.6V1705.4M1824.8 1148.6V1705.4M1852 1148.6V1705.4M1879.2 1148.6V1705.4M1933.5 1148.6V1705.4M1960.7 1148.6V1705.4M1987.9 1148.6V1705.4M2015.1 1148.6V1705.4M2069.4 1148.6V1705.4M2096.6 1148.6V1705.4M2123.8 1148.6V1705.4M2150.9 1148.6V1705.4M2205.3 1148.6V1705.4M2232.5 1148.6V1705.4M2259.6 1148.6V1705.4M2286.8 1148.6V1705.4M2341.2 1148.6V1705.4M2368.3 1148.6V1705.4M2395.5 1148.6V1705.4M2422.7 1148.6V1705.4" stroke="#7a7a7a" stroke-width="1.3" stroke-dasharray="1.5 1.5" fill="none" opacity="0.7"/><path d="M1782.7 1609.4H2462.1M1782.7 1513.4H2462.1M1782.7 1417.4H2462.1M1782.7 1321.4H2462.1M1782.7 1225.4H2462.1M1918.6 1148.6V1705.4M2054.5 1148.6V1705.4M2190.3 1148.6V1705.4M2326.2 1148.6V1705.4" stroke="#dcdcdc" stroke-width="1.4" fill="none"/><path d="M1856.5 1705.4V1148.6" stroke="#ff8a33" stroke-width="4.6" stroke-dasharray="18 18" fill="none"/><path d="M1868.8 1705.4V1148.6" stroke="#62addf" stroke-width="4.4" stroke-dasharray="18 18" fill="none"/><rect x="1835" y="1178" width="74" height="75" fill="#fff"/><text x="1872" y="1235" font-size="52" text-anchor="middle">(I)</text><path d="M1782.7 1687.4 L1794.7 1681 L1806.3 1654.1 L1811.4 1639.6 L1817.2 1606.5 L1822.4 1581.6 L1826.7 1549.9 L1831.9 1511.5 L1838.4 1496.1 L1844.1 1476 L1856.8 1415.5 L1869.4 1409.7 L1880.9 1421.2 L1894.7 1444.3 L1906.2 1472.1 L1919.8 1497.1 L1930 1520.1 L1941.5 1539.3 L1954.6 1558.5 L1966.3 1584.4 L1979.5 1600.8 L1991 1612 L2005.5 1620.7 L2018.6 1625.1 L2028.8 1626.5 L2042 1635.2 L2056.5 1639.6 L2068 1644 L2079.7 1647.6 L2091.4 1646.6 L2105.8 1651.6 L2117.8 1655.7 L2141.4 1661.6 L2178.9 1665.1 L2192.4 1663.7 L2206 1661.6 L2233.1 1664.1 L2260.3 1666.5 L2287.6 1669.4 L2328.3 1672.5 L2345.2 1673.2 L2396.3 1675.7 L2413.3 1676.3 L2425.1 1682 L2462.1 1684" stroke="#2a7bbf" stroke-width="6.2" fill="none" stroke-linejoin="round" clip-path="url(#pclip2)"/><path d="M1782.7 1614.9 L1789 1570 L1794.7 1520.1 L1800.5 1479.8 L1807.3 1388.6 L1819.9 1372.3 L1830.7 1335.8 L1842.2 1287.8 L1856.8 1256.1 L1869.4 1282 L1880.9 1332 L1892.6 1390.5 L1906.2 1432.8 L1919.8 1462.5 L1931.5 1499 L1943 1517.2 L1951.7 1537.9 L1959.1 1555.6 L1967.8 1579.6 L1979.5 1595 L1992.5 1607.5 L2005.5 1615.6 L2020.1 1621.4 L2034.6 1626.5 L2049.2 1631.6 L2065.2 1637.4 L2079.7 1641.8 L2091.4 1642.9 L2105.8 1645.5 L2127.8 1653.1 L2153.4 1656.2 L2178.9 1658.4 L2190.7 1657.4 L2202.6 1660.3 L2216.2 1660.8 L2233.1 1662.5 L2260.3 1665.1 L2287.6 1668 L2328.3 1671 L2345.2 1671.8 L2396.3 1674.4 L2413.3 1674.9 L2462.1 1677.8" stroke="#e2561a" stroke-width="6.2" fill="none" stroke-linejoin="round" clip-path="url(#pclip2)"/><rect x="2198.8" y="1173.3" width="238.5" height="111.3" fill="#fff" stroke="#262626" stroke-width="1.8"/><path d="M2208 1203.1H2301.5" stroke="#2a7bbf" stroke-width="6"/><path d="M2208 1254.9H2301.5" stroke="#e2561a" stroke-width="6"/><text x="2310" y="1220.3" font-size="44.5">Expt 1</text><text x="2310" y="1272.1" font-size="44.5">Expt 2</text><path d="M1782.7 1686.2h4.5M2462.1 1686.2h-4.5M1782.7 1667h4.5M2462.1 1667h-4.5M1782.7 1647.8h4.5M2462.1 1647.8h-4.5M1782.7 1628.6h4.5M2462.1 1628.6h-4.5M1782.7 1609.4h8M2462.1 1609.4h-8M1782.7 1590.2h4.5M2462.1 1590.2h-4.5M1782.7 1571h4.5M2462.1 1571h-4.5M1782.7 1551.8h4.5M2462.1 1551.8h-4.5M1782.7 1532.6h4.5M2462.1 1532.6h-4.5M1782.7 1513.4h8M2462.1 1513.4h-8M1782.7 1494.2h4.5M2462.1 1494.2h-4.5M1782.7 1475h4.5M2462.1 1475h-4.5M1782.7 1455.8h4.5M2462.1 1455.8h-4.5M1782.7 1436.6h4.5M2462.1 1436.6h-4.5M1782.7 1417.4h8M2462.1 1417.4h-8M1782.7 1398.2h4.5M2462.1 1398.2h-4.5M1782.7 1379h4.5M2462.1 1379h-4.5M1782.7 1359.8h4.5M2462.1 1359.8h-4.5M1782.7 1340.6h4.5M2462.1 1340.6h-4.5M1782.7 1321.4h8M2462.1 1321.4h-8M1782.7 1302.2h4.5M2462.1 1302.2h-4.5M1782.7 1283h4.5M2462.1 1283h-4.5M1782.7 1263.8h4.5M2462.1 1263.8h-4.5M1782.7 1244.6h4.5M2462.1 1244.6h-4.5M1782.7 1225.4h8M2462.1 1225.4h-8M1782.7 1206.2h4.5M2462.1 1206.2h-4.5M1782.7 1187h4.5M2462.1 1187h-4.5M1782.7 1167.8h4.5M2462.1 1167.8h-4.5M1797.6 1705.4v-5M1797.6 1148.6v5M1824.8 1705.4v-5M1824.8 1148.6v5M1852 1705.4v-5M1852 1148.6v5M1879.2 1705.4v-5M1879.2 1148.6v5M1933.5 1705.4v-5M1933.5 1148.6v5M1960.7 1705.4v-5M1960.7 1148.6v5M1987.9 1705.4v-5M1987.9 1148.6v5M2015.1 1705.4v-5M2015.1 1148.6v5M2069.4 1705.4v-5M2069.4 1148.6v5M2096.6 1705.4v-5M2096.6 1148.6v5M2123.8 1705.4v-5M2123.8 1148.6v5M2150.9 1705.4v-5M2150.9 1148.6v5M2205.3 1705.4v-5M2205.3 1148.6v5M2232.5 1705.4v-5M2232.5 1148.6v5M2259.6 1705.4v-5M2259.6 1148.6v5M2286.8 1705.4v-5M2286.8 1148.6v5M2341.2 1705.4v-5M2341.2 1148.6v5M2368.3 1705.4v-5M2368.3 1148.6v5M2395.5 1705.4v-5M2395.5 1148.6v5M2422.7 1705.4v-5M2422.7 1148.6v5M1918.6 1705.4v-9M1918.6 1148.6v9M2054.5 1705.4v-9M2054.5 1148.6v9M2190.3 1705.4v-9M2190.3 1148.6v9M2326.2 1705.4v-9M2326.2 1148.6v9" stroke="#222" stroke-width="2" fill="none"/><rect x="1782.7" y="1148.6" width="679.4" height="556.8" fill="none" stroke="#161616" stroke-width="2.1"/><text x="1765" y="1722.4" font-size="50" text-anchor="end">0</text><text x="1765" y="1626.4" font-size="50" text-anchor="end">1</text><text x="1765" y="1530.4" font-size="50" text-anchor="end">2</text><text x="1765" y="1434.4" font-size="50" text-anchor="end">3</text><text x="1765" y="1338.4" font-size="50" text-anchor="end">4</text><text x="1765" y="1242.4" font-size="50" text-anchor="end">5</text><text transform="translate(1719.9 1429) rotate(-90)" font-size="56.5" text-anchor="middle">STRS [N m<tspan font-size="38" dy="-30">-2</tspan><tspan dy="30">]</tspan></text><text x="103" y="64.9" font-size="52.5" text-anchor="end">11°S</text><text x="103" y="176.3" font-size="52.5" text-anchor="end">14°S</text><text x="103" y="287.6" font-size="52.5" text-anchor="end">17°S</text><text x="103" y="399" font-size="52.5" text-anchor="end">20°S</text><text x="103" y="510.4" font-size="52.5" text-anchor="end">23°S</text><text x="103" y="635.9" font-size="52.5" text-anchor="end">11°S</text><text x="103" y="747.3" font-size="52.5" text-anchor="end">14°S</text><text x="103" y="858.6" font-size="52.5" text-anchor="end">17°S</text><text x="103" y="970" font-size="52.5" text-anchor="end">20°S</text><text x="103" y="1081.4" font-size="52.5" text-anchor="end">23°S</text><text x="103" y="1207.2" font-size="52.5" text-anchor="end">11°S</text><text x="103" y="1318.6" font-size="52.5" text-anchor="end">14°S</text><text x="103" y="1429.9" font-size="52.5" text-anchor="end">17°S</text><text x="103" y="1541.3" font-size="52.5" text-anchor="end">20°S</text><text x="103" y="1652.7" font-size="52.5" text-anchor="end">23°S</text><text x="210.6" y="1773.8" font-size="52.5" text-anchor="middle">107°E</text><text x="437" y="1773.8" font-size="52.5" text-anchor="middle">112°E</text><text x="663.4" y="1773.8" font-size="52.5" text-anchor="middle">117°E</text><text x="929.2" y="1773.8" font-size="52.5" text-anchor="middle">107°E</text><text x="1155.6" y="1773.8" font-size="52.5" text-anchor="middle">112°E</text><text x="1382" y="1773.8" font-size="52.5" text-anchor="middle">117°E</text><text x="1782.7" y="1768" font-size="50" text-anchor="middle">0</text><text x="1918.6" y="1768" font-size="50" text-anchor="middle">100</text><text x="2054.5" y="1768" font-size="50" text-anchor="middle">200</text><text x="2190.3" y="1768" font-size="50" text-anchor="middle">300</text><text x="2326.2" y="1768" font-size="50" text-anchor="middle">400</text><text x="2462.1" y="1768" font-size="50" text-anchor="middle">500</text><text x="2121.4" y="1831" font-size="53" text-anchor="middle">D [km]</text></svg></body></html>
